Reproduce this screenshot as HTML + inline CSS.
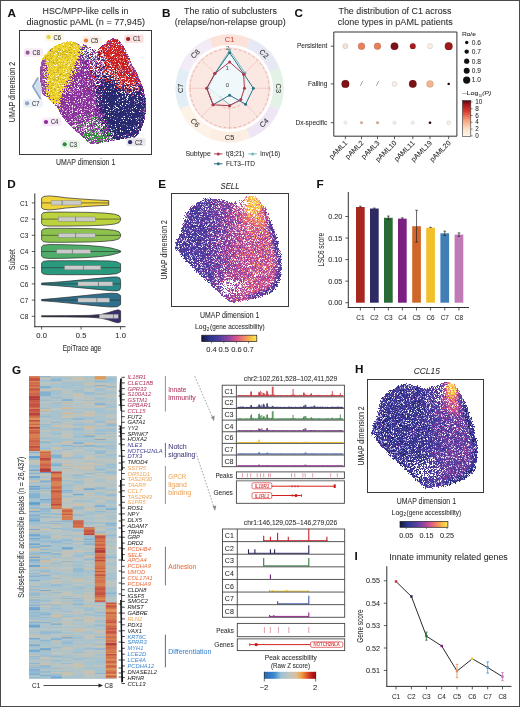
<!DOCTYPE html>
<html><head><meta charset="utf-8"><style>
html,body{margin:0;padding:0;background:#fff;}
svg{display:block;filter:blur(0.3px);}
text{font-family:"Liberation Sans", sans-serif;stroke-width:0.06px;}
.d1{stroke-width:1;stroke-linecap:square;fill:none}
.g3{stroke-width:3;stroke-linecap:square;fill:none}
.g4{stroke-width:4;stroke-linecap:square;fill:none}
.g2{stroke-width:2;stroke-linecap:square;fill:none}
</style></head><body>
<svg width="520" height="707" viewBox="0 0 520 707" fill="#2b2b2b" stroke="none">
<rect width="520" height="707" fill="#fff"/>
<text x="7.50" y="17.10" font-size="11.7" fill="#111" stroke="#111" font-weight="bold">A</text>
<text x="162.00" y="17.10" font-size="11.7" fill="#111" stroke="#111" font-weight="bold">B</text>
<text x="294.50" y="17.10" font-size="11.7" fill="#111" stroke="#111" font-weight="bold">C</text>
<text x="7.30" y="187.80" font-size="11.7" fill="#111" stroke="#111" font-weight="bold">D</text>
<text x="158.20" y="187.80" font-size="11.7" fill="#111" stroke="#111" font-weight="bold">E</text>
<text x="316.40" y="188.00" font-size="11.7" fill="#111" stroke="#111" font-weight="bold">F</text>
<text x="12.00" y="373.60" font-size="11.7" fill="#111" stroke="#111" font-weight="bold">G</text>
<text x="355.00" y="373.20" font-size="11.7" fill="#111" stroke="#111" font-weight="bold">H</text>
<text x="354.60" y="559.50" font-size="11.7" fill="#111" stroke="#111" font-weight="bold">I</text>
<text x="85.50" y="14.40" font-size="8.5" text-anchor="middle" stroke="#2b2b2b" textLength="86" lengthAdjust="spacingAndGlyphs">HSC/MPP-like cells in</text>
<text x="85.80" y="24.60" font-size="8.5" text-anchor="middle" stroke="#2b2b2b" textLength="118.5" lengthAdjust="spacingAndGlyphs">diagnostic pAML (n = 77,945)</text>
<text x="85.60" y="165.20" font-size="8.8" text-anchor="middle" stroke="#2b2b2b" textLength="59.4" lengthAdjust="spacingAndGlyphs">UMAP dimension 1</text>
<text x="14.90" y="92.00" font-size="9.3" text-anchor="middle" stroke="#2b2b2b" textLength="60.3" lengthAdjust="spacingAndGlyphs" transform="rotate(-90 14.90 92.00)">UMAP dimension 2</text>
<path class="d1" stroke="#9236a4" d="M112.5 38.5h0m1 0h0m-1 1h0m5 0h0m-2 1h0m-8 2h0m2 0h0m1 0h0m10 0h0m-13 1h0m1 0h0m9 0h0m-39 1h0m5 0h0m21 0h0m1 0h0m4 0h0m1 0h0m-27 1h0m1 0h0m1 0h0m24 0h0m8 0h0m5 0h0m-20 1h0m1 0h0m18 0h0m-39 1h0m8 0h0m13 0h0m4 0h0m12 0h0m-37 1h0m2 0h0m37 0h0m2 0h0m1 0h0m-43 1h0m5 0h0m-36 1h0m42 0h0m1 0h0m10 0h0m19 0h0m-41 1h0m42 0h0m-45 1h0m1 0h0m12 0h0m1 0h0m2 0h0m3 0h0m28 0h0m-41 1h0m6 0h0m5 0h0m3 0h0m27 0h0m-1 1h0m2 0h0m-46 1h0m6 0h0m13 0h0m-21 1h0m4 0h0m3 0h0m2 0h0m4 0h0m10 0h0m27 0h0m-49 1h0m1 0h0m3 0h0m5 0h0m5 0h0m9 0h0m1 0h0m14 0h0m-37 1h0m1 0h0m46 0h0m-47 1h0m1 0h0m2 0h0m10 0h0m32 0h0m-47 1h0m2 0h0m1 0h0m2 0h0m2 0h0m1 0h0m2 0h0m4 0h0m1 0h0m34 0h0m-84 1h0m33 0h0m4 0h0m2 0h0m1 0h0m1 0h0m4 0h0m3 0h0m-15 1h0m1 0h0m4 0h0m2 0h0m2 0h0m1 0h0m2 0h0m3 0h0m4 0h0m6 0h0m27 0h0m2 0h0m-55 1h0m2 0h0m1 0h0m2 0h0m2 0h0m1 0h0m3 0h0m3 0h0m1 0h0m5 0h0m3 0h0m2 0h0m11 0h0m17 0h0m-52 1h0m1 0h0m3 0h0m1 0h0m2 0h0m2 0h0m3 0h0m3 0h0m5 0h0m34 0h0m-87 1h0m1 0h0m2 0h0m28 0h0m2 0h0m2 0h0m3 0h0m2 0h0m3 0h0m1 0h0m1 0h0m43 0h0m-85 1h0m29 0h0m5 0h0m3 0h0m1 0h0m4 0h0m3 0h0m-45 1h0m29 0h0m1 0h0m1 0h0m1 0h0m1 0h0m1 0h0m1 0h0m2 0h0m1 0h0m1 0h0m1 0h0m2 0h0m1 0h0m1 0h0m2 0h0m41 0h0m-58 1h0m2 0h0m5 0h0m2 0h0m7 0h0m42 0h0m-57 1h0m1 0h0m6 0h0m3 0h0m2 0h0m1 0h0m43 0h0m-89 1h0m4 0h0m27 0h0m7 0h0m1 0h0m1 0h0m4 0h0m2 0h0m9 0h0m35 0h0m2 0h0m-63 1h0m4 0h0m1 0h0m3 0h0m2 0h0m1 0h0m2 0h0m1 0h0m2 0h0m1 0h0m4 0h0m3 0h0m38 0h0m1 0h0m-62 1h0m4 0h0m3 0h0m2 0h0m2 0h0m1 0h0m1 0h0m1 0h0m7 0h0m34 0h0m4 0h0m-92 1h0m36 0h0m1 0h0m1 0h0m1 0h0m1 0h0m1 0h0m1 0h0m3 0h0m2 0h0m2 0h0m2 0h0m40 0h0m3 0h0m1 0h0m-65 1h0m3 0h0m1 0h0m2 0h0m1 0h0m1 0h0m1 0h0m1 0h0m1 0h0m2 0h0m2 0h0m3 0h0m1 0h0m1 0h0m1 0h0m2 0h0m39 0h0m4 0h0m1 0h0m-92 1h0m27 0h0m1 0h0m1 0h0m1 0h0m1 0h0m1 0h0m1 0h0m1 0h0m1 0h0m2 0h0m4 0h0m2 0h0m1 0h0m1 0h0m1 0h0m2 0h0m3 0h0m3 0h0m38 0h0m-67 1h0m1 0h0m2 0h0m1 0h0m1 0h0m1 0h0m1 0h0m1 0h0m1 0h0m1 0h0m3 0h0m5 0h0m1 0h0m2 0h0m2 0h0m-24 1h0m3 0h0m3 0h0m1 0h0m3 0h0m3 0h0m1 0h0m1 0h0m3 0h0m2 0h0m3 0h0m40 0h0m-87 1h0m25 0h0m6 0h0m2 0h0m1 0h0m1 0h0m3 0h0m1 0h0m3 0h0m1 0h0m2 0h0m4 0h0m44 0h0m-98 1h0m32 0h0m2 0h0m2 0h0m1 0h0m4 0h0m3 0h0m1 0h0m9 0h0m3 0h0m6 0h0m33 0h0m2 0h0m1 0h0m-71 1h0m1 0h0m1 0h0m1 0h0m4 0h0m4 0h0m1 0h0m1 0h0m1 0h0m1 0h0m3 0h0m4 0h0m2 0h0m1 0h0m2 0h0m4 0h0m3 0h0m5 0h0m-67 1h0m26 0h0m1 0h0m5 0h0m1 0h0m1 0h0m5 0h0m1 0h0m4 0h0m2 0h0m3 0h0m2 0h0m3 0h0m4 0h0m4 0h0m1 0h0m33 0h0m-93 1h0m3 0h0m21 0h0m2 0h0m1 0h0m1 0h0m5 0h0m2 0h0m1 0h0m1 0h0m1 0h0m2 0h0m1 0h0m2 0h0m1 0h0m2 0h0m1 0h0m2 0h0m1 0h0m3 0h0m-55 1h0m30 0h0m3 0h0m2 0h0m1 0h0m1 0h0m2 0h0m1 0h0m1 0h0m2 0h0m1 0h0m1 0h0m2 0h0m5 0h0m-47 1h0m18 0h0m8 0h0m4 0h0m1 0h0m6 0h0m1 0h0m1 0h0m1 0h0m3 0h0m5 0h0m8 0h0m34 0h0m4 0h0m1 0h0m-98 1h0m23 0h0m1 0h0m1 0h0m1 0h0m1 0h0m1 0h0m2 0h0m4 0h0m1 0h0m3 0h0m3 0h0m2 0h0m6 0h0m8 0h0m40 0h0m-93 1h0m17 0h0m2 0h0m1 0h0m5 0h0m1 0h0m2 0h0m1 0h0m2 0h0m2 0h0m1 0h0m1 0h0m3 0h0m2 0h0m2 0h0m3 0h0m1 0h0m43 0h0m6 0h0m-75 1h0m4 0h0m2 0h0m1 0h0m3 0h0m4 0h0m2 0h0m2 0h0m4 0h0m1 0h0m1 0h0m3 0h0m2 0h0m-30 1h0m4 0h0m1 0h0m1 0h0m3 0h0m4 0h0m4 0h0m1 0h0m1 0h0m1 0h0m1 0h0m2 0h0m5 0h0m3 0h0m42 0h0m-77 1h0m6 0h0m3 0h0m1 0h0m2 0h0m1 0h0m1 0h0m1 0h0m1 0h0m2 0h0m3 0h0m3 0h0m2 0h0m2 0h0m1 0h0m2 0h0m42 0h0m4 0h0m3 0h0m1 0h0m-95 1h0m16 0h0m6 0h0m1 0h0m1 0h0m1 0h0m2 0h0m1 0h0m2 0h0m2 0h0m2 0h0m1 0h0m1 0h0m1 0h0m2 0h0m3 0h0m2 0h0m1 0h0m3 0h0m46 0h0m-99 1h0m1 0h0m20 0h0m1 0h0m2 0h0m1 0h0m4 0h0m2 0h0m2 0h0m2 0h0m4 0h0m2 0h0m1 0h0m1 0h0m1 0h0m1 0h0m2 0h0m9 0h0m-54 1h0m19 0h0m2 0h0m2 0h0m3 0h0m2 0h0m2 0h0m1 0h0m1 0h0m1 0h0m1 0h0m1 0h0m3 0h0m1 0h0m1 0h0m2 0h0m1 0h0m1 0h0m2 0h0m2 0h0m1 0h0m1 0h0m5 0h0m43 0h0m-96 1h0m15 0h0m5 0h0m1 0h0m4 0h0m3 0h0m3 0h0m2 0h0m2 0h0m1 0h0m2 0h0m1 0h0m1 0h0m1 0h0m1 0h0m1 0h0m3 0h0m1 0h0m3 0h0m-53 1h0m3 0h0m16 0h0m1 0h0m6 0h0m6 0h0m2 0h0m2 0h0m3 0h0m2 0h0m1 0h0m1 0h0m1 0h0m1 0h0m3 0h0m2 0h0m3 0h0m1 0h0m42 0h0m2 0h0m2 0h0m-99 1h0m17 0h0m1 0h0m2 0h0m2 0h0m1 0h0m1 0h0m1 0h0m2 0h0m1 0h0m1 0h0m3 0h0m1 0h0m1 0h0m2 0h0m2 0h0m4 0h0m3 0h0m1 0h0m1 0h0m5 0h0m1 0h0m40 0h0m6 0h0m-97 1h0m1 0h0m16 0h0m1 0h0m1 0h0m1 0h0m3 0h0m2 0h0m5 0h0m1 0h0m5 0h0m2 0h0m4 0h0m1 0h0m1 0h0m1 0h0m1 0h0m2 0h0m2 0h0m-48 1h0m12 0h0m3 0h0m1 0h0m1 0h0m1 0h0m2 0h0m1 0h0m1 0h0m1 0h0m1 0h0m1 0h0m1 0h0m1 0h0m2 0h0m1 0h0m1 0h0m2 0h0m1 0h0m1 0h0m2 0h0m1 0h0m1 0h0m2 0h0m1 0h0m-31 1h0m2 0h0m1 0h0m1 0h0m2 0h0m1 0h0m4 0h0m1 0h0m1 0h0m1 0h0m2 0h0m2 0h0m1 0h0m1 0h0m1 0h0m1 0h0m4 0h0m1 0h0m1 0h0m1 0h0m1 0h0m5 0h0m2 0h0m1 0h0m44 0h0m-83 1h0m5 0h0m2 0h0m3 0h0m2 0h0m1 0h0m2 0h0m2 0h0m3 0h0m2 0h0m1 0h0m1 0h0m1 0h0m2 0h0m2 0h0m1 0h0m3 0h0m1 0h0m52 0h0m-89 1h0m4 0h0m1 0h0m1 0h0m2 0h0m1 0h0m2 0h0m1 0h0m2 0h0m1 0h0m1 0h0m1 0h0m3 0h0m2 0h0m3 0h0m1 0h0m2 0h0m1 0h0m2 0h0m1 0h0m1 0h0m1 0h0m2 0h0m3 0h0m4 0h0m-39 1h0m3 0h0m1 0h0m4 0h0m2 0h0m1 0h0m1 0h0m4 0h0m1 0h0m1 0h0m1 0h0m3 0h0m1 0h0m1 0h0m1 0h0m3 0h0m2 0h0m4 0h0m1 0h0m2 0h0m2 0h0m1 0h0m-47 1h0m8 0h0m1 0h0m3 0h0m1 0h0m1 0h0m1 0h0m4 0h0m1 0h0m3 0h0m1 0h0m2 0h0m2 0h0m3 0h0m1 0h0m1 0h0m4 0h0m1 0h0m3 0h0m1 0h0m5 0h0m34 0h0m7 0h0m-88 1h0m3 0h0m4 0h0m3 0h0m1 0h0m1 0h0m3 0h0m1 0h0m2 0h0m1 0h0m1 0h0m4 0h0m1 0h0m3 0h0m3 0h0m6 0h0m1 0h0m1 0h0m2 0h0m1 0h0m1 0h0m1 0h0m6 0h0m39 0h0m2 0h0m-83 1h0m1 0h0m1 0h0m1 0h0m1 0h0m1 0h0m1 0h0m2 0h0m3 0h0m1 0h0m1 0h0m1 0h0m1 0h0m1 0h0m1 0h0m1 0h0m1 0h0m2 0h0m1 0h0m2 0h0m2 0h0m1 0h0m1 0h0m4 0h0m2 0h0m8 0h0m-48 1h0m1 0h0m4 0h0m1 0h0m2 0h0m1 0h0m1 0h0m1 0h0m2 0h0m2 0h0m1 0h0m3 0h0m4 0h0m2 0h0m4 0h0m2 0h0m1 0h0m3 0h0m1 0h0m16 0h0m38 0h0m-84 1h0m1 0h0m3 0h0m1 0h0m1 0h0m1 0h0m2 0h0m3 0h0m4 0h0m1 0h0m2 0h0m2 0h0m3 0h0m1 0h0m1 0h0m3 0h0m1 0h0m3 0h0m4 0h0m5 0h0m40 0h0m2 0h0m-88 1h0m2 0h0m2 0h0m1 0h0m1 0h0m1 0h0m3 0h0m2 0h0m1 0h0m1 0h0m4 0h0m1 0h0m1 0h0m1 0h0m3 0h0m1 0h0m3 0h0m5 0h0m2 0h0m1 0h0m1 0h0m2 0h0m1 0h0m3 0h0m-42 1h0m2 0h0m1 0h0m2 0h0m1 0h0m1 0h0m2 0h0m1 0h0m2 0h0m1 0h0m3 0h0m2 0h0m1 0h0m2 0h0m2 0h0m1 0h0m4 0h0m4 0h0m1 0h0m3 0h0m2 0h0m6 0h0m43 0h0m-86 1h0m2 0h0m3 0h0m2 0h0m2 0h0m2 0h0m4 0h0m1 0h0m1 0h0m2 0h0m1 0h0m4 0h0m5 0h0m1 0h0m1 0h0m2 0h0m2 0h0m2 0h0m47 0h0m-83 1h0m1 0h0m1 0h0m2 0h0m1 0h0m8 0h0m1 0h0m1 0h0m1 0h0m2 0h0m3 0h0m1 0h0m1 0h0m1 0h0m1 0h0m1 0h0m1 0h0m1 0h0m4 0h0m2 0h0m1 0h0m7 0h0m43 0h0m-86 1h0m1 0h0m1 0h0m3 0h0m3 0h0m4 0h0m3 0h0m4 0h0m1 0h0m1 0h0m3 0h0m2 0h0m2 0h0m2 0h0m4 0h0m1 0h0m1 0h0m1 0h0m3 0h0m41 0h0m4 0h0m-84 1h0m2 0h0m3 0h0m1 0h0m1 0h0m2 0h0m1 0h0m3 0h0m6 0h0m1 0h0m5 0h0m1 0h0m3 0h0m4 0h0m3 0h0m5 0h0m40 0h0m-81 1h0m3 0h0m2 0h0m2 0h0m1 0h0m1 0h0m3 0h0m2 0h0m1 0h0m2 0h0m1 0h0m2 0h0m1 0h0m1 0h0m1 0h0m1 0h0m1 0h0m2 0h0m2 0h0m1 0h0m3 0h0m1 0h0m1 0h0m2 0h0m1 0h0m1 0h0m6 0h0m38 0h0m-82 1h0m2 0h0m2 0h0m2 0h0m1 0h0m2 0h0m1 0h0m1 0h0m1 0h0m1 0h0m1 0h0m1 0h0m1 0h0m1 0h0m3 0h0m3 0h0m4 0h0m3 0h0m2 0h0m2 0h0m1 0h0m1 0h0m1 0h0m2 0h0m1 0h0m1 0h0m38 0h0m-77 1h0m3 0h0m1 0h0m4 0h0m1 0h0m1 0h0m1 0h0m1 0h0m1 0h0m3 0h0m2 0h0m1 0h0m3 0h0m1 0h0m1 0h0m2 0h0m1 0h0m1 0h0m1 0h0m1 0h0m4 0h0m1 0h0m4 0h0m2 0h0m-41 1h0m1 0h0m2 0h0m1 0h0m1 0h0m1 0h0m1 0h0m4 0h0m3 0h0m2 0h0m3 0h0m5 0h0m2 0h0m1 0h0m1 0h0m2 0h0m2 0h0m3 0h0m1 0h0m1 0h0m2 0h0m1 0h0m38 0h0m3 0h0m-81 1h0m1 0h0m1 0h0m2 0h0m3 0h0m1 0h0m1 0h0m1 0h0m4 0h0m1 0h0m2 0h0m2 0h0m2 0h0m2 0h0m1 0h0m2 0h0m8 0h0m1 0h0m3 0h0m40 0h0m3 0h0m-80 1h0m2 0h0m1 0h0m1 0h0m1 0h0m1 0h0m2 0h0m1 0h0m2 0h0m1 0h0m2 0h0m1 0h0m2 0h0m1 0h0m5 0h0m1 0h0m3 0h0m2 0h0m3 0h0m4 0h0m-35 1h0m1 0h0m1 0h0m1 0h0m1 0h0m1 0h0m5 0h0m1 0h0m2 0h0m3 0h0m1 0h0m1 0h0m2 0h0m1 0h0m1 0h0m1 0h0m2 0h0m1 0h0m4 0h0m2 0h0m2 0h0m4 0h0m41 0h0m-79 1h0m2 0h0m2 0h0m2 0h0m3 0h0m2 0h0m1 0h0m2 0h0m1 0h0m4 0h0m2 0h0m1 0h0m1 0h0m3 0h0m8 0h0m3 0h0m2 0h0m-38 1h0m5 0h0m1 0h0m6 0h0m2 0h0m1 0h0m5 0h0m3 0h0m6 0h0m2 0h0m2 0h0m7 0h0m1 0h0m-37 1h0m1 0h0m2 0h0m2 0h0m1 0h0m1 0h0m3 0h0m1 0h0m1 0h0m3 0h0m6 0h0m9 0h0m2 0h0m4 0h0m34 0h0m-72 1h0m1 0h0m1 0h0m2 0h0m1 0h0m1 0h0m2 0h0m1 0h0m1 0h0m1 0h0m1 0h0m2 0h0m7 0h0m2 0h0m4 0h0m46 0h0m-72 1h0m1 0h0m1 0h0m1 0h0m4 0h0m5 0h0m9 0h0m4 0h0m1 0h0m7 0h0m7 0h0m-39 1h0m7 0h0m2 0h0m3 0h0m3 0h0m4 0h0m1 0h0m2 0h0m1 0h0m6 0h0m3 0h0m5 0h0m30 0h0m4 0h0m1 0h0m-66 1h0m1 0h0m10 0h0m1 0h0m4 0h0m2 0h0m-22 1h0m1 0h0m4 0h0m2 0h0m2 0h0m1 0h0m8 0h0m2 0h0m7 0h0m5 0h0m37 0h0m-64 1h0m13 0h0m2 0h0m3 0h0m1 0h0m2 0h0m8 0h0m2 0h0m1 0h0m28 0h0m3 0h0m-62 1h0m2 0h0m4 0h0m3 0h0m3 0h0m3 0h0m2 0h0m1 0h0m7 0h0m2 0h0m1 0h0m31 0h0m-62 1h0m1 0h0m1 0h0m3 0h0m5 0h0m3 0h0m3 0h0m2 0h0m11 0h0m32 0h0m-60 1h0m2 0h0m2 0h0m12 0h0m1 0h0m1 0h0m6 0h0m1 0h0m4 0h0m2 0h0m1 0h0m-30 1h0m8 0h0m19 0h0m1 0h0m32 0h0m-58 1h0m1 0h0m4 0h0m14 0h0m3 0h0m31 0h0m3 0h0m-56 1h0m1 0h0m11 0h0m9 0h0m4 0h0m21 0h0m1 0h0m-46 1h0m1 0h0m13 0h0m9 0h0m28 0h0m-49 1h0m3 0h0m3 0h0m17 0h0m2 0h0m10 0h0m5 0h0m12 0h0m-48 1h0m9 0h0m-2 1h0m7 0h0m7 0h0m3 0h0m14 0h0m-20 1h0m4 0h0m2 0h0m1 0h0m16 0h0m-40 1h0m1 0h0m2 0h0m3 0h0m1 0h0m1 0h0m3 0h0m1 0h0m4 0h0m9 0h0m-22 1h0m1 0h0m1 0h0m2 0h0m-3 1h0m2 0h0m4 0h0m1 0h0m1 0h0m-10 1h0m1 0h0m1 0h0m1 0h0m3 0h0"/>
<path class="d1" stroke="#c390cd" d="M110.5 39.5h0m-1 1h0m-1 2h0m9 0h0m3 1h0m-34 2h0m19 0h0m-25 1h0m1 1h0m20 1h0m-11 3h0m35 0h0m-32 1h0m2 0h0m-12 3h0m-2 1h0m3 0h0m14 1h0m-14 1h0m9 0h0m34 1h0m-43 1h0m5 0h0m2 0h0m-10 1h0m11 0h0m-16 2h0m5 0h0m6 0h0m1 0h0m-4 1h0m18 0h0m-25 1h0m3 0h0m4 0h0m1 0h0m7 0h0m-1 2h0m3 0h0m37 0h0m-87 1h0m35 0h0m9 0h0m43 0h0m-84 1h0m28 0h0m3 0h0m2 0h0m2 0h0m2 0h0m50 0h0m-57 1h0m9 0h0m7 0h0m4 0h0m6 0h0m29 0h0m-53 1h0m5 0h0m8 0h0m-17 1h0m4 0h0m52 0h0m-47 1h0m2 0h0m-40 1h0m36 0h0m2 0h0m-44 1h0m95 0h0m1 1h0m2 0h0m-53 1h0m6 0h0m42 0h0m5 0h0m-63 1h0m6 0h0m-2 1h0m1 0h0m3 0h0m4 0h0m1 0h0m-4 1h0m5 0h0m-12 1h0m1 0h0m4 0h0m3 0h0m7 0h0m-52 1h0m2 0h0m30 0h0m10 0h0m6 0h0m12 0h0m40 0h0m-72 1h0m7 0h0m8 0h0m4 0h0m3 0h0m2 0h0m43 0h0m-88 1h0m21 0h0m3 0h0m3 0h0m5 0h0m3 0h0m10 0h0m3 0h0m-10 1h0m3 0h0m1 0h0m-15 1h0m5 0h0m-7 1h0m12 0h0m2 0h0m11 0h0m-33 1h0m9 0h0m1 0h0m2 0h0m5 0h0m9 0h0m2 0h0m-22 1h0m11 0h0m-7 1h0m5 0h0m2 0h0m57 0h0m-68 1h0m1 0h0m2 0h0m2 0h0m6 0h0m14 0h0m-32 1h0m9 0h0m14 0h0m6 0h0m-21 1h0m6 0h0m2 0h0m12 0h0m-20 1h0m4 0h0m2 0h0m2 0h0m3 0h0m11 0h0m-32 1h0m21 0h0m3 0h0m4 0h0m-21 1h0m5 0h0m1 0h0m1 0h0m1 0h0m6 0h0m5 0h0m7 0h0m-5 1h0m5 0h0m2 0h0m47 0h0m-74 1h0m6 0h0m19 0h0m-9 1h0m9 0h0m1 0h0m-32 1h0m6 0h0m11 0h0m-15 1h0m2 0h0m6 0h0m16 0h0m3 0h0m1 0h0m48 0h0m-67 1h0m6 0h0m2 0h0m6 0h0m5 0h0m-23 1h0m5 0h0m1 0h0m6 0h0m3 0h0m3 0h0m1 0h0m13 0h0m-44 1h0m12 0h0m11 0h0m9 0h0m4 0h0m-36 1h0m4 0h0m15 0h0m5 0h0m11 0h0m2 0h0m-36 1h0m5 0h0m7 0h0m3 0h0m1 0h0m4 0h0m2 0h0m3 0h0m5 0h0m3 0h0m3 0h0m-29 1h0m6 0h0m-3 1h0m3 0h0m6 0h0m2 0h0m4 0h0m5 0h0m4 0h0m5 0h0m5 0h0m-43 1h0m2 0h0m1 0h0m4 0h0m2 0h0m3 0h0m12 0h0m1 0h0m1 0h0m1 0h0m-24 1h0m3 0h0m4 0h0m1 0h0m6 0h0m14 0h0m2 0h0m-31 1h0m4 0h0m6 0h0m5 0h0m7 0h0m6 0h0m8 0h0m-37 1h0m16 0h0m5 0h0m1 0h0m11 0h0m51 0h0m-79 1h0m5 0h0m-2 1h0m10 0h0m4 0h0m4 0h0m3 0h0m2 0h0m7 0h0m-37 1h0m3 0h0m3 0h0m2 0h0m18 0h0m6 0h0m-23 1h0m4 0h0m1 0h0m16 0h0m2 0h0m3 0h0m-28 1h0m5 0h0m2 0h0m3 0h0m4 0h0m10 0h0m-28 1h0m12 0h0m3 0h0m3 0h0m2 0h0m17 0h0m-28 1h0m18 0h0m1 0h0m8 0h0m-29 1h0m9 0h0m1 0h0m15 0h0m1 0h0m-29 1h0m4 0h0m4 0h0m21 0h0m5 0h0m-36 1h0m1 0h0m1 0h0m30 0h0m-13 1h0m6 0h0m5 0h0m-8 1h0m17 0h0m-34 1h0m12 0h0m4 0h0m13 0h0m-30 1h0m2 0h0m1 0h0m10 0h0m13 0h0m40 0h0m-61 1h0m12 0h0m6 0h0m6 0h0m-21 1h0m2 1h0m2 0h0m19 0h0m-15 1h0m52 0h0m-62 1h0m13 0h0m9 0h0m-22 1h0m10 0h0m7 0h0m1 0h0m5 0h0m30 0h0m-51 1h0m11 0h0m8 0h0m-15 1h0m0 1h0m27 1h0m-20 1h0m8 0h0m-7 1h0m2 0h0m35 0h0m2 0h0m-35 1h0m5 0h0m6 0h0m-16 1h0m13 0h0m9 0h0m2 0h0m-26 1h0m18 0h0m-10 1h0"/>
<path class="d1" stroke="#b41f1f" d="M111.5 39.5h0m2 0h0m-5 1h0m6 0h0m2 0h0m1 0h0m-2 1h0m1 0h0m1 0h0m2 2h0m-13 1h0m1 0h0m-4 1h0m3 0h0m5 0h0m1 0h0m-11 1h0m5 0h0m8 0h0m-14 2h0m6 0h0m6 0h0m4 0h0m6 0h0m-24 1h0m14 0h0m-7 1h0m4 0h0m10 0h0m-21 1h0m5 0h0m6 0h0m3 0h0m1 0h0m2 0h0m2 0h0m4 0h0m-23 1h0m6 0h0m7 0h0m8 0h0m1 0h0m3 0h0m-19 1h0m13 0h0m3 0h0m4 0h0m-17 1h0m8 0h0m1 0h0m2 0h0m1 0h0m4 0h0m2 0h0m-20 1h0m8 0h0m2 0h0m4 0h0m1 0h0m4 0h0m1 0h0m-3 1h0m-21 1h0m9 0h0m1 0h0m-14 1h0m12 0h0m2 0h0m1 0h0m4 0h0m5 0h0m8 0h0m-32 1h0m6 0h0m17 0h0m2 0h0m-15 1h0m4 0h0m2 0h0m5 0h0m7 0h0m-11 1h0m3 0h0m4 0h0m4 0h0m1 0h0m-29 1h0m10 0h0m9 0h0m1 0h0m2 0h0m7 0h0m-18 1h0m5 0h0m3 0h0m6 0h0m1 0h0m2 0h0m2 0h0m-29 1h0m7 0h0m6 0h0m2 0h0m4 0h0m5 0h0m1 0h0m4 0h0m-15 1h0m2 0h0m1 0h0m1 0h0m2 0h0m9 0h0m-17 1h0m5 0h0m8 0h0m2 0h0m3 0h0m-24 1h0m6 0h0m1 0h0m1 0h0m5 0h0m2 0h0m4 0h0m1 0h0m-18 1h0m9 0h0m2 0h0m1 0h0m4 0h0m2 0h0m2 0h0m1 0h0m2 0h0m-31 1h0m21 0h0m4 0h0m2 0h0m2 0h0m-12 1h0m6 0h0m-17 1h0m13 0h0m2 0h0m4 0h0m2 0h0m1 0h0m1 0h0m3 0h0m3 0h0m-26 1h0m6 0h0m3 0h0m4 0h0m4 0h0m9 0h0m-38 1h0m15 0h0m3 0h0m7 0h0m1 0h0m2 0h0m3 0h0m1 0h0m-6 1h0m3 0h0m1 0h0m2 0h0m4 0h0m2 0h0m-20 1h0m5 0h0m3 0h0m11 0h0m4 0h0m-27 1h0m3 0h0m14 0h0m6 0h0m-13 1h0m3 0h0m9 0h0m-4 1h0m9 0h0m-46 1h0m19 0h0m14 0h0m7 0h0m5 0h0m-39 1h0m14 0h0m6 0h0m3 0h0m3 0h0m2 0h0m1 0h0m4 0h0m9 0h0m-15 1h0m8 0h0m4 0h0m-11 1h0m4 0h0m6 0h0m2 0h0m-33 1h0m23 0h0m-25 1h0m21 0h0m5 0h0m3 0h0m-7 1h0m8 1h0m-5 1h0m13 0h0m-51 1h0m32 0h0m14 0h0m-10 1h0m7 0h0m2 0h0m-8 1h0"/>
<path class="d1" stroke="#d42525" d="M114.5 39.5h0m1 0h0m-3 1h0m1 0h0m-6 1h0m1 0h0m1 0h0m1 0h0m1 0h0m1 0h0m1 0h0m1 0h0m-3 1h0m3 0h0m2 0h0m2 0h0m-9 1h0m1 0h0m1 0h0m1 0h0m1 0h0m2 0h0m3 0h0m-10 1h0m5 0h0m1 0h0m1 0h0m2 0h0m-13 1h0m3 0h0m3 0h0m4 0h0m1 0h0m1 0h0m2 0h0m1 0h0m-14 1h0m3 0h0m3 0h0m1 0h0m1 0h0m2 0h0m2 0h0m1 0h0m1 0h0m1 0h0m2 0h0m-22 1h0m1 0h0m1 0h0m2 0h0m5 0h0m1 0h0m1 0h0m2 0h0m1 0h0m1 0h0m1 0h0m1 0h0m1 0h0m2 0h0m3 0h0m-21 1h0m2 0h0m1 0h0m4 0h0m1 0h0m4 0h0m4 0h0m1 0h0m1 0h0m-18 1h0m1 0h0m2 0h0m1 0h0m2 0h0m2 0h0m1 0h0m3 0h0m1 0h0m1 0h0m1 0h0m1 0h0m1 0h0m3 0h0m1 0h0m1 0h0m-20 1h0m3 0h0m1 0h0m2 0h0m1 0h0m2 0h0m1 0h0m1 0h0m1 0h0m1 0h0m1 0h0m3 0h0m2 0h0m2 0h0m-32 1h0m6 0h0m5 0h0m3 0h0m1 0h0m2 0h0m8 0h0m2 0h0m2 0h0m-22 1h0m5 0h0m1 0h0m1 0h0m1 0h0m2 0h0m2 0h0m2 0h0m1 0h0m2 0h0m1 0h0m3 0h0m1 0h0m2 0h0m-25 1h0m1 0h0m1 0h0m4 0h0m1 0h0m1 0h0m1 0h0m1 0h0m1 0h0m1 0h0m1 0h0m1 0h0m1 0h0m1 0h0m1 0h0m2 0h0m4 0h0m-32 1h0m10 0h0m4 0h0m2 0h0m2 0h0m1 0h0m2 0h0m6 0h0m4 0h0m6 0h0m-30 1h0m1 0h0m8 0h0m1 0h0m1 0h0m1 0h0m5 0h0m2 0h0m1 0h0m1 0h0m3 0h0m1 0h0m1 0h0m3 0h0m-31 1h0m2 0h0m3 0h0m2 0h0m4 0h0m1 0h0m1 0h0m1 0h0m1 0h0m2 0h0m1 0h0m1 0h0m1 0h0m1 0h0m2 0h0m1 0h0m2 0h0m3 0h0m1 0h0m2 0h0m-37 1h0m5 0h0m4 0h0m7 0h0m2 0h0m4 0h0m1 0h0m2 0h0m3 0h0m4 0h0m2 0h0m2 0h0m1 0h0m-22 1h0m1 0h0m2 0h0m2 0h0m3 0h0m1 0h0m1 0h0m3 0h0m1 0h0m1 0h0m2 0h0m2 0h0m1 0h0m1 0h0m-17 1h0m2 0h0m2 0h0m1 0h0m1 0h0m1 0h0m2 0h0m1 0h0m2 0h0m2 0h0m1 0h0m4 0h0m1 0h0m-31 1h0m8 0h0m2 0h0m2 0h0m2 0h0m3 0h0m1 0h0m1 0h0m4 0h0m1 0h0m2 0h0m2 0h0m-30 1h0m9 0h0m3 0h0m2 0h0m1 0h0m1 0h0m4 0h0m2 0h0m1 0h0m4 0h0m1 0h0m4 0h0m2 0h0m-40 1h0m14 0h0m1 0h0m1 0h0m3 0h0m2 0h0m1 0h0m1 0h0m1 0h0m1 0h0m3 0h0m2 0h0m1 0h0m1 0h0m1 0h0m2 0h0m2 0h0m-36 1h0m6 0h0m2 0h0m5 0h0m8 0h0m2 0h0m1 0h0m2 0h0m2 0h0m1 0h0m1 0h0m3 0h0m-18 1h0m2 0h0m1 0h0m7 0h0m2 0h0m2 0h0m4 0h0m1 0h0m1 0h0m5 0h0m-25 1h0m1 0h0m1 0h0m5 0h0m4 0h0m4 0h0m1 0h0m1 0h0m-33 1h0m3 0h0m7 0h0m5 0h0m2 0h0m2 0h0m3 0h0m4 0h0m1 0h0m2 0h0m2 0h0m1 0h0m2 0h0m2 0h0m1 0h0m2 0h0m-33 1h0m10 0h0m1 0h0m1 0h0m1 0h0m5 0h0m1 0h0m1 0h0m5 0h0m1 0h0m3 0h0m1 0h0m2 0h0m1 0h0m-40 1h0m1 0h0m2 0h0m4 0h0m18 0h0m6 0h0m3 0h0m5 0h0m-19 1h0m1 0h0m2 0h0m1 0h0m1 0h0m4 0h0m6 0h0m5 0h0m1 0h0m3 0h0m-43 1h0m14 0h0m2 0h0m5 0h0m9 0h0m4 0h0m2 0h0m1 0h0m2 0h0m1 0h0m1 0h0m-25 1h0m1 0h0m4 0h0m4 0h0m6 0h0m7 0h0m1 0h0m2 0h0m-34 1h0m5 0h0m1 0h0m8 0h0m6 0h0m2 0h0m2 0h0m4 0h0m1 0h0m1 0h0m2 0h0m5 0h0m-44 1h0m27 0h0m1 0h0m6 0h0m4 0h0m1 0h0m3 0h0m4 0h0m-37 1h0m9 0h0m3 0h0m1 0h0m2 0h0m3 0h0m1 0h0m1 0h0m1 0h0m3 0h0m6 0h0m1 0h0m4 0h0m-37 1h0m8 0h0m4 0h0m6 0h0m1 0h0m3 0h0m1 0h0m2 0h0m1 0h0m1 0h0m1 0h0m5 0h0m1 0h0m2 0h0m1 0h0m-42 1h0m2 0h0m13 0h0m12 0h0m2 0h0m2 0h0m4 0h0m4 0h0m2 0h0m1 0h0m1 0h0m-41 1h0m15 0h0m1 0h0m6 0h0m4 0h0m1 0h0m2 0h0m1 0h0m2 0h0m1 0h0m1 0h0m1 0h0m1 0h0m5 0h0m2 0h0m-44 1h0m4 0h0m3 0h0m6 0h0m11 0h0m3 0h0m6 0h0m4 0h0m1 0h0m1 0h0m1 0h0m1 0h0m3 0h0m-51 1h0m5 0h0m15 0h0m9 0h0m3 0h0m4 0h0m2 0h0m2 0h0m5 0h0m3 0h0m3 0h0m-29 1h0m1 0h0m17 0h0m1 0h0m3 0h0m1 0h0m1 0h0m1 0h0m1 0h0m1 0h0m1 0h0m-30 1h0m7 0h0m7 0h0m4 0h0m2 0h0m2 0h0m2 0h0m2 0h0m1 0h0m4 0h0m1 0h0m1 0h0m-29 1h0m9 0h0m1 0h0m3 0h0m7 0h0m7 0h0m-18 1h0m3 0h0m3 0h0m5 0h0m1 0h0m1 0h0m8 0h0m-24 1h0m10 0h0m3 0h0m2 0h0m4 0h0m3 0h0m1 0h0m-44 1h0m21 0h0m10 0h0m4 0h0m2 0h0m5 0h0m4 0h0m-43 1h0m22 0h0m5 0h0m2 0h0m-9 1h0m15 0h0m1 0h0m-18 1h0m12 0h0m2 0h0m3 0h0m2 0h0m7 0h0m-38 1h0m27 1h0m-1 1h0"/>
<path class="d1" stroke="#e78787" d="M116.5 39.5h0m2 1h0m-12 2h0m7 0h0m-7 1h0m8 0h0m-3 1h0m1 0h0m7 0h0m1 0h0m-7 1h0m-9 1h0m3 0h0m-1 1h0m6 0h0m9 0h0m-14 1h0m1 0h0m3 0h0m-7 1h0m5 0h0m4 0h0m8 0h0m-15 1h0m14 0h0m-9 1h0m3 0h0m2 0h0m3 0h0m-17 1h0m7 0h0m4 0h0m3 0h0m10 0h0m-32 1h0m8 0h0m1 0h0m16 0h0m2 0h0m2 0h0m-18 1h0m5 0h0m4 0h0m6 0h0m2 0h0m-12 1h0m1 0h0m16 0h0m-16 1h0m6 0h0m3 0h0m-29 1h0m16 0h0m2 0h0m5 0h0m5 0h0m1 0h0m1 0h0m4 0h0m-18 1h0m10 0h0m6 0h0m-11 1h0m5 0h0m9 0h0m-12 1h0m5 0h0m1 0h0m3 0h0m6 0h0m-16 1h0m7 0h0m2 0h0m5 0h0m2 0h0m0 1h0m-22 1h0m19 0h0m5 0h0m-24 1h0m3 0h0m4 0h0m1 0h0m6 0h0m7 0h0m-9 1h0m1 0h0m4 0h0m2 0h0m3 0h0m-28 1h0m5 0h0m12 0h0m2 0h0m10 0h0m1 0h0m-36 1h0m23 0h0m2 0h0m10 0h0m-30 1h0m19 0h0m2 0h0m4 0h0m7 0h0m2 0h0m-14 1h0m8 0h0m3 0h0m-14 1h0m1 0h0m1 0h0m3 0h0m1 0h0m5 0h0m-8 1h0m12 0h0m-28 1h0m6 0h0m8 0h0m5 0h0m12 0h0m-16 1h0m6 0h0m5 0h0m-38 1h0m11 0h0m32 0h0m-34 1h0m25 0h0m-11 1h0m9 0h0m1 0h0m0 1h0m0 1h0m10 0h0m-2 1h0m4 1h0m-6 2h0m8 0h0m-19 1h0m13 0h0m1 0h0m-14 1h0m17 0h0m-41 1h0m24 0h0m9 0h0m-8 1h0m7 0h0m-35 1h0m27 0h0m9 1h0m9 0h0m-6 2h0m-41 1h0m42 2h0"/>
<path class="d1" stroke="#7c2e8b" d="M110.5 40.5h0m9 1h0m0 1h0m-3 1h0m5 1h0m-19 1h0m18 0h0m-34 1h0m24 0h0m13 0h0m-40 1h0m25 0h0m14 0h0m-2 2h0m-34 2h0m-4 1h0m-1 1h0m4 1h0m-6 2h0m1 0h0m46 0h0m2 2h0m-51 1h0m1 0h0m1 0h0m5 0h0m-2 1h0m5 0h0m15 0h0m-17 1h0m2 0h0m3 0h0m-10 1h0m2 0h0m2 0h0m0 1h0m8 0h0m-6 1h0m-41 1h0m30 0h0m4 0h0m15 0h0m36 0h0m-48 1h0m3 0h0m1 0h0m46 0h0m-50 1h0m5 0h0m45 0h0m-87 1h0m29 0h0m4 0h0m3 0h0m2 0h0m2 0h0m19 0h0m26 0h0m-86 1h0m37 0h0m20 0h0m1 0h0m-60 1h0m29 0h0m5 0h0m2 0h0m1 0h0m1 0h0m54 0h0m-61 1h0m8 0h0m6 0h0m3 0h0m9 0h0m-53 1h0m26 0h0m6 0h0m3 0h0m2 0h0m5 0h0m2 0h0m8 0h0m38 0h0m-63 1h0m2 0h0m8 0h0m5 0h0m5 0h0m40 0h0m-85 1h0m38 0h0m1 0h0m-6 1h0m2 0h0m1 0h0m1 0h0m7 0h0m3 0h0m-14 1h0m1 0h0m4 0h0m1 0h0m3 0h0m9 0h0m38 0h0m-90 1h0m24 0h0m3 0h0m4 0h0m3 0h0m5 0h0m4 0h0m46 0h0m-64 1h0m1 0h0m1 0h0m3 0h0m5 0h0m3 0h0m4 0h0m40 0h0m-54 1h0m7 0h0m7 0h0m3 0h0m-18 1h0m2 0h0m1 0h0m8 0h0m2 0h0m1 0h0m3 0h0m48 0h0m-95 1h0m31 0h0m6 0h0m2 0h0m7 0h0m3 0h0m47 0h0m-95 1h0m28 0h0m2 0h0m10 0h0m6 0h0m7 0h0m6 0h0m-32 1h0m1 0h0m16 0h0m49 0h0m-96 1h0m6 0h0m22 0h0m3 0h0m2 0h0m6 0h0m7 0h0m3 0h0m2 0h0m-21 1h0m3 0h0m1 0h0m3 0h0m1 0h0m2 0h0m1 0h0m4 0h0m3 0h0m1 0h0m3 0h0m-29 1h0m3 0h0m1 0h0m14 0h0m1 0h0m2 0h0m4 0h0m1 0h0m-49 1h0m27 0h0m1 0h0m6 0h0m3 0h0m1 0h0m2 0h0m5 0h0m17 0h0m-36 1h0m1 0h0m11 0h0m11 0h0m2 0h0m5 0h0m38 0h0m1 0h0m-73 1h0m2 0h0m16 0h0m2 0h0m3 0h0m2 0h0m-23 1h0m1 0h0m19 0h0m2 0h0m1 0h0m5 0h0m-34 1h0m3 0h0m14 0h0m2 0h0m1 0h0m3 0h0m6 0h0m3 0h0m1 0h0m43 0h0m2 0h0m2 0h0m-71 1h0m1 0h0m4 0h0m7 0h0m9 0h0m51 0h0m-96 1h0m21 0h0m8 0h0m2 0h0m5 0h0m3 0h0m58 0h0m-80 1h0m4 0h0m1 0h0m1 0h0m1 0h0m3 0h0m1 0h0m1 0h0m7 0h0m3 0h0m6 0h0m1 0h0m4 0h0m4 0h0m4 0h0m-54 1h0m15 0h0m2 0h0m5 0h0m4 0h0m1 0h0m4 0h0m4 0h0m2 0h0m7 0h0m1 0h0m1 0h0m-33 1h0m1 0h0m8 0h0m8 0h0m1 0h0m4 0h0m4 0h0m12 0h0m2 0h0m-34 1h0m9 0h0m4 0h0m4 0h0m8 0h0m-32 1h0m7 0h0m2 0h0m7 0h0m14 0h0m1 0h0m4 0h0m5 0h0m42 0h0m-93 1h0m3 0h0m9 0h0m1 0h0m2 0h0m3 0h0m2 0h0m3 0h0m4 0h0m10 0h0m3 0h0m1 0h0m8 0h0m-33 1h0m8 0h0m1 0h0m4 0h0m7 0h0m5 0h0m2 0h0m1 0h0m-33 1h0m1 0h0m13 0h0m6 0h0m6 0h0m-24 1h0m1 0h0m5 0h0m1 0h0m1 0h0m4 0h0m8 0h0m4 0h0m9 0h0m-37 1h0m2 0h0m1 0h0m12 0h0m5 0h0m1 0h0m3 0h0m3 0h0m1 0h0m58 0h0m-74 1h0m13 0h0m2 0h0m5 0h0m9 0h0m-33 1h0m2 0h0m4 0h0m2 0h0m1 0h0m3 0h0m2 0h0m2 0h0m5 0h0m1 0h0m3 0h0m-35 1h0m1 0h0m2 0h0m3 0h0m13 0h0m7 0h0m5 0h0m5 0h0m3 0h0m-38 1h0m7 0h0m3 0h0m5 0h0m6 0h0m1 0h0m3 0h0m1 0h0m2 0h0m2 0h0m1 0h0m2 0h0m-25 1h0m7 0h0m2 0h0m8 0h0m2 0h0m2 0h0m1 0h0m7 0h0m2 0h0m-32 1h0m6 0h0m2 0h0m9 0h0m11 0h0m4 0h0m1 0h0m1 0h0m-40 1h0m8 0h0m1 0h0m1 0h0m11 0h0m10 0h0m6 0h0m2 0h0m2 0h0m41 0h0m1 0h0m2 0h0m-81 1h0m5 0h0m2 0h0m3 0h0m9 0h0m4 0h0m2 0h0m3 0h0m1 0h0m-29 1h0m1 0h0m4 0h0m3 0h0m3 0h0m1 0h0m1 0h0m2 0h0m6 0h0m3 0h0m1 0h0m2 0h0m1 0h0m4 0h0m4 0h0m-37 1h0m2 0h0m9 0h0m3 0h0m3 0h0m7 0h0m10 0h0m4 0h0m2 0h0m-40 1h0m4 0h0m20 0h0m3 0h0m5 0h0m49 0h0m-79 1h0m5 0h0m14 0h0m1 0h0m11 0h0m-33 1h0m3 0h0m7 0h0m1 0h0m10 0h0m5 0h0m-22 1h0m2 0h0m7 0h0m10 0h0m10 0h0m4 0h0m-28 1h0m3 0h0m21 0h0m4 0h0m-26 1h0m16 0h0m9 0h0m7 0h0m35 0h0m-72 1h0m2 0h0m3 0h0m5 0h0m5 0h0m9 0h0m-25 1h0m1 0h0m14 0h0m1 0h0m8 0h0m3 0h0m10 0h0m-25 1h0m5 0h0m20 0h0m-33 1h0m16 0h0m6 0h0m1 0h0m7 0h0m41 0h0m-69 1h0m12 0h0m6 0h0m50 0h0m-70 1h0m7 0h0m3 0h0m6 0h0m4 0h0m0 1h0m10 0h0m2 0h0m2 0h0m3 0h0m-33 1h0m3 0h0m2 0h0m7 0h0m-14 1h0m1 0h0m1 0h0m5 0h0m59 0h0m-64 1h0m2 0h0m5 0h0m15 0h0m7 0h0m35 0h0m-57 1h0m10 0h0m9 0h0m7 0h0m-27 1h0m3 0h0m1 0h0m11 0h0m-17 1h0m3 0h0m1 0h0m2 0h0m8 0h0m11 0h0m-22 1h0m1 0h0m14 0h0m6 0h0m-21 1h0m30 0h0m16 0h0m9 0h0m-48 1h0m44 1h0m-50 1h0m1 0h0m50 0h0m-49 1h0m3 0h0m17 0h0m10 0h0m11 0h0m-40 1h0m16 0h0m-15 1h0m19 0h0m4 0h0m-8 1h0m-5 2h0"/>
<path class="d1" stroke="#efd430" d="M67.5 41.5h0m3 0h0m1 0h0m-8 1h0m1 0h0m2 0h0m1 0h0m1 0h0m1 0h0m1 0h0m2 0h0m2 0h0m1 0h0m-14 1h0m3 0h0m1 0h0m2 0h0m1 0h0m1 0h0m3 0h0m1 0h0m4 0h0m-19 1h0m2 0h0m1 0h0m3 0h0m1 0h0m1 0h0m1 0h0m1 0h0m2 0h0m3 0h0m1 0h0m1 0h0m1 0h0m3 0h0m-23 1h0m1 0h0m1 0h0m1 0h0m1 0h0m1 0h0m1 0h0m1 0h0m1 0h0m1 0h0m1 0h0m1 0h0m1 0h0m4 0h0m1 0h0m1 0h0m1 0h0m2 0h0m1 0h0m1 0h0m-25 1h0m2 0h0m2 0h0m1 0h0m1 0h0m1 0h0m1 0h0m2 0h0m2 0h0m1 0h0m1 0h0m2 0h0m3 0h0m2 0h0m1 0h0m1 0h0m2 0h0m5 0h0m-31 1h0m1 0h0m1 0h0m1 0h0m1 0h0m1 0h0m1 0h0m1 0h0m1 0h0m1 0h0m1 0h0m1 0h0m1 0h0m1 0h0m1 0h0m1 0h0m3 0h0m1 0h0m1 0h0m1 0h0m1 0h0m1 0h0m1 0h0m1 0h0m1 0h0m-26 1h0m1 0h0m1 0h0m1 0h0m1 0h0m3 0h0m1 0h0m2 0h0m1 0h0m2 0h0m1 0h0m1 0h0m1 0h0m1 0h0m1 0h0m1 0h0m1 0h0m1 0h0m1 0h0m1 0h0m2 0h0m5 0h0m-29 1h0m1 0h0m1 0h0m1 0h0m2 0h0m2 0h0m1 0h0m2 0h0m1 0h0m1 0h0m1 0h0m2 0h0m3 0h0m3 0h0m1 0h0m1 0h0m1 0h0m1 0h0m-30 1h0m2 0h0m1 0h0m1 0h0m1 0h0m1 0h0m1 0h0m1 0h0m1 0h0m3 0h0m3 0h0m6 0h0m1 0h0m1 0h0m1 0h0m2 0h0m1 0h0m1 0h0m1 0h0m3 0h0m-33 1h0m1 0h0m4 0h0m1 0h0m5 0h0m2 0h0m1 0h0m4 0h0m2 0h0m1 0h0m1 0h0m1 0h0m1 0h0m1 0h0m1 0h0m2 0h0m2 0h0m-31 1h0m1 0h0m1 0h0m2 0h0m1 0h0m4 0h0m3 0h0m1 0h0m4 0h0m1 0h0m3 0h0m4 0h0m1 0h0m2 0h0m1 0h0m1 0h0m-29 1h0m1 0h0m2 0h0m1 0h0m2 0h0m1 0h0m4 0h0m3 0h0m1 0h0m1 0h0m1 0h0m3 0h0m1 0h0m3 0h0m1 0h0m3 0h0m1 0h0m1 0h0m-33 1h0m1 0h0m1 0h0m1 0h0m1 0h0m2 0h0m1 0h0m1 0h0m2 0h0m1 0h0m1 0h0m2 0h0m1 0h0m1 0h0m6 0h0m1 0h0m1 0h0m1 0h0m2 0h0m1 0h0m2 0h0m1 0h0m1 0h0m1 0h0m1 0h0m2 0h0m1 0h0m-38 1h0m1 0h0m1 0h0m3 0h0m2 0h0m1 0h0m2 0h0m2 0h0m1 0h0m2 0h0m2 0h0m1 0h0m1 0h0m1 0h0m1 0h0m2 0h0m1 0h0m1 0h0m2 0h0m1 0h0m1 0h0m4 0h0m1 0h0m-34 1h0m2 0h0m2 0h0m1 0h0m2 0h0m2 0h0m1 0h0m1 0h0m1 0h0m3 0h0m2 0h0m2 0h0m1 0h0m1 0h0m2 0h0m2 0h0m1 0h0m2 0h0m3 0h0m2 0h0m-34 1h0m1 0h0m3 0h0m1 0h0m1 0h0m1 0h0m2 0h0m1 0h0m1 0h0m1 0h0m2 0h0m1 0h0m1 0h0m2 0h0m2 0h0m1 0h0m2 0h0m2 0h0m1 0h0m1 0h0m1 0h0m1 0h0m1 0h0m1 0h0m1 0h0m1 0h0m-34 1h0m2 0h0m2 0h0m2 0h0m1 0h0m3 0h0m1 0h0m2 0h0m1 0h0m1 0h0m1 0h0m4 0h0m1 0h0m2 0h0m1 0h0m1 0h0m1 0h0m1 0h0m4 0h0m1 0h0m2 0h0m1 0h0m2 0h0m-37 1h0m1 0h0m3 0h0m4 0h0m1 0h0m1 0h0m1 0h0m1 0h0m4 0h0m1 0h0m1 0h0m2 0h0m2 0h0m1 0h0m1 0h0m1 0h0m2 0h0m2 0h0m3 0h0m1 0h0m-29 1h0m6 0h0m2 0h0m1 0h0m1 0h0m2 0h0m2 0h0m1 0h0m1 0h0m1 0h0m1 0h0m1 0h0m1 0h0m2 0h0m1 0h0m1 0h0m2 0h0m1 0h0m2 0h0m1 0h0m1 0h0m-36 1h0m6 0h0m3 0h0m2 0h0m3 0h0m2 0h0m1 0h0m1 0h0m1 0h0m1 0h0m5 0h0m1 0h0m2 0h0m3 0h0m1 0h0m1 0h0m1 0h0m3 0h0m-33 1h0m1 0h0m1 0h0m3 0h0m5 0h0m1 0h0m1 0h0m3 0h0m2 0h0m2 0h0m1 0h0m1 0h0m1 0h0m1 0h0m2 0h0m1 0h0m1 0h0m3 0h0m-28 1h0m1 0h0m1 0h0m1 0h0m1 0h0m1 0h0m3 0h0m3 0h0m4 0h0m1 0h0m2 0h0m3 0h0m1 0h0m2 0h0m1 0h0m2 0h0m5 0h0m-33 1h0m1 0h0m2 0h0m1 0h0m1 0h0m1 0h0m2 0h0m3 0h0m1 0h0m1 0h0m1 0h0m1 0h0m1 0h0m1 0h0m4 0h0m1 0h0m3 0h0m2 0h0m1 0h0m1 0h0m3 0h0m-29 1h0m3 0h0m5 0h0m2 0h0m1 0h0m1 0h0m2 0h0m1 0h0m1 0h0m1 0h0m1 0h0m3 0h0m1 0h0m1 0h0m1 0h0m-24 1h0m3 0h0m1 0h0m1 0h0m2 0h0m1 0h0m1 0h0m1 0h0m2 0h0m1 0h0m1 0h0m1 0h0m1 0h0m3 0h0m4 0h0m1 0h0m1 0h0m5 0h0m2 0h0m-37 1h0m1 0h0m7 0h0m1 0h0m3 0h0m1 0h0m6 0h0m1 0h0m2 0h0m1 0h0m1 0h0m1 0h0m1 0h0m1 0h0m3 0h0m-26 1h0m1 0h0m1 0h0m1 0h0m1 0h0m1 0h0m1 0h0m2 0h0m1 0h0m2 0h0m1 0h0m1 0h0m1 0h0m1 0h0m1 0h0m1 0h0m1 0h0m2 0h0m4 0h0m4 0h0m-31 1h0m3 0h0m1 0h0m2 0h0m1 0h0m1 0h0m1 0h0m1 0h0m1 0h0m2 0h0m1 0h0m1 0h0m1 0h0m1 0h0m2 0h0m1 0h0m3 0h0m1 0h0m1 0h0m3 0h0m-25 1h0m1 0h0m1 0h0m2 0h0m2 0h0m1 0h0m1 0h0m3 0h0m1 0h0m1 0h0m1 0h0m1 0h0m2 0h0m2 0h0m1 0h0m5 0h0m-27 1h0m3 0h0m2 0h0m1 0h0m1 0h0m1 0h0m2 0h0m2 0h0m1 0h0m1 0h0m1 0h0m1 0h0m2 0h0m1 0h0m1 0h0m3 0h0m-22 1h0m1 0h0m2 0h0m1 0h0m1 0h0m5 0h0m2 0h0m1 0h0m1 0h0m1 0h0m2 0h0m3 0h0m1 0h0m1 0h0m5 0h0m-27 1h0m2 0h0m1 0h0m2 0h0m1 0h0m4 0h0m1 0h0m4 0h0m3 0h0m1 0h0m6 0h0m-25 1h0m3 0h0m2 0h0m1 0h0m1 0h0m1 0h0m1 0h0m1 0h0m1 0h0m4 0h0m1 0h0m1 0h0m1 0h0m2 0h0m1 0h0m3 0h0m1 0h0m-25 1h0m5 0h0m3 0h0m1 0h0m1 0h0m5 0h0m4 0h0m1 0h0m1 0h0m1 0h0m1 0h0m-23 1h0m1 0h0m1 0h0m1 0h0m1 0h0m1 0h0m1 0h0m1 0h0m1 0h0m2 0h0m1 0h0m1 0h0m1 0h0m1 0h0m1 0h0m1 0h0m1 0h0m1 0h0m1 0h0m1 0h0m5 0h0m-26 1h0m6 0h0m1 0h0m2 0h0m4 0h0m1 0h0m3 0h0m2 0h0m1 0h0m1 0h0m1 0h0m5 0h0m-26 1h0m1 0h0m1 0h0m2 0h0m2 0h0m1 0h0m1 0h0m2 0h0m2 0h0m1 0h0m1 0h0m1 0h0m2 0h0m2 0h0m1 0h0m1 0h0m-21 1h0m1 0h0m1 0h0m1 0h0m1 0h0m1 0h0m4 0h0m1 0h0m2 0h0m2 0h0m7 0h0m2 0h0m1 0h0m2 0h0m-26 1h0m2 0h0m1 0h0m1 0h0m1 0h0m1 0h0m2 0h0m3 0h0m2 0h0m1 0h0m1 0h0m1 0h0m1 0h0m1 0h0m1 0h0m1 0h0m6 0h0m-28 1h0m1 0h0m2 0h0m1 0h0m2 0h0m2 0h0m1 0h0m1 0h0m1 0h0m2 0h0m1 0h0m1 0h0m2 0h0m1 0h0m1 0h0m1 0h0m5 0h0m1 0h0m-20 1h0m1 0h0m1 0h0m1 0h0m2 0h0m1 0h0m1 0h0m2 0h0m2 0h0m2 0h0m2 0h0m-20 1h0m1 0h0m1 0h0m1 0h0m1 0h0m1 0h0m5 0h0m1 0h0m2 0h0m3 0h0m1 0h0m1 0h0m1 0h0m2 0h0m3 0h0m-21 1h0m1 0h0m1 0h0m2 0h0m1 0h0m1 0h0m3 0h0m1 0h0m4 0h0m2 0h0m2 0h0m-21 1h0m3 0h0m1 0h0m2 0h0m2 0h0m1 0h0m1 0h0m1 0h0m1 0h0m2 0h0m4 0h0m-15 1h0m2 0h0m1 0h0m3 0h0m1 0h0m1 0h0m3 0h0m2 0h0m1 0h0m-16 1h0m2 0h0m1 0h0m2 0h0m1 0h0m2 0h0m1 0h0m4 0h0m1 0h0m1 0h0m1 0h0m1 0h0m1 0h0m1 0h0m-19 1h0m1 0h0m1 0h0m3 0h0m1 0h0m2 0h0m1 0h0m3 0h0m1 0h0m1 0h0m1 0h0m5 0h0m-20 1h0m2 0h0m1 0h0m2 0h0m1 0h0m4 0h0m1 0h0m2 0h0m3 0h0m4 0h0m2 0h0m-23 1h0m4 0h0m2 0h0m1 0h0m1 0h0m2 0h0m1 0h0m1 0h0m1 0h0m1 0h0m1 0h0m1 0h0m1 0h0m-16 1h0m1 0h0m1 0h0m3 0h0m2 0h0m1 0h0m1 0h0m5 0h0m-14 1h0m1 0h0m1 0h0m1 0h0m1 0h0m3 0h0m2 0h0m1 0h0m3 0h0m5 0h0m2 0h0m-15 1h0m1 0h0m1 0h0m1 0h0m1 0h0m1 0h0m2 0h0m1 0h0m3 0h0m2 0h0m-19 1h0m4 0h0m2 0h0m1 0h0m1 0h0m1 0h0m1 0h0m1 0h0m1 0h0m2 0h0m-12 1h0m2 0h0m1 0h0m4 0h0m1 0h0m1 0h0m3 0h0m-9 1h0m1 0h0m1 0h0m1 0h0m1 0h0m1 0h0m2 0h0m1 0h0m-11 1h0m2 0h0m1 0h0m1 0h0m1 0h0m1 0h0m1 0h0m1 0h0m1 0h0m1 0h0m2 0h0m-12 1h0m2 0h0m1 0h0m1 0h0m2 0h0m2 0h0m3 0h0m-8 1h0m3 0h0m1 0h0m1 0h0m1 0h0m1 0h0m2 0h0m7 0h0m-17 1h0m1 0h0m1 0h0m1 0h0m1 0h0m1 0h0m2 0h0m2 0h0m-8 1h0m2 0h0m1 0h0m1 0h0m1 0h0m1 0h0m2 0h0m-7 1h0m2 0h0m1 0h0m1 0h0m1 0h0m2 0h0m1 0h0m-6 1h0m4 0h0m-1 1h0m3 3h0m-1 1h0m-1 1h0"/>
<path class="d1" stroke="#f6e78d" d="M69.5 41.5h0m-6 2h0m-1 1h0m14 1h0m-19 1h0m12 0h0m2 0h0m3 0h0m7 0h0m-19 2h0m3 0h0m12 0h0m3 0h0m-7 1h0m-6 1h0m13 0h0m4 0h0m-9 1h0m-25 1h0m5 0h0m6 0h0m-14 1h0m20 0h0m8 0h0m5 0h0m-9 1h0m-16 1h0m24 0h0m-19 1h0m11 0h0m5 0h0m-16 1h0m18 0h0m-24 1h0m7 0h0m10 0h0m1 0h0m-9 1h0m7 0h0m3 0h0m-22 1h0m23 0h0m-20 1h0m8 0h0m2 0h0m1 0h0m3 0h0m2 0h0m1 0h0m8 0h0m-1 1h0m-17 1h0m3 0h0m2 0h0m4 0h0m-25 1h0m8 0h0m3 0h0m8 0h0m-17 1h0m3 0h0m5 0h0m14 0h0m-14 1h0m12 0h0m-19 1h0m2 0h0m5 1h0m12 0h0m-1 1h0m6 0h0m-3 1h0m-22 1h0m1 0h0m7 0h0m8 0h0m5 0h0m10 0h0m-13 1h0m6 0h0m5 0h0m-21 1h0m1 0h0m3 0h0m4 0h0m1 0h0m6 0h0m1 0h0m3 0h0m-25 1h0m2 1h0m10 0h0m10 0h0m-26 1h0m5 1h0m1 0h0m10 0h0m1 0h0m1 1h0m3 1h0m3 0h0m-10 1h0m-2 1h0m-10 1h0m8 0h0m13 0h0m-14 1h0m6 0h0m1 0h0m-5 1h0m5 1h0m4 0h0m-11 1h0m5 0h0m-13 1h0m8 0h0m4 1h0m5 0h0m-12 1h0m5 0h0m9 0h0m-18 1h0m22 0h0m-16 1h0m5 0h0m-12 1h0m9 0h0m7 0h0m-13 1h0m2 0h0m13 0h0m-19 1h0m6 0h0m14 0h0m-19 1h0m11 1h0m6 1h0m-11 4h0m6 0h0m-3 2h0m2 0h0m10 0h0m-8 1h0m1 0h0"/>
<path class="d1" stroke="#cbb429" d="M73.5 42.5h0m-11 1h0m4 0h0m4 0h0m4 0h0m1 0h0m1 0h0m-17 1h0m10 0h0m2 0h0m1 0h0m5 0h0m-7 1h0m1 0h0m-16 1h0m8 0h0m2 0h0m7 0h0m6 0h0m4 0h0m-13 1h0m1 0h0m-19 1h0m1 0h0m6 0h0m1 0h0m-9 1h0m1 0h0m1 0h0m6 0h0m2 0h0m8 0h0m2 0h0m1 0h0m-12 1h0m1 0h0m2 0h0m3 0h0m1 0h0m2 0h0m1 0h0m5 0h0m8 0h0m-32 1h0m1 0h0m1 0h0m3 0h0m1 0h0m1 0h0m6 0h0m1 0h0m1 0h0m2 0h0m10 0h0m-24 1h0m1 0h0m3 0h0m1 0h0m4 0h0m1 0h0m3 0h0m1 0h0m2 0h0m1 0h0m1 0h0m3 0h0m6 0h0m-30 1h0m3 0h0m4 0h0m1 0h0m2 0h0m1 0h0m9 0h0m1 0h0m3 0h0m5 0h0m3 0h0m-32 1h0m8 0h0m4 0h0m1 0h0m1 0h0m1 0h0m1 0h0m-19 1h0m1 0h0m2 0h0m3 0h0m5 0h0m2 0h0m6 0h0m4 0h0m4 0h0m1 0h0m1 0h0m-31 1h0m2 0h0m3 0h0m2 0h0m5 0h0m5 0h0m4 0h0m2 0h0m5 0h0m1 0h0m-29 1h0m1 0h0m5 0h0m5 0h0m6 0h0m3 0h0m2 0h0m-24 1h0m2 0h0m2 0h0m3 0h0m1 0h0m8 0h0m1 0h0m4 0h0m6 0h0m5 0h0m3 0h0m-31 1h0m1 0h0m1 0h0m6 0h0m1 0h0m1 0h0m4 0h0m7 0h0m4 0h0m4 0h0m-31 1h0m3 0h0m1 0h0m1 0h0m3 0h0m4 0h0m10 0h0m4 0h0m-22 1h0m2 0h0m2 0h0m3 0h0m7 0h0m-15 1h0m1 0h0m2 0h0m1 0h0m1 0h0m1 0h0m4 0h0m1 0h0m2 0h0m2 0h0m6 0h0m4 0h0m1 0h0m5 0h0m-33 1h0m7 0h0m1 0h0m2 0h0m1 0h0m3 0h0m7 0h0m6 0h0m-25 1h0m7 0h0m10 0h0m1 0h0m4 0h0m2 0h0m-24 1h0m3 0h0m2 0h0m5 0h0m4 0h0m-14 1h0m2 0h0m10 0h0m6 0h0m3 0h0m1 0h0m1 0h0m-22 1h0m2 0h0m3 0h0m1 0h0m3 0h0m1 0h0m1 0h0m1 0h0m1 0h0m3 0h0m8 0h0m-26 1h0m11 0h0m11 0h0m1 0h0m1 0h0m2 0h0m-23 1h0m7 0h0m10 0h0m4 0h0m8 0h0m-28 1h0m2 0h0m4 0h0m1 0h0m6 0h0m6 0h0m2 0h0m-22 1h0m7 0h0m10 0h0m3 0h0m4 0h0m-29 1h0m4 0h0m4 0h0m1 0h0m1 0h0m1 0h0m2 0h0m5 0h0m7 0h0m-24 1h0m2 0h0m3 0h0m3 0h0m6 0h0m1 0h0m6 0h0m1 0h0m1 0h0m-25 1h0m1 0h0m6 0h0m8 0h0m1 0h0m1 0h0m5 0h0m3 0h0m-21 1h0m2 0h0m4 0h0m5 0h0m1 0h0m3 0h0m1 0h0m1 0h0m3 1h0m1 0h0m-25 1h0m4 0h0m1 0h0m5 0h0m2 0h0m1 0h0m1 0h0m12 0h0m-20 1h0m2 0h0m6 0h0m7 0h0m4 0h0m-16 1h0m1 0h0m1 0h0m3 0h0m2 0h0m2 0h0m1 0h0m1 0h0m3 0h0m-13 1h0m2 0h0m1 0h0m15 0h0m-22 1h0m11 0h0m-13 1h0m1 0h0m1 0h0m9 0h0m2 0h0m2 0h0m2 0h0m-13 1h0m1 0h0m2 0h0m11 0h0m3 0h0m-17 1h0m5 0h0m3 0h0m1 0h0m1 0h0m4 0h0m-19 1h0m1 0h0m3 0h0m2 0h0m-5 1h0m2 0h0m8 0h0m3 0h0m9 0h0m-22 1h0m3 0h0m6 0h0m1 0h0m1 0h0m-13 1h0m4 0h0m1 0h0m3 0h0m11 0h0m-11 1h0m1 0h0m4 0h0m-8 1h0m4 0h0m13 0h0m-23 1h0m1 0h0m4 0h0m1 0h0m8 0h0m3 0h0m7 0h0m-17 1h0m1 0h0m5 0h0m1 0h0m2 0h0m-15 1h0m2 0h0m2 0h0m8 0h0m-9 1h0m12 0h0m-14 1h0m5 0h0m1 0h0m1 0h0m4 0h0m1 0h0m-10 1h0m1 0h0m10 0h0m1 0h0m-2 1h0m3 0h0m-13 1h0m4 0h0m2 0h0m2 0h0m1 0h0m-9 1h0m3 0h0m9 0h0m-3 1h0m8 1h0m-8 1h0m-3 2h0m2 1h0"/>
<path class="d1" stroke="#5e5e88" d="M85.5 46.5h0m1 1h0m3 0h0m-4 4h0m1 2h0m1 0h0m5 0h0m-9 5h0"/>
<path class="d1" stroke="#afafcb" d="M80.5 47.5h0m4 7h0m10 2h0m0 4h0m-2 2h0"/>
<path class="d1" stroke="#2d2c76" d="M84.5 47.5h0m-2 2h0m1 0h0m7 0h0m11 1h0m-7 1h0m-7 1h0m1 0h0m11 0h0m-7 2h0m6 0h0m-17 1h0m1 0h0m6 0h0m16 0h0m-16 1h0m11 0h0m-17 1h0m7 0h0m-2 1h0m2 0h0m10 0h0m-8 1h0m8 0h0m3 0h0m-1 1h0m2 0h0m1 0h0m-18 1h0m8 0h0m5 1h0m-3 1h0m-9 1h0m18 1h0m-9 1h0m7 0h0m1 0h0m4 0h0m-10 1h0m1 0h0m3 0h0m-7 1h0m4 0h0m2 0h0m10 0h0m-11 1h0m6 0h0m-6 1h0m1 0h0m-10 1h0m22 0h0m-22 1h0m1 0h0m3 0h0m27 0h0m-28 1h0m6 0h0m2 0h0m4 0h0m-4 1h0m4 0h0m1 0h0m-9 1h0m5 0h0m1 0h0m6 0h0m18 0h0m-32 1h0m1 0h0m5 0h0m1 0h0m1 0h0m1 0h0m1 0h0m4 0h0m3 0h0m16 0h0m-31 1h0m8 0h0m-20 1h0m21 0h0m3 0h0m8 0h0m-22 1h0m3 0h0m3 0h0m2 0h0m1 0h0m3 0h0m-7 1h0m2 0h0m2 0h0m8 0h0m2 0h0m2 0h0m-20 1h0m3 0h0m1 0h0m4 0h0m4 0h0m1 0h0m2 0h0m2 0h0m-17 1h0m2 0h0m2 0h0m2 0h0m4 0h0m2 0h0m3 0h0m-18 1h0m2 0h0m2 0h0m3 0h0m1 0h0m2 0h0m1 0h0m1 0h0m1 0h0m3 0h0m2 0h0m2 0h0m2 0h0m1 0h0m6 0h0m14 0h0m-33 1h0m1 0h0m2 0h0m1 0h0m1 0h0m2 0h0m2 0h0m1 0h0m-16 1h0m1 0h0m2 0h0m1 0h0m2 0h0m1 0h0m1 0h0m3 0h0m1 0h0m1 0h0m1 0h0m2 0h0m1 0h0m19 0h0m1 0h0m-40 1h0m4 0h0m4 0h0m1 0h0m1 0h0m1 0h0m2 0h0m1 0h0m1 0h0m1 0h0m1 0h0m1 0h0m2 0h0m4 0h0m3 0h0m1 0h0m7 0h0m8 0h0m1 0h0m1 0h0m-52 1h0m7 0h0m3 0h0m1 0h0m1 0h0m1 0h0m1 0h0m1 0h0m3 0h0m3 0h0m1 0h0m2 0h0m3 0h0m1 0h0m1 0h0m4 0h0m2 0h0m2 0h0m15 0h0m2 0h0m-47 1h0m5 0h0m1 0h0m2 0h0m2 0h0m2 0h0m1 0h0m1 0h0m3 0h0m1 0h0m1 0h0m1 0h0m8 0h0m3 0h0m1 0h0m13 0h0m-44 1h0m4 0h0m1 0h0m4 0h0m1 0h0m1 0h0m2 0h0m2 0h0m1 0h0m2 0h0m4 0h0m1 0h0m1 0h0m2 0h0m1 0h0m4 0h0m3 0h0m4 0h0m3 0h0m4 0h0m-50 1h0m6 0h0m1 0h0m3 0h0m1 0h0m1 0h0m1 0h0m1 0h0m1 0h0m1 0h0m1 0h0m3 0h0m1 0h0m1 0h0m2 0h0m2 0h0m2 0h0m1 0h0m1 0h0m1 0h0m1 0h0m1 0h0m3 0h0m2 0h0m1 0h0m9 0h0m2 0h0m2 0h0m-46 1h0m3 0h0m2 0h0m2 0h0m3 0h0m2 0h0m2 0h0m1 0h0m3 0h0m1 0h0m1 0h0m6 0h0m2 0h0m2 0h0m2 0h0m2 0h0m4 0h0m2 0h0m2 0h0m3 0h0m1 0h0m-47 1h0m1 0h0m2 0h0m2 0h0m1 0h0m2 0h0m2 0h0m2 0h0m1 0h0m2 0h0m2 0h0m1 0h0m1 0h0m2 0h0m2 0h0m4 0h0m2 0h0m1 0h0m3 0h0m3 0h0m1 0h0m2 0h0m2 0h0m3 0h0m-48 1h0m4 0h0m3 0h0m1 0h0m5 0h0m1 0h0m1 0h0m2 0h0m1 0h0m1 0h0m1 0h0m1 0h0m1 0h0m1 0h0m2 0h0m3 0h0m1 0h0m3 0h0m3 0h0m4 0h0m1 0h0m2 0h0m2 0h0m1 0h0m1 0h0m2 0h0m1 0h0m2 0h0m-41 1h0m5 0h0m1 0h0m1 0h0m1 0h0m1 0h0m1 0h0m2 0h0m1 0h0m1 0h0m2 0h0m2 0h0m1 0h0m2 0h0m3 0h0m1 0h0m1 0h0m1 0h0m1 0h0m2 0h0m1 0h0m1 0h0m3 0h0m1 0h0m1 0h0m2 0h0m-45 1h0m5 0h0m1 0h0m2 0h0m2 0h0m1 0h0m2 0h0m1 0h0m5 0h0m1 0h0m1 0h0m1 0h0m2 0h0m2 0h0m1 0h0m1 0h0m2 0h0m3 0h0m1 0h0m1 0h0m8 0h0m2 0h0m1 0h0m1 0h0m-47 1h0m3 0h0m2 0h0m3 0h0m2 0h0m4 0h0m1 0h0m1 0h0m3 0h0m1 0h0m1 0h0m1 0h0m2 0h0m1 0h0m2 0h0m1 0h0m2 0h0m3 0h0m1 0h0m2 0h0m1 0h0m3 0h0m2 0h0m1 0h0m1 0h0m3 0h0m-46 1h0m1 0h0m1 0h0m4 0h0m1 0h0m2 0h0m1 0h0m1 0h0m2 0h0m2 0h0m2 0h0m2 0h0m1 0h0m1 0h0m2 0h0m3 0h0m1 0h0m2 0h0m3 0h0m1 0h0m2 0h0m1 0h0m1 0h0m1 0h0m3 0h0m1 0h0m1 0h0m1 0h0m1 0h0m-43 1h0m1 0h0m2 0h0m1 0h0m1 0h0m1 0h0m1 0h0m3 0h0m1 0h0m1 0h0m2 0h0m1 0h0m2 0h0m1 0h0m3 0h0m1 0h0m1 0h0m1 0h0m1 0h0m1 0h0m3 0h0m2 0h0m2 0h0m1 0h0m2 0h0m2 0h0m1 0h0m1 0h0m5 0h0m1 0h0m-49 1h0m2 0h0m4 0h0m1 0h0m4 0h0m1 0h0m1 0h0m2 0h0m1 0h0m1 0h0m1 0h0m1 0h0m1 0h0m2 0h0m2 0h0m1 0h0m1 0h0m1 0h0m3 0h0m2 0h0m1 0h0m1 0h0m1 0h0m1 0h0m1 0h0m3 0h0m2 0h0m1 0h0m1 0h0m1 0h0m2 0h0m1 0h0m-48 1h0m1 0h0m3 0h0m1 0h0m1 0h0m1 0h0m1 0h0m2 0h0m1 0h0m2 0h0m1 0h0m1 0h0m1 0h0m1 0h0m1 0h0m4 0h0m2 0h0m1 0h0m3 0h0m1 0h0m2 0h0m4 0h0m1 0h0m1 0h0m2 0h0m1 0h0m3 0h0m1 0h0m1 0h0m1 0h0m2 0h0m-48 1h0m2 0h0m3 0h0m1 0h0m2 0h0m1 0h0m1 0h0m3 0h0m3 0h0m1 0h0m1 0h0m3 0h0m1 0h0m2 0h0m1 0h0m1 0h0m1 0h0m3 0h0m1 0h0m3 0h0m1 0h0m1 0h0m5 0h0m1 0h0m1 0h0m3 0h0m1 0h0m2 0h0m-47 1h0m1 0h0m3 0h0m1 0h0m1 0h0m1 0h0m1 0h0m5 0h0m1 0h0m1 0h0m1 0h0m2 0h0m1 0h0m1 0h0m1 0h0m3 0h0m1 0h0m1 0h0m1 0h0m3 0h0m1 0h0m1 0h0m2 0h0m1 0h0m2 0h0m1 0h0m1 0h0m2 0h0m1 0h0m2 0h0m2 0h0m-44 1h0m4 0h0m2 0h0m2 0h0m1 0h0m1 0h0m1 0h0m3 0h0m1 0h0m1 0h0m1 0h0m2 0h0m4 0h0m1 0h0m1 0h0m3 0h0m2 0h0m2 0h0m1 0h0m1 0h0m1 0h0m3 0h0m-41 1h0m2 0h0m2 0h0m3 0h0m1 0h0m2 0h0m2 0h0m1 0h0m1 0h0m1 0h0m1 0h0m2 0h0m1 0h0m2 0h0m1 0h0m1 0h0m1 0h0m3 0h0m1 0h0m1 0h0m1 0h0m2 0h0m1 0h0m1 0h0m1 0h0m1 0h0m3 0h0m2 0h0m1 0h0m6 0h0m-49 1h0m1 0h0m2 0h0m1 0h0m1 0h0m1 0h0m1 0h0m1 0h0m1 0h0m1 0h0m2 0h0m1 0h0m1 0h0m3 0h0m3 0h0m1 0h0m2 0h0m3 0h0m1 0h0m1 0h0m2 0h0m2 0h0m1 0h0m1 0h0m2 0h0m1 0h0m2 0h0m1 0h0m1 0h0m1 0h0m2 0h0m3 0h0m-43 1h0m2 0h0m2 0h0m1 0h0m1 0h0m1 0h0m2 0h0m2 0h0m1 0h0m1 0h0m1 0h0m2 0h0m1 0h0m2 0h0m1 0h0m2 0h0m2 0h0m1 0h0m2 0h0m1 0h0m1 0h0m1 0h0m1 0h0m1 0h0m2 0h0m2 0h0m1 0h0m1 0h0m1 0h0m1 0h0m1 0h0m1 0h0m2 0h0m-46 1h0m3 0h0m1 0h0m1 0h0m1 0h0m2 0h0m2 0h0m2 0h0m1 0h0m3 0h0m1 0h0m3 0h0m2 0h0m1 0h0m1 0h0m2 0h0m1 0h0m1 0h0m1 0h0m1 0h0m1 0h0m1 0h0m1 0h0m1 0h0m1 0h0m3 0h0m1 0h0m1 0h0m1 0h0m1 0h0m1 0h0m2 0h0m1 0h0m1 0h0m-46 1h0m1 0h0m1 0h0m3 0h0m2 0h0m1 0h0m1 0h0m1 0h0m1 0h0m2 0h0m1 0h0m4 0h0m2 0h0m2 0h0m1 0h0m5 0h0m2 0h0m1 0h0m1 0h0m2 0h0m1 0h0m1 0h0m4 0h0m1 0h0m1 0h0m1 0h0m1 0h0m-48 1h0m5 0h0m1 0h0m3 0h0m1 0h0m3 0h0m1 0h0m1 0h0m2 0h0m2 0h0m1 0h0m1 0h0m1 0h0m1 0h0m1 0h0m2 0h0m1 0h0m2 0h0m2 0h0m1 0h0m1 0h0m1 0h0m2 0h0m1 0h0m1 0h0m2 0h0m1 0h0m1 0h0m1 0h0m1 0h0m3 0h0m3 0h0m-48 1h0m2 0h0m4 0h0m2 0h0m1 0h0m1 0h0m2 0h0m2 0h0m2 0h0m3 0h0m1 0h0m1 0h0m1 0h0m1 0h0m1 0h0m3 0h0m1 0h0m1 0h0m1 0h0m1 0h0m1 0h0m1 0h0m1 0h0m1 0h0m1 0h0m1 0h0m2 0h0m1 0h0m1 0h0m1 0h0m4 0h0m-43 1h0m1 0h0m1 0h0m2 0h0m3 0h0m1 0h0m1 0h0m1 0h0m2 0h0m1 0h0m1 0h0m2 0h0m1 0h0m3 0h0m1 0h0m2 0h0m2 0h0m1 0h0m2 0h0m1 0h0m2 0h0m2 0h0m1 0h0m3 0h0m1 0h0m3 0h0m1 0h0m3 0h0m-47 1h0m2 0h0m2 0h0m1 0h0m1 0h0m1 0h0m1 0h0m1 0h0m2 0h0m2 0h0m1 0h0m1 0h0m2 0h0m2 0h0m4 0h0m1 0h0m1 0h0m1 0h0m1 0h0m2 0h0m1 0h0m1 0h0m2 0h0m5 0h0m1 0h0m1 0h0m1 0h0m1 0h0m2 0h0m1 0h0m-42 1h0m2 0h0m5 0h0m1 0h0m4 0h0m1 0h0m1 0h0m1 0h0m1 0h0m1 0h0m4 0h0m1 0h0m1 0h0m2 0h0m1 0h0m1 0h0m1 0h0m1 0h0m2 0h0m1 0h0m1 0h0m1 0h0m3 0h0m1 0h0m6 0h0m-39 1h0m2 0h0m2 0h0m1 0h0m1 0h0m1 0h0m1 0h0m2 0h0m1 0h0m3 0h0m1 0h0m1 0h0m1 0h0m1 0h0m1 0h0m3 0h0m1 0h0m2 0h0m2 0h0m1 0h0m3 0h0m1 0h0m1 0h0m2 0h0m1 0h0m2 0h0m-41 1h0m4 0h0m2 0h0m1 0h0m1 0h0m2 0h0m1 0h0m2 0h0m1 0h0m1 0h0m1 0h0m2 0h0m1 0h0m1 0h0m1 0h0m1 0h0m1 0h0m1 0h0m2 0h0m4 0h0m1 0h0m1 0h0m1 0h0m1 0h0m2 0h0m1 0h0m2 0h0m1 0h0m-39 1h0m2 0h0m1 0h0m2 0h0m2 0h0m2 0h0m2 0h0m1 0h0m2 0h0m1 0h0m1 0h0m1 0h0m1 0h0m3 0h0m1 0h0m1 0h0m1 0h0m2 0h0m1 0h0m2 0h0m1 0h0m1 0h0m1 0h0m1 0h0m2 0h0m1 0h0m2 0h0m1 0h0m-40 1h0m2 0h0m1 0h0m1 0h0m1 0h0m1 0h0m1 0h0m1 0h0m1 0h0m1 0h0m2 0h0m1 0h0m4 0h0m1 0h0m1 0h0m1 0h0m1 0h0m1 0h0m1 0h0m1 0h0m1 0h0m1 0h0m1 0h0m2 0h0m2 0h0m2 0h0m1 0h0m2 0h0m1 0h0m2 0h0m1 0h0m-42 1h0m2 0h0m2 0h0m1 0h0m1 0h0m2 0h0m2 0h0m2 0h0m1 0h0m1 0h0m1 0h0m1 0h0m1 0h0m2 0h0m3 0h0m2 0h0m1 0h0m1 0h0m2 0h0m3 0h0m1 0h0m1 0h0m5 0h0m3 0h0m2 0h0m-37 1h0m1 0h0m1 0h0m1 0h0m1 0h0m1 0h0m2 0h0m1 0h0m1 0h0m1 0h0m1 0h0m1 0h0m1 0h0m1 0h0m1 0h0m1 0h0m1 0h0m1 0h0m1 0h0m1 0h0m1 0h0m4 0h0m2 0h0m1 0h0m3 0h0m1 0h0m-39 1h0m1 0h0m2 0h0m3 0h0m1 0h0m1 0h0m2 0h0m3 0h0m1 0h0m2 0h0m2 0h0m2 0h0m1 0h0m1 0h0m3 0h0m1 0h0m1 0h0m1 0h0m2 0h0m1 0h0m1 0h0m1 0h0m2 0h0m2 0h0m1 0h0m1 0h0m1 0h0m1 0h0m1 0h0m1 0h0m-38 1h0m3 0h0m3 0h0m1 0h0m2 0h0m2 0h0m1 0h0m1 0h0m1 0h0m2 0h0m1 0h0m1 0h0m1 0h0m1 0h0m2 0h0m1 0h0m1 0h0m1 0h0m1 0h0m1 0h0m2 0h0m1 0h0m1 0h0m1 0h0m2 0h0m1 0h0m2 0h0m1 0h0m-45 1h0m5 0h0m2 0h0m2 0h0m2 0h0m1 0h0m1 0h0m3 0h0m1 0h0m1 0h0m1 0h0m1 0h0m4 0h0m1 0h0m2 0h0m1 0h0m1 0h0m3 0h0m1 0h0m2 0h0m1 0h0m1 0h0m1 0h0m1 0h0m1 0h0m1 0h0m2 0h0m1 0h0m1 0h0m-41 1h0m1 0h0m5 0h0m1 0h0m1 0h0m1 0h0m1 0h0m3 0h0m2 0h0m4 0h0m2 0h0m2 0h0m2 0h0m4 0h0m1 0h0m1 0h0m1 0h0m1 0h0m3 0h0m1 0h0m1 0h0m-44 1h0m9 0h0m2 0h0m3 0h0m3 0h0m1 0h0m4 0h0m2 0h0m3 0h0m2 0h0m1 0h0m1 0h0m1 0h0m1 0h0m1 0h0m1 0h0m2 0h0m1 0h0m1 0h0m1 0h0m1 0h0m2 0h0m1 0h0m2 0h0m-37 1h0m1 0h0m2 0h0m1 0h0m1 0h0m2 0h0m1 0h0m2 0h0m1 0h0m1 0h0m1 0h0m1 0h0m1 0h0m1 0h0m1 0h0m1 0h0m4 0h0m2 0h0m1 0h0m1 0h0m1 0h0m1 0h0m2 0h0m1 0h0m3 0h0m1 0h0m-34 1h0m4 0h0m1 0h0m1 0h0m1 0h0m1 0h0m3 0h0m2 0h0m1 0h0m1 0h0m1 0h0m2 0h0m1 0h0m1 0h0m2 0h0m1 0h0m2 0h0m1 0h0m1 0h0m1 0h0m2 0h0m3 0h0m-36 1h0m2 0h0m2 0h0m1 0h0m1 0h0m1 0h0m1 0h0m1 0h0m1 0h0m1 0h0m1 0h0m2 0h0m1 0h0m4 0h0m2 0h0m1 0h0m2 0h0m1 0h0m1 0h0m1 0h0m1 0h0m1 0h0m2 0h0m4 0h0m1 0h0m1 0h0m-29 1h0m1 0h0m1 0h0m1 0h0m1 0h0m2 0h0m2 0h0m1 0h0m2 0h0m1 0h0m1 0h0m2 0h0m1 0h0m1 0h0m1 0h0m1 0h0m1 0h0m1 0h0m2 0h0m2 0h0m2 0h0m-31 1h0m1 0h0m1 0h0m1 0h0m2 0h0m4 0h0m1 0h0m2 0h0m1 0h0m1 0h0m1 0h0m2 0h0m1 0h0m1 0h0m2 0h0m3 0h0m1 0h0m4 0h0m-30 1h0m3 0h0m1 0h0m3 0h0m2 0h0m1 0h0m2 0h0m1 0h0m2 0h0m1 0h0m3 0h0m3 0h0m1 0h0m1 0h0m1 0h0m2 0h0m2 0h0m2 0h0m3 0h0m-36 1h0m7 0h0m2 0h0m1 0h0m3 0h0m1 0h0m1 0h0m2 0h0m2 0h0m2 0h0m3 0h0m4 0h0m1 0h0m1 0h0m2 0h0m1 0h0m1 0h0m-31 1h0m3 0h0m4 0h0m1 0h0m1 0h0m4 0h0m2 0h0m2 0h0m1 0h0m1 0h0m1 0h0m1 0h0m1 0h0m3 0h0m1 0h0m2 0h0m1 0h0m1 0h0m-33 1h0m2 0h0m5 0h0m3 0h0m3 0h0m1 0h0m1 0h0m1 0h0m1 0h0m1 0h0m1 0h0m2 0h0m1 0h0m3 0h0m1 0h0m1 0h0m3 0h0m1 0h0m2 0h0m1 0h0m-31 1h0m7 0h0m1 0h0m1 0h0m1 0h0m2 0h0m1 0h0m1 0h0m1 0h0m2 0h0m1 0h0m4 0h0m1 0h0m1 0h0m1 0h0m2 0h0m-27 1h0m3 0h0m2 0h0m3 0h0m1 0h0m3 0h0m7 0h0m1 0h0m1 0h0m1 0h0m1 0h0m1 0h0m2 0h0m2 0h0m-24 1h0m2 0h0m3 0h0m1 0h0m2 0h0m3 0h0m4 0h0m1 0h0m3 0h0m2 0h0m2 0h0m-22 1h0m1 0h0m2 0h0m1 0h0m1 0h0m1 0h0m2 0h0m1 0h0m1 0h0m1 0h0m3 0h0m2 0h0m1 0h0m-16 1h0m1 0h0m2 0h0m1 0h0m2 0h0m2 0h0m1 0h0m5 0h0m5 0h0m-16 1h0m1 0h0m1 0h0m1 0h0m11 0h0m1 0h0m-23 1h0m0 1h0"/>
<path class="d1" stroke="#9a9ac0" d="M85.5 47.5h0m-4 1h0m6 0h0m-3 1h0m4 1h0m-2 4h0m6 1h0m3 3h0m-7 1h0m2 0h0m6 0h0"/>
<path class="d1" stroke="#6e6ea0" d="M87.5 47.5h0m-1 3h0m-7 1h0m5 0h0m1 1h0m11 0h0m-16 2h0m8 0h0m1 0h0m1 1h0m-5 2h0m1 0h0m6 1h0m-13 2h0m7 8h0"/>
<path class="d1" stroke="#8383a3" d="M79.5 48.5h0m9 0h0m5 6h0m-6 1h0m-1 1h0m2 2h0m2 0h0"/>
<path class="d1" stroke="#75317a" d="M99.5 48.5h0m4 0h0m-8 2h0m11 1h0m2 8h0m1 2h0m-8 3h0m4 6h0m3 1h0m-1 2h0m8 0h0m-4 6h0m28 6h0m-17 2h0m0 1h0m1 5h0"/>
<path class="d1" stroke="#262564" d="M80.5 49.5h0m12 0h0m9 2h0m2 1h0m-20 2h0m8 0h0m8 0h0m-7 2h0m6 2h0m-4 1h0m-9 4h0m20 0h0m-13 1h0m4 1h0m4 0h0m-5 1h0m2 1h0m6 0h0m-16 1h0m28 1h0m-24 1h0m1 0h0m3 0h0m4 2h0m16 0h0m-20 2h0m0 2h0m3 0h0m10 0h0m-13 1h0m6 0h0m3 0h0m1 0h0m6 0h0m1 0h0m-11 1h0m14 0h0m-17 1h0m2 0h0m7 0h0m3 0h0m-6 1h0m7 0h0m3 0h0m4 0h0m-11 1h0m1 0h0m-6 1h0m3 0h0m1 0h0m2 0h0m6 0h0m4 0h0m-27 1h0m6 0h0m12 0h0m6 0h0m21 0h0m-36 1h0m6 0h0m4 0h0m2 0h0m5 0h0m1 0h0m-25 1h0m4 0h0m11 0h0m5 0h0m11 0h0m1 0h0m2 0h0m1 0h0m5 0h0m-37 1h0m4 0h0m1 0h0m1 0h0m5 0h0m9 0h0m25 0h0m-34 1h0m1 0h0m5 0h0m16 0h0m3 0h0m-33 1h0m3 0h0m4 0h0m11 0h0m1 0h0m1 0h0m6 0h0m16 0h0m-44 1h0m1 0h0m5 0h0m5 0h0m2 0h0m5 0h0m1 0h0m13 0h0m7 0h0m4 0h0m-41 1h0m1 0h0m9 0h0m1 0h0m4 0h0m2 0h0m2 0h0m10 0h0m5 0h0m1 0h0m6 0h0m-46 1h0m2 0h0m9 0h0m8 0h0m1 0h0m6 0h0m13 0h0m-35 1h0m5 0h0m2 0h0m2 0h0m3 0h0m2 0h0m6 0h0m4 0h0m14 0h0m2 0h0m1 0h0m-41 1h0m3 0h0m2 0h0m1 0h0m4 0h0m10 0h0m1 0h0m20 0h0m-35 1h0m2 0h0m13 0h0m3 0h0m2 0h0m7 0h0m5 0h0m-36 1h0m3 0h0m2 0h0m3 0h0m3 0h0m1 0h0m1 0h0m1 0h0m5 0h0m2 0h0m6 0h0m7 0h0m1 0h0m1 0h0m-33 1h0m2 0h0m2 0h0m2 0h0m4 0h0m1 0h0m5 0h0m9 0h0m6 0h0m1 0h0m7 0h0m-42 1h0m2 0h0m3 0h0m4 0h0m2 0h0m2 0h0m2 0h0m6 0h0m4 0h0m6 0h0m13 0h0m-37 1h0m1 0h0m4 0h0m3 0h0m14 0h0m2 0h0m3 0h0m2 0h0m4 0h0m1 0h0m-41 1h0m4 0h0m2 0h0m4 0h0m9 0h0m6 0h0m10 0h0m7 0h0m-34 1h0m7 0h0m1 0h0m3 0h0m9 0h0m1 0h0m1 0h0m7 0h0m-34 1h0m4 0h0m1 0h0m2 0h0m1 0h0m5 0h0m8 0h0m1 0h0m3 0h0m5 0h0m1 0h0m10 0h0m-43 1h0m6 0h0m2 0h0m1 0h0m10 0h0m1 0h0m5 0h0m1 0h0m4 0h0m-32 1h0m2 0h0m11 0h0m1 0h0m7 0h0m1 0h0m10 0h0m8 0h0m1 0h0m1 0h0m2 0h0m-41 1h0m4 0h0m2 0h0m6 0h0m3 0h0m6 0h0m12 0h0m2 0h0m3 0h0m2 0h0m1 0h0m1 0h0m-46 1h0m13 0h0m1 0h0m6 0h0m3 0h0m6 0h0m4 0h0m3 0h0m5 0h0m2 0h0m3 0h0m-47 1h0m2 0h0m11 0h0m8 0h0m5 0h0m3 0h0m7 0h0m-28 1h0m2 0h0m5 0h0m7 0h0m16 0h0m7 0h0m-37 1h0m6 0h0m5 0h0m4 0h0m3 0h0m1 0h0m1 0h0m1 0h0m11 0h0m1 0h0m-36 1h0m1 0h0m8 0h0m9 0h0m14 0h0m7 0h0m-40 1h0m3 0h0m4 0h0m6 0h0m9 0h0m12 0h0m5 0h0m-43 1h0m6 0h0m2 0h0m6 0h0m4 0h0m7 0h0m2 0h0m3 0h0m3 0h0m5 0h0m1 0h0m-20 1h0m3 0h0m1 0h0m15 0h0m-29 1h0m1 0h0m3 0h0m1 0h0m1 0h0m7 0h0m1 0h0m1 0h0m4 0h0m6 0h0m5 0h0m1 0h0m3 0h0m1 0h0m1 0h0m2 0h0m-39 1h0m2 0h0m2 0h0m6 0h0m3 0h0m1 0h0m7 0h0m4 0h0m2 0h0m3 0h0m1 0h0m-40 1h0m4 0h0m5 0h0m10 0h0m5 0h0m8 0h0m2 0h0m2 0h0m6 0h0m3 0h0m-36 1h0m7 0h0m5 0h0m15 0h0m6 0h0m-36 1h0m2 0h0m10 0h0m4 0h0m1 0h0m12 0h0m2 0h0m2 0h0m-31 1h0m4 0h0m4 0h0m7 0h0m12 0h0m6 0h0m4 0h0m2 0h0m-43 1h0m2 0h0m27 0h0m1 0h0m3 0h0m3 0h0m5 0h0m1 0h0m-46 1h0m9 0h0m4 0h0m2 0h0m1 0h0m5 0h0m2 0h0m5 0h0m5 0h0m5 0h0m-25 1h0m1 0h0m3 0h0m2 0h0m18 0h0m-25 1h0m4 0h0m1 0h0m6 0h0m1 0h0m1 0h0m3 0h0m4 0h0m1 0h0m3 0h0m-28 1h0m2 0h0m1 0h0m6 0h0m1 0h0m2 0h0m2 0h0m2 0h0m2 0h0m2 0h0m2 0h0m2 0h0m1 0h0m1 0h0m6 0h0m1 0h0m-36 1h0m10 0h0m1 0h0m4 0h0m1 0h0m2 0h0m2 0h0m11 0h0m-18 1h0m10 0h0m1 0h0m3 0h0m-19 1h0m7 0h0m2 0h0m5 0h0m15 0h0m2 0h0m1 0h0m-25 1h0m3 0h0m2 0h0m2 0h0m3 0h0m11 0h0m-34 1h0m15 0h0m3 0h0m4 0h0m10 0h0m-34 1h0m14 0h0m3 0h0m5 0h0m7 0h0m3 0h0m1 0h0m6 0h0m-40 1h0m2 0h0m12 0h0m3 0h0m6 0h0m1 0h0m2 0h0m1 0h0m5 0h0m2 0h0m4 0h0m-28 1h0m2 0h0m3 0h0m9 0h0m2 0h0m1 0h0m2 0h0m6 0h0m-18 1h0m1 0h0m1 0h0m2 0h0m2 0h0m8 0h0m3 0h0m-19 1h0m9 0h0m3 0h0m1 0h0m4 0h0m-14 1h0m5 0h0m10 0h0m3 0h0m-33 1h0m6 0h0m2 0h0m3 0h0m6 0h0m1 0h0m1 0h0m14 0h0m-22 1h0m6 0h0m4 0h0m1 0h0m-11 1h0m5 0h0m8 0h0m3 0h0m-12 1h0m5 0h0m6 0h0m2 0h0m-2 1h0m3 0h0"/>
<path class="d1" stroke="#e8a0a0" d="M94.5 49.5h0m8 2h0m1 4h0m2 1h0m4 4h0m-7 2h0m8 1h0m1 2h0m3 1h0m-9 1h0m4 3h0m4 0h0m1 1h0m4 0h0m4 0h0m-6 3h0m6 0h0m-4 2h0m2 0h0m-18 2h0m12 0h0m10 0h0m-8 1h0m5 0h0m8 0h0m-9 1h0m8 0h0m-17 1h0m16 1h0m2 0h0m4 2h0m1 0h0m-20 2h0m19 0h0m-5 1h0m3 1h0m1 1h0m-14 2h0m13 1h0"/>
<path class="d1" stroke="#f2cbcb" d="M100.5 49.5h0m3 5h0m2 3h0m-4 4h0m7 9h0m-3 4h0m9 5h0m7 2h0m14 6h0m-11 4h0"/>
<path class="d1" stroke="#e07070" d="M99.5 50.5h0m1 0h0m-3 1h0m0 3h0m3 1h0m-5 4h0m10 1h0m1 1h0m0 2h0m-3 1h0m9 0h0m-13 1h0m4 0h0m6 0h0m4 1h0m-5 2h0m0 1h0m0 3h0m3 1h0m2 1h0m-11 1h0m9 0h0m6 1h0m-2 1h0m-11 1h0m18 4h0m-11 1h0m4 1h0m4 0h0m-2 1h0m1 0h0m1 2h0m19 0h0m-14 1h0m-7 1h0m21 0h0m-2 1h0m-10 1h0m2 0h0m-1 1h0m5 3h0m1 0h0"/>
<path class="d1" stroke="#bf93c2" d="M102.5 50.5h0m-1 2h0m6 17h0m-2 9h0m16 5h0m5 7h0"/>
<path class="d1" stroke="#c080c0" d="M101.5 54.5h0m-5 2h0m-6 4h0m5 0h0m5 0h0m-5 1h0m8 0h0m1 0h0m-11 1h0m3 0h0m-7 2h0m5 0h0m1 0h0m2 0h0m3 0h0m-5 1h0m6 0h0m-12 1h0m8 0h0m1 0h0m1 0h0m3 0h0m-1 1h0m1 1h0m-9 1h0m2 0h0m8 0h0m-7 1h0m3 0h0m-5 1h0m8 0h0m-13 1h0m16 0h0m-8 1h0m1 0h0m5 0h0m-9 1h0m2 0h0m4 0h0m-6 1h0m-1 2h0m3 0h0m1 0h0m5 0h0m-6 1h0m7 0h0m-2 1h0m-6 2h0m4 0h0m4 3h0m-7 4h0"/>
<path class="d1" stroke="#a36da3" d="M95.5 55.5h0m1 2h0m1 0h0m-3 1h0m7 1h0m-1 2h0m0 1h0m-1 7h0m1 3h0m0 5h0m-8 1h0m3 1h0m11 1h0m-9 6h0m-3 3h0m4 2h0m2 3h0"/>
<path class="d1" stroke="#c58888" d="M104.5 56.5h0m0 1h0m6 2h0m11 10h0m-9 2h0m2 1h0m-4 2h0m-2 1h0m3 1h0m11 0h0m-6 2h0m3 0h0m9 1h0m-11 3h0m15 0h0m-19 1h0m23 2h0m-18 1h0m1 5h0"/>
<path class="d1" stroke="#c7c7dc" d="M85.5 58.5h0m1 0h0m0 1h0"/>
<path class="d1" stroke="#dcb9dc" d="M101.5 58.5h0m-5 2h0m-3 3h0m9 0h0m3 5h0m-5 3h0m1 2h0m-4 1h0m1 4h0m-6 9h0"/>
<path class="d1" stroke="#be5f5f" d="M103.5 58.5h0m4 1h0m0 9h0m10 1h0m-5 1h0m4 0h0m-2 6h0m-11 1h0m6 1h0m4 0h0m0 1h0m7 0h0m3 1h0m-7 1h0m13 0h0m-13 1h0m5 0h0m14 0h0m-18 4h0"/>
<path class="d1" stroke="#cda0d1" d="M44.5 59.5h0m2 2h0m-2 1h0m-3 3h0m-1 1h0m4 0h0m-1 2h0m3 2h0m-1 1h0m-3 1h0m1 2h0m-1 5h0m1 2h0m1 2h0m-1 4h0m1 0h0m-3 1h0m5 1h0"/>
<path class="d1" stroke="#a452ac" d="M45.5 59.5h0m-3 1h0m0 1h0m2 0h0m1 0h0m-4 1h0m1 0h0m1 0h0m-2 1h0m1 0h0m3 0h0m-4 1h0m2 0h0m1 0h0m-2 2h0m-1 1h0m1 0h0m1 0h0m4 0h0m-7 1h0m1 0h0m1 0h0m4 0h0m-6 1h0m2 0h0m1 0h0m3 0h0m-5 2h0m1 0h0m2 0h0m-3 1h0m2 0h0m-2 1h0m1 0h0m1 0h0m-2 1h0m1 1h0m4 0h0m-6 1h0m1 0h0m3 0h0m2 0h0m-6 1h0m1 0h0m1 0h0m3 0h0m-3 1h0m1 0h0m1 0h0m2 0h0m-5 1h0m5 0h0m-6 1h0m1 0h0m1 0h0m0 1h0m-1 1h0m3 0h0m-2 1h0m1 0h0m-2 1h0m4 0h0m-4 1h0m1 0h0m1 1h0m2 0h0m1 0h0m-5 1h0m1 1h0m1 0h0m1 0h0m1 0h0m-3 1h0m1 0h0m1 0h0m1 0h0m3 0h0m-6 1h0m3 0h0m-3 2h0m0 1h0m2 0h0m-1 1h0m1 1h0"/>
<path class="d1" stroke="#8c8bb4" d="M82.5 59.5h0m5 0h0m17 0h0m1 0h0m5 3h0m-21 3h0m11 2h0m-6 1h0m22 0h0m-12 1h0m-9 2h0m2 0h0m8 2h0m11 0h0m-16 2h0m0 1h0m16 0h0m-21 2h0m13 0h0m4 1h0m7 0h0m-19 1h0m4 1h0m13 0h0m8 0h0m9 0h0m-21 1h0m11 2h0m-21 1h0m-9 1h0m30 0h0m5 0h0m6 0h0m-30 1h0m6 0h0m30 0h0m-31 1h0m1 0h0m-9 1h0m11 0h0m8 0h0m4 0h0m1 0h0m-23 2h0m13 1h0m-21 1h0m7 0h0m26 0h0m-23 1h0m8 0h0m12 0h0m10 0h0m8 0h0m-44 1h0m9 1h0m17 0h0m6 0h0m13 0h0m-52 1h0m27 0h0m3 0h0m6 0h0m8 0h0m-18 1h0m9 0h0m-22 1h0m12 0h0m7 0h0m10 0h0m-11 1h0m3 0h0m12 0h0m5 0h0m2 0h0m-54 1h0m28 0h0m16 0h0m1 0h0m4 0h0m-43 1h0m11 0h0m7 0h0m28 0h0m2 0h0m-52 1h0m25 0h0m9 0h0m2 0h0m7 0h0m1 0h0m-41 1h0m32 0h0m6 0h0m7 0h0m-27 1h0m1 0h0m27 0h0m-41 1h0m20 0h0m-8 1h0m10 0h0m-9 1h0m1 0h0m13 0h0m16 0h0m-21 1h0m2 0h0m5 0h0m14 0h0m-32 1h0m3 0h0m-9 1h0m12 0h0m1 0h0m24 0h0m-33 1h0m4 0h0m4 0h0m8 0h0m6 0h0m2 0h0m10 0h0m-40 1h0m-1 1h0m1 0h0m23 0h0m-28 1h0m7 0h0m25 0h0m13 0h0m-34 1h0m4 0h0m9 0h0m6 0h0m-29 1h0m17 0h0m21 0h0m-28 1h0m11 0h0m9 0h0m5 0h0m3 0h0m2 0h0m-27 1h0m24 0h0m-1 1h0m-16 1h0m21 0h0m-33 3h0m14 0h0m2 0h0m2 1h0m8 0h0m-7 1h0m3 0h0m5 0h0m0 1h0m1 0h0m-37 1h0m12 1h0m2 0h0m1 0h0m-5 2h0m7 0h0m15 0h0m-19 1h0m0 1h0m4 0h0m1 2h0m6 0h0m1 0h0m4 1h0m3 0h0m-7 1h0m1 0h0m8 0h0m-23 1h0m10 0h0m13 0h0m-19 1h0"/>
<path class="d1" stroke="#8a3a90" d="M98.5 59.5h0m15 8h0m-10 1h0m2 1h0m17 0h0m4 0h0m-16 1h0m-7 1h0m21 0h0m-12 2h0m17 2h0m-16 2h0m15 1h0m-1 1h0m-15 1h0m9 0h0m1 1h0m-11 1h0m10 2h0m2 0h0m5 0h0m4 0h0m-10 1h0m16 0h0m-17 3h0m7 1h0m0 3h0m6 0h0m-8 1h0m11 3h0"/>
<path class="d1" stroke="#8b4692" d="M43.5 60.5h0m1 0h0m-1 3h0m1 0h0m-2 1h0m0 1h0m-1 1h0m-1 1h0m1 2h0m-1 1h0m1 0h0m3 0h0m1 0h0m-5 1h0m0 1h0m5 1h0m-5 1h0m2 0h0m-1 1h0m2 0h0m-1 1h0m1 0h0m0 1h0m-3 1h0m1 0h0m2 2h0m1 0h0m-3 1h0m2 3h0m1 0h0m0 1h0m-3 1h0m3 0h0m1 1h0m-4 2h0m0 1h0m2 0h0m-1 1h0m2 1h0m-1 1h0m3 3h0"/>
<path class="d1" stroke="#eeb0b0" d="M101.5 63.5h0m1 2h0m9 4h0m-2 3h0m5 1h0m1 1h0m24 9h0"/>
<path class="d1" stroke="#e1c2e1" d="M97.5 112.5h0m4 3h0m-27 6h0m12 1h0m6 0h0m1 4h0m-10 2h0m6 0h0m-10 1h0m19 2h0"/>
<path class="d1" stroke="#34833b" d="M88.5 113.5h0m-8 3h0m18 2h0m-2 3h0m6 0h0m-28 1h0m4 0h0m6 1h0m-2 1h0m14 1h0m2 1h0m0 1h0m-20 1h0m7 0h0m1 0h0m19 0h0m-11 2h0m-2 2h0m6 0h0m-11 1h0m1 0h0m6 0h0m2 0h0m11 0h0m3 0h0m-24 1h0m3 0h0m1 0h0m3 0h0m10 0h0m5 0h0m1 0h0m1 0h0m-26 1h0m2 0h0m1 0h0m4 0h0m3 0h0m2 0h0m2 0h0m4 0h0m3 0h0m3 0h0m-26 1h0m2 0h0m11 0h0m2 0h0m4 0h0m1 0h0m2 0h0m3 0h0m8 0h0m-29 1h0m7 0h0m4 0h0m5 0h0m2 0h0m1 0h0m1 0h0m-19 1h0m11 0h0m1 0h0m8 0h0m-19 1h0m2 0h0m3 0h0m4 0h0m1 0h0m9 0h0m-7 2h0m-11 1h0m1 0h0m1 0h0m6 0h0"/>
<path class="d1" stroke="#c890c8" d="M82.5 114.5h0m-5 1h0m4 1h0m15 0h0m-8 1h0m2 0h0m-1 1h0m1 0h0m-13 1h0m3 0h0m-5 1h0m20 0h0m-19 1h0m9 0h0m5 0h0m3 0h0m-21 1h0m17 0h0m7 1h0m-22 1h0m1 0h0m3 0h0m2 0h0m3 0h0m1 0h0m8 0h0m6 0h0m2 1h0m-21 1h0m2 0h0m1 0h0m4 0h0m-3 1h0m10 0h0m4 0h0m9 0h0m-24 1h0m2 0h0m3 0h0m13 0h0m1 0h0m-25 1h0m12 0h0m10 0h0m-15 2h0m17 2h0m-2 1h0"/>
<path class="d1" stroke="#aa7aaa" d="M85.5 114.5h0m-7 1h0m6 3h0m4 3h0m5 1h0m8 0h0m4 1h0m-22 3h0m16 0h0m8 0h0m-33 1h0m20 1h0m-5 1h0m-11 1h0m5 0h0m20 2h0"/>
<path class="d1" stroke="#3d9a45" d="M78.5 116.5h0m8 0h0m8 1h0m2 0h0m-4 1h0m2 1h0m12 0h0m-27 2h0m5 0h0m3 0h0m14 0h0m-13 1h0m7 0h0m-10 1h0m5 0h0m8 0h0m1 0h0m-6 1h0m-13 1h0m3 0h0m11 0h0m3 0h0m-17 1h0m9 0h0m1 0h0m5 0h0m9 0h0m-7 2h0m5 0h0m2 0h0m3 0h0m-16 1h0m8 0h0m-10 1h0m1 0h0m5 0h0m2 0h0m6 0h0m2 0h0m2 0h0m5 0h0m-33 1h0m8 0h0m1 0h0m3 0h0m11 0h0m1 0h0m-22 1h0m8 0h0m1 0h0m6 0h0m6 0h0m6 0h0m5 0h0m-27 1h0m3 0h0m2 0h0m2 0h0m8 0h0m7 0h0m1 0h0m-25 1h0m1 0h0m3 0h0m3 0h0m3 0h0m2 0h0m1 0h0m7 0h0m-19 1h0m3 0h0m2 0h0m2 0h0m1 0h0m8 0h0m5 0h0m7 0h0m-25 1h0m3 0h0m3 0h0m2 0h0m2 0h0m1 0h0m1 0h0m5 0h0m4 0h0m-24 1h0m4 0h0m3 0h0m2 0h0m1 0h0m4 0h0m1 0h0m8 0h0m-19 1h0m1 0h0m2 0h0m3 0h0m1 0h0m1 0h0m3 0h0m2 0h0m1 0h0m1 0h0m8 0h0m-23 1h0m2 0h0m1 0h0m7 0h0m2 0h0m7 0h0m-22 1h0m7 0h0m4 0h0m1 0h0m3 0h0m1 0h0m3 0h0m6 0h0m-24 1h0m9 0h0m1 0h0m1 0h0m1 0h0m2 0h0m3 0h0m1 0h0m2 0h0m-14 1h0m2 0h0m7 0h0m-4 1h0"/>
<path class="d1" stroke="#94c799" d="M81.5 117.5h0m10 0h0m1 0h0m5 1h0m-3 4h0m-15 2h0m-1 2h0m7 0h0m8 2h0m-1 1h0m2 0h0m6 0h0m-3 2h0m-6 1h0m6 0h0m4 0h0m8 0h0m-25 1h0m15 2h0m1 0h0m-15 1h0m18 0h0m-12 1h0m10 0h0m8 0h0m0 1h0m-15 5h0"/>
<polygon points="38.2,78.5 34.5,86.3 41,98 42,88" fill="#d3deec"/>
<polyline points="38.2,77.5 32.9,86.3 41.3,100.2" fill="none" stroke="#8aa6c8" stroke-width="1.8" stroke-linejoin="round"/>
<rect x="124.30" y="34.60" width="19.40" height="8.50" fill="#fbe2e0" rx="2"/>
<circle cx="128.1" cy="39.0" r="2.1" fill="#a31d24"/>
<text x="133.00" y="41.40" font-size="7.0" stroke="#2b2b2b" textLength="7.4" lengthAdjust="spacingAndGlyphs">C1</text>
<rect x="82.20" y="36.10" width="19.40" height="8.50" fill="#fdf0e8" rx="2"/>
<circle cx="86.0" cy="40.5" r="2.1" fill="#e07b39"/>
<text x="90.90" y="42.90" font-size="7.0" stroke="#2b2b2b" textLength="7.4" lengthAdjust="spacingAndGlyphs">C5</text>
<rect x="44.80" y="32.70" width="19.40" height="8.50" fill="#fcf8e3" rx="2"/>
<circle cx="48.6" cy="37.1" r="2.1" fill="#e9d23a"/>
<text x="53.50" y="39.50" font-size="7.0" stroke="#2b2b2b" textLength="7.4" lengthAdjust="spacingAndGlyphs">C6</text>
<rect x="23.80" y="48.30" width="19.40" height="8.50" fill="#f7ebf6" rx="2"/>
<circle cx="27.6" cy="52.7" r="2.1" fill="#9a5a9a"/>
<text x="32.50" y="55.10" font-size="7.0" stroke="#2b2b2b" textLength="7.4" lengthAdjust="spacingAndGlyphs">C8</text>
<rect x="23.30" y="98.90" width="19.40" height="8.50" fill="#edf1f8" rx="2"/>
<circle cx="27.1" cy="103.3" r="2.1" fill="#8ea4cc"/>
<text x="32.00" y="105.70" font-size="7.0" stroke="#2b2b2b" textLength="7.4" lengthAdjust="spacingAndGlyphs">C7</text>
<rect x="42.20" y="117.60" width="19.40" height="8.50" fill="#f7e9f7" rx="2"/>
<circle cx="46.0" cy="122.0" r="2.1" fill="#8c2a9a"/>
<text x="50.90" y="124.40" font-size="7.0" stroke="#2b2b2b" textLength="7.4" lengthAdjust="spacingAndGlyphs">C4</text>
<rect x="60.90" y="139.90" width="19.40" height="8.50" fill="#e9f4e9" rx="2"/>
<circle cx="64.7" cy="144.3" r="2.1" fill="#2e8a3a"/>
<text x="69.60" y="146.70" font-size="7.0" stroke="#2b2b2b" textLength="7.4" lengthAdjust="spacingAndGlyphs">C3</text>
<rect x="126.30" y="137.80" width="19.40" height="8.50" fill="#e8e8ec" rx="2"/>
<circle cx="130.1" cy="142.2" r="2.1" fill="#2c2a6e"/>
<text x="135.00" y="144.60" font-size="7.0" stroke="#2b2b2b" textLength="7.4" lengthAdjust="spacingAndGlyphs">C2</text>
<rect x="19.50" y="30.50" width="132.00" height="124.00" fill="none" stroke="#3a3a3a" stroke-width="1"/>
<text x="230.50" y="14.40" font-size="8.5" text-anchor="middle" stroke="#2b2b2b" textLength="93" lengthAdjust="spacingAndGlyphs">The ratio of subclusters</text>
<text x="230.20" y="24.60" font-size="8.5" text-anchor="middle" stroke="#2b2b2b" textLength="111" lengthAdjust="spacingAndGlyphs">(relapse/non-relapse group)</text>
<path d="M208.94 38.41A54.0 54.0 0 0 1 250.26 38.41L246.25 48.11A43.5 43.5 0 0 0 212.95 48.11Z" fill="#fbe3da"/>
<path d="M250.26 38.41A54.0 54.0 0 0 1 279.49 67.64L269.79 71.65A43.5 43.5 0 0 0 246.25 48.11Z" fill="#e6e8f3"/>
<path d="M279.49 67.64A54.0 54.0 0 0 1 279.49 108.96L269.79 104.95A43.5 43.5 0 0 0 269.79 71.65Z" fill="#e3f1e7"/>
<path d="M279.49 108.96A54.0 54.0 0 0 1 250.26 138.19L246.25 128.49A43.5 43.5 0 0 0 269.79 104.95Z" fill="#eee6f5"/>
<path d="M250.26 138.19A54.0 54.0 0 0 1 208.94 138.19L212.95 128.49A43.5 43.5 0 0 0 246.25 128.49Z" fill="#fdeee3"/>
<path d="M208.94 138.19A54.0 54.0 0 0 1 179.71 108.96L189.41 104.95A43.5 43.5 0 0 0 212.95 128.49Z" fill="#fdf2e6"/>
<path d="M179.71 108.96A54.0 54.0 0 0 1 179.71 67.64L189.41 71.65A43.5 43.5 0 0 0 189.41 104.95Z" fill="#e3edf6"/>
<path d="M179.71 67.64A54.0 54.0 0 0 1 208.94 38.41L212.95 48.11A43.5 43.5 0 0 0 189.41 71.65Z" fill="#f3ebf5"/>
<circle cx="229.6" cy="88.3" r="41" fill="#fbe8e2"/>
<line x1="229.60" y1="88.30" x2="229.60" y2="47.30" stroke="#e8b0a8" stroke-width="0.5"/>
<line x1="229.60" y1="88.30" x2="258.59" y2="59.31" stroke="#e8b0a8" stroke-width="0.5"/>
<line x1="229.60" y1="88.30" x2="270.60" y2="88.30" stroke="#e8b0a8" stroke-width="0.5"/>
<line x1="229.60" y1="88.30" x2="258.59" y2="117.29" stroke="#e8b0a8" stroke-width="0.5"/>
<line x1="229.60" y1="88.30" x2="229.60" y2="129.30" stroke="#e8b0a8" stroke-width="0.5"/>
<line x1="229.60" y1="88.30" x2="200.61" y2="117.29" stroke="#e8b0a8" stroke-width="0.5"/>
<line x1="229.60" y1="88.30" x2="188.60" y2="88.30" stroke="#e8b0a8" stroke-width="0.5"/>
<line x1="229.60" y1="88.30" x2="200.61" y2="59.31" stroke="#e8b0a8" stroke-width="0.5"/>
<circle cx="229.6" cy="88.3" r="39.5" fill="none" stroke="#dd8f8a" stroke-width="0.6" stroke-dasharray="3 2"/>
<circle cx="229.6" cy="88.3" r="19.8" fill="none" stroke="#dd8f8a" stroke-width="0.6" stroke-dasharray="3 2"/>
<polygon points="229.6,50.1 245.0,72.9 245.4,88.3 241.5,100.2 229.6,105.1 220.6,97.3 208.8,88.3 214.9,73.6" fill="#f2fafb" fill-opacity="0.85" stroke="#74bcbc" stroke-width="1"/>
<circle cx="229.60" cy="50.09" r="1.5" fill="#74bcbc"/>
<circle cx="245.00" cy="72.90" r="1.5" fill="#74bcbc"/>
<circle cx="245.44" cy="88.30" r="1.5" fill="#74bcbc"/>
<circle cx="241.50" cy="100.20" r="1.5" fill="#74bcbc"/>
<circle cx="229.60" cy="105.13" r="1.5" fill="#74bcbc"/>
<circle cx="220.64" cy="97.26" r="1.5" fill="#74bcbc"/>
<circle cx="208.81" cy="88.30" r="1.5" fill="#74bcbc"/>
<circle cx="214.90" cy="73.60" r="1.5" fill="#74bcbc"/>
<polygon points="229.6,52.7 243.9,74.0 253.4,88.3 245.6,104.3 229.6,95.2 213.1,104.8 206.8,88.3 214.9,73.6" fill="#eef7fa" fill-opacity="0.8" stroke="#2f6f86" stroke-width="1"/>
<circle cx="229.60" cy="52.66" r="1.5" fill="#2f6f86"/>
<circle cx="243.88" cy="74.02" r="1.5" fill="#2f6f86"/>
<circle cx="253.36" cy="88.30" r="1.5" fill="#2f6f86"/>
<circle cx="245.56" cy="104.26" r="1.5" fill="#2f6f86"/>
<circle cx="229.60" cy="95.23" r="1.5" fill="#2f6f86"/>
<circle cx="213.08" cy="104.82" r="1.5" fill="#2f6f86"/>
<circle cx="206.83" cy="88.30" r="1.5" fill="#2f6f86"/>
<circle cx="214.90" cy="73.60" r="1.5" fill="#2f6f86"/>
<polygon points="229.6,62.0 243.6,74.3 244.4,88.3 240.8,99.5 229.6,105.7 213.1,104.8 206.8,88.3 214.9,73.6" fill="#f6e0e4" fill-opacity="0.0" stroke="#b2384e" stroke-width="1"/>
<circle cx="229.60" cy="61.97" r="1.5" fill="#b2384e"/>
<circle cx="243.60" cy="74.30" r="1.5" fill="#b2384e"/>
<circle cx="244.45" cy="88.30" r="1.5" fill="#b2384e"/>
<circle cx="240.80" cy="99.50" r="1.5" fill="#b2384e"/>
<circle cx="229.60" cy="105.72" r="1.5" fill="#b2384e"/>
<circle cx="213.08" cy="104.82" r="1.5" fill="#b2384e"/>
<circle cx="206.83" cy="88.30" r="1.5" fill="#b2384e"/>
<circle cx="214.90" cy="73.60" r="1.5" fill="#b2384e"/>
<text x="227.70" y="50.20" font-size="6" text-anchor="middle" fill="#555" stroke="#555">2</text>
<text x="227.20" y="70.30" font-size="6" text-anchor="middle" fill="#555" stroke="#555">1</text>
<text x="227.50" y="86.90" font-size="6" text-anchor="middle" fill="#555" stroke="#555">0</text>
<text x="229.60" y="42.20" font-size="7.4" text-anchor="middle" fill="#d0453a" stroke="#d0453a" transform="rotate(0 229.60 39.60)">C1</text>
<text x="264.04" y="56.46" font-size="7.4" text-anchor="middle" fill="#333" stroke="#333" transform="rotate(45 264.04 53.86)">C2</text>
<text x="278.30" y="90.90" font-size="7.4" text-anchor="middle" fill="#333" stroke="#333" transform="rotate(90 278.30 88.30)">C3</text>
<text x="264.04" y="125.34" font-size="7.4" text-anchor="middle" fill="#333" stroke="#333" transform="rotate(-45 264.04 122.74)">C4</text>
<text x="229.60" y="139.60" font-size="7.4" text-anchor="middle" fill="#333" stroke="#333" transform="rotate(0 229.60 137.00)">C5</text>
<text x="195.16" y="125.34" font-size="7.4" text-anchor="middle" fill="#333" stroke="#333" transform="rotate(45 195.16 122.74)">C6</text>
<text x="180.90" y="90.90" font-size="7.4" text-anchor="middle" fill="#333" stroke="#333" transform="rotate(-90 180.90 88.30)">C7</text>
<text x="195.16" y="56.46" font-size="7.4" text-anchor="middle" fill="#333" stroke="#333" transform="rotate(315 195.16 53.86)">C8</text>
<text x="185.40" y="156.30" font-size="7" stroke="#2b2b2b" textLength="25.4" lengthAdjust="spacingAndGlyphs">Subtype</text>
<line x1="214.00" y1="153.90" x2="222.50" y2="153.90" stroke="#b2384e" stroke-width="1"/>
<circle cx="218.25" cy="153.90" r="1.5" fill="#b2384e"/>
<text x="226.00" y="156.40" font-size="7" stroke="#2b2b2b" textLength="18.5" lengthAdjust="spacingAndGlyphs">t(8;21)</text>
<line x1="248.30" y1="153.90" x2="256.80" y2="153.90" stroke="#74bcbc" stroke-width="1"/>
<circle cx="252.55" cy="153.90" r="1.5" fill="#74bcbc"/>
<text x="260.30" y="156.40" font-size="7" stroke="#2b2b2b" textLength="20" lengthAdjust="spacingAndGlyphs">inv(16)</text>
<line x1="214.00" y1="163.80" x2="222.50" y2="163.80" stroke="#2f6f86" stroke-width="1"/>
<circle cx="218.25" cy="163.80" r="1.5" fill="#2f6f86"/>
<text x="226.00" y="166.30" font-size="7" stroke="#2b2b2b" textLength="29" lengthAdjust="spacingAndGlyphs">FLT3–ITD</text>
<text x="395.00" y="14.40" font-size="8.5" text-anchor="middle" stroke="#2b2b2b" textLength="113" lengthAdjust="spacingAndGlyphs">The distribution of C1 across</text>
<text x="395.20" y="24.60" font-size="8.5" text-anchor="middle" stroke="#2b2b2b" textLength="115" lengthAdjust="spacingAndGlyphs">clone types in pAML patients</text>
<circle cx="345.4" cy="46.2" r="2.6" fill="#f6e2d6" stroke="#000" stroke-opacity="0.25" stroke-width="0.4"/>
<circle cx="361.5" cy="46.2" r="3.5" fill="#e8805c" stroke="#000" stroke-opacity="0.25" stroke-width="0.4"/>
<circle cx="377.5" cy="46.2" r="3.4" fill="#e57f5a" stroke="#000" stroke-opacity="0.25" stroke-width="0.4"/>
<circle cx="394.5" cy="46.2" r="3.8" fill="#7a1216" stroke="#000" stroke-opacity="0.25" stroke-width="0.4"/>
<circle cx="412.8" cy="46.2" r="2.9" fill="#a51d20" stroke="#000" stroke-opacity="0.25" stroke-width="0.4"/>
<circle cx="430.0" cy="46.2" r="2.6" fill="#fbeee6" stroke="#000" stroke-opacity="0.25" stroke-width="0.4"/>
<circle cx="448.7" cy="46.2" r="3.9" fill="#9c1a1c" stroke="#000" stroke-opacity="0.25" stroke-width="0.4"/>
<circle cx="345.4" cy="83.9" r="3.9" fill="#7f1416" stroke="#000" stroke-opacity="0.25" stroke-width="0.4"/>
<circle cx="394.5" cy="83.9" r="2.5" fill="#fbf0ea" stroke="#000" stroke-opacity="0.25" stroke-width="0.4"/>
<circle cx="412.8" cy="83.9" r="3.8" fill="#7a1315" stroke="#000" stroke-opacity="0.25" stroke-width="0.4"/>
<circle cx="430.0" cy="83.9" r="3.5" fill="#f2b590" stroke="#000" stroke-opacity="0.25" stroke-width="0.4"/>
<circle cx="448.7" cy="83.9" r="1.2" fill="#2a0808" stroke="#000" stroke-opacity="0.25" stroke-width="0.4"/>
<circle cx="345.4" cy="122.7" r="1.6" fill="#fdf4ef" stroke="#000" stroke-opacity="0.25" stroke-width="0.4"/>
<circle cx="361.5" cy="122.7" r="1.2" fill="#e9a07a" stroke="#000" stroke-opacity="0.25" stroke-width="0.4"/>
<circle cx="377.5" cy="122.7" r="1.2" fill="#e49a72" stroke="#000" stroke-opacity="0.25" stroke-width="0.4"/>
<circle cx="394.5" cy="122.7" r="1.6" fill="#fbf1ec" stroke="#000" stroke-opacity="0.25" stroke-width="0.4"/>
<circle cx="412.8" cy="122.7" r="1.6" fill="#fdf3ee" stroke="#000" stroke-opacity="0.25" stroke-width="0.4"/>
<circle cx="430.0" cy="122.7" r="1.3" fill="#3a1010" stroke="#000" stroke-opacity="0.25" stroke-width="0.4"/>
<circle cx="448.7" cy="122.7" r="1.9" fill="#fbf0ea" stroke="#000" stroke-opacity="0.25" stroke-width="0.4"/>
<text x="361.50" y="86.40" font-size="6.5" text-anchor="middle" fill="#666" stroke="#666" font-style="italic" style="stroke-width:0">/</text>
<text x="377.50" y="86.40" font-size="6.5" text-anchor="middle" fill="#666" stroke="#666" font-style="italic" style="stroke-width:0">/</text>
<path d="M333.8 32V136.2H456.9V32Z" fill="none" stroke="#333" stroke-width="1"/>
<line x1="330.80" y1="46.20" x2="333.80" y2="46.20" stroke="#333" stroke-width="0.8"/>
<text x="327.30" y="48.40" font-size="6.4" text-anchor="end" stroke="#2b2b2b" textLength="30.3" lengthAdjust="spacingAndGlyphs">Persisitent</text>
<line x1="330.80" y1="83.90" x2="333.80" y2="83.90" stroke="#333" stroke-width="0.8"/>
<text x="327.30" y="86.10" font-size="6.4" text-anchor="end" stroke="#2b2b2b" textLength="19.3" lengthAdjust="spacingAndGlyphs">Falling</text>
<line x1="330.80" y1="122.70" x2="333.80" y2="122.70" stroke="#333" stroke-width="0.8"/>
<text x="327.30" y="124.90" font-size="6.4" text-anchor="end" stroke="#2b2b2b" textLength="31.8" lengthAdjust="spacingAndGlyphs">Dx-specific</text>
<line x1="345.40" y1="136.20" x2="345.40" y2="139.20" stroke="#333" stroke-width="0.8"/>
<text x="347.90" y="143.50" font-size="7.1" text-anchor="end" stroke="#2b2b2b" transform="rotate(-45 347.9 143.5)">pAML1</text>
<line x1="361.50" y1="136.20" x2="361.50" y2="139.20" stroke="#333" stroke-width="0.8"/>
<text x="364.00" y="143.50" font-size="7.1" text-anchor="end" stroke="#2b2b2b" transform="rotate(-45 364.0 143.5)">pAML2</text>
<line x1="377.50" y1="136.20" x2="377.50" y2="139.20" stroke="#333" stroke-width="0.8"/>
<text x="380.00" y="143.50" font-size="7.1" text-anchor="end" stroke="#2b2b2b" transform="rotate(-45 380.0 143.5)">pAML3</text>
<line x1="394.50" y1="136.20" x2="394.50" y2="139.20" stroke="#333" stroke-width="0.8"/>
<text x="397.00" y="143.50" font-size="7.1" text-anchor="end" stroke="#2b2b2b" transform="rotate(-45 397.0 143.5)">pAML10</text>
<line x1="412.80" y1="136.20" x2="412.80" y2="139.20" stroke="#333" stroke-width="0.8"/>
<text x="415.30" y="143.50" font-size="7.1" text-anchor="end" stroke="#2b2b2b" transform="rotate(-45 415.3 143.5)">pAML11</text>
<line x1="430.00" y1="136.20" x2="430.00" y2="139.20" stroke="#333" stroke-width="0.8"/>
<text x="432.50" y="143.50" font-size="7.1" text-anchor="end" stroke="#2b2b2b" transform="rotate(-45 432.5 143.5)">pAML19</text>
<line x1="448.70" y1="136.20" x2="448.70" y2="139.20" stroke="#333" stroke-width="0.8"/>
<text x="451.20" y="143.50" font-size="7.1" text-anchor="end" stroke="#2b2b2b" transform="rotate(-45 451.2 143.5)">pAML20</text>
<text x="461.90" y="36.00" font-size="6" stroke="#2b2b2b" textLength="14" lengthAdjust="spacingAndGlyphs">Ro/e</text>
<circle cx="466.7" cy="42.5" r="1.7" fill="#111"/>
<text x="471.80" y="44.80" font-size="6.4" stroke="#2b2b2b" textLength="9.2" lengthAdjust="spacingAndGlyphs">0.6</text>
<circle cx="466.7" cy="51.6" r="2.2" fill="#111"/>
<text x="471.80" y="53.90" font-size="6.4" stroke="#2b2b2b" textLength="9.2" lengthAdjust="spacingAndGlyphs">0.7</text>
<circle cx="466.7" cy="61.2" r="2.6" fill="#111"/>
<text x="471.80" y="63.50" font-size="6.4" stroke="#2b2b2b" textLength="9.2" lengthAdjust="spacingAndGlyphs">0.8</text>
<circle cx="466.7" cy="70.7" r="3.0" fill="#111"/>
<text x="471.80" y="73.00" font-size="6.4" stroke="#2b2b2b" textLength="9.2" lengthAdjust="spacingAndGlyphs">0.9</text>
<circle cx="466.7" cy="80.1" r="3.6" fill="#111"/>
<text x="471.80" y="82.40" font-size="6.4" stroke="#2b2b2b" textLength="9.2" lengthAdjust="spacingAndGlyphs">1.0</text>
<text x="462.60" y="94.70" font-size="6.2" stroke="#2b2b2b" textLength="16" lengthAdjust="spacingAndGlyphs">–Log</text>
<text x="479.00" y="96.50" font-size="3.8" stroke="#2b2b2b" textLength="2.8" lengthAdjust="spacingAndGlyphs">10</text>
<text x="482.30" y="94.70" font-size="6.2" stroke="#2b2b2b" font-style="italic" textLength="8.8" lengthAdjust="spacingAndGlyphs">(P)</text>
<defs><linearGradient id="gC" x1="0" y1="1" x2="0" y2="0"><stop offset="0" stop-color="#fff8f0"/><stop offset="0.2" stop-color="#fde2c8"/><stop offset="0.45" stop-color="#f5a27a"/><stop offset="0.7" stop-color="#d83a30"/><stop offset="0.88" stop-color="#a81820"/><stop offset="1" stop-color="#500810"/></linearGradient></defs>
<rect x="462.50" y="100.50" width="8.30" height="36.00" fill="url(#gC)" stroke="#333" stroke-width="0.6"/>
<line x1="470.80" y1="101.90" x2="472.60" y2="101.90" stroke="#333" stroke-width="0.6"/>
<text x="475.20" y="104.10" font-size="6.4" stroke="#2b2b2b">10</text>
<line x1="470.80" y1="108.68" x2="472.60" y2="108.68" stroke="#333" stroke-width="0.6"/>
<text x="475.20" y="110.88" font-size="6.4" stroke="#2b2b2b">8</text>
<line x1="470.80" y1="115.46" x2="472.60" y2="115.46" stroke="#333" stroke-width="0.6"/>
<text x="475.20" y="117.66" font-size="6.4" stroke="#2b2b2b">6</text>
<line x1="470.80" y1="122.24" x2="472.60" y2="122.24" stroke="#333" stroke-width="0.6"/>
<text x="475.20" y="124.44" font-size="6.4" stroke="#2b2b2b">4</text>
<line x1="470.80" y1="129.02" x2="472.60" y2="129.02" stroke="#333" stroke-width="0.6"/>
<text x="475.20" y="131.22" font-size="6.4" stroke="#2b2b2b">2</text>
<line x1="470.80" y1="135.80" x2="472.60" y2="135.80" stroke="#333" stroke-width="0.6"/>
<text x="475.20" y="138.00" font-size="6.4" stroke="#2b2b2b">0</text>
<path d="M41.60 197.90L43.97 196.40L49.50 195.90L57.40 196.60L65.30 197.70L77.15 198.70L89.00 199.50L100.85 200.20L108.75 200.60L108.75 202.90L108.75 202.90L108.75 205.20L100.85 205.60L89.00 206.30L77.15 207.10L65.30 208.10L57.40 209.20L49.50 209.90L43.97 209.40L41.60 207.90Z" fill="#f0d43c" stroke="#2a2a2a" stroke-width="0.7" stroke-linejoin="round"/>
<line x1="41.60" y1="202.90" x2="108.75" y2="202.90" stroke="#2a2a2a" stroke-width="0.6"/>
<rect x="51.08" y="200.80" width="30.02" height="4.20" fill="#cacaca" stroke="#777" stroke-width="0.4"/>
<line x1="62.14" y1="200.80" x2="62.14" y2="205.00" stroke="#555" stroke-width="0.6"/>
<line x1="31.80" y1="202.90" x2="34.80" y2="202.90" stroke="#333" stroke-width="0.8"/>
<text x="28.20" y="205.60" font-size="7.6" text-anchor="end" stroke="#2b2b2b" textLength="8.2" lengthAdjust="spacingAndGlyphs">C1</text>
<path d="M41.60 214.60L43.18 212.80L47.92 212.10L65.30 212.10L89.00 212.40L104.80 213.10L114.28 214.10L119.02 215.60L120.60 218.10L120.60 219.10L120.60 219.10L120.60 220.10L119.02 222.60L114.28 224.10L104.80 225.10L89.00 225.80L65.30 226.10L47.92 226.10L43.18 225.40L41.60 223.60Z" fill="#bcd33f" stroke="#2a2a2a" stroke-width="0.7" stroke-linejoin="round"/>
<line x1="41.60" y1="219.10" x2="120.60" y2="219.10" stroke="#2a2a2a" stroke-width="0.6"/>
<rect x="58.19" y="217.00" width="37.13" height="4.20" fill="#cacaca" stroke="#777" stroke-width="0.4"/>
<line x1="75.57" y1="217.00" x2="75.57" y2="221.20" stroke="#555" stroke-width="0.6"/>
<line x1="31.80" y1="219.10" x2="34.80" y2="219.10" stroke="#333" stroke-width="0.8"/>
<text x="28.20" y="221.80" font-size="7.6" text-anchor="end" stroke="#2b2b2b" textLength="8.2" lengthAdjust="spacingAndGlyphs">C2</text>
<path d="M41.60 230.80L43.18 229.00L47.92 228.30L65.30 228.30L89.00 228.60L104.80 229.30L114.28 230.30L119.02 231.80L120.60 234.30L120.60 235.30L120.60 235.30L120.60 236.30L119.02 238.80L114.28 240.30L104.80 241.30L89.00 242.00L65.30 242.30L47.92 242.30L43.18 241.60L41.60 239.80Z" fill="#8ec24f" stroke="#2a2a2a" stroke-width="0.7" stroke-linejoin="round"/>
<line x1="41.60" y1="235.30" x2="120.60" y2="235.30" stroke="#2a2a2a" stroke-width="0.6"/>
<rect x="58.19" y="233.20" width="37.13" height="4.20" fill="#cacaca" stroke="#777" stroke-width="0.4"/>
<line x1="75.57" y1="233.20" x2="75.57" y2="237.40" stroke="#555" stroke-width="0.6"/>
<line x1="31.80" y1="235.30" x2="34.80" y2="235.30" stroke="#333" stroke-width="0.8"/>
<text x="28.20" y="238.00" font-size="7.6" text-anchor="end" stroke="#2b2b2b" textLength="8.2" lengthAdjust="spacingAndGlyphs">C3</text>
<path d="M41.60 247.00L43.18 245.20L49.50 244.50L65.30 244.70L85.05 245.30L100.85 246.50L111.12 248.00L118.23 250.00L120.60 250.90L120.60 251.50L120.60 251.50L120.60 252.10L118.23 253.00L111.12 255.00L100.85 256.50L85.05 257.70L65.30 258.30L49.50 258.50L43.18 257.80L41.60 256.00Z" fill="#4fad6a" stroke="#2a2a2a" stroke-width="0.7" stroke-linejoin="round"/>
<line x1="41.60" y1="251.50" x2="120.60" y2="251.50" stroke="#2a2a2a" stroke-width="0.6"/>
<rect x="56.61" y="249.40" width="33.97" height="4.20" fill="#cacaca" stroke="#777" stroke-width="0.4"/>
<line x1="72.41" y1="249.40" x2="72.41" y2="253.60" stroke="#555" stroke-width="0.6"/>
<line x1="31.80" y1="251.50" x2="34.80" y2="251.50" stroke="#333" stroke-width="0.8"/>
<text x="28.20" y="254.20" font-size="7.6" text-anchor="end" stroke="#2b2b2b" textLength="8.2" lengthAdjust="spacingAndGlyphs">C4</text>
<path d="M41.60 263.20L43.18 261.40L47.92 260.80L65.30 260.70L89.00 260.70L108.75 260.90L116.65 261.70L120.60 263.70L120.60 267.70L120.60 267.70L120.60 271.70L116.65 273.70L108.75 274.50L89.00 274.70L65.30 274.70L47.92 274.60L43.18 274.00L41.60 272.20Z" fill="#2a9a7e" stroke="#2a2a2a" stroke-width="0.7" stroke-linejoin="round"/>
<line x1="41.60" y1="267.70" x2="120.60" y2="267.70" stroke="#2a2a2a" stroke-width="0.6"/>
<rect x="64.51" y="265.60" width="36.34" height="4.20" fill="#cacaca" stroke="#777" stroke-width="0.4"/>
<line x1="83.47" y1="265.60" x2="83.47" y2="269.80" stroke="#555" stroke-width="0.6"/>
<line x1="31.80" y1="267.70" x2="34.80" y2="267.70" stroke="#333" stroke-width="0.8"/>
<text x="28.20" y="270.40" font-size="7.6" text-anchor="end" stroke="#2b2b2b" textLength="8.2" lengthAdjust="spacingAndGlyphs">C5</text>
<path d="M41.60 283.10L53.45 282.40L69.25 281.10L85.05 279.60L100.85 278.10L111.12 277.10L116.65 276.90L119.81 277.90L120.60 280.40L120.60 283.90L120.60 283.90L120.60 287.40L119.81 289.90L116.65 290.90L111.12 290.70L100.85 289.70L85.05 288.20L69.25 286.70L53.45 285.40L41.60 284.70Z" fill="#2a8a8a" stroke="#2a2a2a" stroke-width="0.7" stroke-linejoin="round"/>
<line x1="41.60" y1="283.90" x2="120.60" y2="283.90" stroke="#2a2a2a" stroke-width="0.6"/>
<rect x="77.94" y="281.80" width="34.76" height="4.20" fill="#cacaca" stroke="#777" stroke-width="0.4"/>
<line x1="98.48" y1="281.80" x2="98.48" y2="286.00" stroke="#555" stroke-width="0.6"/>
<line x1="31.80" y1="283.90" x2="34.80" y2="283.90" stroke="#333" stroke-width="0.8"/>
<text x="28.20" y="286.60" font-size="7.6" text-anchor="end" stroke="#2b2b2b" textLength="8.2" lengthAdjust="spacingAndGlyphs">C6</text>
<path d="M41.60 299.50L53.45 298.60L69.25 297.10L85.05 295.50L100.85 293.90L111.12 293.20L117.44 293.50L120.60 295.60L120.60 300.10L120.60 300.10L120.60 304.60L117.44 306.70L111.12 307.00L100.85 306.30L85.05 304.70L69.25 303.10L53.45 301.60L41.60 300.70Z" fill="#2d6f8c" stroke="#2a2a2a" stroke-width="0.7" stroke-linejoin="round"/>
<line x1="41.60" y1="300.10" x2="120.60" y2="300.10" stroke="#2a2a2a" stroke-width="0.6"/>
<rect x="77.94" y="298.00" width="31.60" height="4.20" fill="#cacaca" stroke="#777" stroke-width="0.4"/>
<line x1="96.90" y1="298.00" x2="96.90" y2="302.20" stroke="#555" stroke-width="0.6"/>
<line x1="31.80" y1="300.10" x2="34.80" y2="300.10" stroke="#333" stroke-width="0.8"/>
<text x="28.20" y="302.80" font-size="7.6" text-anchor="end" stroke="#2b2b2b" textLength="8.2" lengthAdjust="spacingAndGlyphs">C7</text>
<path d="M41.60 315.80L65.30 315.70L89.00 315.40L100.85 314.50L108.75 312.50L114.28 310.70L118.23 309.80L120.60 310.80L120.60 316.30L120.60 316.30L120.60 321.80L118.23 322.80L114.28 321.90L108.75 320.10L100.85 318.10L89.00 317.20L65.30 316.90L41.60 316.80Z" fill="#3b2d70" stroke="#2a2a2a" stroke-width="0.7" stroke-linejoin="round"/>
<line x1="41.60" y1="316.30" x2="120.60" y2="316.30" stroke="#2a2a2a" stroke-width="0.6"/>
<rect x="99.27" y="314.20" width="18.96" height="4.20" fill="#cacaca" stroke="#777" stroke-width="0.4"/>
<line x1="113.49" y1="314.20" x2="113.49" y2="318.40" stroke="#555" stroke-width="0.6"/>
<line x1="31.80" y1="316.30" x2="34.80" y2="316.30" stroke="#333" stroke-width="0.8"/>
<text x="28.20" y="319.00" font-size="7.6" text-anchor="end" stroke="#2b2b2b" textLength="8.2" lengthAdjust="spacingAndGlyphs">C8</text>
<line x1="34.80" y1="193.40" x2="34.80" y2="327.20" stroke="#333" stroke-width="1"/>
<line x1="34.30" y1="326.70" x2="125.50" y2="326.70" stroke="#333" stroke-width="1"/>
<line x1="41.60" y1="326.70" x2="41.60" y2="329.50" stroke="#333" stroke-width="0.8"/>
<text x="41.60" y="337.70" font-size="7.4" text-anchor="middle" stroke="#2b2b2b" textLength="10.5" lengthAdjust="spacingAndGlyphs">0.0</text>
<line x1="81.10" y1="326.70" x2="81.10" y2="329.50" stroke="#333" stroke-width="0.8"/>
<text x="81.10" y="337.70" font-size="7.4" text-anchor="middle" stroke="#2b2b2b" textLength="10.5" lengthAdjust="spacingAndGlyphs">0.5</text>
<line x1="120.60" y1="326.70" x2="120.60" y2="329.50" stroke="#333" stroke-width="0.8"/>
<text x="120.60" y="337.70" font-size="7.4" text-anchor="middle" stroke="#2b2b2b" textLength="10.5" lengthAdjust="spacingAndGlyphs">1.0</text>
<text x="82.00" y="350.80" font-size="8.8" text-anchor="middle" stroke="#2b2b2b" textLength="38.5" lengthAdjust="spacingAndGlyphs">EpiTrace age</text>
<text x="15.30" y="259.50" font-size="9.3" text-anchor="middle" stroke="#2b2b2b" textLength="20.8" lengthAdjust="spacingAndGlyphs" transform="rotate(-90 15.30 259.50)">Subset</text>
<path class="d1" stroke="#1a1c4d" d="M279.5 280.5h0m-4 4h0"/>
<path class="d1" stroke="#1e2360" d="M198.5 240.5h0m-4 1h0m-5 11h0m10 13h0m10 3h0m-1 12h0"/>
<path class="d1" stroke="#232a73" d="M201.5 215.5h0m5 8h0m-14 2h0m16 5h0m-9 4h0m-20 3h0m29 0h0m-8 3h0m-11 2h0m15 0h0m-24 5h0m24 4h0m-23 5h0m24 7h0m-7 6h0m17 3h0"/>
<path class="d1" stroke="#9c9fc0" d="M181.5 245.5h0"/>
<path class="d1" stroke="#283186" d="M210.5 205.5h0m-14 3h0m2 2h0m-10 1h0m15 2h0m-16 2h0m13 0h0m3 0h0m-9 4h0m8 1h0m-7 5h0m-5 1h0m13 2h0m3 6h0m-18 2h0m16 0h0m-13 1h0m-3 1h0m8 2h0m-1 1h0m7 2h0m3 1h0m-20 1h0m2 0h0m6 2h0m19 0h0m-11 6h0m5 1h0m-22 1h0m11 7h0m-3 2h0m8 2h0m76 16h0m-10 8h0m-9 3h0"/>
<path class="d1" stroke="#9ea2c9" d="M203.5 209.5h0m-12 3h0m14 16h0m-26 7h0m6 5h0m5 6h0"/>
<path class="d1" stroke="#2e3692" d="M211.5 202.5h0m0 2h0m-11 4h0m2 1h0m-11 1h0m31 2h0m-30 1h0m25 1h0m-13 1h0m-8 1h0m-10 1h0m22 1h0m-18 1h0m79 3h0m-65 2h0m-1 1h0m68 0h0m-63 1h0m-19 2h0m27 0h0m-18 1h0m-5 1h0m2 0h0m77 1h0m-78 1h0m1 1h0m-14 1h0m27 1h0m7 0h0m-24 1h0m7 0h0m75 0h0m-92 1h0m21 0h0m-11 1h0m2 2h0m-9 2h0m13 0h0m-20 1h0m8 0h0m5 0h0m85 0h0m-66 2h0m-26 1h0m6 0h0m-13 1h0m23 0h0m-21 1h0m2 0h0m11 0h0m3 0h0m1 0h0m21 0h0m62 1h0m-97 2h0m3 2h0m0 1h0m18 1h0m5 0h0m-19 1h0m8 0h0m8 0h0m-20 2h0m8 0h0m87 0h0m-94 1h0m9 0h0m24 5h0m-17 4h0m8 6h0m70 1h0m-77 1h0m9 0h0m-3 6h0m65 7h0m2 0h0m-3 1h0m-3 2h0m-4 1h0m-10 5h0"/>
<path class="d1" stroke="#a1a5ce" d="M199.5 211.5h0m-5 5h0m-2 2h0m2 10h0m-1 17h0m7 1h0m-11 1h0m29 2h0m-25 5h0m-5 5h0m17 7h0m-4 3h0m1 4h0"/>
<path class="d1" stroke="#363895" d="M205.5 198.5h0m-7 6h0m8 0h0m-6 2h0m-7 1h0m2 0h0m5 0h0m8 0h0m-15 1h0m6 0h0m29 0h0m-32 1h0m10 1h0m15 0h0m-29 1h0m4 2h0m-1 1h0m15 0h0m-2 1h0m-15 2h0m14 0h0m-3 2h0m-3 1h0m-16 1h0m5 1h0m9 0h0m71 0h0m-84 1h0m9 0h0m-8 1h0m5 0h0m8 0h0m-13 1h0m1 0h0m0 1h0m11 0h0m1 0h0m-1 1h0m4 0h0m-12 1h0m9 0h0m71 0h0m-79 1h0m18 0h0m-28 1h0m6 0h0m36 0h0m-43 1h0m5 0h0m3 0h0m3 0h0m12 0h0m1 0h0m15 0h0m53 0h0m-84 1h0m12 0h0m3 0h0m-23 1h0m17 0h0m-15 1h0m5 0h0m-6 3h0m7 0h0m3 0h0m9 0h0m-23 1h0m4 0h0m22 0h0m-19 1h0m7 0h0m13 1h0m7 0h0m-23 1h0m17 0h0m69 0h0m-97 1h0m3 0h0m4 0h0m92 0h0m-78 1h0m-22 1h0m1 0h0m7 0h0m3 0h0m8 0h0m-20 1h0m33 1h0m-34 1h0m30 1h0m-26 1h0m15 0h0m2 0h0m-12 1h0m16 0h0m11 1h0m-17 1h0m26 0h0m-38 2h0m13 0h0m12 0h0m-23 2h0m95 0h0m1 0h0m-86 1h0m15 0h0m-21 1h0m14 0h0m3 0h0m2 0h0m11 0h0m-25 1h0m10 0h0m2 0h0m6 0h0m-25 1h0m17 2h0m77 0h0m-89 2h0m15 0h0m4 0h0m-3 2h0m6 0h0m-14 2h0m4 1h0m-7 1h0m9 0h0m4 0h0m-11 1h0m79 0h0m1 0h0m-65 1h0m-12 1h0m2 2h0m10 0h0m67 0h0m-79 1h0m14 0h0m63 1h0m-68 3h0m3 1h0m63 0h0m-3 2h0m1 2h0m-61 2h0m60 1h0m-3 1h0m-5 2h0m1 0h0m6 0h0m-7 3h0"/>
<path class="d1" stroke="#a5a5cf" d="M204.5 201.5h0m-4 10h0m10 2h0m-24 2h0m15 1h0m7 5h0m-14 3h0m-10 5h0m86 1h0m-82 3h0m86 0h0m-87 3h0m7 0h0m-8 2h0m9 5h0m-16 3h0m17 2h0m17 3h0m65 4h0m1 2h0m-87 2h0m8 5h0m0 3h0m4 3h0m75 9h0m-67 3h0"/>
<path class="d1" stroke="#3e3998" d="M206.5 199.5h0m-1 2h0m1 1h0m-10 2h0m3 0h0m2 0h0m12 0h0m1 0h0m-16 1h0m19 0h0m-24 1h0m8 0h0m5 1h0m-14 1h0m3 0h0m-4 1h0m7 0h0m14 0h0m-9 1h0m2 0h0m-12 1h0m4 0h0m8 0h0m2 0h0m-8 1h0m3 0h0m-13 1h0m6 0h0m3 0h0m1 0h0m1 0h0m-6 1h0m-3 1h0m1 1h0m1 0h0m14 0h0m1 0h0m-10 1h0m2 0h0m-7 1h0m3 0h0m-11 1h0m6 0h0m18 0h0m1 0h0m1 0h0m-23 1h0m4 1h0m11 0h0m6 0h0m5 1h0m-26 1h0m1 0h0m-4 1h0m16 0h0m13 0h0m56 0h0m-85 1h0m11 0h0m3 0h0m1 0h0m-8 1h0m1 0h0m1 0h0m1 0h0m12 0h0m-19 1h0m29 0h0m-8 1h0m-9 1h0m9 0h0m6 0h0m-17 1h0m8 0h0m8 0h0m-20 1h0m2 0h0m3 0h0m11 0h0m9 0h0m-22 1h0m6 0h0m10 0h0m60 0h0m-77 1h0m-5 1h0m2 0h0m-4 1h0m-5 1h0m30 2h0m-16 1h0m11 0h0m-17 1h0m11 0h0m3 0h0m-27 1h0m1 0h0m6 0h0m24 1h0m-14 1h0m1 0h0m-10 1h0m13 0h0m-11 1h0m-1 1h0m9 0h0m10 0h0m68 0h0m-87 1h0m10 0h0m12 0h0m6 0h0m-16 1h0m1 0h0m5 0h0m-20 1h0m1 0h0m2 0h0m2 0h0m12 0h0m1 0h0m6 0h0m-27 1h0m5 0h0m22 0h0m-26 1h0m2 0h0m15 0h0m4 1h0m-23 1h0m10 1h0m18 0h0m-28 1h0m3 0h0m18 0h0m-16 1h0m11 0h0m80 0h0m-94 1h0m19 0h0m12 0h0m-25 1h0m1 1h0m5 0h0m2 1h0m2 0h0m-15 1h0m13 0h0m2 0h0m9 0h0m1 0h0m-21 1h0m3 0h0m17 0h0m-19 1h0m14 3h0m-4 2h0m2 0h0m78 0h0m-84 3h0m3 0h0m4 0h0m5 0h0m-3 1h0m5 1h0m-2 1h0m-7 1h0m7 0h0m2 1h0m21 3h0m-12 2h0m58 1h0m-65 1h0m-1 2h0m65 0h0m-3 1h0m-5 3h0m2 2h0m-3 3h0m-17 1h0m8 0h0"/>
<path class="d1" stroke="#a8a6d1" d="M205.5 204.5h0m3 1h0m2 5h0m-9 2h0m-14 2h0m2 1h0m16 5h0m6 0h0m-20 1h0m-7 1h0m7 1h0m-2 6h0m-7 2h0m11 0h0m19 4h0m-11 1h0m-5 1h0m-4 5h0m19 0h0m63 0h0m-72 2h0m-25 2h0m27 6h0m-10 3h0m-11 1h0m3 0h0m12 1h0m9 4h0m-2 4h0m12 7h0m-12 6h0m15 14h0"/>
<path class="d1" stroke="#463b9b" d="M210.5 199.5h0m-7 1h0m2 0h0m5 0h0m2 0h0m12 0h0m-18 1h0m13 0h0m-20 1h0m-2 1h0m4 0h0m1 0h0m1 0h0m4 0h0m7 0h0m-10 1h0m-3 1h0m-6 1h0m2 0h0m14 0h0m18 0h0m-33 1h0m2 1h0m6 0h0m14 0h0m-29 1h0m10 0h0m2 0h0m-7 1h0m-3 1h0m18 0h0m-22 1h0m3 0h0m4 0h0m2 0h0m9 0h0m-12 1h0m4 0h0m4 0h0m5 0h0m-15 1h0m8 0h0m6 0h0m-7 1h0m12 0h0m5 0h0m-24 1h0m34 0h0m-34 1h0m5 0h0m5 1h0m1 0h0m3 0h0m2 0h0m10 0h0m-25 1h0m5 0h0m1 0h0m7 0h0m-20 1h0m10 0h0m3 1h0m2 0h0m-14 1h0m3 0h0m3 0h0m17 0h0m-26 1h0m7 0h0m3 0h0m13 1h0m-12 1h0m10 0h0m5 0h0m-26 1h0m8 0h0m6 0h0m6 0h0m7 0h0m4 0h0m-31 1h0m7 0h0m2 0h0m1 0h0m7 0h0m4 0h0m9 0h0m11 0h0m2 0h0m-45 1h0m1 0h0m8 0h0m5 0h0m12 0h0m-24 1h0m4 0h0m6 0h0m8 0h0m70 0h0m2 0h0m-88 1h0m9 0h0m3 0h0m2 0h0m1 0h0m1 0h0m1 0h0m10 0h0m1 0h0m-29 1h0m23 0h0m10 0h0m-3 1h0m-22 1h0m-2 1h0m2 0h0m8 0h0m26 0h0m50 0h0m-96 1h0m2 0h0m21 0h0m1 0h0m69 0h0m-91 1h0m8 0h0m2 0h0m3 0h0m18 0h0m4 0h0m57 0h0m-90 1h0m3 0h0m1 0h0m5 0h0m1 0h0m5 0h0m77 0h0m1 0h0m-94 1h0m2 0h0m13 0h0m18 0h0m59 0h0m-92 1h0m13 0h0m4 0h0m-18 1h0m5 0h0m12 0h0m-12 1h0m5 0h0m7 0h0m-23 1h0m14 0h0m6 0h0m2 0h0m5 0h0m-21 1h0m1 0h0m8 0h0m9 0h0m1 0h0m-21 1h0m2 0h0m17 0h0m8 0h0m4 0h0m-34 1h0m20 0h0m78 0h0m-79 1h0m5 0h0m32 0h0m-47 1h0m4 0h0m2 0h0m13 0h0m8 0h0m-26 1h0m12 0h0m-19 1h0m3 0h0m24 0h0m-31 1h0m22 0h0m15 0h0m60 0h0m-82 1h0m6 0h0m2 0h0m-13 1h0m2 0h0m21 0h0m6 0h0m64 0h0m-93 1h0m10 0h0m-8 1h0m2 0h0m8 0h0m11 0h0m10 0h0m-27 1h0m6 0h0m11 0h0m71 0h0m-89 1h0m2 0h0m33 0h0m-24 1h0m-16 1h0m11 0h0m3 0h0m1 0h0m0 1h0m13 0h0m67 0h0m-85 1h0m3 0h0m7 0h0m-9 1h0m23 0h0m58 0h0m-90 1h0m20 0h0m2 0h0m-17 1h0m9 0h0m15 0h0m-20 1h0m7 0h0m3 0h0m72 0h0m-89 1h0m3 0h0m3 0h0m16 0h0m-17 1h0m1 0h0m10 0h0m-7 1h0m-1 1h0m14 0h0m-16 1h0m28 0h0m-30 1h0m24 1h0m62 1h0m-77 1h0m14 0h0m-13 2h0m5 0h0m12 0h0m1 1h0m-11 1h0m64 0h0m-64 2h0m0 4h0m4 1h0m59 3h0m-56 1h0m49 1h0m5 0h0m-5 1h0m-9 2h0m11 1h0m-8 1h0m-9 2h0m1 2h0"/>
<path class="d1" stroke="#aca7d2" d="M216.5 203.5h0m-14 1h0m6 0h0m4 4h0m-5 2h0m12 1h0m-31 3h0m11 1h0m-14 2h0m15 1h0m-4 2h0m14 1h0m-3 3h0m-10 3h0m4 0h0m-12 3h0m-3 5h0m14 0h0m-20 2h0m16 1h0m21 0h0m16 1h0m45 3h0m-103 1h0m29 2h0m-28 1h0m98 0h0m3 1h0m-84 3h0m1 0h0m29 0h0m53 1h0m-84 1h0m20 1h0m-13 3h0m1 1h0m11 1h0m69 0h0m-83 9h0m6 0h0m-9 1h0m6 1h0m-3 2h0m6 3h0m75 1h0m-70 3h0m11 0h0m-2 1h0m4 3h0m45 11h0m-13 2h0"/>
<path class="d1" stroke="#4e3c9e" d="M203.5 198.5h0m7 0h0m11 1h0m-19 1h0m6 0h0m-8 1h0m9 0h0m2 0h0m2 0h0m9 0h0m-22 1h0m22 0h0m-23 1h0m13 0h0m22 0h0m-13 1h0m-19 1h0m14 0h0m-26 3h0m13 0h0m6 0h0m-16 1h0m0 1h0m4 0h0m3 0h0m11 0h0m-21 1h0m4 0h0m2 0h0m14 0h0m2 0h0m54 1h0m-62 1h0m12 1h0m-24 1h0m15 0h0m20 0h0m-30 1h0m1 0h0m4 0h0m1 0h0m8 0h0m1 0h0m-24 1h0m2 0h0m9 0h0m2 0h0m12 0h0m2 0h0m-26 1h0m17 0h0m7 0h0m-24 1h0m7 0h0m5 0h0m12 0h0m17 0h0m-46 1h0m3 0h0m11 0h0m15 1h0m5 0h0m-31 1h0m4 0h0m3 0h0m11 0h0m2 0h0m5 0h0m-27 1h0m12 0h0m3 0h0m-16 1h0m6 0h0m7 0h0m20 0h0m1 0h0m50 0h0m-85 1h0m1 1h0m17 0h0m1 0h0m10 0h0m12 0h0m-39 1h0m1 0h0m9 0h0m11 0h0m64 0h0m-85 1h0m1 0h0m12 0h0m3 0h0m1 0h0m16 0h0m54 0h0m-81 1h0m14 0h0m1 0h0m-22 1h0m3 0h0m18 0h0m18 0h0m-9 1h0m8 0h0m-40 1h0m1 0h0m4 0h0m1 0h0m17 0h0m22 0h0m45 0h0m-83 1h0m5 0h0m8 0h0m1 0h0m3 0h0m-27 1h0m3 0h0m5 0h0m7 0h0m1 0h0m7 0h0m9 0h0m4 0h0m-34 1h0m11 0h0m1 0h0m1 0h0m4 0h0m-12 1h0m11 1h0m76 0h0m-79 1h0m1 0h0m2 0h0m8 0h0m15 0h0m11 0h0m-55 1h0m2 0h0m12 0h0m5 0h0m7 0h0m1 0h0m1 0h0m8 0h0m6 0h0m57 0h0m-98 1h0m1 0h0m12 0h0m5 0h0m19 0h0m3 0h0m56 0h0m1 0h0m-81 1h0m7 0h0m9 0h0m67 0h0m1 0h0m-102 1h0m13 0h0m5 0h0m-17 1h0m22 0h0m10 0h0m16 0h0m50 0h0m2 0h0m-93 1h0m1 0h0m7 0h0m1 0h0m5 0h0m7 0h0m2 0h0m11 0h0m1 0h0m11 0h0m-49 1h0m6 0h0m14 0h0m5 0h0m13 0h0m-38 1h0m1 0h0m4 0h0m10 0h0m9 0h0m4 0h0m7 0h0m24 0h0m-58 1h0m15 0h0m1 0h0m5 0h0m1 0h0m29 0h0m-57 1h0m1 0h0m8 0h0m1 0h0m1 0h0m6 0h0m1 0h0m11 0h0m3 0h0m8 0h0m8 0h0m51 0h0m-97 1h0m7 0h0m4 0h0m2 0h0m9 0h0m2 0h0m1 0h0m3 0h0m7 0h0m9 0h0m55 0h0m-98 1h0m3 0h0m5 0h0m5 0h0m4 0h0m16 0h0m-29 1h0m1 0h0m9 0h0m-1 1h0m4 0h0m3 0h0m1 0h0m2 0h0m1 0h0m1 0h0m74 0h0m-89 1h0m4 0h0m3 0h0m7 0h0m1 0h0m1 0h0m2 0h0m-19 1h0m10 0h0m19 0h0m16 0h0m47 0h0m-91 1h0m7 0h0m5 0h0m12 0h0m9 0h0m55 0h0m-87 1h0m5 0h0m8 0h0m29 0h0m-43 1h0m11 0h0m6 0h0m15 0h0m-35 1h0m2 0h0m6 0h0m1 0h0m9 0h0m-13 1h0m37 0h0m1 0h0m52 0h0m-87 1h0m4 0h0m-11 1h0m3 0h0m14 0h0m1 0h0m8 1h0m67 0h0m-85 1h0m3 0h0m15 0h0m8 0h0m59 0h0m-85 1h0m14 0h0m8 0h0m1 0h0m8 0h0m-27 1h0m3 0h0m7 0h0m2 0h0m-8 1h0m6 0h0m7 0h0m9 0h0m-32 1h0m22 1h0m-8 1h0m3 0h0m3 0h0m2 0h0m-17 1h0m6 0h0m17 0h0m59 0h0m0 1h0m-81 1h0m22 0h0m-9 1h0m8 0h0m-20 1h0m5 0h0m6 0h0m-4 2h0m74 0h0m-77 1h0m6 0h0m1 0h0m69 1h0m-72 1h0m12 0h0m59 0h0m-62 1h0m-3 2h0m2 1h0m61 1h0m-61 1h0m60 0h0m-57 1h0m37 0h0m21 0h0m-62 1h0m8 0h0m49 0h0m-2 2h0m-50 1h0m2 0h0m50 0h0m-53 1h0m49 1h0m-9 1h0m1 0h0m8 0h0m-8 1h0m-10 1h0m3 0h0m8 0h0m2 0h0m-7 1h0m-2 1h0m2 0h0"/>
<path class="d1" stroke="#afa7d3" d="M205.5 202.5h0m12 0h0m-14 2h0m1 1h0m17 1h0m-29 3h0m10 2h0m-9 3h0m-3 1h0m4 0h0m-2 2h0m-5 1h0m11 0h0m16 1h0m-28 1h0m8 1h0m11 0h0m2 0h0m-22 1h0m14 1h0m-1 1h0m1 0h0m0 5h0m13 0h0m57 0h0m-78 1h0m0 9h0m44 1h0m-51 5h0m-9 1h0m97 0h0m-49 1h0m-26 1h0m-22 1h0m20 0h0m-6 1h0m10 4h0m-10 1h0m1 0h0m2 1h0m3 0h0m6 1h0m77 0h0m-60 2h0m-26 2h0m46 0h0m-37 5h0m1 1h0m5 1h0m15 0h0m-12 3h0m69 1h0m-72 2h0m11 3h0m-8 6h0m65 3h0m-18 10h0"/>
<path class="d1" stroke="#563ea1" d="M218.5 199.5h0m-1 1h0m0 1h0m-19 1h0m4 0h0m7 0h0m7 0h0m-16 1h0m4 0h0m2 0h0m3 0h0m0 1h0m8 0h0m-17 1h0m27 0h0m-17 1h0m18 0h0m-34 1h0m3 0h0m7 0h0m6 0h0m22 0h0m-25 1h0m6 0h0m10 0h0m1 0h0m-29 1h0m9 0h0m20 0h0m6 0h0m-40 1h0m2 0h0m31 0h0m-9 1h0m-26 1h0m4 0h0m6 0h0m2 0h0m3 0h0m5 0h0m1 0h0m56 0h0m-75 1h0m4 0h0m32 0h0m-37 1h0m8 0h0m12 0h0m2 0h0m7 0h0m-12 1h0m-18 1h0m2 0h0m5 0h0m11 0h0m3 0h0m7 0h0m2 0h0m3 0h0m-27 1h0m3 0h0m7 0h0m13 0h0m-27 1h0m5 0h0m4 0h0m-12 1h0m16 0h0m3 0h0m11 0h0m-26 1h0m2 0h0m4 0h0m11 0h0m8 0h0m8 0h0m-38 1h0m1 0h0m1 0h0m2 0h0m6 0h0m10 0h0m20 0h0m11 0h0m-41 1h0m2 0h0m3 0h0m9 0h0m6 0h0m3 0h0m-15 1h0m1 0h0m6 0h0m1 0h0m-21 1h0m18 0h0m4 0h0m15 0h0m-37 1h0m6 0h0m5 0h0m6 0h0m5 1h0m2 0h0m4 0h0m1 0h0m5 0h0m-43 1h0m7 0h0m16 0h0m6 0h0m20 0h0m41 0h0m-79 1h0m3 0h0m8 0h0m7 0h0m-26 1h0m3 0h0m6 0h0m2 0h0m6 0h0m2 0h0m3 0h0m10 0h0m51 0h0m-87 1h0m30 0h0m58 0h0m2 0h0m-84 1h0m8 0h0m5 0h0m6 0h0m9 0h0m3 0h0m7 0h0m-39 1h0m5 0h0m4 0h0m3 0h0m11 0h0m10 0h0m1 0h0m-37 1h0m1 0h0m1 0h0m1 0h0m1 0h0m3 0h0m10 0h0m1 0h0m3 0h0m10 0h0m2 0h0m8 0h0m11 0h0m-49 1h0m10 0h0m1 0h0m8 0h0m-18 1h0m1 0h0m7 0h0m1 0h0m1 0h0m4 0h0m13 0h0m44 0h0m-79 1h0m10 0h0m7 0h0m4 0h0m-14 1h0m9 0h0m3 0h0m12 0h0m-7 1h0m-16 1h0m7 0h0m5 0h0m25 0h0m-30 1h0m15 0h0m4 0h0m-36 1h0m4 0h0m16 0h0m13 0h0m63 0h0m-94 1h0m1 0h0m22 0h0m6 0h0m1 0h0m64 0h0m-94 1h0m27 0h0m8 0h0m1 0h0m57 0h0m5 0h0m-101 1h0m10 0h0m4 0h0m5 0h0m3 0h0m22 0h0m7 0h0m47 0h0m1 0h0m1 0h0m1 0h0m-95 1h0m9 0h0m3 0h0m12 0h0m9 0h0m2 0h0m60 0h0m-72 1h0m15 0h0m3 0h0m-39 1h0m3 0h0m7 0h0m82 0h0m-74 1h0m6 0h0m3 0h0m8 0h0m57 0h0m2 0h0m-97 1h0m1 0h0m3 0h0m24 0h0m4 0h0m62 0h0m-96 1h0m1 0h0m2 0h0m5 0h0m5 0h0m12 0h0m1 0h0m10 0h0m2 0h0m58 0h0m4 0h0m-100 1h0m11 0h0m25 0h0m1 0h0m2 0h0m3 0h0m4 0h0m52 0h0m-93 1h0m23 0h0m-26 1h0m10 0h0m2 0h0m7 0h0m8 0h0m2 0h0m1 0h0m19 0h0m46 0h0m1 0h0m-91 1h0m5 0h0m3 0h0m2 0h0m8 0h0m73 0h0m-94 1h0m3 0h0m15 0h0m13 0h0m6 0h0m57 1h0m-92 1h0m1 0h0m22 0h0m2 0h0m2 0h0m6 0h0m1 0h0m-36 1h0m12 0h0m15 0h0m7 0h0m-31 1h0m9 0h0m5 0h0m8 0h0m2 0h0m68 0h0m-88 1h0m11 0h0m4 0h0m74 0h0m-92 1h0m1 0h0m6 0h0m2 0h0m5 0h0m27 0h0m11 0h0m38 0h0m-57 1h0m58 0h0m-82 1h0m4 0h0m13 0h0m3 0h0m9 0h0m6 0h0m-3 1h0m50 0h0m2 0h0m-89 1h0m12 0h0m3 0h0m3 0h0m5 0h0m4 0h0m63 0h0m-62 1h0m3 0h0m58 0h0m-86 1h0m4 0h0m8 0h0m16 0h0m10 0h0m44 0h0m2 0h0m-81 1h0m14 0h0m6 0h0m9 0h0m-31 1h0m7 0h0m5 0h0m70 0h0m4 0h0m-83 1h0m10 0h0m6 0h0m2 0h0m7 0h0m-18 1h0m-4 1h0m5 0h0m1 0h0m5 0h0m66 0h0m-79 1h0m1 0h0m6 0h0m6 0h0m65 0h0m2 0h0m-79 1h0m2 0h0m10 0h0m63 0h0m2 0h0m1 0h0m-68 1h0m-7 1h0m1 0h0m4 0h0m1 0h0m3 0h0m6 0h0m1 0h0m59 0h0m-72 1h0m14 0h0m59 0h0m-57 1h0m13 0h0m42 0h0m1 0h0m-74 1h0m5 0h0m3 0h0m10 0h0m58 0h0m-75 1h0m13 0h0m23 1h0m12 0h0m-44 1h0m69 0h0m-65 1h0m5 0h0m53 1h0m2 0h0m-61 1h0m1 1h0m7 0h0m52 0h0m-3 1h0m3 0h0m-4 1h0m1 0h0m-52 1h0m54 2h0m-12 1h0m2 0h0m4 0h0m1 0h0m-4 1h0m-6 1h0m1 1h0m2 1h0m-7 2h0m-24 2h0"/>
<path class="d1" stroke="#b3a8d5" d="M209.5 197.5h0m-12 7h0m-5 1h0m9 2h0m7 2h0m4 1h0m3 0h0m21 3h0m-41 2h0m41 1h0m-25 1h0m8 0h0m-26 2h0m-4 1h0m10 1h0m-7 2h0m2 0h0m14 0h0m1 0h0m-6 1h0m-17 1h0m1 3h0m19 0h0m-9 1h0m-7 1h0m38 0h0m-24 4h0m13 1h0m7 1h0m-18 2h0m-25 1h0m3 0h0m24 0h0m11 1h0m-14 2h0m-2 1h0m4 0h0m-13 1h0m4 2h0m76 3h0m-58 1h0m-31 2h0m96 4h0m-86 1h0m19 0h0m-2 1h0m10 0h0m-16 1h0m-3 1h0m2 2h0m33 0h0m-20 1h0m-5 1h0m64 1h0m-56 1h0m4 0h0m-19 2h0m5 1h0m6 1h0m-7 2h0m15 4h0m20 7h0m27 1h0m0 1h0m-48 1h0m44 5h0"/>
<path class="d1" stroke="#6140a3" d="M208.5 199.5h0m3 0h0m4 0h0m-6 1h0m7 0h0m4 1h0m3 0h0m3 0h0m-19 1h0m5 0h0m3 0h0m14 0h0m-33 1h0m12 0h0m2 0h0m3 0h0m4 0h0m3 0h0m1 0h0m8 0h0m-19 1h0m-16 1h0m2 0h0m3 0h0m6 0h0m10 0h0m6 0h0m2 0h0m1 0h0m-20 1h0m4 0h0m15 0h0m-18 1h0m4 0h0m3 0h0m3 0h0m-24 1h0m10 0h0m9 0h0m9 0h0m-22 1h0m14 0h0m2 0h0m-18 1h0m1 0h0m8 0h0m5 0h0m8 0h0m2 0h0m-24 1h0m6 0h0m3 0h0m4 0h0m-13 1h0m17 0h0m4 0h0m5 0h0m4 0h0m-38 1h0m4 0h0m23 0h0m1 0h0m8 0h0m-33 1h0m13 0h0m3 0h0m8 0h0m7 0h0m4 0h0m-36 2h0m25 0h0m5 0h0m1 0h0m-25 1h0m8 0h0m3 0h0m4 0h0m2 0h0m8 0h0m3 0h0m-19 1h0m6 0h0m-8 1h0m5 0h0m11 0h0m-15 1h0m4 0h0m12 0h0m4 0h0m-26 1h0m5 0h0m22 0h0m1 0h0m-32 1h0m4 0h0m3 0h0m13 0h0m17 0h0m2 0h0m-31 1h0m18 1h0m3 0h0m3 0h0m-32 1h0m8 0h0m18 0h0m51 0h0m-85 1h0m4 0h0m9 0h0m11 0h0m9 0h0m51 0h0m-78 1h0m3 0h0m8 0h0m67 0h0m2 0h0m-88 1h0m16 0h0m14 0h0m1 0h0m1 0h0m15 0h0m40 0h0m-88 1h0m8 0h0m82 0h0m-89 1h0m3 0h0m18 0h0m5 0h0m8 0h0m2 0h0m3 0h0m3 0h0m48 0h0m-85 1h0m3 0h0m25 0h0m-9 1h0m11 0h0m4 0h0m47 0h0m5 0h0m-69 1h0m4 0h0m6 0h0m8 0h0m4 0h0m12 0h0m32 0h0m-82 1h0m31 0h0m2 0h0m7 0h0m45 0h0m-90 1h0m18 0h0m3 0h0m1 0h0m4 0h0m1 0h0m11 0h0m50 0h0m2 0h0m-94 1h0m1 0h0m2 0h0m20 0h0m2 0h0m1 0h0m1 0h0m18 0h0m-40 1h0m5 0h0m15 0h0m1 0h0m-16 1h0m3 0h0m7 0h0m2 0h0m6 0h0m1 0h0m3 0h0m1 0h0m8 0h0m22 0h0m-55 1h0m18 0h0m4 0h0m-19 1h0m10 0h0m6 0h0m3 0h0m5 0h0m-37 1h0m26 0h0m17 0h0m1 0h0m3 0h0m47 0h0m2 0h0m-79 1h0m19 0h0m20 0h0m21 0h0m-71 1h0m2 0h0m8 0h0m15 0h0m4 0h0m60 0h0m5 0h0m-99 1h0m2 0h0m22 0h0m6 0h0m1 0h0m14 0h0m-45 1h0m4 0h0m5 0h0m4 0h0m6 0h0m9 0h0m5 0h0m2 0h0m-22 1h0m11 0h0m11 0h0m62 0h0m-97 1h0m4 0h0m12 0h0m5 0h0m6 0h0m3 0h0m9 0h0m21 0h0m1 0h0m-57 1h0m15 0h0m14 0h0m6 0h0m3 0h0m-29 1h0m6 0h0m-13 1h0m16 0h0m2 0h0m9 0h0m2 0h0m45 0h0m18 0h0m-92 1h0m17 0h0m1 0h0m6 0h0m8 0h0m-34 1h0m7 0h0m6 0h0m4 0h0m10 0h0m2 0h0m2 0h0m7 0h0m55 0h0m-91 1h0m2 0h0m7 0h0m3 0h0m1 0h0m9 0h0m26 0h0m47 0h0m-99 1h0m4 0h0m15 0h0m2 0h0m3 0h0m21 0h0m7 0h0m41 0h0m7 0h0m-88 1h0m6 0h0m5 0h0m11 0h0m-14 1h0m6 0h0m7 0h0m5 0h0m42 0h0m-71 1h0m2 0h0m4 0h0m21 0h0m63 0h0m-82 1h0m10 0h0m11 0h0m8 0h0m-25 1h0m15 0h0m3 0h0m27 0h0m-45 1h0m6 0h0m2 0h0m2 0h0m3 0h0m65 0h0m-89 1h0m25 0h0m8 0h0m8 0h0m47 0h0m1 0h0m-89 1h0m2 0h0m1 0h0m5 0h0m14 0h0m11 0h0m-33 1h0m16 0h0m26 0h0m48 0h0m-85 1h0m9 0h0m-13 1h0m15 0h0m13 0h0m7 0h0m3 0h0m-38 1h0m6 0h0m1 0h0m4 0h0m14 0h0m11 0h0m1 0h0m2 0h0m-36 1h0m13 0h0m1 0h0m3 0h0m7 0h0m56 0h0m4 0h0m2 0h0m-78 1h0m13 0h0m63 0h0m2 0h0m-77 1h0m1 0h0m13 0h0m1 0h0m6 0h0m53 0h0m2 0h0m-39 1h0m-41 1h0m4 0h0m21 0h0m22 0h0m-51 1h0m4 0h0m8 0h0m13 0h0m2 0h0m-14 1h0m11 0h0m-15 1h0m1 0h0m8 0h0m65 0h0m-64 1h0m5 0h0m3 0h0m-18 1h0m12 0h0m16 0h0m44 0h0m-73 1h0m1 0h0m3 0h0m4 0h0m11 0h0m-13 1h0m3 0h0m-3 1h0m1 1h0m64 0h0m2 0h0m-67 1h0m4 0h0m7 0h0m2 0h0m52 0h0m-57 1h0m20 0h0m-18 1h0m2 0h0m54 0h0m-64 1h0m62 0h0m3 0h0m-50 1h0m50 1h0m-59 1h0m2 1h0m5 0h0m39 1h0m-47 1h0m46 0h0m-43 1h0m44 0h0m-40 1h0m46 0h0m-15 1h0m6 0h0m1 1h0m-38 1h0m30 0h0m2 0h0m-8 2h0m2 0h0m8 0h0m-29 1h0m10 2h0m-8 1h0m3 1h0"/>
<path class="d1" stroke="#b8a9d6" d="M207.5 199.5h0m-6 3h0m22 1h0m-3 2h0m19 2h0m-39 2h0m20 0h0m-19 1h0m-12 1h0m33 0h0m-15 1h0m-19 1h0m8 1h0m4 0h0m11 1h0m-25 1h0m37 0h0m-36 1h0m22 0h0m5 1h0m11 1h0m-8 2h0m-1 3h0m5 0h0m25 1h0m26 1h0m-57 1h0m3 0h0m-32 2h0m88 0h0m-84 2h0m21 0h0m1 0h0m-19 1h0m17 1h0m9 0h0m-3 1h0m7 2h0m-8 1h0m5 0h0m52 0h0m-88 1h0m89 0h0m-48 1h0m-41 1h0m2 0h0m90 0h0m-91 1h0m18 0h0m15 0h0m-32 1h0m5 0h0m13 1h0m13 3h0m-2 1h0m10 0h0m-36 1h0m26 1h0m-8 1h0m71 0h0m-99 2h0m38 0h0m-6 2h0m-20 1h0m-2 3h0m26 1h0m62 0h0m-48 2h0m-20 3h0m-5 1h0m9 2h0m17 2h0m11 0h0m2 2h0m-44 1h0m5 0h0m63 0h0m-63 1h0m19 0h0m15 0h0m-10 1h0m-22 1h0m10 0h0m58 1h0m-60 3h0m-2 1h0m59 2h0m2 0h0m-54 2h0m11 3h0m-12 2h0m52 1h0m-7 2h0m8 0h0m-22 7h0"/>
<path class="d1" stroke="#6f41a2" d="M205.5 199.5h0m11 0h0m-8 2h0m7 0h0m-11 1h0m-6 1h0m7 0h0m14 0h0m12 0h0m1 0h0m-20 1h0m6 0h0m7 0h0m1 0h0m-20 1h0m3 0h0m2 0h0m15 0h0m-32 1h0m2 0h0m2 0h0m5 0h0m6 0h0m6 0h0m5 0h0m6 0h0m5 1h0m-34 1h0m17 0h0m11 0h0m2 0h0m-6 1h0m4 0h0m-26 1h0m31 0h0m2 0h0m5 0h0m-26 1h0m5 0h0m8 0h0m-18 1h0m4 0h0m1 0h0m4 0h0m3 0h0m2 0h0m10 0h0m3 0h0m-47 1h0m35 0h0m3 0h0m-32 1h0m16 0h0m11 0h0m10 0h0m12 0h0m-48 1h0m3 0h0m1 0h0m5 0h0m15 0h0m4 0h0m-16 1h0m8 0h0m17 0h0m2 0h0m1 0h0m-44 1h0m33 0h0m8 0h0m-47 1h0m5 0h0m3 0h0m3 0h0m9 0h0m6 0h0m6 0h0m7 0h0m47 0h0m-70 1h0m1 0h0m8 0h0m8 0h0m3 0h0m2 0h0m13 0h0m3 0h0m-47 1h0m4 0h0m6 0h0m4 0h0m14 0h0m3 0h0m14 0h0m33 0h0m-64 1h0m8 0h0m2 0h0m2 0h0m4 0h0m12 0h0m-44 1h0m18 0h0m2 0h0m14 0h0m13 0h0m32 0h0m-69 1h0m9 0h0m8 0h0m3 0h0m9 0h0m11 0h0m2 0h0m-54 1h0m40 0h0m45 0h0m1 0h0m-62 1h0m3 0h0m1 0h0m7 0h0m19 0h0m-54 1h0m1 0h0m18 0h0m11 0h0m7 0h0m47 0h0m-63 1h0m14 0h0m11 0h0m-44 1h0m36 0h0m17 0h0m28 0h0m-61 1h0m3 0h0m5 0h0m5 0h0m-18 1h0m13 0h0m13 0h0m43 0h0m-87 1h0m13 0h0m28 0h0m8 0h0m-44 1h0m10 0h0m12 0h0m11 0h0m47 0h0m-77 1h0m8 1h0m8 0h0m3 0h0m5 0h0m-34 1h0m26 0h0m16 0h0m6 0h0m1 0h0m-33 1h0m10 0h0m1 0h0m6 0h0m54 0h0m1 0h0m-71 1h0m14 0h0m2 0h0m21 0h0m37 0h0m-94 1h0m21 0h0m71 0h0m2 0h0m2 0h0m-87 1h0m8 0h0m4 0h0m15 0h0m5 0h0m1 0h0m4 0h0m11 0h0m24 0h0m12 0h0m-93 1h0m1 0h0m7 0h0m9 0h0m7 0h0m4 0h0m3 0h0m15 0h0m-42 1h0m4 0h0m3 0h0m10 0h0m22 0h0m22 0h0m33 0h0m-101 1h0m22 0h0m13 0h0m8 0h0m10 0h0m3 0h0m20 0h0m5 0h0m18 0h0m-89 1h0m5 0h0m36 0h0m1 0h0m1 0h0m-41 1h0m24 0h0m10 0h0m-27 1h0m3 0h0m2 0h0m2 0h0m22 0h0m46 0h0m-85 1h0m5 0h0m33 0h0m-47 1h0m27 0h0m20 0h0m7 0h0m13 0h0m31 0h0m-87 1h0m2 0h0m13 0h0m72 0h0m2 0h0m-77 1h0m-10 1h0m6 0h0m26 0h0m3 0h0m1 0h0m1 0h0m47 0h0m-94 1h0m13 0h0m1 0h0m2 0h0m2 0h0m9 0h0m1 0h0m2 0h0m2 0h0m11 0h0m6 0h0m2 0h0m44 0h0m-95 1h0m2 0h0m34 0h0m11 0h0m2 0h0m4 0h0m26 0h0m-50 1h0m-29 1h0m23 0h0m10 0h0m-8 1h0m1 0h0m7 0h0m-28 1h0m12 0h0m13 0h0m8 0h0m19 0h0m-33 1h0m2 0h0m5 0h0m12 0h0m-24 1h0m14 0h0m13 0h0m4 0h0m46 0h0m-87 1h0m33 0h0m-28 1h0m1 0h0m22 0h0m60 0h0m1 0h0m-72 1h0m5 0h0m11 0h0m3 0h0m-35 1h0m21 0h0m11 0h0m52 0h0m2 0h0m-87 1h0m6 0h0m3 0h0m5 0h0m1 0h0m2 0h0m2 0h0m3 0h0m-12 1h0m4 0h0m8 0h0m49 0h0m-65 1h0m18 0h0m20 0h0m47 0h0m-86 1h0m20 0h0m2 0h0m4 0h0m33 0h0m16 0h0m-76 1h0m25 0h0m2 0h0m1 0h0m4 0h0m1 0h0m14 0h0m3 0h0m3 0h0m9 0h0m25 0h0m-85 1h0m13 0h0m5 0h0m5 0h0m5 0h0m6 0h0m-32 1h0m2 0h0m9 0h0m20 0h0m-22 1h0m72 0h0m2 0h0m-71 1h0m4 0h0m1 0h0m5 0h0m3 0h0m-19 1h0m22 0h0m19 0h0m-37 1h0m1 0h0m14 0h0m56 0h0m-58 1h0m60 0h0m-47 1h0m43 0h0m-63 1h0m47 0h0m19 0h0m-3 1h0m1 0h0m-68 1h0m3 0h0m2 0h0m7 0h0m54 0h0m1 0h0m-70 1h0m7 0h0m5 0h0m5 0h0m2 0h0m-10 1h0m5 0h0m41 0h0m17 0h0m-63 1h0m2 0h0m1 0h0m1 1h0m52 1h0m1 0h0m-58 1h0m-2 2h0m5 0h0m54 0h0m-51 1h0m48 0h0m5 0h0m-58 1h0m8 0h0m-8 1h0m17 1h0m27 0h0m2 0h0m4 0h0m-42 1h0m40 0h0m-44 1h0m36 0h0m-35 1h0m9 0h0m1 1h0m7 0h0m23 0h0m3 0h0m-41 1h0m6 0h0m2 0h0m18 0h0m7 0h0m-32 1h0m3 0h0m28 0h0m4 0h0m-31 1h0m27 0h0m2 0h0m-24 1h0m-5 1h0m12 0h0m-6 2h0"/>
<path class="d1" stroke="#beaad5" d="M206.5 200.5h0m6 1h0m-9 1h0m23 0h0m-12 3h0m-12 3h0m16 3h0m-16 3h0m20 0h0m45 0h0m-53 3h0m-4 3h0m2 0h0m3 0h0m-2 3h0m4 0h0m-21 1h0m40 1h0m-28 2h0m28 4h0m34 0h0m-86 1h0m37 0h0m-13 2h0m-17 1h0m30 0h0m11 1h0m-39 3h0m18 2h0m5 1h0m59 0h0m-74 2h0m1 1h0m21 0h0m-45 2h0m44 1h0m3 0h0m-5 1h0m15 0h0m1 0h0m-37 1h0m46 0h0m-14 2h0m46 3h0m-61 1h0m-19 1h0m31 0h0m-22 1h0m1 1h0m46 0h0m-39 1h0m21 0h0m3 0h0m21 1h0m-50 2h0m13 1h0m57 2h0m-63 3h0m-15 1h0m16 1h0m51 2h0m12 0h0m-63 1h0m-5 1h0m4 3h0m9 8h0m9 2h0m10 2h0m-19 2h0m10 6h0m-5 2h0"/>
<path class="d1" stroke="#7e42a1" d="M212.5 199.5h0m2 0h0m-7 1h0m11 1h0m9 0h0m-30 1h0m13 0h0m25 0h0m-11 1h0m-17 1h0m15 0h0m6 0h0m2 0h0m-27 1h0m4 0h0m6 0h0m6 0h0m-20 1h0m18 0h0m-18 1h0m14 0h0m7 0h0m8 0h0m2 0h0m-14 1h0m6 0h0m4 0h0m-36 1h0m16 0h0m4 0h0m5 0h0m4 0h0m3 0h0m7 0h0m9 0h0m-30 1h0m5 0h0m1 0h0m2 0h0m2 0h0m20 0h0m-53 2h0m12 0h0m16 0h0m13 0h0m12 0h0m-33 1h0m3 0h0m3 0h0m5 0h0m1 0h0m16 0h0m32 0h0m-79 1h0m12 0h0m14 0h0m3 0h0m12 0h0m8 0h0m30 0h0m-81 1h0m21 0h0m11 0h0m12 0h0m-1 1h0m-22 1h0m16 0h0m3 0h0m1 0h0m-7 1h0m1 0h0m1 0h0m20 0h0m-25 1h0m26 0h0m-32 1h0m4 0h0m4 0h0m5 0h0m3 0h0m42 0h0m2 0h0m2 0h0m-87 1h0m85 0h0m-74 1h0m9 0h0m7 0h0m9 0h0m18 0h0m2 0h0m1 0h0m-45 1h0m40 0h0m33 0h0m1 0h0m-88 1h0m7 0h0m13 0h0m9 0h0m9 0h0m9 0h0m-23 1h0m5 0h0m7 0h0m-7 1h0m6 0h0m10 0h0m44 0h0m-87 1h0m32 0h0m13 0h0m-32 1h0m13 0h0m2 0h0m7 0h0m7 0h0m13 0h0m17 0h0m-61 1h0m8 0h0m29 0h0m9 0h0m-45 1h0m24 0h0m-37 1h0m14 0h0m5 0h0m1 0h0m21 0h0m13 0h0m1 0h0m36 0h0m-75 1h0m7 0h0m2 1h0m3 0h0m7 0h0m12 0h0m4 0h0m27 0h0m-81 1h0m23 0h0m4 0h0m12 0h0m2 0h0m14 0h0m7 0h0m5 0h0m20 0h0m5 0h0m-65 1h0m6 0h0m23 0h0m34 0h0m-85 1h0m26 0h0m16 0h0m6 0h0m10 0h0m10 0h0m-70 1h0m24 0h0m10 0h0m4 0h0m3 0h0m2 0h0m49 0h0m-76 1h0m11 0h0m1 0h0m18 0h0m10 0h0m10 0h0m-72 1h0m3 0h0m27 0h0m4 0h0m20 0h0m27 0h0m7 0h0m9 0h0m-85 1h0m27 0h0m16 0h0m2 0h0m4 0h0m-11 1h0m2 0h0m5 0h0m1 0h0m4 0h0m-39 1h0m13 0h0m12 0h0m3 0h0m11 0h0m3 0h0m30 0h0m-67 1h0m7 0h0m34 0h0m-31 1h0m26 0h0m1 0h0m-34 1h0m14 0h0m5 0h0m4 0h0m9 0h0m24 0h0m10 0h0m-64 1h0m8 0h0m10 0h0m35 0h0m-72 1h0m17 0h0m13 0h0m7 0h0m36 0h0m-87 1h0m4 0h0m1 0h0m28 0h0m23 0h0m4 0h0m-40 1h0m9 0h0m18 0h0m2 0h0m7 0h0m8 0h0m5 0h0m31 0h0m-69 1h0m54 0h0m6 0h0m-80 1h0m12 0h0m5 0h0m9 0h0m10 0h0m16 0h0m9 0h0m25 0h0m-77 1h0m21 0h0m4 0h0m13 0h0m4 0h0m36 0h0m-86 1h0m24 0h0m1 0h0m34 0h0m3 0h0m-43 1h0m4 0h0m2 0h0m3 0h0m14 0h0m31 0h0m6 0h0m8 0h0m-68 1h0m8 0h0m7 0h0m2 0h0m2 0h0m6 0h0m13 0h0m27 0h0m-70 1h0m26 0h0m5 0h0m26 0h0m-67 1h0m45 0h0m25 0h0m5 0h0m-72 1h0m27 0h0m28 0h0m-53 1h0m14 0h0m1 0h0m12 0h0m54 0h0m-72 1h0m4 0h0m9 0h0m2 0h0m42 0h0m-69 1h0m7 0h0m16 0h0m26 0h0m-46 1h0m6 0h0m2 0h0m17 0h0m5 0h0m38 0h0m-37 1h0m31 0h0m18 0h0m-76 1h0m12 0h0m5 0h0m15 0h0m-40 1h0m34 0h0m7 0h0m-1 1h0m21 0h0m22 0h0m-72 1h0m2 0h0m3 0h0m24 0h0m2 0h0m16 0h0m19 0h0m3 0h0m-70 1h0m1 0h0m22 0h0m8 0h0m43 0h0m-65 1h0m10 0h0m11 0h0m-32 1h0m38 0h0m36 0h0m-75 1h0m1 0h0m4 0h0m6 0h0m3 0h0m25 0h0m15 0h0m11 0h0m6 0h0m-63 1h0m2 0h0m5 0h0m3 0h0m31 0h0m13 0h0m-45 1h0m7 0h0m51 0h0m-60 1h0m20 0h0m4 0h0m-33 1h0m15 0h0m5 0h0m33 0h0m17 0h0m-70 1h0m13 0h0m49 0h0m-38 1h0m12 0h0m2 0h0m3 0h0m-37 1h0m23 0h0m3 0h0m-16 1h0m5 0h0m14 0h0m-33 1h0m7 0h0m19 0h0m1 0h0m7 0h0m33 0h0m-67 1h0m5 0h0m31 0h0m29 1h0m2 0h0m1 0h0m-25 1h0m-39 1h0m3 1h0m16 0h0m37 0h0m4 0h0m2 0h0m-54 1h0m17 0h0m38 0h0m-38 1h0m9 0h0m22 0h0m0 1h0m5 0h0m2 0h0m-55 1h0m3 0h0m4 0h0m6 0h0m29 0h0m-43 1h0m15 0h0m22 0h0m7 0h0m6 0h0m-33 1h0m-13 1h0m40 0h0m-30 1h0m22 0h0m2 0h0m7 0h0m1 0h0m-42 1h0m-1 1h0m5 0h0m9 0h0m11 0h0m-11 1h0m18 0h0m-18 1h0m8 0h0m6 0h0m-7 3h0"/>
<path class="d1" stroke="#c5aad5" d="M209.5 199.5h0m1 2h0m11 0h0m-6 2h0m7 0h0m-15 3h0m7 1h0m4 0h0m6 0h0m-17 2h0m10 0h0m4 2h0m5 0h0m18 0h0m-26 2h0m2 0h0m46 1h0m-49 2h0m-11 4h0m14 0h0m6 0h0m-31 1h0m72 0h0m-52 1h0m12 0h0m10 0h0m-53 1h0m21 1h0m7 1h0m18 1h0m-20 1h0m9 0h0m47 0h0m-41 1h0m-29 4h0m-5 1h0m6 0h0m76 1h0m-70 3h0m10 0h0m22 0h0m-11 3h0m-23 2h0m68 0h0m-50 1h0m14 1h0m39 1h0m1 1h0m-88 1h0m32 0h0m18 1h0m-26 2h0m-3 1h0m53 0h0m5 1h0m11 1h0m-92 1h0m18 0h0m27 0h0m-4 3h0m-20 3h0m48 0h0m-40 1h0m21 0h0m-15 1h0m1 1h0m-17 2h0m8 3h0m10 0h0m50 0h0m-32 1h0m-39 1h0m33 0h0m-8 4h0m18 1h0m2 6h0m-34 1h0m6 0h0m52 1h0m-44 1h0m-5 3h0m11 2h0m-8 1h0m39 1h0m1 0h0m-36 1h0m31 0h0m-7 1h0"/>
<path class="d1" stroke="#8c44a1" d="M204.5 199.5h0m15 0h0m-6 1h0m2 0h0m4 0h0m4 0h0m-15 2h0m10 0h0m18 1h0m-21 1h0m12 0h0m1 1h0m-15 1h0m11 0h0m-32 1h0m6 0h0m9 0h0m9 0h0m5 0h0m6 0h0m-21 1h0m9 0h0m2 0h0m-8 1h0m-7 1h0m23 0h0m6 0h0m34 0h0m-42 1h0m6 0h0m5 0h0m-20 1h0m3 0h0m-5 1h0m19 0h0m4 0h0m4 0h0m-19 1h0m-32 1h0m21 0h0m5 0h0m5 0h0m5 0h0m5 0h0m36 0h0m-80 1h0m2 0h0m39 0h0m11 0h0m-6 1h0m2 0h0m33 0h0m-69 1h0m15 0h0m4 0h0m7 0h0m0 1h0m1 0h0m43 0h0m-75 1h0m38 0h0m8 0h0m-17 1h0m6 0h0m1 0h0m1 0h0m13 0h0m9 0h0m-49 1h0m15 0h0m4 0h0m4 0h0m8 0h0m-31 1h0m8 0h0m4 0h0m2 0h0m5 0h0m7 0h0m3 0h0m-43 1h0m22 0h0m21 0h0m2 0h0m-49 1h0m39 0h0m7 0h0m-34 1h0m-9 1h0m11 0h0m14 0h0m29 0h0m27 0h0m-60 1h0m15 0h0m43 0h0m-52 1h0m5 0h0m1 0h0m4 0h0m3 0h0m8 0h0m5 0h0m24 0h0m-54 1h0m33 0h0m1 0h0m24 0h0m-59 1h0m4 0h0m17 0h0m16 0h0m-30 1h0m8 0h0m2 0h0m2 0h0m-29 1h0m26 0h0m4 0h0m3 0h0m1 0h0m7 0h0m32 0h0m1 0h0m-89 1h0m26 0h0m4 0h0m27 0h0m29 0h0m1 0h0m-52 1h0m1 0h0m9 0h0m1 0h0m18 0h0m27 0h0m-67 1h0m4 0h0m3 0h0m3 0h0m34 0h0m8 0h0m8 0h0m7 0h0m-71 1h0m14 0h0m4 0h0m1 0h0m4 0h0m12 0h0m16 0h0m-76 1h0m57 0h0m14 0h0m15 0h0m1 0h0m4 0h0m-88 1h0m35 0h0m6 0h0m4 0h0m3 0h0m42 0h0m-70 1h0m18 0h0m5 0h0m3 0h0m2 0h0m-25 1h0m27 0h0m10 0h0m29 0h0m-88 1h0m40 0h0m6 0h0m19 0h0m11 0h0m5 0h0m-54 1h0m1 0h0m10 0h0m35 0h0m-37 1h0m33 0h0m-42 1h0m3 0h0m3 0h0m4 0h0m10 0h0m17 0h0m7 0h0m3 0h0m9 0h0m4 0h0m-77 1h0m1 0h0m19 0h0m8 0h0m1 0h0m5 0h0m15 0h0m15 1h0m15 0h0m2 0h0m-48 1h0m2 0h0m27 0h0m-39 1h0m1 0h0m14 0h0m30 0h0m-64 1h0m9 0h0m18 0h0m7 0h0m7 0h0m11 0h0m-54 1h0m25 0h0m2 0h0m42 0h0m14 0h0m2 0h0m-99 1h0m49 0h0m-40 1h0m26 0h0m9 0h0m2 0h0m8 0h0m4 0h0m4 0h0m20 0h0m-22 1h0m-44 1h0m21 0h0m4 0h0m4 0h0m14 0h0m-32 1h0m3 0h0m6 0h0m13 0h0m19 0h0m10 0h0m11 0h0m-81 1h0m37 0h0m3 0h0m1 0h0m5 0h0m11 0h0m10 0h0m3 0h0m-50 1h0m32 0h0m24 0h0m10 0h0m-51 1h0m14 0h0m24 0h0m-75 1h0m38 0h0m22 0h0m9 0h0m18 0h0m-69 1h0m10 0h0m31 0h0m9 0h0m5 0h0m-64 1h0m11 0h0m12 0h0m6 0h0m4 0h0m-15 1h0m1 0h0m7 0h0m5 0h0m26 0h0m18 0h0m6 0h0m-79 1h0m25 0h0m6 0h0m6 0h0m8 0h0m-28 1h0m1 0h0m1 0h0m2 0h0m3 0h0m10 0h0m7 0h0m1 0h0m12 0h0m23 0h0m-65 1h0m17 0h0m17 0h0m31 0h0m-71 1h0m7 0h0m33 0h0m-13 1h0m14 0h0m15 0h0m14 0h0m-53 1h0m12 0h0m29 0h0m10 0h0m-62 1h0m1 0h0m8 0h0m6 0h0m1 0h0m2 0h0m26 0h0m6 0h0m-32 1h0m3 0h0m6 0h0m1 0h0m38 0h0m-52 1h0m5 0h0m1 0h0m1 0h0m39 0h0m6 0h0m-71 1h0m8 0h0m8 0h0m9 0h0m1 0h0m8 0h0m2 0h0m1 0h0m-31 1h0m7 0h0m4 0h0m12 0h0m14 0h0m3 0h0m25 0h0m5 0h0m-49 1h0m7 0h0m11 0h0m-34 1h0m13 0h0m2 0h0m5 0h0m30 0h0m10 0h0m-63 1h0m1 0h0m5 0h0m2 0h0m38 0h0m5 0h0m3 0h0m-47 1h0m6 0h0m1 0h0m16 0h0m22 0h0m2 0h0m6 0h0m-58 1h0m12 0h0m29 0h0m3 0h0m4 0h0m11 0h0m1 0h0m-36 1h0m1 0h0m29 0h0m-58 1h0m44 0h0m3 0h0m16 0h0m-46 1h0m11 0h0m4 0h0m21 0h0m15 0h0m-62 1h0m13 0h0m1 0h0m27 0h0m12 0h0m-57 1h0m3 0h0m4 0h0m13 0h0m3 0h0m5 0h0m18 0h0m-25 1h0m-20 1h0m2 0h0m33 0h0m16 0h0m-48 1h0m15 0h0m10 0h0m1 0h0m14 0h0m-41 1h0m3 0h0m21 0h0m4 0h0m11 0h0m-39 1h0m4 1h0m15 0h0m25 0h0m-41 1h0m10 0h0m29 0h0m-14 1h0m12 0h0m-23 1h0m2 0h0m14 0h0m-23 1h0m8 0h0m19 0h0m1 0h0m3 0h0m-25 1h0m6 0h0m2 0h0m21 0h0m-37 1h0m3 0h0m21 0h0m14 0h0m-32 1h0m1 0h0m1 0h0m6 0h0m1 0h0m5 0h0m1 0h0m-19 1h0m8 0h0m4 0h0m10 0h0m3 0h0m-16 1h0m3 0h0m-4 1h0m3 0h0m-7 1h0"/>
<path class="d1" stroke="#cbabd5" d="M216.5 201.5h0m3 1h0m-14 4h0m13 0h0m23 5h0m-39 2h0m61 0h0m3 0h0m-36 2h0m36 0h0m-66 1h0m15 0h0m3 1h0m23 1h0m-29 1h0m21 2h0m1 2h0m5 2h0m-30 2h0m13 0h0m12 0h0m-16 3h0m6 4h0m0 1h0m-31 1h0m79 0h0m-60 1h0m22 2h0m41 1h0m-42 1h0m-25 3h0m12 4h0m27 2h0m-26 3h0m40 1h0m-29 3h0m-1 1h0m40 3h0m-56 1h0m25 0h0m-14 3h0m53 0h0m-34 2h0m-19 2h0m-2 1h0m-1 1h0m46 0h0m-43 2h0m9 0h0m-34 1h0m28 0h0m-5 1h0m40 0h0m-25 1h0m7 1h0m-18 2h0m45 0h0m-22 1h0m26 1h0m-51 2h0m5 1h0m-13 1h0m16 1h0m31 2h0m-15 1h0m-9 3h0m-20 1h0m7 0h0m23 3h0m-24 2h0"/>
<path class="d1" stroke="#9a45a0" d="M213.5 199.5h0m1 1h0m29 0h0m-42 1h0m13 0h0m9 1h0m1 0h0m3 0h0m-1 1h0m1 0h0m3 0h0m-11 1h0m4 0h0m-26 1h0m25 0h0m11 0h0m1 0h0m2 0h0m-45 1h0m31 0h0m10 0h0m4 0h0m-46 1h0m12 0h0m24 0h0m-32 1h0m17 0h0m21 0h0m-14 1h0m8 0h0m9 0h0m30 0h0m-43 1h0m2 0h0m5 0h0m-16 1h0m2 0h0m2 0h0m3 0h0m5 0h0m3 0h0m3 0h0m33 0h0m-60 1h0m23 0h0m-20 1h0m15 0h0m8 0h0m14 0h0m20 0h0m-60 1h0m9 0h0m10 0h0m1 0h0m7 0h0m3 0h0m34 0h0m-56 1h0m1 0h0m12 0h0m1 0h0m9 0h0m3 0h0m-28 1h0m12 0h0m9 0h0m7 0h0m29 0h0m-59 1h0m8 0h0m25 0h0m-16 1h0m5 0h0m7 0h0m-17 1h0m6 0h0m6 1h0m1 0h0m-32 1h0m29 0h0m36 0h0m-37 1h0m10 0h0m-20 1h0m14 0h0m12 0h0m22 0h0m-44 1h0m23 0h0m-31 1h0m1 0h0m6 0h0m7 0h0m4 0h0m4 0h0m-11 1h0m7 0h0m3 0h0m1 0h0m31 0h0m-54 1h0m15 1h0m4 0h0m1 0h0m-21 1h0m12 0h0m3 0h0m2 0h0m40 0h0m-78 1h0m45 0h0m4 0h0m19 0h0m5 0h0m-64 1h0m26 0h0m6 0h0m6 0h0m13 0h0m-35 1h0m8 0h0m-8 1h0m19 0h0m-8 1h0m11 0h0m24 0h0m-36 1h0m-13 1h0m5 0h0m2 0h0m13 0h0m4 0h0m9 0h0m3 0h0m5 0h0m-27 1h0m6 0h0m2 0h0m7 0h0m-16 1h0m6 0h0m9 0h0m-6 1h0m9 0h0m1 0h0m2 0h0m5 0h0m-32 1h0m6 0h0m2 0h0m11 0h0m1 0h0m15 0h0m10 0h0m1 0h0m-84 1h0m41 0h0m2 0h0m14 0h0m10 0h0m10 0h0m2 0h0m-56 1h0m9 0h0m4 0h0m5 0h0m2 0h0m31 0h0m14 0h0m-82 1h0m31 0h0m15 0h0m35 0h0m-17 1h0m-27 1h0m2 0h0m1 0h0m9 0h0m31 0h0m-87 1h0m29 0h0m5 0h0m13 0h0m1 0h0m47 0h0m-55 1h0m5 0h0m7 0h0m2 0h0m1 0h0m5 0h0m5 0h0m8 0h0m16 0h0m-62 1h0m53 0h0m-33 1h0m1 0h0m27 0h0m6 0h0m-26 1h0m2 0h0m1 0h0m8 0h0m9 0h0m-19 1h0m17 0h0m-68 1h0m32 0h0m15 0h0m11 0h0m13 0h0m-53 1h0m10 0h0m5 0h0m2 0h0m2 0h0m10 0h0m-11 1h0m12 0h0m29 0h0m5 0h0m2 0h0m-84 1h0m23 0h0m46 0h0m7 0h0m12 0h0m-75 1h0m5 0h0m8 0h0m9 0h0m11 0h0m38 0h0m2 0h0m1 0h0m2 0h0m-69 1h0m20 0h0m23 0h0m2 0h0m13 0h0m5 0h0m-66 1h0m11 0h0m1 0h0m4 0h0m1 0h0m4 0h0m4 0h0m6 0h0m1 0h0m1 0h0m1 0h0m6 0h0m9 0h0m4 0h0m11 0h0m-47 1h0m2 0h0m8 0h0m2 0h0m43 0h0m-87 1h0m27 0h0m7 0h0m6 0h0m22 0h0m6 0h0m4 0h0m-53 1h0m6 0h0m7 0h0m5 0h0m1 0h0m7 0h0m9 0h0m6 0h0m1 0h0m7 0h0m7 0h0m3 0h0m2 0h0m7 0h0m-62 1h0m3 0h0m9 0h0m1 0h0m6 0h0m-32 1h0m20 0h0m19 0h0m6 0h0m4 0h0m25 0h0m-60 1h0m6 0h0m10 0h0m6 0h0m14 0h0m13 0h0m12 0h0m-55 1h0m13 0h0m13 0h0m8 0h0m16 0h0m5 0h0m-67 1h0m2 0h0m31 0h0m7 0h0m1 0h0m-34 1h0m32 0h0m20 0h0m5 0h0m-77 1h0m23 0h0m6 0h0m13 0h0m1 0h0m-29 1h0m5 0h0m14 0h0m6 0h0m33 0h0m6 0h0m5 0h0m-79 1h0m12 0h0m9 0h0m25 0h0m1 0h0m28 0h0m-59 1h0m19 0h0m4 0h0m-17 1h0m5 0h0m1 0h0m11 0h0m22 0h0m11 0h0m1 0h0m-59 1h0m35 0h0m2 0h0m24 0h0m-62 1h0m6 0h0m4 0h0m10 0h0m2 0h0m2 0h0m7 0h0m1 0h0m-34 1h0m7 0h0m19 0h0m3 0h0m8 0h0m19 0h0m-37 1h0m5 0h0m3 0h0m4 0h0m6 0h0m4 0h0m5 0h0m-25 1h0m15 0h0m6 0h0m15 0h0m1 0h0m-63 1h0m24 0h0m10 0h0m4 0h0m26 0h0m4 0h0m-66 1h0m27 0h0m1 0h0m7 0h0m19 0h0m-41 1h0m22 0h0m-9 1h0m14 0h0m-37 1h0m12 0h0m3 0h0m-5 1h0m7 0h0m18 0h0m20 0h0m-48 1h0m4 0h0m13 0h0m-7 1h0m10 0h0m4 0h0m35 0h0m-15 1h0m-21 2h0m6 0h0m6 0h0m13 0h0m5 0h0m-12 1h0m-32 1h0m13 0h0m24 0h0m-32 1h0m5 0h0m12 0h0m6 0h0m-18 1h0m5 0h0m18 0h0m-38 1h0m9 0h0m7 0h0m13 1h0m13 0h0m-37 1h0m-2 1h0m12 0h0m2 0h0m7 0h0m4 0h0m-10 1h0m20 0h0m-30 1h0m13 0h0m6 0h0m-9 1h0m-9 1h0m7 0h0m9 0h0"/>
<path class="d1" stroke="#d2abd4" d="M207.5 198.5h0m25 7h0m-15 2h0m19 2h0m-8 3h0m12 0h0m-27 1h0m24 0h0m-9 1h0m14 0h0m-18 4h0m9 0h0m1 2h0m5 0h0m-24 1h0m8 0h0m1 2h0m13 1h0m30 0h0m-27 2h0m6 0h0m-16 1h0m12 0h0m0 1h0m12 0h0m-31 1h0m13 0h0m-6 1h0m14 1h0m-36 1h0m33 0h0m-28 1h0m20 1h0m3 0h0m35 1h0m-51 1h0m39 0h0m-50 1h0m16 0h0m44 0h0m-22 1h0m-35 3h0m1 0h0m23 0h0m13 0h0m14 1h0m-38 4h0m24 2h0m-41 1h0m17 0h0m-7 1h0m58 0h0m-35 1h0m-18 1h0m5 0h0m10 0h0m-9 1h0m20 0h0m-25 2h0m6 0h0m21 0h0m-39 1h0m-8 3h0m22 0h0m13 0h0m-20 1h0m4 1h0m40 1h0m-63 3h0m11 0h0m30 0h0m-29 1h0m21 2h0m19 3h0m6 1h0m-27 2h0m14 2h0m-15 3h0m-17 1h0m12 0h0m4 0h0m24 0h0m8 2h0m-21 1h0m24 0h0m2 2h0m-39 3h0m3 3h0m30 0h0m-35 3h0m26 1h0"/>
<path class="d1" stroke="#aa499b" d="M214.5 202.5h0m6 0h0m1 0h0m14 1h0m5 0h0m-9 1h0m-6 1h0m4 0h0m1 0h0m-16 1h0m16 0h0m3 0h0m2 0h0m2 0h0m-15 1h0m7 0h0m-9 1h0m13 0h0m6 0h0m26 0h0m-42 1h0m8 0h0m31 0h0m4 0h0m-4 1h0m-32 1h0m10 0h0m-17 1h0m16 0h0m24 0h0m-24 2h0m7 0h0m-28 1h0m18 0h0m-12 1h0m4 0h0m35 0h0m-29 1h0m-7 1h0m16 0h0m22 0h0m2 0h0m-40 1h0m1 0h0m3 0h0m1 0h0m34 0h0m-39 1h0m1 0h0m3 0h0m5 0h0m1 0h0m29 0h0m-47 1h0m12 0h0m4 0h0m4 0h0m31 0h0m-46 1h0m4 0h0m3 0h0m34 0h0m1 0h0m-63 1h0m36 0h0m4 0h0m-16 1h0m-37 1h0m30 0h0m5 0h0m3 0h0m25 0h0m16 0h0m-40 1h0m23 0h0m15 0h0m-40 1h0m8 0h0m27 0h0m-42 1h0m11 0h0m14 0h0m-27 1h0m4 0h0m9 0h0m3 0h0m4 0h0m27 0h0m-27 1h0m4 0h0m14 0h0m-48 1h0m37 0h0m21 0h0m-51 1h0m22 1h0m23 0h0m9 0h0m-38 1h0m3 0h0m3 0h0m1 0h0m6 0h0m-28 1h0m12 0h0m9 0h0m2 0h0m5 0h0m18 0h0m-33 1h0m2 0h0m4 0h0m5 0h0m1 0h0m24 0h0m4 0h0m-40 1h0m2 0h0m14 0h0m6 0h0m16 0h0m4 0h0m-49 1h0m1 0h0m1 0h0m2 0h0m11 0h0m22 0h0m5 0h0m5 0h0m-90 1h0m35 0h0m1 0h0m4 0h0m32 0h0m12 0h0m4 0h0m-30 1h0m2 0h0m23 0h0m1 0h0m9 0h0m-56 1h0m1 0h0m1 2h0m4 0h0m1 0h0m2 0h0m7 0h0m2 0h0m8 0h0m10 0h0m6 0h0m2 0h0m2 0h0m-48 1h0m14 0h0m16 0h0m13 0h0m6 0h0m8 0h0m2 0h0m-54 1h0m5 0h0m9 0h0m3 0h0m1 0h0m8 0h0m10 0h0m4 0h0m4 0h0m10 0h0m-47 1h0m8 0h0m31 0h0m-51 1h0m6 0h0m32 0h0m9 0h0m9 0h0m3 0h0m-49 1h0m16 0h0m14 0h0m11 0h0m7 0h0m1 0h0m-80 1h0m26 0h0m9 0h0m26 0h0m1 0h0m7 0h0m8 0h0m-38 1h0m2 0h0m2 0h0m7 0h0m8 0h0m3 0h0m4 0h0m5 0h0m3 0h0m-40 1h0m2 0h0m2 0h0m6 0h0m3 0h0m3 0h0m20 0h0m-38 1h0m1 0h0m18 0h0m1 0h0m2 0h0m7 0h0m-30 1h0m5 0h0m22 0h0m4 0h0m2 0h0m17 0h0m-46 1h0m2 0h0m9 0h0m9 0h0m11 0h0m14 0h0m6 0h0m-67 1h0m38 0h0m13 0h0m2 0h0m-49 1h0m5 0h0m3 0h0m1 0h0m8 0h0m31 0h0m2 0h0m-24 1h0m2 0h0m1 0h0m4 0h0m9 0h0m5 0h0m11 0h0m-1 1h0m6 0h0m-69 1h0m7 0h0m13 0h0m12 0h0m3 0h0m6 0h0m17 0h0m6 0h0m-49 1h0m3 0h0m5 0h0m1 0h0m34 0h0m5 0h0m-53 1h0m16 0h0m1 0h0m4 0h0m14 0h0m8 0h0m3 0h0m-64 1h0m30 0h0m4 0h0m9 0h0m12 0h0m6 0h0m-30 1h0m19 0h0m-25 1h0m7 0h0m15 0h0m7 0h0m22 0h0m-35 1h0m3 0h0m-27 1h0m19 0h0m4 0h0m-27 1h0m3 0h0m11 0h0m1 0h0m1 0h0m20 0h0m11 0h0m-31 1h0m6 0h0m1 0h0m16 0h0m2 0h0m1 0h0m-24 1h0m5 0h0m7 0h0m1 0h0m2 0h0m5 0h0m-37 1h0m3 0h0m9 0h0m8 0h0m1 0h0m21 0h0m2 0h0m2 0h0m3 0h0m7 0h0m-60 1h0m10 0h0m8 0h0m4 0h0m13 0h0m27 0h0m-40 1h0m9 0h0m35 0h0m-48 1h0m-14 1h0m31 0h0m4 0h0m16 0h0m1 0h0m-39 1h0m1 0h0m1 0h0m4 0h0m40 0h0m1 0h0m-51 1h0m3 0h0m10 0h0m4 0h0m3 0h0m12 0h0m2 0h0m4 0h0m9 0h0m-47 1h0m15 0h0m2 0h0m9 0h0m4 0h0m3 0h0m5 0h0m8 0h0m4 0h0m-57 1h0m19 0h0m2 0h0m11 0h0m15 0h0m-26 1h0m6 0h0m25 0h0m-60 1h0m13 0h0m5 0h0m10 0h0m9 0h0m14 0h0m3 0h0m3 0h0m-12 1h0m6 0h0m-46 1h0m13 0h0m6 0h0m12 0h0m13 0h0m-44 1h0m2 0h0m23 0h0m35 0h0m-57 1h0m29 0h0m-23 1h0m12 0h0m1 0h0m33 0h0m1 0h0m-49 1h0m47 0h0m2 0h0m-43 1h0m11 0h0m21 0h0m-42 1h0m14 0h0m28 0h0m5 0h0m-35 1h0m4 0h0m2 0h0m7 0h0m-14 1h0m3 0h0m15 0h0m-18 1h0m15 0h0m5 0h0m12 2h0m-32 1h0m11 0h0m2 0h0m5 0h0m1 0h0m-16 1h0m2 0h0m8 0h0m-13 1h0m3 0h0m-5 1h0m10 0h0m16 0h0m-15 1h0m10 0h0m-18 1h0m5 0h0m12 0h0m-17 1h0m9 1h0m-5 1h0"/>
<path class="d1" stroke="#d9add2" d="M225.5 203.5h0m19 3h0m-3 3h0m-7 1h0m-2 3h0m-1 5h0m19 0h0m18 0h0m-29 1h0m30 0h0m-1 2h0m0 1h0m-46 1h0m8 1h0m9 0h0m-4 1h0m-7 1h0m10 0h0m1 1h0m6 0h0m22 2h0m0 1h0m-32 1h0m2 1h0m-30 1h0m11 1h0m28 1h0m1 0h0m10 1h0m1 0h0m7 4h0m-9 1h0m11 0h0m-24 1h0m18 0h0m-35 1h0m13 0h0m-13 1h0m4 0h0m16 1h0m2 1h0m12 0h0m-6 1h0m11 0h0m-52 1h0m45 1h0m15 0h0m-12 2h0m-14 2h0m27 0h0m-4 1h0m3 0h0m-31 3h0m21 1h0m11 0h0m-44 1h0m13 0h0m-12 1h0m10 1h0m1 0h0m-14 2h0m21 0h0m25 0h0m-5 1h0m-6 5h0m-9 2h0m-4 2h0m12 0h0m10 0h0m-45 1h0m33 4h0m9 0h0m-30 1h0m-22 1h0m12 1h0m37 0h0m-19 1h0m10 0h0m-18 2h0m0 3h0m5 0h0m-2 1h0m-21 1h0m20 0h0m24 0h0m-8 1h0m10 1h0m-27 1h0m-7 5h0m-2 1h0"/>
<path class="d1" stroke="#b94d96" d="M222.5 200.5h0m20 1h0m-17 1h0m6 0h0m-3 1h0m-12 1h0m17 0h0m8 0h0m-16 2h0m2 0h0m15 0h0m-13 2h0m2 0h0m5 0h0m7 0h0m19 0h0m-28 1h0m5 0h0m3 0h0m-7 1h0m-32 1h0m32 0h0m30 0h0m-41 1h0m5 0h0m2 0h0m12 0h0m-34 1h0m16 0h0m3 0h0m1 0h0m11 0h0m-8 2h0m5 0h0m2 0h0m5 0h0m-5 1h0m2 0h0m19 0h0m6 0h0m-40 1h0m1 0h0m2 0h0m3 0h0m5 0h0m7 0h0m1 0h0m-24 1h0m7 0h0m4 0h0m3 0h0m3 0h0m-5 1h0m2 0h0m12 0h0m-3 1h0m-4 1h0m5 1h0m-16 1h0m17 0h0m-12 1h0m2 0h0m33 0h0m-42 1h0m7 0h0m7 0h0m-20 1h0m22 0h0m10 1h0m8 0h0m-40 1h0m11 0h0m4 0h0m8 0h0m23 0h0m-41 1h0m18 0h0m13 0h0m-30 1h0m5 0h0m4 0h0m-13 1h0m5 0h0m3 0h0m20 0h0m3 0h0m-11 1h0m3 0h0m11 0h0m7 0h0m-44 1h0m24 0h0m4 0h0m2 0h0m6 0h0m11 0h0m3 0h0m-40 1h0m10 0h0m5 0h0m9 0h0m6 0h0m6 0h0m-43 1h0m3 0h0m9 0h0m20 0h0m5 0h0m-38 1h0m4 0h0m2 0h0m11 0h0m2 1h0m1 0h0m15 0h0m5 0h0m3 0h0m1 0h0m-34 1h0m12 0h0m2 0h0m5 0h0m4 0h0m-42 1h0m41 0h0m6 0h0m-29 1h0m2 0h0m13 0h0m-18 1h0m23 0h0m2 0h0m8 0h0m5 0h0m3 0h0m-51 1h0m13 0h0m21 0h0m10 0h0m6 0h0m-52 1h0m20 0h0m4 0h0m9 0h0m1 0h0m11 0h0m8 0h0m-44 1h0m6 0h0m7 0h0m8 0h0m1 0h0m2 0h0m7 0h0m13 0h0m-37 1h0m2 0h0m1 0h0m7 0h0m2 0h0m8 0h0m4 0h0m9 0h0m-46 1h0m12 0h0m5 0h0m1 0h0m3 0h0m10 0h0m6 0h0m-26 1h0m18 0h0m-34 1h0m3 0h0m10 0h0m2 0h0m16 0h0m1 0h0m1 0h0m4 0h0m2 0h0m14 0h0m-45 1h0m16 0h0m7 0h0m-26 1h0m10 0h0m4 0h0m2 0h0m9 0h0m9 0h0m8 0h0m9 0h0m-22 1h0m8 0h0m9 0h0m4 0h0m-58 1h0m25 0h0m5 0h0m10 0h0m11 0h0m3 0h0m1 0h0m4 0h0m3 0h0m1 0h0m-32 1h0m23 0h0m2 0h0m3 0h0m-18 1h0m13 0h0m2 0h0m8 0h0m-58 1h0m2 0h0m12 0h0m1 0h0m3 0h0m4 0h0m2 0h0m2 0h0m22 0h0m3 0h0m-40 1h0m7 0h0m1 0h0m3 0h0m9 0h0m4 0h0m-27 1h0m12 0h0m10 0h0m30 0h0m-45 1h0m18 0h0m4 0h0m1 0h0m-9 1h0m8 0h0m9 0h0m2 0h0m5 0h0m4 0h0m-61 1h0m5 0h0m3 0h0m5 0h0m16 0h0m4 0h0m8 0h0m19 0h0m-43 1h0m7 0h0m24 0h0m7 0h0m4 0h0m3 0h0m-38 1h0m2 0h0m12 0h0m-28 1h0m3 0h0m12 0h0m1 0h0m2 0h0m6 0h0m17 0h0m-34 1h0m8 0h0m1 0h0m1 0h0m4 0h0m5 0h0m16 0h0m9 0h0m-50 1h0m13 0h0m25 0h0m-29 1h0m3 0h0m16 0h0m4 0h0m17 0h0m3 0h0m-61 1h0m36 0h0m3 0h0m4 0h0m2 0h0m7 0h0m-52 1h0m17 0h0m10 0h0m1 0h0m8 0h0m1 0h0m2 0h0m5 0h0m6 0h0m-38 1h0m16 0h0m5 0h0m6 0h0m3 0h0m4 0h0m8 0h0m6 0h0m1 0h0m-63 1h0m9 0h0m8 0h0m1 0h0m3 0h0m5 0h0m6 0h0m28 0h0m-46 1h0m36 0h0m12 0h0m-57 1h0m16 0h0m4 0h0m3 0h0m2 0h0m2 0h0m7 0h0m7 0h0m-32 1h0m1 0h0m6 0h0m2 0h0m4 0h0m6 0h0m2 0h0m11 0h0m5 0h0m7 0h0m-30 1h0m11 0h0m2 0h0m20 0h0m-39 1h0m8 0h0m4 0h0m6 0h0m5 0h0m5 0h0m-23 1h0m6 0h0m3 0h0m-34 1h0m1 0h0m18 0h0m2 0h0m1 0h0m19 0h0m4 0h0m11 0h0m2 0h0m-45 1h0m1 0h0m3 0h0m7 0h0m13 0h0m9 0h0m1 0h0m1 0h0m5 0h0m4 0h0m-35 1h0m17 1h0m2 0h0m9 0h0m-45 1h0m29 0h0m13 0h0m-21 1h0m5 0h0m3 0h0m6 0h0m-1 1h0m7 0h0m1 0h0m1 0h0m-25 1h0m9 0h0m5 0h0m1 0h0m3 0h0m1 0h0m11 0h0m1 0h0m-7 1h0m-25 1h0m9 0h0m2 0h0m2 0h0m4 0h0m3 0h0m2 0h0m5 0h0m3 0h0m-46 1h0m14 0h0m18 0h0m3 0h0m6 0h0m2 0h0m-29 1h0m4 0h0m11 0h0m1 0h0m-7 1h0m3 0h0m16 0h0m-34 1h0m9 0h0m5 0h0m2 0h0m5 1h0m9 0h0m-27 1h0m18 0h0m2 0h0m1 0h0m-12 1h0m2 0h0m2 0h0m8 0h0m-32 1h0m14 0h0m7 0h0m3 0h0m-9 1h0m6 0h0m-9 1h0m1 0h0m-6 1h0m1 0h0m18 0h0m-22 1h0m8 0h0m3 0h0m6 0h0m3 0h0m1 0h0m4 0h0m-2 1h0m-13 1h0m-3 1h0m2 0h0"/>
<path class="d1" stroke="#e0afd0" d="M238.5 206.5h0m-17 2h0m7 1h0m-1 2h0m10 1h0m-2 5h0m-6 2h0m36 0h0m-43 2h0m-4 1h0m14 1h0m34 0h0m2 2h0m-40 2h0m10 1h0m-7 5h0m34 0h0m-9 1h0m-26 2h0m16 0h0m6 1h0m11 0h0m5 0h0m-23 5h0m3 1h0m16 0h0m3 0h0m-21 3h0m17 1h0m4 0h0m-40 2h0m7 0h0m8 0h0m26 0h0m3 0h0m-39 2h0m39 0h0m-39 2h0m4 0h0m-14 1h0m18 0h0m-3 1h0m38 1h0m-3 1h0m-23 1h0m10 0h0m-20 2h0m35 1h0m-42 1h0m0 2h0m15 3h0m9 0h0m-32 1h0m46 1h0m-45 5h0m14 0h0m25 0h0m4 0h0m-54 1h0m29 1h0m-26 1h0m5 0h0m7 0h0m27 1h0m3 0h0m-17 1h0m-16 2h0m16 0h0m0 3h0m24 0h0m-25 2h0m29 1h0m-21 1h0m11 0h0m-37 1h0m25 1h0m21 1h0m-21 1h0m2 2h0m-20 2h0m2 3h0m5 0h0m8 1h0"/>
<path class="d1" stroke="#c95291" d="M235.5 201.5h0m-15 3h0m21 2h0m-18 1h0m13 0h0m-6 1h0m11 0h0m-1 1h0m-1 1h0m25 0h0m-31 1h0m27 0h0m4 1h0m-26 1h0m22 0h0m8 0h0m-32 1h0m2 0h0m20 0h0m-17 1h0m-12 1h0m5 0h0m-32 1h0m38 0h0m25 0h0m2 0h0m-38 1h0m5 0h0m18 0h0m5 0h0m-19 1h0m2 0h0m-2 2h0m-2 1h0m13 0h0m15 0h0m-44 1h0m3 0h0m2 0h0m1 0h0m4 0h0m21 0h0m-19 1h0m16 0h0m3 0h0m2 0h0m12 0h0m1 0h0m-35 1h0m24 0h0m2 0h0m8 0h0m1 0h0m-44 1h0m9 0h0m3 0h0m10 0h0m4 0h0m9 0h0m9 0h0m-41 1h0m12 0h0m3 0h0m11 0h0m1 0h0m5 1h0m4 0h0m2 0h0m-20 1h0m10 0h0m7 0h0m-2 1h0m-29 1h0m3 0h0m11 0h0m15 0h0m9 0h0m-36 1h0m14 0h0m11 0h0m3 0h0m2 0h0m4 0h0m3 0h0m-25 1h0m10 0h0m15 0h0m-45 1h0m20 0h0m6 0h0m3 0h0m3 0h0m3 0h0m6 0h0m-23 1h0m8 0h0m1 0h0m19 0h0m-25 1h0m16 1h0m4 0h0m-19 1h0m12 0h0m4 0h0m-29 1h0m3 0h0m6 0h0m8 0h0m7 0h0m3 0h0m3 0h0m2 0h0m5 0h0m-22 1h0m6 0h0m6 0h0m-61 1h0m32 0h0m14 0h0m21 0h0m-30 1h0m5 0h0m7 0h0m2 0h0m18 0h0m-24 1h0m5 1h0m20 0h0m-29 1h0m2 0h0m26 0h0m-35 1h0m3 0h0m9 0h0m8 0h0m3 0h0m2 0h0m4 0h0m6 0h0m2 0h0m-43 1h0m15 0h0m10 0h0m7 0h0m1 0h0m1 0h0m6 0h0m-35 1h0m10 0h0m3 0h0m15 0h0m10 0h0m-46 1h0m24 0h0m1 0h0m4 0h0m8 0h0m7 0h0m2 0h0m-39 1h0m16 0h0m6 0h0m3 0h0m12 0h0m-32 1h0m8 0h0m10 0h0m5 0h0m5 0h0m-23 1h0m15 0h0m5 0h0m-42 1h0m8 0h0m12 0h0m3 0h0m3 0h0m-23 1h0m23 0h0m13 0h0m9 0h0m-38 1h0m1 0h0m5 0h0m20 0h0m20 0h0m-6 1h0m-47 1h0m18 0h0m10 0h0m15 0h0m-22 1h0m10 0h0m14 0h0m-17 1h0m8 0h0m3 0h0m6 0h0m6 0h0m-36 1h0m4 0h0m8 0h0m5 0h0m7 0h0m2 0h0m13 0h0m-44 1h0m17 0h0m7 1h0m6 0h0m12 0h0m-63 1h0m25 0h0m9 0h0m11 0h0m1 0h0m10 0h0m10 0h0m-40 1h0m5 0h0m5 0h0m11 0h0m9 0h0m-30 1h0m2 0h0m8 0h0m15 0h0m5 0h0m2 0h0m2 0h0m2 0h0m-37 1h0m22 0h0m9 1h0m-32 1h0m6 0h0m1 0h0m6 0h0m3 0h0m12 0h0m-31 1h0m5 0h0m20 0h0m9 0h0m-22 1h0m10 0h0m10 0h0m3 0h0m8 0h0m-38 1h0m12 0h0m12 0h0m4 0h0m-38 1h0m10 0h0m4 0h0m11 0h0m6 0h0m7 0h0m1 0h0m3 0h0m-44 1h0m13 0h0m7 0h0m23 0h0m3 0h0m4 0h0m-42 1h0m6 0h0m5 0h0m6 0h0m21 0h0m3 0h0m-54 1h0m30 0h0m2 0h0m11 0h0m3 0h0m5 0h0m-47 1h0m3 0h0m2 0h0m35 0h0m10 0h0m-38 1h0m30 0h0m-42 1h0m32 0h0m-35 1h0m4 0h0m17 0h0m10 0h0m9 0h0m1 0h0m3 0h0m-14 1h0m7 0h0m1 0h0m10 0h0m3 0h0m2 0h0m-38 1h0m21 0h0m-5 1h0m3 0h0m9 0h0m6 0h0m-42 1h0m22 0h0m4 0h0m6 0h0m-16 1h0m5 0h0m2 0h0m13 0h0m2 0h0m-33 1h0m5 0h0m13 0h0m3 0h0m3 0h0m1 0h0m3 0h0m-8 1h0m4 0h0m7 0h0m3 0h0m-17 1h0m5 0h0m7 0h0m-32 1h0m29 0h0m-27 1h0m6 0h0m3 0h0m6 0h0m3 0h0m11 0h0m-2 1h0m-12 1h0m8 0h0m0 1h0m-6 1h0m0 1h0m4 0h0m-8 1h0m1 0h0m-3 1h0m7 0h0m-21 2h0m16 0h0m-16 1h0m5 0h0m8 0h0m1 0h0m1 0h0m-11 1h0m1 0h0m2 1h0"/>
<path class="d1" stroke="#e7b1ce" d="M245.5 198.5h0m-41 2h0m40 7h0m-11 2h0m11 1h0m15 6h0m9 0h0m-45 6h0m33 2h0m-24 1h0m18 1h0m-15 4h0m31 0h0m-24 1h0m26 0h0m-17 1h0m-13 3h0m2 0h0m0 2h0m13 0h0m-8 3h0m-9 2h0m1 1h0m4 0h0m-4 1h0m28 0h0m-16 1h0m-11 1h0m-4 2h0m18 0h0m14 1h0m-25 1h0m-14 1h0m24 0h0m-58 1h0m55 0h0m-17 1h0m28 1h0m4 0h0m-13 2h0m7 0h0m-2 3h0m9 3h0m4 0h0m1 0h0m-39 1h0m6 0h0m32 0h0m2 0h0m-43 1h0m26 0h0m11 2h0m-41 1h0m26 0h0m9 3h0m-17 1h0m20 0h0m-24 1h0m19 3h0m15 0h0m4 1h0m-29 3h0m-7 2h0m23 1h0m5 0h0m-29 1h0m6 0h0m3 0h0m1 0h0m19 0h0m-14 3h0m-6 1h0m-1 1h0m8 0h0m-12 5h0m5 3h0m-1 1h0m-5 1h0"/>
<path class="d1" stroke="#d8568c" d="M239.5 200.5h0m2 2h0m-9 2h0m3 0h0m-4 1h0m10 0h0m24 2h0m-25 1h0m23 0h0m1 0h0m-36 2h0m14 0h0m-10 2h0m2 0h0m2 0h0m-9 1h0m16 0h0m15 0h0m1 0h0m-19 1h0m24 0h0m-31 1h0m29 0h0m-27 1h0m7 0h0m-14 1h0m19 0h0m3 0h0m11 0h0m-15 1h0m-4 1h0m20 0h0m-22 1h0m8 0h0m1 0h0m-2 1h0m10 0h0m-31 1h0m16 0h0m2 0h0m2 0h0m10 0h0m-6 1h0m3 0h0m-12 1h0m1 0h0m2 0h0m1 0h0m17 0h0m-45 1h0m21 0h0m20 0h0m1 0h0m4 0h0m-22 1h0m1 0h0m-19 1h0m15 0h0m17 0h0m12 0h0m-30 1h0m9 0h0m3 0h0m1 0h0m2 0h0m7 0h0m-4 1h0m8 0h0m-32 1h0m8 0h0m15 0h0m5 0h0m4 0h0m-23 1h0m8 0h0m7 0h0m10 0h0m4 0h0m-35 1h0m5 0h0m14 0h0m5 0h0m9 0h0m-18 1h0m14 0h0m1 0h0m-37 1h0m18 1h0m14 0h0m-11 1h0m1 0h0m2 0h0m5 0h0m-18 1h0m10 0h0m10 0h0m12 0h0m-32 1h0m2 0h0m8 0h0m14 0h0m1 0h0m-25 1h0m4 0h0m5 0h0m5 0h0m-2 1h0m21 0h0m-52 1h0m1 0h0m17 0h0m1 0h0m3 0h0m11 0h0m5 0h0m1 0h0m-7 1h0m14 0h0m-48 1h0m27 0h0m24 0h0m3 0h0m-37 1h0m1 0h0m10 0h0m15 0h0m7 0h0m-16 1h0m9 0h0m-19 1h0m2 0h0m8 0h0m13 0h0m-21 1h0m6 0h0m1 0h0m-12 1h0m22 0h0m11 0h0m-39 1h0m7 0h0m4 0h0m7 0h0m15 1h0m4 0h0m-36 1h0m24 0h0m3 0h0m10 0h0m-38 1h0m25 0h0m11 0h0m-22 1h0m7 0h0m7 0h0m2 0h0m-38 1h0m10 0h0m2 0h0m14 0h0m-3 1h0m1 0h0m5 0h0m2 0h0m2 0h0m10 0h0m3 0h0m-29 1h0m5 0h0m8 0h0m2 0h0m10 0h0m-32 1h0m17 0h0m18 0h0m6 0h0m-51 1h0m15 0h0m1 0h0m7 0h0m22 0h0m-50 1h0m37 0h0m-19 1h0m7 0h0m6 0h0m13 0h0m5 0h0m2 0h0m-18 1h0m14 0h0m-24 1h0m8 0h0m2 0h0m1 0h0m6 0h0m11 0h0m5 0h0m-33 1h0m21 0h0m10 0h0m-49 1h0m21 0h0m14 0h0m2 0h0m6 0h0m1 0h0m4 0h0m-43 1h0m2 0h0m29 0h0m4 0h0m1 0h0m2 0h0m-41 1h0m6 0h0m6 0h0m2 0h0m6 0h0m25 0h0m-34 1h0m1 0h0m1 0h0m2 0h0m36 0h0m-49 1h0m16 0h0m14 0h0m3 0h0m7 0h0m1 0h0m4 0h0m-33 1h0m2 0h0m7 0h0m10 0h0m12 0h0m-16 1h0m12 0h0m-47 1h0m14 0h0m11 0h0m11 0h0m9 0h0m5 0h0m1 0h0m-25 1h0m9 0h0m16 0h0m3 0h0m-42 1h0m13 0h0m16 0h0m8 0h0m-27 1h0m18 0h0m-14 1h0m23 0h0m-22 1h0m12 0h0m8 0h0m1 0h0m2 0h0m-45 1h0m26 0h0m4 0h0m3 0h0m3 0h0m-16 1h0m1 0h0m2 0h0m10 0h0m8 0h0m-37 1h0m4 0h0m1 0h0m13 0h0m18 0h0m2 0h0m1 0h0m-33 1h0m32 0h0m3 0h0m-13 1h0m2 0h0m9 0h0m-18 1h0m9 0h0m11 0h0m-28 1h0m2 1h0m5 0h0m2 0h0m7 0h0m1 1h0m2 0h0m7 0h0m-21 1h0m14 0h0m-13 1h0m12 0h0m-4 1h0m5 0h0m-7 1h0m2 0h0m2 0h0m-17 1h0m12 0h0m3 1h0m1 0h0m-6 1h0m-17 1h0m10 0h0m-6 1h0m11 0h0m-24 1h0m9 0h0m3 0h0m2 0h0m8 0h0m-4 1h0m8 1h0m-7 2h0"/>
<path class="d1" stroke="#edb3cb" d="M239.5 206.5h0m23 0h0m-27 1h0m7 5h0m4 0h0m9 5h0m9 2h0m-17 3h0m18 1h0m-9 4h0m-21 1h0m5 0h0m28 0h0m-22 1h0m13 0h0m-19 3h0m2 0h0m15 3h0m9 0h0m-5 1h0m-12 1h0m3 1h0m-1 2h0m-8 1h0m3 0h0m-8 1h0m3 0h0m3 0h0m10 0h0m5 1h0m4 0h0m-24 1h0m31 0h0m-11 2h0m-11 2h0m8 0h0m2 0h0m-8 3h0m23 0h0m-6 1h0m-27 4h0m5 2h0m26 0h0m-19 1h0m9 0h0m8 0h0m-26 1h0m20 1h0m-14 1h0m3 2h0m-9 2h0m8 0h0m7 0h0m17 2h0m-31 2h0m18 0h0m-30 2h0m22 0h0m8 2h0m-26 1h0m21 0h0m16 0h0m-33 2h0m21 4h0m-6 4h0m-11 1h0m25 0h0m-6 1h0m-1 1h0m-17 1h0m-3 1h0m-4 1h0m-4 6h0m8 0h0"/>
<path class="d1" stroke="#e25f84" d="M246.5 196.5h0m-5 4h0m-2 2h0m4 0h0m17 0h0m-20 2h0m23 2h0m-25 1h0m25 0h0m-29 1h0m-8 2h0m10 0h0m7 0h0m20 0h0m-25 1h0m3 1h0m0 1h0m4 0h0m5 0h0m11 0h0m-31 1h0m2 0h0m11 0h0m2 0h0m7 0h0m11 0h0m-21 1h0m4 0h0m14 0h0m4 0h0m-19 1h0m17 0h0m3 0h0m-22 1h0m10 0h0m-14 1h0m9 0h0m15 0h0m3 0h0m-21 1h0m7 0h0m-11 1h0m12 0h0m12 1h0m-22 1h0m-6 1h0m7 0h0m3 0h0m5 0h0m2 0h0m1 0h0m4 0h0m-7 1h0m9 0h0m-16 1h0m5 0h0m-1 1h0m2 0h0m7 0h0m-25 1h0m11 0h0m5 2h0m-23 1h0m27 0h0m4 0h0m-8 1h0m4 0h0m4 0h0m-27 1h0m17 0h0m1 0h0m7 0h0m-13 1h0m4 0h0m1 0h0m5 0h0m-2 1h0m1 0h0m10 0h0m1 0h0m3 0h0m-31 1h0m22 0h0m8 0h0m1 0h0m-20 1h0m18 0h0m-28 2h0m32 0h0m1 0h0m-29 1h0m1 0h0m20 1h0m-13 1h0m-15 1h0m28 0h0m-29 1h0m34 0h0m-33 1h0m18 0h0m9 0h0m5 0h0m-2 1h0m-9 1h0m-15 1h0m7 0h0m1 0h0m-7 1h0m18 0h0m-6 1h0m13 0h0m-36 1h0m9 1h0m10 0h0m19 0h0m6 0h0m-46 1h0m24 0h0m6 0h0m13 0h0m-29 1h0m5 0h0m14 0h0m2 0h0m8 0h0m-49 1h0m19 0h0m15 0h0m-12 1h0m3 0h0m7 0h0m7 0h0m1 0h0m9 0h0m-7 1h0m10 0h0m-39 1h0m7 0h0m13 0h0m5 0h0m3 0h0m15 0h0m-42 1h0m33 0h0m-31 1h0m4 0h0m8 0h0m16 0h0m-34 1h0m11 0h0m4 0h0m0 1h0m6 0h0m22 0h0m-28 1h0m13 0h0m7 0h0m-17 1h0m10 0h0m1 0h0m2 0h0m11 0h0m-52 1h0m36 0h0m1 1h0m5 1h0m5 0h0m1 0h0m-41 1h0m26 0h0m4 0h0m2 0h0m10 0h0m-23 1h0m2 0h0m1 0h0m18 0h0m5 0h0m-26 1h0m7 0h0m20 0h0m-40 1h0m4 0h0m12 0h0m3 0h0m4 0h0m12 0h0m-24 1h0m15 0h0m3 0h0m5 0h0m7 0h0m-39 1h0m27 0h0m13 0h0m-19 1h0m-30 1h0m4 0h0m28 0h0m11 0h0m2 0h0m1 0h0m-40 2h0m2 0h0m19 0h0m11 0h0m1 0h0m-2 1h0m9 0h0m-25 1h0m4 0h0m2 0h0m0 1h0m2 0h0m3 0h0m8 0h0m6 0h0m-48 1h0m21 0h0m10 0h0m9 0h0m8 0h0m-50 1h0m25 0h0m17 0h0m1 0h0m-36 1h0m31 0h0m8 0h0m-32 1h0m21 0h0m3 0h0m-5 1h0m7 0h0m2 0h0m-15 1h0m15 0h0m-19 1h0m15 0h0m-10 1h0m5 0h0m10 0h0m1 0h0m-38 1h0m10 0h0m5 1h0m10 0h0m9 0h0m-26 1h0m14 0h0m2 0h0m2 0h0m2 0h0m-15 1h0m1 0h0m5 0h0m6 0h0m-23 1h0m16 0h0m-9 1h0m2 0h0m1 0h0m3 2h0m-11 1h0m12 0h0m-7 1h0m8 2h0m-9 1h0m-7 1h0"/>
<path class="d1" stroke="#f2b7c8" d="M245.5 200.5h0m-11 2h0m11 9h0m8 3h0m4 1h0m7 2h0m-9 3h0m-7 2h0m4 0h0m9 0h0m-4 2h0m-25 2h0m30 0h0m-34 2h0m20 0h0m1 2h0m13 0h0m-24 2h0m-12 1h0m33 4h0m-6 1h0m2 1h0m13 1h0m-9 1h0m-14 2h0m12 0h0m11 2h0m-23 1h0m11 1h0m-19 5h0m-18 1h0m53 0h0m-29 3h0m8 0h0m-8 2h0m23 2h0m-32 2h0m23 1h0m13 4h0m2 0h0m-9 1h0m9 2h0m-7 3h0m-9 1h0m-18 1h0m34 0h0m0 1h0m-1 5h0m-6 1h0m-14 1h0m-14 1h0m17 0h0m4 2h0m-6 2h0m-8 3h0m0 3h0m-4 6h0"/>
<path class="d1" stroke="#e76c79" d="M244.5 199.5h0m3 2h0m13 2h0m-15 2h0m1 0h0m15 1h0m-36 1h0m36 0h0m-24 1h0m7 0h0m-1 1h0m4 0h0m14 0h0m2 0h0m-2 1h0m-25 1h0m7 0h0m18 0h0m-4 1h0m4 0h0m1 0h0m0 1h0m-12 1h0m-5 1h0m7 1h0m-4 1h0m14 0h0m-18 1h0m18 0h0m-13 1h0m1 0h0m4 0h0m3 0h0m1 0h0m5 0h0m-21 1h0m12 0h0m-8 1h0m2 0h0m4 0h0m9 0h0m-11 1h0m5 0h0m5 1h0m4 0h0m-21 1h0m-1 1h0m1 0h0m8 0h0m3 0h0m2 0h0m8 0h0m-29 1h0m19 0h0m6 0h0m5 0h0m-16 1h0m11 0h0m-5 1h0m3 0h0m-21 1h0m8 0h0m2 0h0m3 0h0m1 0h0m5 0h0m2 0h0m4 0h0m-29 1h0m14 1h0m3 0h0m13 0h0m1 0h0m-31 1h0m21 0h0m-16 1h0m13 0h0m3 0h0m14 1h0m-17 1h0m10 0h0m-25 1h0m-3 1h0m14 0h0m3 0h0m-9 1h0m13 0h0m-11 1h0m25 0h0m-20 1h0m6 0h0m10 0h0m-9 1h0m11 1h0m-28 1h0m28 0h0m-45 1h0m30 0h0m3 0h0m7 0h0m-18 1h0m15 1h0m12 0h0m-17 1h0m16 0h0m-37 1h0m4 0h0m7 0h0m18 0h0m2 0h0m-26 1h0m19 0h0m9 0h0m-23 1h0m8 0h0m22 0h0m-26 1h0m21 0h0m-20 1h0m25 0h0m-35 1h0m15 0h0m14 0h0m-41 1h0m18 0h0m2 0h0m4 0h0m2 0h0m2 0h0m2 0h0m-11 1h0m6 0h0m21 0h0m1 0h0m-28 1h0m3 0h0m-2 1h0m22 0h0m-39 1h0m28 0h0m2 0h0m3 0h0m-16 1h0m6 0h0m7 0h0m10 0h0m-15 2h0m5 0h0m12 0h0m-40 1h0m13 1h0m9 0h0m17 0h0m-6 1h0m-7 1h0m7 0h0m-24 1h0m20 0h0m1 0h0m12 0h0m2 0h0m-32 5h0m7 0h0m2 0h0m2 0h0m5 0h0m8 1h0m-12 1h0m3 0h0m-13 2h0m24 0h0m-18 1h0m-6 1h0m8 0h0m-3 2h0m1 0h0m-2 1h0m1 0h0m3 0h0m10 0h0m-22 1h0m27 0h0m2 0h0m-21 1h0m5 0h0m2 1h0m1 0h0m9 0h0m-5 1h0m-9 1h0m1 0h0m-1 1h0m-15 2h0m30 1h0m-21 3h0m4 0h0m2 1h0m1 0h0m-13 5h0m1 0h0m0 3h0"/>
<path class="d1" stroke="#f4bdc3" d="M242.5 207.5h0m17 1h0m3 3h0m-20 2h0m19 1h0m-12 1h0m5 3h0m1 1h0m10 1h0m-14 2h0m12 1h0m-23 1h0m-4 3h0m25 2h0m-17 3h0m-16 1h0m31 1h0m10 0h0m-17 1h0m15 0h0m-3 1h0m-3 1h0m-24 5h0m10 4h0m21 2h0m-23 3h0m26 1h0m-33 4h0m16 1h0m12 0h0m-2 1h0m-22 1h0m12 5h0m5 1h0m3 2h0m9 1h0m-11 1h0m-12 1h0m18 3h0m-25 2h0m30 3h0m-30 7h0m0 2h0m5 0h0m1 6h0"/>
<path class="d1" stroke="#ec7a6e" d="M245.5 197.5h0m11 1h0m-11 6h0m14 0h0m-3 1h0m5 0h0m-8 4h0m-1 1h0m7 2h0m-13 1h0m-9 1h0m7 0h0m3 0h0m-7 1h0m11 0h0m-13 2h0m4 0h0m4 0h0m5 0h0m3 0h0m14 0h0m-26 1h0m5 0h0m2 0h0m12 0h0m-8 1h0m8 0h0m-4 1h0m2 0h0m2 0h0m3 0h0m-23 1h0m2 0h0m2 0h0m8 0h0m5 0h0m6 0h0m-7 1h0m3 0h0m2 0h0m-13 1h0m-11 1h0m9 0h0m-2 2h0m14 0h0m2 0h0m2 0h0m1 0h0m-17 1h0m4 1h0m13 0h0m-24 2h0m5 0h0m1 0h0m5 0h0m1 0h0m3 0h0m6 0h0m1 1h0m-12 1h0m-5 1h0m12 1h0m9 2h0m-20 1h0m-4 3h0m28 0h0m-6 1h0m6 1h0m-19 1h0m2 0h0m2 0h0m-15 1h0m26 0h0m6 0h0m-14 1h0m4 1h0m6 0h0m-33 1h0m27 0h0m6 0h0m-4 1h0m-20 1h0m9 0h0m7 1h0m8 1h0m-31 3h0m5 0h0m4 0h0m2 0h0m12 0h0m-35 2h0m2 0h0m28 1h0m5 0h0m-12 1h0m23 1h0m-37 1h0m21 0h0m16 0h0m-15 1h0m-9 1h0m20 0h0m-2 1h0m8 1h0m-19 2h0m7 0h0m5 0h0m-3 1h0m-12 2h0m-9 1h0m27 0h0m-13 2h0m-13 1h0m16 1h0m2 0h0m2 0h0m-18 1h0m7 0h0m9 1h0m-13 3h0m23 0h0m-27 1h0m8 1h0m-10 5h0m10 1h0m5 2h0m-21 2h0m11 1h0"/>
<path class="d1" stroke="#f6c3be" d="M255.5 207.5h0m4 0h0m0 7h0m2 2h0m-18 3h0m13 2h0m2 2h0m-10 6h0m13 11h0m-11 2h0m0 6h0m18 5h0m-1 3h0m-34 2h0m10 4h0m5 0h0m23 0h0m-7 6h0m0 1h0m-14 2h0m2 11h0m2 3h0m3 3h0m-14 12h0"/>
<path class="d1" stroke="#f08763" d="M249.5 196.5h0m-3 1h0m1 3h0m3 1h0m-7 3h0m14 0h0m1 0h0m2 4h0m1 0h0m-16 1h0m4 0h0m7 1h0m-10 1h0m8 0h0m3 0h0m-12 1h0m2 0h0m8 1h0m-12 2h0m4 0h0m3 0h0m5 0h0m3 0h0m-15 1h0m4 0h0m8 0h0m-16 1h0m20 0h0m4 0h0m-18 1h0m14 0h0m-11 1h0m-5 1h0m4 0h0m5 0h0m10 0h0m-18 1h0m10 0h0m1 0h0m5 0h0m-7 1h0m8 1h0m-12 1h0m5 0h0m5 0h0m4 0h0m1 0h0m-4 1h0m-13 1h0m9 0h0m-10 1h0m17 0h0m-1 1h0m3 0h0m-1 2h0m-3 1h0m2 1h0m-17 2h0m16 2h0m5 0h0m-13 1h0m4 1h0m-2 4h0m-9 1h0m15 1h0m-9 1h0m-11 3h0m10 3h0m-10 1h0m7 0h0m3 0h0m11 0h0m-8 1h0m3 0h0m3 2h0m1 9h0m-8 1h0m4 0h0m8 3h0m-8 1h0m8 0h0m2 2h0m-20 1h0m4 1h0m11 0h0m-16 1h0m6 0h0m-11 3h0m15 1h0m-3 1h0m7 5h0m-18 2h0m8 1h0m0 2h0m1 2h0"/>
<path class="d1" stroke="#f8c9b9" d="M255.5 205.5h0m-9 3h0m2 1h0m9 0h0m-12 1h0m12 0h0m1 6h0m-22 1h0m10 3h0m12 0h0m-11 8h0m-11 16h0m28 6h0m-13 20h0m2 2h0m-6 1h0m3 8h0m-7 13h0"/>
<path class="d1" stroke="#f59558" d="M248.5 197.5h0m-2 2h0m10 0h0m-8 1h0m6 0h0m1 0h0m4 0h0m-3 1h0m3 1h0m-10 1h0m7 1h0m5 0h0m-11 2h0m1 0h0m3 1h0m3 0h0m-3 3h0m6 0h0m3 1h0m-10 1h0m4 2h0m2 1h0m2 0h0m-12 2h0m9 0h0m2 0h0m-5 1h0m1 0h0m-10 1h0m4 1h0m9 1h0m-5 1h0m4 0h0m5 0h0m-5 2h0m3 1h0m1 0h0m-7 1h0m-5 1h0m7 0h0m2 0h0m6 0h0m-12 1h0m0 7h0m10 0h0m-9 1h0m7 16h0m-25 3h0m28 1h0m-7 6h0m-3 1h0m8 0h0m8 1h0m0 2h0m-21 6h0m24 1h0m-28 6h0m22 5h0m-20 1h0m-11 14h0"/>
<path class="d1" stroke="#facfb4" d="M258.5 202.5h0m-15 5h0m2 1h0m-8 1h0m14 1h0m0 1h0m2 5h0m7 2h0m-7 8h0m7 2h0m-4 3h0m-7 1h0m-8 65h0"/>
<path class="d1" stroke="#f6a453" d="M252.5 197.5h0m-3 2h0m1 0h0m3 0h0m-9 1h0m5 1h0m9 0h0m-10 2h0m7 0h0m-11 1h0m8 0h0m-4 1h0m1 0h0m9 0h0m-11 1h0m6 0h0m2 0h0m5 1h0m-5 1h0m3 0h0m-12 1h0m13 2h0m-9 1h0m10 0h0m-12 1h0m5 0h0m4 0h0m-9 1h0m8 0h0m-8 1h0m4 0h0m4 0h0m-5 1h0m6 0h0m-4 2h0m-2 1h0m5 1h0m-6 1h0m12 0h0m-3 1h0m-2 1h0m3 1h0m-1 7h0m-1 2h0m10 2h0m-12 3h0m4 0h0m-10 26h0m8 0h0m15 1h0m-29 20h0m4 3h0"/>
<path class="d1" stroke="#fbd6b2" d="M258.5 198.5h0m-4 5h0m-3 9h0m7 0h0m-2 1h0m-2 3h0m6 3h0m-11 2h0m3 4h0m2 4h0"/>
<path class="d1" stroke="#f7b44d" d="M255.5 196.5h0m-7 2h0m1 0h0m5 0h0m-6 1h0m1 1h0m2 0h0m1 2h0m5 0h0m-7 1h0m0 2h0m2 0h0m7 0h0m-11 1h0m1 0h0m13 1h0m-15 1h0m7 0h0m0 1h0m1 0h0m5 0h0m-14 1h0m1 0h0m9 1h0m2 0h0m-3 1h0m-4 2h0m4 0h0m5 0h0m-3 3h0m2 2h0m1 1h0m-5 4h0m-3 8h0m14 0h0m-12 3h0m-5 14h0m21 9h0m-13 21h0m-31 5h0"/>
<path class="d1" stroke="#fbddaf" d="M252.5 200.5h0m1 0h0m-1 1h0m1 1h0m4 6h0m-11 8h0"/>
<path class="d1" stroke="#f8c348" d="M251.5 196.5h0m1 0h0m5 4h0m-6 1h0m0 4h0m2 0h0m9 0h0m-16 1h0m6 0h0m8 0h0m-10 1h0m3 0h0m-3 2h0m5 1h0m-2 1h0m-4 2h0m5 0h0m-5 1h0m0 2h0m1 0h0m13 4h0m0 1h0m-8 23h0m6 1h0m-14 19h0"/>
<path class="d1" stroke="#fce4ad" d="M246.5 201.5h0m2 3h0m5 6h0"/>
<path class="d1" stroke="#f9d148" d="M253.5 196.5h0m-4 1h0m3 1h0m0 1h0m2 0h0m3 0h0m1 1h0m-10 1h0m5 0h0m4 0h0m2 0h0m-5 1h0m2 0h0m2 1h0m1 0h0m-4 1h0m-8 1h0m13 0h0m-2 1h0m-7 1h0m1 0h0m4 0h0m-7 1h0m-1 2h0m1 0h0m10 0h0m-9 1h0m4 1h0m4 6h0"/>
<path class="d1" stroke="#fceaad" d="M259.5 206.5h0m-7 6h0m-1 8h0"/>
<path class="d1" stroke="#f8dc51" d="M250.5 196.5h0m-3 1h0m3 0h0m0 1h0m5 0h0m-2 5h0m3 0h0m-2 1h0m3 1h0m0 1h0m-10 1h0m5 2h0m3 2h0m-7 5h0m12 16h0"/>
<path class="d1" stroke="#fcefb1" d="M254.5 197.5h0m2 3h0"/>
<path class="d1" stroke="#f8e85a" d="M255.5 197.5h0m-2 1h0m-2 1h0m3 2h0m1 0h0m-5 1h0m1 0h0m-4 1h0m4 0h0m-2 1h0m1 0h0m1 0h0m3 1h0m-6 2h0m1 0h0m9 0h0m-8 1h0m3 0h0m3 0h0m-5 1h0m1 2h0m4 6h0m10 31h0"/>
<path class="d1" stroke="#fcf5b5" d="M250.5 200.5h0m5 2h0m-4 6h0m7 1h0m-6 4h0"/>
<rect x="171.50" y="193.50" width="117.00" height="113.00" fill="none" stroke="#3a3a3a" stroke-width="1"/>
<text x="230.00" y="188.50" font-size="8.6" text-anchor="middle" stroke="#2b2b2b" font-style="italic" textLength="19" lengthAdjust="spacingAndGlyphs">SELL</text>
<text x="229.70" y="318.10" font-size="8.8" text-anchor="middle" stroke="#2b2b2b" textLength="59.2" lengthAdjust="spacingAndGlyphs">UMAP dimension 1</text>
<text x="167.40" y="249.80" font-size="9.3" text-anchor="middle" stroke="#2b2b2b" textLength="59.5" lengthAdjust="spacingAndGlyphs" transform="rotate(-90 167.40 249.80)">UMAP dimension 2</text>
<text x="195.00" y="329.30" font-size="7.2" stroke="#2b2b2b" textLength="11.5" lengthAdjust="spacingAndGlyphs">Log</text>
<text x="206.80" y="330.90" font-size="4.6" stroke="#2b2b2b">2</text>
<text x="210.00" y="329.30" font-size="7.2" stroke="#2b2b2b" textLength="54.599999999999994" lengthAdjust="spacingAndGlyphs">(gene accessibility)</text>
<defs><linearGradient id="gE" x1="0" y1="0" x2="1" y2="0"><stop offset="0.0" stop-color="#15153a"/><stop offset="0.15" stop-color="#2a3590"/><stop offset="0.35" stop-color="#5a3fa3"/><stop offset="0.5" stop-color="#9a45a0"/><stop offset="0.65" stop-color="#e0588a"/><stop offset="0.8" stop-color="#f59558"/><stop offset="0.92" stop-color="#f9cc45"/><stop offset="1.0" stop-color="#f8e85a"/></linearGradient></defs>
<rect x="201.70" y="335.20" width="55.10" height="6.40" fill="url(#gE)" stroke="#222" stroke-width="0.7"/>
<line x1="211.50" y1="341.60" x2="211.50" y2="343.30" stroke="#333" stroke-width="0.6"/>
<text x="211.50" y="351.80" font-size="7.4" text-anchor="middle" stroke="#2b2b2b" textLength="10.5" lengthAdjust="spacingAndGlyphs">0.4</text>
<line x1="223.80" y1="341.60" x2="223.80" y2="343.30" stroke="#333" stroke-width="0.6"/>
<text x="223.80" y="351.80" font-size="7.4" text-anchor="middle" stroke="#2b2b2b" textLength="10.5" lengthAdjust="spacingAndGlyphs">0.5</text>
<line x1="236.40" y1="341.60" x2="236.40" y2="343.30" stroke="#333" stroke-width="0.6"/>
<text x="236.40" y="351.80" font-size="7.4" text-anchor="middle" stroke="#2b2b2b" textLength="10.5" lengthAdjust="spacingAndGlyphs">0.6</text>
<line x1="248.50" y1="341.60" x2="248.50" y2="343.30" stroke="#333" stroke-width="0.6"/>
<text x="248.50" y="351.80" font-size="7.4" text-anchor="middle" stroke="#2b2b2b" textLength="10.5" lengthAdjust="spacingAndGlyphs">0.7</text>
<path class="d1" stroke="#15153a" d="M415.5 389.5h0m-25 1h0m24 7h0m-28 2h0m14 5h0m-3 2h0m-1 4h0m22 0h0m2 1h0m45 0h0m4 1h0m-67 2h0m-17 7h0m-3 1h0m86 1h0m-48 1h0m-32 1h0m11 0h0m2 0h0m17 4h0m10 0h0m-6 3h0m-41 1h0m11 4h0m1 0h0m-2 1h0m-7 7h0m19 4h0m-15 3h0m1 0h0m11 1h0m4 1h0m13 4h0m-18 5h0m1 0h0m2 3h0m8 1h0m61 3h0m-12 6h0"/>
<path class="d1" stroke="#9696a6" d="M410.5 390.5h0m11 5h0m7 4h0m-14 7h0m-8 7h0m-3 6h0m72 28h0m-55 8h0m53 12h0m-5 9h0m-17 7h0"/>
<path class="d1" stroke="#1a1c4d" d="M401.5 393.5h0m-6 5h0m3 2h0m7 0h0m13 1h0m-12 5h0m4 4h0m53 3h0m-79 1h0m32 0h0m-3 2h0m-6 1h0m-28 3h0m8 0h0m10 0h0m-14 2h0m9 1h0m78 1h0m-64 2h0m62 0h0m-93 1h0m32 0h0m-11 1h0m1 2h0m-11 2h0m84 1h0m-95 1h0m59 1h0m-57 1h0m30 1h0m18 1h0m50 1h0m-3 1h0m-59 1h0m17 0h0m-51 1h0m10 1h0m30 4h0m-26 3h0m11 1h0m3 1h0m-4 2h0m5 1h0m16 2h0m-21 3h0m5 0h0m-5 5h0m28 5h0m-11 1h0m0 2h0m46 4h0m-47 1h0m31 5h0m0 1h0m-3 1h0"/>
<path class="d1" stroke="#9899af" d="M405.5 386.5h0m3 7h0m15 3h0m-34 4h0m-5 2h0m-2 1h0m8 1h0m24 0h0m-34 1h0m16 12h0m24 1h0m-21 9h0m10 4h0m6 2h0m8 5h0m-8 7h0m-8 1h0m3 6h0m12 1h0m-4 13h0m-3 9h0m5 2h0"/>
<path class="d1" stroke="#1e2360" d="M398.5 386.5h0m12 1h0m7 0h0m-24 2h0m7 1h0m3 0h0m-3 2h0m16 0h0m-18 3h0m11 0h0m13 3h0m-34 1h0m31 1h0m-4 1h0m3 1h0m-5 2h0m5 1h0m46 0h0m-43 2h0m1 1h0m-38 1h0m1 0h0m80 0h0m1 2h0m-82 1h0m10 0h0m-2 1h0m74 0h0m-46 1h0m-36 2h0m24 0h0m59 0h0m-84 1h0m12 0h0m6 0h0m70 0h0m-85 1h0m-1 1h0m38 0h0m44 0h0m-83 1h0m84 0h0m-91 2h0m32 0h0m7 0h0m-16 2h0m-21 3h0m3 0h0m22 0h0m-12 1h0m8 0h0m1 0h0m-14 1h0m1 0h0m-1 1h0m-5 2h0m8 0h0m27 1h0m-8 1h0m-27 1h0m12 0h0m17 0h0m62 0h0m-85 1h0m14 0h0m19 2h0m15 0h0m37 1h0m0 1h0m-83 1h0m10 0h0m73 0h0m-95 1h0m20 1h0m7 0h0m4 0h0m14 0h0m-38 1h0m1 0h0m37 1h0m-29 1h0m15 0h0m9 0h0m-8 1h0m33 1h0m-30 2h0m7 2h0m57 0h0m-84 1h0m2 0h0m7 2h0m16 0h0m58 0h0m-4 1h0m-60 1h0m-1 9h0m3 0h0m-1 2h0m4 1h0m49 2h0m-55 1h0m58 0h0m-58 2h0m46 3h0m5 1h0m-10 1h0m-1 1h0m7 0h0m-2 1h0m-1 1h0m-13 3h0"/>
<path class="d1" stroke="#9a9cb7" d="M412.5 400.5h0m-31 9h0m12 1h0m13 7h0m-9 7h0m-6 1h0m25 2h0m58 0h0m-53 1h0m-27 10h0m14 0h0m-28 1h0m3 2h0m-1 2h0m38 1h0m4 20h0m-15 2h0m64 3h0m-58 4h0m53 0h0"/>
<path class="d1" stroke="#232a73" d="M403.5 385.5h0m-5 2h0m33 0h0m-19 1h0m4 0h0m-8 1h0m15 1h0m12 0h0m-18 1h0m-28 1h0m37 0h0m6 0h0m-18 1h0m-28 2h0m21 0h0m15 0h0m2 0h0m-42 2h0m8 0h0m11 0h0m-12 1h0m22 0h0m-27 1h0m5 0h0m3 0h0m-5 1h0m9 1h0m36 0h0m-46 1h0m23 0h0m2 0h0m1 0h0m2 1h0m6 0h0m3 0h0m2 0h0m-38 1h0m4 0h0m10 0h0m11 0h0m10 0h0m-41 1h0m12 0h0m20 0h0m14 2h0m-25 1h0m16 0h0m1 0h0m5 0h0m12 0h0m-12 1h0m-9 1h0m9 0h0m42 0h0m-75 1h0m15 0h0m7 0h0m-27 1h0m2 0h0m9 0h0m7 0h0m16 0h0m-3 1h0m-4 1h0m15 0h0m-32 1h0m-1 1h0m27 0h0m46 0h0m-81 1h0m18 0h0m13 0h0m47 0h0m3 0h0m-73 1h0m35 0h0m-51 1h0m27 0h0m5 0h0m2 0h0m53 0h0m-70 1h0m71 0h0m-70 1h0m72 0h0m-48 1h0m48 0h0m-95 1h0m19 0h0m11 0h0m2 0h0m11 0h0m54 0h0m-48 1h0m-40 1h0m3 0h0m4 0h0m80 0h0m-95 1h0m46 0h0m2 0h0m50 0h0m-90 1h0m7 0h0m23 0h0m1 0h0m5 0h0m-40 1h0m7 0h0m1 0h0m19 0h0m5 0h0m1 0h0m-4 1h0m65 0h0m-71 1h0m4 0h0m11 0h0m-34 1h0m7 0h0m22 0h0m-34 1h0m5 0h0m90 0h0m-82 2h0m5 0h0m9 0h0m13 0h0m7 0h0m-41 1h0m12 0h0m14 0h0m62 0h0m-87 1h0m86 0h0m-53 1h0m5 0h0m-31 1h0m5 0h0m15 0h0m2 0h0m2 0h0m4 0h0m-38 1h0m15 0h0m77 0h0m-97 1h0m2 0h0m20 0h0m-8 1h0m11 0h0m-9 1h0m8 0h0m-18 1h0m8 0h0m11 0h0m-18 1h0m11 0h0m2 0h0m14 1h0m34 0h0m-50 1h0m18 0h0m-21 1h0m21 1h0m-27 1h0m18 0h0m71 0h0m-61 1h0m-21 1h0m12 0h0m10 0h0m1 0h0m2 0h0m2 0h0m-2 1h0m57 0h0m-63 1h0m2 0h0m20 1h0m-36 1h0m74 0h0m-77 1h0m8 0h0m17 0h0m1 0h0m8 0h0m-23 1h0m-12 1h0m6 1h0m18 0h0m5 0h0m-15 2h0m2 0h0m1 0h0m1 0h0m8 0h0m1 0h0m-19 1h0m0 1h0m4 0h0m9 0h0m7 0h0m-10 2h0m62 0h0m-66 1h0m65 0h0m2 0h0m-4 2h0m-65 1h0m65 0h0m-47 1h0m46 0h0m-45 1h0m4 0h0m39 0h0m2 0h0m-59 2h0m55 0h0m-56 1h0m59 1h0m-51 2h0m40 0h0m1 2h0m-42 1h0m12 0h0m21 0h0m4 1h0m-4 1h0m-12 2h0m-15 1h0"/>
<path class="d1" stroke="#9c9fc0" d="M399.5 386.5h0m14 2h0m-8 5h0m12 4h0m-16 1h0m-16 5h0m22 0h0m-25 2h0m7 2h0m7 4h0m-4 3h0m-3 1h0m-9 1h0m17 0h0m-16 7h0m52 5h0m15 0h0m-25 2h0m48 0h0m-98 1h0m9 0h0m92 4h0m-96 3h0m34 2h0m-31 2h0m34 5h0m-14 3h0m73 0h0m-66 1h0m-22 1h0m24 2h0m-4 7h0m-2 7h0m20 0h0m38 9h0m-14 6h0"/>
<path class="d1" stroke="#283186" d="M404.5 384.5h0m5 0h0m31 0h0m-37 2h0m3 0h0m11 2h0m-14 1h0m22 0h0m3 1h0m8 0h0m4 0h0m-42 1h0m8 0h0m17 1h0m1 0h0m-7 1h0m-25 1h0m7 0h0m25 0h0m-27 1h0m9 0h0m6 0h0m-9 1h0m11 0h0m-1 1h0m2 0h0m-29 1h0m4 0h0m18 1h0m3 0h0m4 0h0m3 0h0m-28 1h0m6 0h0m6 0h0m29 0h0m-17 1h0m3 0h0m-28 1h0m1 0h0m4 0h0m2 0h0m10 0h0m13 0h0m-30 1h0m2 0h0m22 0h0m6 0h0m-17 1h0m5 0h0m-16 1h0m10 0h0m7 0h0m7 0h0m51 0h0m-80 1h0m3 0h0m1 0h0m6 0h0m21 0h0m11 0h0m-45 1h0m7 0h0m3 0h0m7 0h0m10 0h0m2 0h0m2 0h0m9 0h0m42 0h0m-84 1h0m10 0h0m5 0h0m19 0h0m48 0h0m-71 1h0m20 0h0m5 0h0m10 0h0m-38 1h0m31 0h0m12 0h0m-42 1h0m19 0h0m3 0h0m-31 1h0m8 0h0m11 0h0m2 0h0m1 0h0m6 0h0m3 0h0m1 0h0m-23 1h0m6 0h0m16 0h0m56 0h0m-77 1h0m7 0h0m5 0h0m24 0h0m-43 1h0m23 0h0m13 0h0m-37 1h0m3 0h0m17 0h0m4 0h0m4 0h0m10 1h0m45 0h0m-78 1h0m1 0h0m1 0h0m35 0h0m42 0h0m-86 1h0m14 0h0m6 0h0m4 0h0m3 0h0m2 0h0m-29 1h0m33 0h0m-31 1h0m4 0h0m21 0h0m4 0h0m31 0h0m24 0h0m-89 1h0m29 0h0m4 0h0m31 0h0m-63 1h0m8 0h0m1 0h0m8 0h0m16 0h0m2 0h0m1 0h0m-38 1h0m7 0h0m3 0h0m23 0h0m22 0h0m-32 1h0m2 0h0m27 0h0m1 0h0m-52 1h0m19 0h0m5 0h0m7 0h0m13 0h0m19 0h0m28 0h0m-95 1h0m12 0h0m3 0h0m13 0h0m-20 1h0m2 0h0m13 0h0m29 0h0m45 0h0m-79 1h0m20 0h0m14 0h0m12 0h0m-31 1h0m23 0h0m-12 1h0m7 0h0m-38 1h0m4 0h0m15 0h0m9 0h0m10 0h0m-22 1h0m-22 1h0m17 0h0m19 0h0m-41 1h0m10 0h0m32 0h0m8 0h0m-47 1h0m17 0h0m7 0h0m16 0h0m-45 1h0m11 0h0m3 0h0m11 0h0m2 0h0m11 0h0m3 0h0m2 0h0m9 0h0m45 0h0m-95 1h0m4 0h0m8 0h0m11 0h0m4 0h0m6 0h0m19 0h0m-38 1h0m3 0h0m9 0h0m14 0h0m15 0h0m-45 1h0m4 0h0m25 0h0m10 0h0m-30 1h0m1 0h0m2 0h0m20 0h0m1 0h0m4 0h0m3 0h0m29 0h0m17 0h0m4 0h0m-84 1h0m2 0h0m6 0h0m2 0h0m8 0h0m-6 1h0m7 0h0m-22 1h0m2 0h0m8 0h0m2 0h0m11 0h0m3 0h0m9 0h0m14 0h0m-49 1h0m27 0h0m5 0h0m5 0h0m3 0h0m-15 1h0m1 0h0m5 0h0m9 0h0m11 0h0m-52 1h0m18 0h0m14 0h0m57 0h0m-77 2h0m6 0h0m-19 1h0m57 0h0m-57 1h0m4 0h0m3 0h0m4 0h0m3 0h0m9 0h0m9 0h0m56 0h0m-77 1h0m2 0h0m-11 1h0m2 0h0m13 0h0m12 0h0m14 0h0m44 0h0m-54 1h0m6 0h0m1 0h0m-37 1h0m11 0h0m18 0h0m-26 1h0m25 0h0m9 0h0m-33 1h0m1 0h0m3 0h0m15 0h0m2 0h0m7 0h0m-24 1h0m10 0h0m5 0h0m-17 1h0m5 0h0m20 0h0m8 0h0m2 0h0m-21 1h0m1 0h0m14 1h0m50 0h0m-1 1h0m-6 1h0m-59 1h0m6 0h0m59 0h0m-74 1h0m22 1h0m-15 1h0m10 0h0m8 0h0m5 0h0m42 0h0m3 0h0m-69 1h0m64 0h0m-1 2h0m4 1h0m-18 1h0m9 0h0m2 2h0m2 0h0m-44 1h0m27 0h0m-37 1h0m7 0h0m4 1h0m35 0h0m5 0h0m-6 1h0m5 0h0m-47 1h0m3 0h0m37 0h0m-42 1h0m4 1h0m27 0h0m7 0h0m6 0h0m-38 1h0m3 1h0m15 0h0m16 0h0m-22 2h0"/>
<path class="d1" stroke="#9ea2c9" d="M411.5 387.5h0m3 2h0m10 1h0m-22 1h0m-12 2h0m32 0h0m-34 4h0m11 2h0m12 1h0m17 1h0m-26 2h0m9 3h0m-27 1h0m12 0h0m22 0h0m-9 2h0m-10 1h0m-1 2h0m67 1h0m2 1h0m-76 5h0m-14 1h0m5 0h0m-4 1h0m13 0h0m10 0h0m14 0h0m13 2h0m-52 1h0m2 1h0m6 0h0m34 1h0m13 0h0m-47 1h0m33 1h0m-33 5h0m47 0h0m-41 1h0m20 0h0m-27 1h0m56 0h0m-58 1h0m46 6h0m18 1h0m5 4h0m-60 1h0m3 0h0m11 0h0m-16 1h0m4 0h0m5 0h0m13 1h0m28 0h0m34 0h0m-75 2h0m26 0h0m-10 1h0m63 0h0m-82 1h0m20 0h0m59 0h0m-49 1h0m-6 3h0m-23 1h0m13 0h0m68 3h0m-47 2h0m-22 1h0m56 13h0"/>
<path class="d1" stroke="#2e3692" d="M403.5 384.5h0m-5 1h0m7 0h0m2 0h0m-7 1h0m-4 1h0m13 0h0m9 0h0m0 2h0m9 0h0m-36 1h0m4 0h0m4 0h0m3 0h0m3 0h0m12 0h0m1 0h0m-26 1h0m12 0h0m6 0h0m3 0h0m5 0h0m1 0h0m-23 1h0m9 0h0m1 0h0m11 0h0m1 0h0m4 0h0m-33 1h0m2 0h0m9 0h0m11 0h0m-26 1h0m3 0h0m5 0h0m10 0h0m1 0h0m3 0h0m7 0h0m3 0h0m2 0h0m-16 1h0m1 0h0m13 0h0m6 0h0m-23 1h0m16 0h0m-31 1h0m6 0h0m6 0h0m2 0h0m5 0h0m1 0h0m3 0h0m1 0h0m13 0h0m-37 1h0m17 0h0m3 0h0m14 0h0m5 0h0m6 0h0m-47 1h0m4 0h0m7 0h0m6 0h0m5 0h0m2 1h0m13 0h0m-30 1h0m3 0h0m18 0h0m8 0h0m4 0h0m2 0h0m33 0h0m-54 1h0m9 0h0m1 0h0m1 0h0m9 0h0m2 0h0m11 0h0m28 0h0m-82 1h0m1 0h0m8 0h0m5 0h0m7 0h0m1 0h0m34 0h0m-60 1h0m2 0h0m43 0h0m14 0h0m-53 1h0m19 0h0m1 0h0m26 0h0m-51 1h0m11 0h0m8 0h0m1 0h0m2 0h0m11 0h0m8 0h0m-34 1h0m29 0h0m9 0h0m-37 1h0m1 0h0m3 0h0m7 0h0m4 0h0m7 0h0m4 0h0m-27 1h0m6 0h0m1 0h0m19 0h0m6 0h0m-33 1h0m8 0h0m71 0h0m-77 1h0m5 0h0m8 0h0m6 0h0m11 0h0m4 0h0m-4 1h0m14 0h0m-43 1h0m13 0h0m12 0h0m-35 1h0m7 0h0m10 0h0m13 0h0m1 0h0m7 0h0m2 0h0m2 0h0m-18 1h0m16 0h0m6 0h0m21 0h0m20 0h0m-78 1h0m-7 1h0m7 0h0m2 0h0m3 0h0m5 0h0m1 0h0m4 0h0m1 0h0m6 0h0m10 0h0m-28 1h0m21 0h0m2 0h0m16 0h0m39 0h0m-93 1h0m11 0h0m5 0h0m6 0h0m13 0h0m5 0h0m3 0h0m16 0h0m2 0h0m-53 1h0m7 0h0m7 0h0m18 0h0m3 0h0m3 0h0m5 0h0m8 0h0m-46 1h0m3 0h0m5 0h0m9 0h0m7 0h0m14 0h0m3 0h0m41 0h0m-93 1h0m1 0h0m34 0h0m3 0h0m1 0h0m50 0h0m-86 1h0m1 0h0m1 0h0m6 0h0m5 0h0m32 0h0m4 0h0m39 0h0m-89 1h0m10 0h0m3 0h0m-19 1h0m12 0h0m18 0h0m2 0h0m3 0h0m15 0h0m3 0h0m40 0h0m-78 1h0m10 0h0m34 0h0m40 0h0m-89 1h0m7 0h0m6 0h0m5 0h0m18 0h0m48 0h0m-56 1h0m3 0h0m12 0h0m36 0h0m-83 1h0m2 0h0m20 0h0m6 0h0m6 0h0m9 0h0m-52 1h0m14 0h0m4 0h0m8 0h0m7 0h0m42 0h0m26 0h0m-101 1h0m24 0h0m5 0h0m6 0h0m6 0h0m4 0h0m10 0h0m-51 1h0m5 0h0m7 0h0m6 0h0m76 0h0m-82 1h0m5 0h0m2 0h0m7 0h0m6 0h0m13 0h0m22 0h0m15 0h0m-82 1h0m8 0h0m11 0h0m5 0h0m4 0h0m11 0h0m58 0h0m-93 1h0m5 0h0m4 0h0m10 0h0m3 0h0m22 0h0m-41 1h0m8 0h0m6 0h0m12 0h0m15 0h0m3 0h0m12 0h0m35 0h0m-94 1h0m22 0h0m2 0h0m24 0h0m5 0h0m40 0h0m-96 1h0m19 0h0m4 0h0m1 0h0m61 0h0m-86 1h0m5 0h0m11 0h0m6 0h0m9 0h0m65 0h0m-78 1h0m19 0h0m13 0h0m14 0h0m-41 1h0m9 0h0m2 0h0m2 0h0m30 0h0m9 0h0m3 0h0m-47 1h0m5 0h0m7 0h0m3 0h0m1 0h0m52 0h0m1 0h0m-97 1h0m5 0h0m2 0h0m13 0h0m14 0h0m4 0h0m2 0h0m-36 1h0m9 0h0m11 0h0m4 0h0m22 0h0m44 0h0m2 0h0m-94 1h0m2 0h0m11 0h0m3 0h0m11 0h0m1 0h0m3 0h0m7 0h0m12 0h0m43 0h0m-91 1h0m6 0h0m6 1h0m2 0h0m20 0h0m7 0h0m5 0h0m41 0h0m-74 1h0m2 0h0m7 0h0m4 0h0m18 0h0m-31 1h0m5 0h0m1 0h0m9 0h0m4 0h0m28 0h0m31 0h0m-84 1h0m1 0h0m4 0h0m7 0h0m4 0h0m3 0h0m2 0h0m21 0h0m43 0h0m-73 2h0m3 0h0m1 0h0m5 0h0m4 0h0m10 0h0m46 0h0m3 0h0m-82 1h0m-4 1h0m17 0h0m69 0h0m-85 1h0m11 0h0m9 0h0m-2 1h0m9 0h0m17 0h0m6 0h0m-40 1h0m17 0h0m-24 1h0m1 0h0m26 0h0m8 0h0m-13 1h0m29 0h0m20 0h0m11 0h0m2 0h0m-80 1h0m22 0h0m4 0h0m-3 1h0m5 0h0m49 0h0m-49 1h0m7 0h0m41 0h0m-71 1h0m2 0h0m5 0h0m4 0h0m1 1h0m5 0h0m1 0h0m54 0h0m-54 1h0m21 0h0m32 0h0m-38 1h0m36 0h0m-47 1h0m8 0h0m40 0h0m3 0h0m-62 1h0m51 0h0m-58 1h0m13 0h0m54 0h0m2 0h0m-66 1h0m66 0h0m-67 1h0m2 0h0m19 0h0m39 0h0m4 0h0m-62 1h0m1 0h0m6 0h0m3 0h0m1 0h0m17 0h0m26 0h0m5 0h0m-60 1h0m6 0h0m13 0h0m10 0h0m30 0h0m-49 1h0m25 0h0m20 0h0m-50 1h0m16 0h0m-14 1h0m1 0h0m18 0h0m-13 1h0m10 0h0m32 0h0m1 0h0m-43 1h0m17 0h0m14 0h0m-37 1h0m4 0h0m30 0h0m5 0h0m7 0h0m-42 1h0m1 0h0m5 0h0m7 0h0m11 0h0m16 0h0m-9 1h0m-25 1h0m15 1h0m-10 1h0m2 0h0m-6 1h0m23 0h0"/>
<path class="d1" stroke="#a1a5ce" d="M404.5 388.5h0m3 2h0m7 0h0m20 3h0m-46 2h0m53 0h0m-13 2h0m-11 1h0m-26 1h0m18 1h0m1 2h0m11 1h0m7 0h0m-30 5h0m14 0h0m52 0h0m-81 1h0m8 1h0m36 0h0m-41 1h0m5 1h0m19 0h0m57 0h0m-77 3h0m-4 2h0m39 0h0m-49 3h0m27 0h0m10 0h0m-26 2h0m6 0h0m30 0h0m-38 1h0m25 0h0m12 0h0m-11 1h0m18 0h0m-44 1h0m32 0h0m-5 1h0m-35 1h0m-5 1h0m65 0h0m-59 1h0m49 0h0m-17 4h0m-8 1h0m14 0h0m17 0h0m-62 1h0m92 0h0m-52 1h0m-25 1h0m46 1h0m39 0h0m-51 1h0m-27 1h0m15 0h0m-9 2h0m7 0h0m12 0h0m-1 3h0m-28 2h0m86 1h0m-84 1h0m18 0h0m24 0h0m-6 1h0m17 1h0m-51 1h0m28 1h0m2 0h0m13 1h0m-29 1h0m1 1h0m3 0h0m25 0h0m-43 1h0m29 2h0m6 1h0m-11 1h0m-1 3h0m9 2h0m49 0h0m-47 1h0m43 0h0m-3 5h0m3 1h0m-50 5h0m2 0h0m9 0h0m24 1h0m-26 2h0m28 0h0m-36 2h0m2 1h0"/>
<path class="d1" stroke="#363895" d="M401.5 384.5h0m10 1h0m2 1h0m1 0h0m21 1h0m-37 1h0m3 0h0m7 0h0m7 0h0m4 0h0m-12 1h0m3 0h0m1 0h0m2 0h0m4 0h0m3 0h0m12 0h0m-43 1h0m5 0h0m12 0h0m13 0h0m1 0h0m10 0h0m-35 1h0m12 0h0m2 0h0m26 0h0m-41 1h0m17 0h0m8 0h0m18 0h0m-50 1h0m8 0h0m7 0h0m7 0h0m4 0h0m8 0h0m2 0h0m15 0h0m-49 1h0m13 0h0m8 0h0m6 0h0m6 0h0m10 0h0m5 0h0m-47 1h0m12 0h0m12 0h0m1 0h0m20 0h0m-50 1h0m6 0h0m5 0h0m1 0h0m7 0h0m2 0h0m11 0h0m-22 1h0m15 0h0m9 0h0m1 0h0m18 0h0m-57 1h0m1 0h0m6 0h0m3 0h0m8 0h0m-9 1h0m6 0h0m11 0h0m15 0h0m4 0h0m-46 1h0m4 0h0m1 0h0m7 0h0m1 0h0m7 0h0m3 0h0m12 0h0m48 0h0m-80 1h0m3 0h0m16 0h0m4 0h0m2 0h0m8 0h0m11 0h0m2 0h0m5 0h0m5 0h0m-58 1h0m40 0h0m2 0h0m-42 1h0m17 0h0m12 0h0m7 0h0m7 0h0m39 0h0m-71 1h0m2 0h0m2 0h0m1 0h0m22 0h0m-32 1h0m3 0h0m5 0h0m1 0h0m3 0h0m4 0h0m6 0h0m19 0h0m1 0h0m36 0h0m-83 1h0m2 0h0m14 0h0m7 0h0m7 0h0m4 0h0m18 0h0m2 0h0m-56 1h0m1 0h0m13 0h0m1 0h0m18 0h0m51 0h0m-74 1h0m7 0h0m3 0h0m8 0h0m3 0h0m-31 1h0m8 0h0m12 0h0m4 0h0m6 0h0m12 0h0m1 0h0m10 0h0m31 0h0m-83 1h0m4 0h0m7 0h0m9 0h0m11 0h0m17 0h0m2 0h0m36 0h0m-90 1h0m5 0h0m13 0h0m16 0h0m21 0h0m-45 1h0m29 0h0m6 0h0m20 0h0m24 0h0m-86 1h0m1 0h0m18 0h0m6 0h0m14 0h0m4 0h0m4 0h0m4 0h0m-32 1h0m1 0h0m1 0h0m4 0h0m9 0h0m9 0h0m42 0h0m1 0h0m-75 1h0m2 0h0m2 0h0m4 0h0m5 0h0m5 0h0m1 0h0m5 0h0m15 0h0m27 0h0m-70 1h0m5 0h0m1 0h0m8 0h0m14 0h0m9 0h0m8 0h0m1 0h0m-53 1h0m11 0h0m1 0h0m19 0h0m15 0h0m4 0h0m-52 1h0m1 0h0m12 0h0m7 0h0m4 0h0m3 0h0m2 0h0m5 0h0m9 0h0m1 0h0m43 0h0m-65 1h0m27 0h0m3 0h0m19 0h0m8 0h0m-74 1h0m18 0h0m8 0h0m6 0h0m1 0h0m50 0h0m4 0h0m-74 1h0m3 0h0m3 0h0m8 0h0m7 0h0m3 0h0m-39 1h0m7 0h0m8 0h0m2 0h0m1 0h0m4 0h0m1 0h0m8 0h0m22 0h0m32 0h0m5 0h0m-98 1h0m13 0h0m30 0h0m45 0h0m-83 1h0m1 0h0m13 0h0m20 0h0m10 0h0m3 0h0m33 0h0m-86 1h0m1 0h0m9 0h0m10 0h0m2 0h0m15 0h0m5 0h0m1 0h0m4 0h0m7 0h0m7 0h0m11 0h0m25 0h0m-90 1h0m4 0h0m4 0h0m5 0h0m9 0h0m14 0h0m9 0h0m1 0h0m1 0h0m45 0h0m-91 1h0m26 0h0m3 0h0m1 0h0m5 0h0m3 0h0m15 0h0m-56 1h0m1 0h0m3 0h0m13 0h0m8 0h0m2 0h0m3 0h0m16 0h0m49 0h0m-96 1h0m1 0h0m8 0h0m9 0h0m1 0h0m1 0h0m6 0h0m14 0h0m1 0h0m3 0h0m2 0h0m7 0h0m30 0h0m12 0h0m-89 1h0m1 0h0m1 0h0m5 0h0m6 0h0m4 0h0m5 0h0m11 0h0m1 0h0m11 0h0m1 0h0m24 0h0m10 0h0m12 0h0m-93 1h0m3 0h0m16 0h0m8 0h0m15 0h0m5 0h0m41 0h0m2 0h0m-94 1h0m3 0h0m5 0h0m12 0h0m6 0h0m6 0h0m12 0h0m7 0h0m43 0h0m3 0h0m-102 1h0m4 0h0m9 0h0m11 0h0m3 0h0m2 0h0m3 0h0m12 0h0m2 0h0m9 0h0m3 0h0m3 0h0m4 0h0m-65 1h0m17 0h0m3 0h0m14 0h0m14 0h0m6 0h0m5 0h0m5 0h0m36 0h0m-67 1h0m7 0h0m2 0h0m1 0h0m4 0h0m11 0h0m17 0h0m8 0h0m5 0h0m4 0h0m6 0h0m-88 1h0m7 0h0m19 0h0m9 0h0m52 0h0m-92 1h0m10 0h0m11 0h0m27 0h0m4 0h0m2 0h0m22 0h0m-66 1h0m6 0h0m17 0h0m1 0h0m8 0h0m12 0h0m42 0h0m2 0h0m-98 1h0m8 0h0m1 0h0m14 0h0m10 0h0m9 0h0m2 0h0m-43 1h0m11 0h0m2 0h0m9 0h0m11 0h0m3 0h0m9 0h0m8 0h0m43 0h0m-77 1h0m4 0h0m15 0h0m5 0h0m1 0h0m46 0h0m6 0h0m-92 1h0m21 0h0m11 0h0m3 0h0m9 0h0m41 0h0m4 0h0m-77 1h0m1 0h0m11 0h0m1 0h0m7 0h0m7 0h0m3 0h0m3 0h0m2 0h0m8 0h0m37 0h0m-69 1h0m4 0h0m4 0h0m9 0h0m10 0h0m2 0h0m2 0h0m35 0h0m5 0h0m-84 1h0m14 0h0m1 0h0m3 0h0m3 0h0m-28 1h0m3 0h0m5 0h0m7 0h0m1 0h0m71 0h0m2 0h0m-83 1h0m22 0h0m3 0h0m52 0h0m-83 1h0m2 0h0m1 0h0m15 0h0m4 0h0m3 0h0m9 0h0m7 0h0m2 0h0m7 0h0m3 0h0m10 0h0m7 0h0m-68 1h0m25 0h0m64 0h0m-88 1h0m4 0h0m2 0h0m10 0h0m8 0h0m12 0h0m12 0h0m6 0h0m3 0h0m-56 1h0m6 0h0m38 0h0m24 0h0m-58 1h0m2 0h0m8 0h0m4 0h0m1 0h0m2 0h0m3 0h0m7 0h0m-27 1h0m4 0h0m6 0h0m1 0h0m1 0h0m15 0h0m16 0h0m29 0h0m-78 1h0m5 0h0m8 0h0m13 0h0m30 0h0m-36 1h0m10 0h0m5 0h0m47 0h0m-76 1h0m6 0h0m1 0h0m4 0h0m13 0h0m37 0h0m15 0h0m-72 1h0m4 0h0m7 0h0m3 0h0m3 0h0m5 0h0m42 0h0m8 0h0m2 0h0m-82 1h0m8 0h0m7 0h0m60 0h0m-66 1h0m6 0h0m26 0h0m8 0h0m31 0h0m-77 1h0m11 0h0m3 0h0m5 0h0m6 0h0m14 0h0m38 0h0m-61 1h0m23 0h0m37 0h0m-77 1h0m7 0h0m7 0h0m2 0h0m5 0h0m18 0h0m2 0h0m2 0h0m-9 1h0m3 0h0m26 0h0m-57 1h0m1 0h0m4 0h0m4 0h0m8 0h0m6 1h0m24 0h0m16 0h0m5 0h0m-67 1h0m1 0h0m1 0h0m25 0h0m34 0h0m7 0h0m-67 1h0m32 0h0m17 0h0m-42 2h0m8 0h0m2 0h0m6 0h0m26 0h0m-45 1h0m7 0h0m11 0h0m6 0h0m1 0h0m31 0h0m7 0h0m-61 1h0m5 0h0m8 1h0m42 0h0m-53 1h0m33 0h0m-34 1h0m4 0h0m1 0h0m11 0h0m-7 1h0m6 0h0m31 0h0m3 0h0m6 0h0m-50 1h0m28 0h0m-31 1h0m5 0h0m4 0h0m13 1h0m22 0h0m-32 1h0m8 0h0m30 0h0m-43 1h0m2 0h0m1 0h0m28 0h0m5 0h0m-37 1h0m6 0h0m5 0h0m21 0h0m3 0h0m-7 1h0m5 0h0m-25 1h0m1 1h0m-2 1h0m10 0h0m-5 1h0"/>
<path class="d1" stroke="#a5a5cf" d="M410.5 386.5h0m-5 2h0m11 3h0m11 2h0m1 0h0m-34 1h0m17 0h0m-12 1h0m11 1h0m21 0h0m-13 1h0m44 1h0m-77 1h0m19 1h0m2 0h0m-9 1h0m19 1h0m47 0h0m-73 1h0m13 0h0m23 1h0m39 0h0m-65 1h0m-13 1h0m40 2h0m5 0h0m-32 2h0m27 1h0m36 0h0m-63 2h0m3 0h0m21 0h0m-12 1h0m16 2h0m-15 1h0m23 0h0m-55 1h0m42 0h0m46 0h0m-73 1h0m8 1h0m3 0h0m29 2h0m-34 1h0m11 0h0m5 0h0m-4 1h0m-38 1h0m62 0h0m29 0h0m-59 1h0m39 0h0m-51 1h0m-20 1h0m80 0h0m-56 1h0m40 0h0m-63 1h0m11 1h0m4 0h0m12 0h0m16 0h0m16 0h0m24 1h0m-72 2h0m25 1h0m0 1h0m20 0h0m-26 2h0m-11 1h0m7 0h0m-23 1h0m4 1h0m2 1h0m18 0h0m12 1h0m-6 1h0m20 0h0m22 0h0m-53 2h0m-14 1h0m1 0h0m16 0h0m74 0h0m-76 1h0m73 0h0m-74 1h0m26 1h0m-29 1h0m4 0h0m-4 1h0m8 0h0m-14 1h0m34 0h0m49 0h0m-76 2h0m19 0h0m57 0h0m-26 1h0m-42 1h0m4 0h0m21 0h0m-14 1h0m-11 1h0m17 2h0m-15 3h0m29 1h0m-21 1h0m-8 3h0m58 3h0m7 0h0m-34 1h0m-17 1h0m43 0h0m-23 1h0m13 3h0m-3 1h0m7 0h0m-9 3h0m2 0h0m-25 1h0m26 0h0m-31 2h0"/>
<path class="d1" stroke="#3e3998" d="M405.5 384.5h0m5 0h0m-9 1h0m1 0h0m15 0h0m3 1h0m19 0h0m-40 1h0m2 0h0m18 0h0m1 1h0m10 0h0m-21 1h0m19 0h0m11 0h0m-41 1h0m13 0h0m5 0h0m6 0h0m7 0h0m-36 1h0m7 0h0m1 0h0m20 0h0m16 0h0m-44 1h0m10 0h0m17 0h0m-22 1h0m20 0h0m6 0h0m2 0h0m7 0h0m-38 1h0m11 0h0m19 0h0m5 0h0m-43 1h0m2 0h0m19 0h0m3 0h0m2 0h0m5 0h0m8 0h0m-37 1h0m3 0h0m1 0h0m2 0h0m7 0h0m5 0h0m2 0h0m4 0h0m14 0h0m2 0h0m1 0h0m3 0h0m-44 1h0m7 0h0m10 0h0m1 0h0m14 0h0m-21 1h0m8 0h0m10 0h0m3 0h0m2 0h0m2 0h0m9 0h0m-39 1h0m9 0h0m17 0h0m6 0h0m2 0h0m4 0h0m-39 1h0m3 0h0m2 0h0m17 0h0m45 0h0m-79 1h0m17 0h0m11 0h0m53 0h0m-81 1h0m3 0h0m12 0h0m2 0h0m9 0h0m9 0h0m13 0h0m-21 1h0m-25 1h0m1 0h0m40 0h0m-42 1h0m1 0h0m8 0h0m25 0h0m8 0h0m2 0h0m36 0h0m-84 1h0m2 0h0m2 0h0m10 0h0m25 0h0m44 0h0m-80 1h0m3 0h0m19 0h0m7 0h0m6 0h0m11 0h0m-50 1h0m1 0h0m5 0h0m2 0h0m9 0h0m6 0h0m4 0h0m8 0h0m17 0h0m37 0h0m-78 1h0m2 0h0m8 0h0m3 0h0m6 0h0m8 0h0m18 0h0m-52 1h0m1 0h0m5 0h0m10 0h0m11 0h0m21 0h0m33 0h0m-80 1h0m4 0h0m2 0h0m11 0h0m5 0h0m19 0h0m1 0h0m4 0h0m4 0h0m10 0h0m21 0h0m-81 1h0m9 0h0m14 0h0m8 0h0m7 0h0m9 0h0m-47 1h0m5 0h0m19 0h0m8 0h0m3 0h0m3 0h0m4 0h0m-47 1h0m4 0h0m1 0h0m12 0h0m12 0h0m17 0h0m39 0h0m-84 1h0m4 0h0m15 0h0m13 0h0m2 0h0m1 0h0m54 0h0m-86 1h0m3 0h0m17 0h0m7 0h0m5 0h0m5 0h0m-40 1h0m18 0h0m11 0h0m7 0h0m8 0h0m20 0h0m-66 1h0m20 0h0m7 0h0m2 0h0m4 0h0m26 0h0m32 0h0m3 0h0m-93 1h0m6 0h0m3 0h0m2 0h0m1 0h0m8 0h0m4 0h0m13 0h0m7 0h0m3 0h0m8 0h0m32 0h0m-87 1h0m8 0h0m7 0h0m1 0h0m6 0h0m5 0h0m29 0h0m6 0h0m-48 1h0m8 0h0m4 0h0m1 0h0m4 0h0m12 0h0m2 0h0m3 0h0m1 0h0m5 0h0m12 0h0m24 0h0m2 0h0m-81 1h0m2 0h0m4 0h0m2 0h0m5 0h0m11 0h0m6 0h0m10 0h0m1 0h0m14 0h0m16 0h0m-82 1h0m22 0h0m1 0h0m10 0h0m9 0h0m12 0h0m8 0h0m1 0h0m-61 1h0m5 0h0m3 0h0m5 0h0m3 0h0m3 0h0m17 0h0m1 0h0m7 0h0m3 0h0m42 0h0m-90 1h0m27 0h0m2 0h0m8 0h0m35 0h0m2 0h0m9 0h0m10 0h0m-98 1h0m10 0h0m9 0h0m1 0h0m5 0h0m4 0h0m2 0h0m6 0h0m2 0h0m19 0h0m8 0h0m-17 1h0m1 0h0m4 0h0m1 0h0m1 0h0m1 0h0m5 0h0m11 0h0m-74 1h0m2 0h0m14 0h0m19 0h0m14 0h0m2 0h0m5 0h0m39 0h0m1 0h0m4 0h0m-98 1h0m5 0h0m2 0h0m11 0h0m21 0h0m19 0h0m12 0h0m25 0h0m-95 1h0m13 0h0m4 0h0m9 0h0m28 0h0m2 0h0m1 0h0m4 0h0m34 0h0m-90 1h0m5 0h0m1 0h0m1 0h0m7 0h0m3 0h0m1 0h0m1 0h0m31 0h0m2 0h0m6 0h0m3 0h0m6 0h0m1 0h0m14 0h0m10 0h0m1 0h0m-84 1h0m10 0h0m1 0h0m8 0h0m2 0h0m16 0h0m11 0h0m12 0h0m2 0h0m-80 1h0m3 0h0m13 0h0m3 0h0m4 0h0m19 0h0m10 0h0m16 0h0m30 0h0m3 0h0m2 0h0m-89 1h0m9 0h0m7 0h0m2 0h0m24 0h0m7 0h0m3 0h0m15 0h0m14 0h0m5 0h0m-94 1h0m11 0h0m9 0h0m1 0h0m2 0h0m17 0h0m8 0h0m3 0h0m1 0h0m17 0h0m-59 1h0m7 0h0m1 0h0m4 0h0m17 0h0m12 0h0m2 0h0m13 0h0m2 0h0m-64 1h0m1 0h0m9 0h0m9 0h0m9 0h0m5 0h0m8 0h0m10 0h0m17 0h0m6 0h0m4 0h0m15 0h0m-92 1h0m1 0h0m2 0h0m17 0h0m4 0h0m7 0h0m17 0h0m42 0h0m4 0h0m-93 1h0m4 0h0m19 0h0m6 0h0m24 0h0m2 0h0m7 0h0m11 0h0m10 0h0m3 0h0m2 0h0m-89 1h0m6 0h0m4 0h0m9 0h0m2 0h0m13 0h0m22 0h0m4 0h0m5 0h0m20 0h0m8 0h0m-95 1h0m7 0h0m6 0h0m11 0h0m1 0h0m6 0h0m9 0h0m5 0h0m6 0h0m12 0h0m-54 1h0m8 0h0m32 0h0m2 0h0m1 0h0m26 0h0m-73 1h0m25 0h0m12 0h0m3 0h0m1 0h0m2 0h0m7 0h0m3 0h0m4 0h0m30 0h0m1 0h0m-86 1h0m21 0h0m17 0h0m2 0h0m12 0h0m27 0h0m-86 1h0m13 0h0m7 0h0m5 0h0m9 0h0m4 0h0m2 0h0m12 0h0m4 0h0m-49 1h0m16 0h0m1 0h0m26 0h0m2 0h0m7 0h0m18 0h0m-74 1h0m4 0h0m21 0h0m1 0h0m17 0h0m2 0h0m4 0h0m2 0h0m12 0h0m14 0h0m-69 1h0m29 0h0m3 0h0m1 0h0m5 0h0m1 0h0m30 0h0m11 0h0m6 0h0m-88 1h0m9 0h0m19 0h0m2 0h0m5 0h0m1 0h0m2 0h0m10 0h0m10 0h0m-47 1h0m5 0h0m15 0h0m3 0h0m50 0h0m-83 1h0m2 0h0m5 0h0m6 0h0m10 0h0m10 0h0m1 0h0m30 0h0m20 0h0m3 0h0m-86 1h0m12 0h0m9 0h0m10 0h0m7 0h0m2 0h0m25 0h0m13 0h0m3 0h0m1 0h0m-72 1h0m16 0h0m16 0h0m3 0h0m27 0h0m-67 1h0m6 0h0m9 0h0m11 0h0m50 0h0m-67 1h0m10 0h0m15 0h0m44 0h0m-82 1h0m17 0h0m6 0h0m4 0h0m5 0h0m35 0h0m-59 1h0m1 0h0m7 0h0m3 0h0m8 0h0m4 0h0m12 0h0m38 0h0m-77 1h0m27 0h0m5 0h0m45 0h0m1 0h0m1 0h0m-63 1h0m4 0h0m24 0h0m5 0h0m13 0h0m-56 1h0m17 0h0m2 0h0m8 0h0m2 0h0m13 0h0m18 0h0m12 0h0m2 0h0m-79 1h0m5 0h0m1 0h0m2 0h0m4 0h0m20 0h0m25 0h0m10 0h0m-65 1h0m1 0h0m19 0h0m23 0h0m18 0h0m1 0h0m12 0h0m-69 1h0m5 0h0m15 0h0m14 0h0m2 0h0m17 0h0m16 0h0m-52 1h0m2 0h0m8 0h0m5 0h0m5 0h0m3 0h0m12 0h0m10 0h0m5 0h0m-50 1h0m5 1h0m12 0h0m-33 2h0m5 0h0m4 0h0m7 0h0m-17 1h0m6 0h0m6 0h0m16 0h0m9 0h0m17 0h0m1 0h0m8 0h0m-57 1h0m1 0h0m37 0h0m18 0h0m-54 1h0m2 0h0m5 0h0m4 0h0m28 0h0m-15 1h0m34 0h0m-48 1h0m8 0h0m3 0h0m15 0h0m2 0h0m14 0h0m-28 1h0m-24 1h0m25 0h0m6 0h0m20 0h0m3 0h0m-36 1h0m2 0h0m3 0h0m2 0h0m4 0h0m6 0h0m15 0h0m1 0h0m2 0h0m1 0h0m-53 1h0m11 0h0m2 0h0m22 0h0m3 0h0m1 0h0m3 0h0m6 0h0m-37 1h0m1 0h0m7 0h0m1 0h0m27 0h0m-38 1h0m5 0h0m10 0h0m23 0h0m-14 1h0m2 0h0m5 0h0m-25 1h0m15 0h0m5 0h0m-28 1h0m13 0h0m12 0h0m1 0h0m8 0h0m-24 1h0m-9 1h0m3 0h0m9 0h0m6 0h0m7 0h0m-21 1h0m1 1h0m-3 1h0m2 0h0m2 0h0m1 0h0m-3 1h0"/>
<path class="d1" stroke="#a8a6d1" d="M408.5 384.5h0m0 2h0m-6 1h0m13 0h0m-15 1h0m19 1h0m-14 2h0m10 0h0m8 0h0m-23 3h0m12 0h0m15 4h0m-45 1h0m11 0h0m-11 1h0m46 0h0m6 0h0m-45 1h0m20 0h0m-11 1h0m3 0h0m24 0h0m6 0h0m-31 1h0m18 0h0m14 0h0m-33 1h0m31 0h0m3 0h0m-19 1h0m-22 1h0m15 1h0m-22 1h0m40 0h0m-43 1h0m47 0h0m-13 1h0m7 0h0m-46 2h0m30 0h0m17 0h0m-39 1h0m10 0h0m-8 1h0m48 0h0m-57 1h0m46 0h0m14 0h0m-21 1h0m-40 1h0m39 0h0m8 0h0m-40 1h0m-1 1h0m11 0h0m74 0h0m-78 1h0m42 0h0m39 1h0m-96 1h0m10 0h0m5 0h0m-1 1h0m8 0h0m60 0h0m-60 2h0m25 0h0m-5 1h0m18 0h0m-44 1h0m-17 2h0m0 1h0m19 0h0m32 0h0m9 0h0m1 0h0m33 0h0m-93 1h0m4 0h0m12 0h0m77 0h0m-63 1h0m34 0h0m-62 1h0m5 0h0m4 0h0m6 0h0m36 0h0m45 0h0m-74 1h0m8 1h0m24 0h0m-55 1h0m50 0h0m44 0h0m-59 1h0m0 2h0m-14 1h0m1 0h0m7 0h0m-24 1h0m55 0h0m-59 1h0m8 0h0m7 1h0m25 1h0m16 0h0m-30 1h0m3 1h0m21 0h0m24 0h0m-46 1h0m-15 2h0m5 0h0m10 0h0m66 0h0m-34 2h0m34 0h0m-79 1h0m2 0h0m1 0h0m35 0h0m38 1h0m7 0h0m-67 1h0m1 0h0m28 2h0m-11 4h0m43 0h0m-66 2h0m43 0h0m17 2h0m-13 2h0m8 0h0m4 0h0m-58 1h0m16 1h0m8 0h0m8 0h0m31 2h0m-35 1h0m10 0h0m-29 1h0m1 0h0m33 1h0m-32 1h0m46 0h0m1 0h0m0 1h0m2 0h0m-21 1h0m-27 1h0m2 3h0m4 0h0m29 1h0m-21 1h0m6 0h0m-4 1h0m12 0h0m-17 1h0m2 1h0m3 0h0"/>
<path class="d1" stroke="#463b9b" d="M438.5 385.5h0m-36 1h0m7 0h0m8 0h0m-20 1h0m6 0h0m4 0h0m6 0h0m-17 1h0m10 0h0m1 0h0m11 0h0m4 0h0m5 0h0m-27 1h0m1 0h0m1 0h0m4 0h0m6 0h0m21 0h0m3 0h0m-43 1h0m8 0h0m3 0h0m5 0h0m-13 1h0m24 0h0m7 0h0m4 0h0m-34 1h0m4 0h0m11 0h0m22 0h0m5 0h0m-51 1h0m5 0h0m3 0h0m3 0h0m16 0h0m5 0h0m10 0h0m1 0h0m-45 1h0m1 0h0m3 0h0m8 0h0m15 0h0m15 0h0m13 0h0m-56 1h0m34 0h0m13 0h0m6 0h0m-51 1h0m7 0h0m4 0h0m26 0h0m15 0h0m-39 1h0m3 0h0m26 0h0m32 0h0m-78 1h0m4 0h0m10 0h0m10 0h0m5 0h0m-9 1h0m11 0h0m6 0h0m-37 1h0m3 0h0m5 0h0m17 0h0m2 0h0m7 0h0m6 0h0m4 0h0m8 0h0m-54 1h0m4 0h0m13 0h0m2 0h0m5 0h0m2 0h0m5 0h0m8 0h0m1 0h0m1 0h0m13 0h0m26 0h0m-73 1h0m7 0h0m8 0h0m4 0h0m32 0h0m22 0h0m-73 1h0m6 0h0m7 0h0m5 0h0m2 0h0m7 0h0m16 0h0m-49 1h0m6 0h0m17 0h0m3 0h0m9 0h0m12 0h0m2 0h0m3 0h0m5 0h0m-51 1h0m10 0h0m8 0h0m6 0h0m7 0h0m1 0h0m2 0h0m1 0h0m13 0h0m-41 1h0m6 0h0m2 0h0m1 0h0m11 0h0m8 0h0m4 0h0m36 0h0m1 0h0m-78 1h0m15 0h0m1 0h0m6 0h0m1 0h0m6 0h0m4 0h0m1 0h0m4 0h0m9 0h0m30 0h0m-76 1h0m7 0h0m23 0h0m17 0h0m-29 1h0m16 0h0m17 0h0m8 0h0m21 0h0m-87 1h0m15 0h0m9 0h0m2 0h0m20 0h0m12 0h0m-53 1h0m13 0h0m12 0h0m9 0h0m2 0h0m-31 1h0m5 0h0m1 0h0m9 0h0m10 0h0m11 0h0m2 0h0m9 0h0m-50 1h0m6 0h0m5 0h0m10 0h0m14 0h0m11 0h0m5 0h0m7 0h0m-64 1h0m8 0h0m4 0h0m15 0h0m-22 1h0m15 0h0m1 0h0m6 0h0m4 0h0m6 0h0m17 0h0m27 0h0m-86 1h0m18 0h0m18 0h0m9 0h0m2 0h0m2 0h0m2 0h0m2 0h0m2 0h0m16 0h0m2 0h0m13 0h0m1 0h0m1 0h0m-75 1h0m13 0h0m15 0h0m10 0h0m2 0h0m4 0h0m8 0h0m-47 1h0m2 0h0m3 0h0m4 0h0m6 0h0m5 0h0m29 0h0m-63 1h0m6 0h0m21 0h0m2 0h0m7 0h0m8 0h0m2 0h0m5 0h0m3 0h0m1 0h0m4 0h0m32 0h0m-91 1h0m8 0h0m24 0h0m23 0h0m10 0h0m5 0h0m14 0h0m1 0h0m-83 1h0m2 0h0m11 0h0m18 0h0m5 0h0m6 0h0m10 0h0m-14 1h0m12 0h0m16 0h0m22 0h0m-94 1h0m1 0h0m17 0h0m9 0h0m2 0h0m29 0h0m4 0h0m4 0h0m23 0h0m4 0h0m-95 1h0m9 0h0m6 0h0m6 0h0m9 0h0m3 0h0m1 0h0m1 0h0m4 0h0m24 0h0m5 0h0m13 0h0m13 0h0m-87 1h0m12 0h0m2 0h0m9 0h0m9 0h0m8 0h0m26 0h0m5 0h0m-79 1h0m3 0h0m12 0h0m7 0h0m43 0h0m8 0h0m-34 1h0m14 0h0m13 0h0m4 0h0m7 0h0m12 0h0m6 0h0m4 0h0m-82 1h0m5 0h0m3 0h0m1 0h0m10 0h0m11 0h0m21 0h0m1 0h0m7 0h0m-60 1h0m15 0h0m1 0h0m5 0h0m9 0h0m2 0h0m4 0h0m9 0h0m10 0h0m7 0h0m2 0h0m13 0h0m6 0h0m-78 1h0m9 0h0m15 0h0m1 0h0m3 0h0m19 0h0m7 0h0m16 0h0m-90 1h0m4 0h0m11 0h0m16 0h0m11 0h0m8 0h0m5 0h0m8 0h0m20 0h0m13 0h0m-96 1h0m1 0h0m17 0h0m6 0h0m3 0h0m10 0h0m5 0h0m2 0h0m2 0h0m7 0h0m4 0h0m15 0h0m2 0h0m15 0h0m2 0h0m-86 1h0m65 0h0m19 0h0m8 0h0m-97 1h0m4 0h0m1 0h0m3 0h0m29 0h0m2 0h0m9 0h0m1 0h0m9 0h0m-31 1h0m3 0h0m12 0h0m20 0h0m9 0h0m21 0h0m-91 1h0m15 0h0m11 0h0m5 0h0m1 0h0m5 0h0m6 0h0m4 0h0m13 0h0m12 0h0m7 0h0m6 0h0m-84 1h0m3 0h0m4 0h0m11 0h0m1 0h0m26 0h0m19 0h0m10 0h0m1 0h0m21 0h0m-83 1h0m16 0h0m17 0h0m15 0h0m3 0h0m2 0h0m5 0h0m5 0h0m6 0h0m16 0h0m-80 1h0m19 0h0m2 0h0m27 0h0m8 0h0m11 0h0m9 0h0m-85 1h0m2 0h0m9 0h0m14 0h0m11 0h0m9 0h0m9 0h0m4 0h0m-64 1h0m3 0h0m6 0h0m6 0h0m9 0h0m12 0h0m9 0h0m3 0h0m6 0h0m34 0h0m-87 1h0m3 0h0m8 0h0m18 0h0m11 0h0m8 0h0m2 0h0m4 0h0m7 0h0m11 0h0m4 0h0m9 0h0m4 0h0m3 0h0m1 0h0m-93 1h0m7 0h0m13 0h0m34 0h0m26 0h0m4 0h0m5 0h0m7 0h0m-82 1h0m8 0h0m2 0h0m2 0h0m31 0h0m18 0h0m-70 1h0m10 0h0m4 0h0m29 0h0m2 0h0m9 0h0m5 0h0m4 0h0m29 0h0m-85 1h0m6 0h0m4 0h0m10 0h0m10 0h0m4 0h0m12 0h0m-56 1h0m2 0h0m16 0h0m4 0h0m8 0h0m2 0h0m9 0h0m4 0h0m3 0h0m-46 1h0m13 0h0m15 0h0m4 0h0m16 0h0m8 0h0m36 0h0m-91 1h0m25 0h0m4 0h0m4 0h0m5 0h0m8 0h0m4 0h0m1 0h0m12 0h0m11 0h0m-63 1h0m3 0h0m17 0h0m6 0h0m4 0h0m3 0h0m1 0h0m4 0h0m31 0h0m5 0h0m6 0h0m-70 1h0m1 0h0m5 0h0m5 0h0m8 0h0m2 0h0m2 0h0m9 0h0m5 0h0m33 0h0m-43 1h0m43 0h0m-71 1h0m14 0h0m1 0h0m17 0h0m4 0h0m8 0h0m12 0h0m-60 1h0m14 0h0m1 0h0m2 0h0m3 0h0m3 0h0m1 0h0m12 0h0m2 0h0m2 0h0m18 0h0m10 0h0m-74 1h0m9 0h0m8 0h0m2 0h0m3 0h0m8 0h0m2 0h0m21 0h0m18 0h0m-70 1h0m16 0h0m13 0h0m5 0h0m5 0h0m20 0h0m14 0h0m4 0h0m-77 1h0m8 0h0m24 0h0m12 0h0m31 0h0m5 0h0m-79 1h0m3 0h0m2 0h0m5 0h0m13 0h0m20 0h0m27 0h0m-74 1h0m6 0h0m7 0h0m7 0h0m11 0h0m14 0h0m4 0h0m-45 1h0m10 0h0m9 0h0m4 0h0m7 0h0m27 0h0m2 0h0m17 0h0m-72 1h0m6 0h0m6 0h0m23 0h0m2 0h0m34 0h0m4 0h0m-70 1h0m14 0h0m7 0h0m2 0h0m1 0h0m11 0h0m11 0h0m13 0h0m6 0h0m4 0h0m-57 1h0m5 0h0m6 0h0m14 0h0m29 0h0m-72 1h0m5 0h0m21 0h0m20 0h0m8 0h0m-53 1h0m3 0h0m29 0h0m1 0h0m9 0h0m9 0h0m12 0h0m9 0h0m-66 1h0m12 0h0m9 0h0m40 0h0m-60 1h0m11 0h0m15 0h0m33 0h0m-44 1h0m26 0h0m1 0h0m5 0h0m3 0h0m11 0h0m6 0h0m-64 1h0m14 0h0m26 0h0m19 0h0m-55 1h0m26 0h0m17 0h0m15 0h0m-47 1h0m10 0h0m24 0h0m-30 1h0m4 0h0m24 0h0m-41 1h0m15 0h0m7 0h0m5 0h0m14 0h0m7 0h0m7 0h0m-59 1h0m25 0h0m6 0h0m6 0h0m-36 1h0m19 0h0m6 0h0m21 1h0m4 0h0m-47 1h0m18 0h0m1 0h0m-7 1h0m14 0h0m-14 1h0m19 0h0m2 0h0m-23 1h0m8 0h0m14 0h0m6 0h0m1 0h0m4 0h0m-27 1h0m3 0h0m-4 1h0m12 0h0m3 0h0m-27 1h0m2 0h0m14 0h0m9 0h0m1 0h0m-10 1h0m4 0h0m4 0h0m1 0h0m-21 1h0m14 0h0m-11 1h0m16 0h0m-14 1h0"/>
<path class="d1" stroke="#aca7d2" d="M404.5 385.5h0m2 0h0m2 0h0m-4 1h0m32 2h0m-21 2h0m-4 1h0m-13 1h0m31 0h0m-29 3h0m-10 1h0m25 0h0m10 1h0m15 1h0m-17 1h0m39 0h0m-71 3h0m36 0h0m-34 2h0m43 0h0m-20 1h0m10 0h0m4 1h0m-8 4h0m-43 2h0m86 0h0m-45 1h0m6 0h0m-45 2h0m18 1h0m-14 1h0m84 0h0m-50 1h0m5 0h0m2 0h0m44 1h0m-94 2h0m27 0h0m16 0h0m-4 1h0m44 0h0m-68 1h0m16 0h0m2 0h0m17 0h0m4 0h0m-28 1h0m28 0h0m1 0h0m15 0h0m-22 1h0m6 1h0m7 0h0m-64 1h0m27 0h0m19 6h0m5 1h0m5 0h0m-37 2h0m28 0h0m3 0h0m47 1h0m-92 2h0m26 0h0m1 0h0m18 0h0m40 0h0m-82 1h0m38 0h0m-27 1h0m43 1h0m39 0h0m-84 1h0m40 0h0m45 0h0m-61 1h0m-6 2h0m54 0h0m-68 1h0m37 0h0m-20 1h0m5 1h0m-8 1h0m25 0h0m27 1h0m-20 3h0m-49 1h0m8 0h0m66 0h0m-35 3h0m36 0h0m-69 1h0m75 0h0m-65 3h0m19 0h0m18 1h0m-33 2h0m19 1h0m12 0h0m13 0h0m2 2h0m-49 1h0m9 3h0m20 5h0m17 0h0m-38 2h0m40 0h0m-9 1h0m-13 3h0m1 0h0m13 1h0"/>
<path class="d1" stroke="#4e3c9e" d="M406.5 383.5h0m6 2h0m3 1h0m21 0h0m1 0h0m-32 1h0m1 0h0m6 0h0m21 0h0m6 0h0m-44 1h0m19 0h0m19 0h0m-39 1h0m3 0h0m8 0h0m11 0h0m5 0h0m1 0h0m-30 1h0m33 0h0m2 0h0m4 0h0m-43 1h0m2 0h0m4 0h0m9 0h0m5 0h0m-16 1h0m35 0h0m4 0h0m-39 1h0m11 0h0m3 0h0m10 0h0m20 0h0m-28 1h0m1 0h0m6 0h0m6 0h0m2 0h0m8 0h0m-36 1h0m10 0h0m11 0h0m4 0h0m5 0h0m3 0h0m8 0h0m1 0h0m6 0h0m-55 1h0m17 0h0m6 0h0m21 0h0m3 0h0m-48 1h0m24 0h0m12 0h0m3 0h0m5 0h0m3 0h0m3 0h0m-44 1h0m5 0h0m8 0h0m7 0h0m2 0h0m13 0h0m7 0h0m1 0h0m24 0h0m-58 1h0m10 0h0m7 0h0m5 0h0m39 0h0m-62 1h0m12 0h0m1 0h0m4 0h0m3 0h0m1 0h0m-38 1h0m7 0h0m3 0h0m47 0h0m-49 1h0m8 0h0m20 0h0m8 0h0m10 0h0m22 0h0m4 0h0m-77 1h0m8 0h0m16 0h0m5 0h0m18 0h0m3 0h0m5 0h0m-59 1h0m26 0h0m9 0h0m3 0h0m7 0h0m31 0h0m-80 1h0m7 0h0m16 0h0m8 0h0m1 0h0m-23 1h0m21 0h0m16 0h0m6 0h0m34 0h0m1 0h0m-74 1h0m14 0h0m25 0h0m1 0h0m2 0h0m1 0h0m4 0h0m-13 1h0m2 0h0m13 0h0m18 0h0m6 0h0m-79 1h0m9 0h0m2 0h0m6 0h0m15 0h0m2 0h0m5 0h0m7 0h0m34 0h0m-53 1h0m1 0h0m5 0h0m6 0h0m39 0h0m-67 1h0m6 0h0m12 0h0m11 0h0m2 0h0m3 0h0m29 0h0m-80 1h0m5 0h0m32 0h0m8 0h0m10 0h0m4 0h0m29 0h0m-89 1h0m15 0h0m3 0h0m4 0h0m42 0h0m1 0h0m-50 1h0m12 0h0m5 0h0m14 0h0m12 0h0m31 0h0m-86 1h0m6 0h0m4 0h0m24 0h0m1 0h0m5 0h0m4 0h0m8 0h0m6 0h0m5 0h0m18 0h0m-67 1h0m4 0h0m4 0h0m12 0h0m36 0h0m13 0h0m1 0h0m-57 1h0m5 0h0m25 0h0m5 0h0m-51 1h0m7 0h0m34 0h0m7 0h0m11 0h0m-76 1h0m28 0h0m10 0h0m4 0h0m30 0h0m-46 1h0m17 0h0m10 0h0m2 0h0m2 0h0m5 0h0m3 0h0m22 0h0m-88 1h0m5 0h0m6 0h0m3 0h0m63 0h0m-66 1h0m15 0h0m30 0h0m21 0h0m10 0h0m3 0h0m-90 1h0m23 0h0m31 0h0m26 0h0m7 0h0m4 0h0m-51 1h0m20 0h0m10 0h0m-71 1h0m57 0h0m9 0h0m6 0h0m10 0h0m15 0h0m-82 1h0m15 0h0m3 0h0m7 0h0m5 0h0m14 0h0m32 0h0m7 0h0m-79 1h0m12 0h0m3 0h0m14 0h0m20 0h0m-68 1h0m29 0h0m2 0h0m5 0h0m15 0h0m37 0h0m1 0h0m7 0h0m-86 1h0m15 0h0m7 0h0m5 0h0m20 0h0m4 0h0m14 0h0m-76 1h0m12 0h0m24 0h0m12 0h0m16 0h0m3 0h0m2 0h0m4 0h0m8 0h0m-59 1h0m11 0h0m13 0h0m20 0h0m25 0h0m-93 1h0m1 0h0m30 0h0m10 0h0m11 0h0m7 0h0m2 0h0m8 0h0m3 0h0m14 0h0m11 0h0m4 0h0m-92 1h0m3 0h0m8 0h0m18 0h0m25 0h0m27 0h0m-15 1h0m1 0h0m11 0h0m2 0h0m9 0h0m1 0h0m-47 1h0m14 0h0m16 0h0m18 0h0m-93 1h0m6 0h0m26 0h0m28 0h0m3 0h0m7 0h0m9 0h0m16 0h0m-83 1h0m15 0h0m1 0h0m18 0h0m15 0h0m5 0h0m8 0h0m13 0h0m2 0h0m1 0h0m-70 1h0m20 0h0m17 0h0m16 0h0m14 0h0m1 0h0m-82 1h0m33 0h0m5 0h0m3 0h0m3 0h0m1 0h0m5 0h0m9 0h0m11 0h0m-70 1h0m18 0h0m7 0h0m18 0h0m1 0h0m5 0h0m4 0h0m19 0h0m14 0h0m-61 1h0m5 0h0m18 0h0m-44 1h0m2 0h0m6 0h0m15 0h0m2 0h0m3 0h0m5 0h0m19 0h0m10 0h0m-57 1h0m4 0h0m35 0h0m4 0h0m8 0h0m13 0h0m-61 1h0m2 0h0m21 0h0m4 0h0m18 0h0m6 0h0m3 0h0m14 0h0m8 0h0m-90 1h0m8 0h0m8 0h0m6 0h0m18 0h0m12 0h0m6 0h0m31 0h0m4 0h0m1 0h0m-95 1h0m5 0h0m19 0h0m5 0h0m9 0h0m2 0h0m2 0h0m13 0h0m22 0h0m5 0h0m2 0h0m3 0h0m2 0h0m6 0h0m-83 1h0m3 0h0m5 0h0m17 0h0m15 0h0m5 0h0m5 0h0m5 0h0m5 0h0m8 0h0m6 0h0m4 0h0m2 0h0m-87 1h0m3 0h0m6 0h0m7 0h0m4 0h0m2 0h0m10 0h0m13 0h0m3 0h0m2 0h0m5 0h0m1 0h0m4 0h0m8 0h0m12 0h0m6 0h0m-79 1h0m52 0h0m11 0h0m17 0h0m-84 1h0m30 0h0m3 1h0m6 0h0m12 0h0m21 0h0m3 0h0m-47 1h0m15 0h0m5 0h0m24 0h0m-63 1h0m4 0h0m25 0h0m8 0h0m23 0h0m-61 1h0m16 0h0m10 0h0m8 0h0m13 0h0m31 0h0m1 0h0m-73 1h0m8 0h0m11 0h0m4 0h0m6 0h0m4 0h0m8 0h0m1 0h0m22 0h0m-67 1h0m28 0h0m6 0h0m7 0h0m3 0h0m14 0h0m5 0h0m13 0h0m-26 1h0m16 0h0m-61 1h0m21 0h0m7 0h0m2 0h0m14 0h0m2 0h0m1 0h0m2 0h0m17 0h0m1 0h0m-74 1h0m28 0h0m1 0h0m10 0h0m14 0h0m4 0h0m18 0h0m-69 1h0m2 0h0m43 0h0m-51 1h0m1 0h0m5 0h0m23 0h0m4 0h0m15 0h0m2 0h0m1 0h0m3 0h0m7 0h0m4 0h0m4 0h0m1 0h0m3 0h0m-70 1h0m15 0h0m9 0h0m22 0h0m16 0h0m-33 1h0m24 0h0m4 0h0m7 0h0m-54 1h0m14 0h0m5 0h0m5 0h0m2 0h0m10 0h0m4 0h0m19 0h0m2 0h0m-67 1h0m1 0h0m7 0h0m5 0h0m24 0h0m27 0h0m-49 1h0m13 0h0m3 0h0m7 0h0m4 0h0m6 0h0m-39 1h0m4 0h0m15 0h0m15 0h0m7 0h0m13 0h0m-57 1h0m8 0h0m3 0h0m4 0h0m1 0h0m14 0h0m1 0h0m11 0h0m15 0h0m4 0h0m-59 1h0m21 0h0m11 0h0m23 0h0m-61 1h0m30 0h0m18 0h0m-47 1h0m30 0h0m17 0h0m4 0h0m-19 1h0m21 0h0m10 0h0m-59 1h0m13 0h0m29 0h0m17 0h0m-38 1h0m9 0h0m-26 1h0m22 0h0m10 0h0m9 0h0m-15 1h0m9 0h0m-23 1h0m14 0h0m-15 1h0m10 0h0m11 0h0m1 0h0m-18 1h0m1 0h0m3 0h0m3 0h0m5 0h0m1 0h0m18 0h0m-32 1h0m12 0h0m-10 1h0m2 0h0m10 0h0m1 0h0m-23 1h0m4 0h0m5 0h0m12 0h0m-6 1h0m-11 1h0m11 0h0m-3 1h0m5 0h0m4 0h0m-13 1h0"/>
<path class="d1" stroke="#afa7d3" d="M400.5 385.5h0m9 0h0m-9 2h0m43 0h0m-17 2h0m14 0h0m-41 2h0m26 0h0m4 0h0m-21 1h0m6 0h0m11 0h0m8 0h0m-23 1h0m-13 1h0m33 1h0m-29 1h0m-17 1h0m10 0h0m15 2h0m20 1h0m-37 1h0m9 0h0m-14 1h0m9 1h0m1 2h0m62 2h0m-26 1h0m5 0h0m-48 1h0m11 0h0m34 0h0m-45 1h0m-10 1h0m13 1h0m6 0h0m32 0h0m-27 1h0m28 0h0m-28 1h0m32 0h0m28 0h0m-84 1h0m41 0h0m2 0h0m44 0h0m-33 1h0m-33 2h0m10 0h0m55 0h0m-34 1h0m10 0h0m1 0h0m-64 2h0m63 0h0m-50 1h0m75 1h0m-64 1h0m23 0h0m45 0h0m-29 1h0m1 0h0m-66 1h0m11 1h0m7 0h0m43 0h0m10 0h0m-12 2h0m-34 2h0m50 0h0m-28 2h0m-44 1h0m17 0h0m10 0h0m31 1h0m2 0h0m-8 1h0m-12 1h0m-25 1h0m22 0h0m15 1h0m-14 1h0m-29 1h0m45 0h0m15 0h0m-24 1h0m-22 1h0m17 0h0m49 1h0m-18 1h0m-54 1h0m19 0h0m55 0h0m-79 2h0m29 0h0m49 0h0m-80 4h0m67 0h0m-60 4h0m29 0h0m14 0h0m22 0h0m-63 2h0m5 0h0m39 0h0m2 0h0m-26 1h0m33 0h0m-18 1h0m18 0h0m18 0h0m-17 1h0m-18 1h0m10 2h0m13 1h0m7 0h0m-56 4h0m60 0h0m-12 1h0m-8 4h0m6 1h0m-27 1h0m39 0h0m-38 1h0m3 0h0m25 1h0m-29 2h0m10 0h0m-21 1h0m2 1h0m15 0h0m8 2h0m-14 2h0"/>
<path class="d1" stroke="#563ea1" d="M440.5 385.5h0m-39 1h0m15 0h0m15 0h0m1 0h0m11 0h0m-29 1h0m15 0h0m-19 1h0m11 0h0m3 0h0m11 0h0m3 0h0m1 0h0m-40 1h0m5 0h0m20 0h0m5 0h0m9 0h0m-41 1h0m0 1h0m15 0h0m10 0h0m2 0h0m8 0h0m2 0h0m-30 1h0m9 0h0m2 0h0m13 0h0m2 0h0m11 0h0m-55 1h0m43 0h0m10 0h0m-38 1h0m4 0h0m21 0h0m8 0h0m-43 1h0m2 0h0m-7 1h0m13 0h0m22 0h0m1 0h0m4 0h0m-43 1h0m41 0h0m12 0h0m24 0h0m-68 1h0m12 0h0m10 0h0m19 0h0m6 0h0m20 0h0m-58 1h0m9 0h0m15 0h0m5 0h0m-35 1h0m38 0h0m-45 1h0m16 0h0m9 0h0m17 0h0m3 0h0m3 0h0m24 0h0m-55 1h0m28 0h0m29 0h0m-82 1h0m19 0h0m65 0h0m-58 1h0m5 0h0m4 0h0m8 0h0m37 0h0m-71 1h0m5 0h0m38 0h0m3 0h0m6 0h0m-34 1h0m15 0h0m2 0h0m8 0h0m6 0h0m3 0h0m-53 1h0m3 0h0m6 0h0m1 0h0m39 0h0m1 0h0m7 0h0m16 0h0m6 0h0m-74 1h0m42 0h0m27 0h0m4 0h0m-55 1h0m17 0h0m3 0h0m13 0h0m18 0h0m-83 1h0m23 0h0m26 0h0m5 0h0m26 0h0m1 0h0m2 0h0m-83 1h0m15 0h0m10 0h0m30 0h0m8 0h0m3 0h0m3 0h0m-25 1h0m17 0h0m-12 1h0m1 0h0m13 0h0m4 0h0m-61 1h0m63 0h0m5 0h0m-53 1h0m27 0h0m1 0h0m1 0h0m4 0h0m3 0h0m11 0h0m7 0h0m10 0h0m1 0h0m-88 1h0m21 0h0m7 0h0m13 0h0m8 0h0m9 0h0m4 0h0m1 0h0m16 0h0m2 0h0m1 0h0m2 0h0m-83 1h0m16 0h0m6 0h0m19 0h0m18 0h0m-52 1h0m33 0h0m9 0h0m6 0h0m14 0h0m7 0h0m7 0h0m-42 1h0m2 0h0m24 0h0m2 0h0m11 0h0m3 0h0m8 0h0m-74 1h0m16 0h0m11 0h0m3 0h0m1 0h0m11 0h0m18 0h0m14 0h0m-75 1h0m12 0h0m23 0h0m6 0h0m2 0h0m8 0h0m9 0h0m5 0h0m7 0h0m-82 1h0m24 0h0m16 0h0m29 0h0m-30 1h0m1 0h0m15 0h0m15 0h0m-64 1h0m11 0h0m39 0h0m4 0h0m13 0h0m10 0h0m-78 1h0m29 0h0m5 0h0m4 0h0m8 0h0m1 0h0m9 0h0m5 0h0m7 0h0m4 0h0m3 0h0m-84 1h0m11 0h0m36 0h0m2 0h0m22 0h0m7 0h0m1 0h0m-83 1h0m2 0h0m19 0h0m20 0h0m18 0h0m5 0h0m13 0h0m1 0h0m3 0h0m6 0h0m-80 1h0m31 0h0m4 0h0m22 0h0m15 0h0m11 0h0m-76 1h0m8 0h0m25 0h0m16 0h0m2 0h0m5 0h0m2 0h0m-24 1h0m2 0h0m7 0h0m10 0h0m24 0h0m5 0h0m-61 1h0m3 0h0m21 0h0m21 0h0m-77 1h0m40 0h0m19 0h0m3 0h0m-68 1h0m5 0h0m29 0h0m5 0h0m10 0h0m3 0h0m1 0h0m10 0h0m15 0h0m4 0h0m5 0h0m-73 1h0m21 0h0m6 0h0m34 0h0m6 0h0m3 0h0m-79 1h0m14 0h0m11 0h0m17 0h0m12 0h0m16 0h0m1 0h0m2 0h0m1 0h0m10 0h0m5 0h0m-52 1h0m6 0h0m16 0h0m5 0h0m24 0h0m-77 1h0m41 0h0m24 0h0m-75 1h0m2 0h0m9 0h0m14 0h0m11 0h0m31 0h0m10 0h0m-67 1h0m6 0h0m19 0h0m4 0h0m8 0h0m13 0h0m14 0h0m12 0h0m-70 1h0m11 0h0m11 0h0m5 0h0m12 0h0m12 0h0m11 0h0m9 0h0m11 0h0m-71 1h0m1 0h0m22 0h0m8 0h0m1 0h0m7 0h0m1 0h0m6 0h0m11 0h0m1 0h0m11 0h0m-77 1h0m10 0h0m7 0h0m18 0h0m24 0h0m11 0h0m-72 1h0m16 0h0m3 0h0m16 0h0m9 0h0m1 0h0m-61 1h0m8 0h0m2 0h0m3 0h0m7 0h0m11 0h0m5 0h0m32 0h0m13 0h0m2 0h0m-77 1h0m2 0h0m36 0h0m9 0h0m19 0h0m2 0h0m4 0h0m2 0h0m5 0h0m8 0h0m-48 1h0m6 0h0m6 0h0m6 0h0m3 0h0m10 0h0m-45 1h0m10 0h0m18 0h0m1 0h0m4 0h0m7 0h0m5 0h0m1 0h0m2 0h0m10 0h0m-68 1h0m16 0h0m20 0h0m20 0h0m2 0h0m-65 1h0m26 0h0m1 0h0m1 0h0m4 0h0m13 0h0m2 0h0m1 0h0m16 0h0m4 0h0m-76 1h0m17 0h0m14 0h0m11 0h0m12 0h0m1 0h0m6 0h0m6 0h0m7 0h0m-58 1h0m9 0h0m15 0h0m4 0h0m1 0h0m3 0h0m19 0h0m2 0h0m1 0h0m-28 1h0m11 0h0m6 0h0m1 0h0m1 0h0m13 0h0m-66 1h0m2 0h0m1 0h0m10 0h0m1 0h0m21 0h0m22 0h0m3 0h0m5 0h0m1 0h0m6 0h0m3 0h0m-79 1h0m9 0h0m1 0h0m29 0h0m3 0h0m6 0h0m16 0h0m13 0h0m-75 1h0m2 0h0m16 0h0m21 0h0m2 0h0m7 0h0m1 0h0m8 0h0m2 0h0m19 0h0m-80 1h0m11 0h0m1 0h0m30 0h0m38 0h0m-60 1h0m16 0h0m18 0h0m16 0h0m8 0h0m4 0h0m-71 1h0m13 0h0m1 0h0m10 0h0m11 0h0m3 0h0m3 0h0m11 0h0m4 0h0m5 0h0m14 0h0m-73 1h0m12 0h0m10 0h0m10 0h0m6 0h0m18 0h0m1 0h0m1 0h0m1 0h0m5 0h0m4 0h0m-71 1h0m13 0h0m11 0h0m15 0h0m1 0h0m1 0h0m25 0h0m-51 1h0m1 0h0m19 0h0m4 0h0m22 0h0m9 0h0m-72 1h0m25 0h0m11 0h0m9 0h0m5 0h0m1 0h0m5 0h0m1 0h0m1 0h0m1 0h0m-46 1h0m10 0h0m12 0h0m15 0h0m1 0h0m22 0h0m-65 1h0m8 0h0m34 0h0m1 0h0m3 0h0m1 0h0m12 0h0m-36 1h0m8 0h0m4 0h0m-24 1h0m15 0h0m13 0h0m1 0h0m2 0h0m23 0h0m-35 1h0m6 0h0m1 0h0m14 0h0m2 0h0m6 0h0m-32 1h0m7 0h0m19 0h0m-20 1h0m8 0h0m8 0h0m2 0h0m4 0h0m5 0h0m-54 1h0m18 0h0m8 0h0m2 0h0m11 0h0m5 0h0m3 0h0m-49 1h0m20 0h0m13 0h0m11 0h0m7 0h0m8 0h0m-43 1h0m9 0h0m8 0h0m-24 1h0m17 0h0m19 0h0m8 0h0m6 0h0m-45 1h0m10 0h0m7 0h0m6 0h0m-25 1h0m-10 1h0m1 0h0m27 0h0m9 0h0m3 0h0m2 0h0m3 0h0m4 0h0m-28 1h0m8 0h0m4 0h0m2 0h0m6 0h0m-27 1h0m4 0h0m15 0h0m16 0h0m-37 1h0m1 0h0m5 0h0m12 0h0m3 0h0m9 1h0m-33 1h0m2 0h0m7 0h0m-6 1h0m5 0h0m6 0h0m2 0h0m-6 1h0m7 0h0m9 0h0m-25 1h0m12 0h0m15 0h0m-19 1h0m6 0h0m-11 1h0m4 0h0m5 0h0m-4 1h0m1 0h0m7 0h0"/>
<path class="d1" stroke="#b3a8d5" d="M411.5 388.5h0m21 5h0m-24 3h0m10 0h0m6 4h0m13 0h0m3 1h0m22 0h0m-35 2h0m-23 1h0m30 1h0m-8 2h0m-23 3h0m4 0h0m-21 3h0m60 1h0m-61 1h0m-4 1h0m55 0h0m-1 1h0m-7 1h0m23 0h0m13 0h0m-37 2h0m22 0h0m-19 1h0m11 1h0m26 0h0m-14 1h0m-47 1h0m15 0h0m-10 1h0m38 0h0m14 0h0m-78 1h0m43 0h0m25 0h0m-1 1h0m14 0h0m-86 1h0m-1 1h0m12 0h0m19 2h0m5 0h0m6 0h0m-8 1h0m31 2h0m-49 1h0m47 0h0m-42 1h0m37 1h0m27 0h0m-7 2h0m11 0h0m-20 2h0m0 2h0m-4 1h0m15 0h0m-58 1h0m42 0h0m4 0h0m-40 2h0m15 0h0m33 0h0m-56 1h0m33 1h0m14 1h0m-38 2h0m27 0h0m8 0h0m9 1h0m-6 1h0m25 0h0m-57 2h0m28 0h0m32 0h0m-77 1h0m32 0h0m3 1h0m-30 1h0m54 0h0m12 0h0m-10 1h0m7 0h0m6 0h0m-5 2h0m3 0h0m6 1h0m-65 1h0m2 2h0m27 2h0m18 3h0m7 0h0m-30 2h0m24 1h0m-22 2h0m5 7h0m8 0h0m-23 4h0"/>
<path class="d1" stroke="#6140a3" d="M444.5 382.5h0m1 0h0m1 0h0m-5 1h0m2 1h0m3 0h0m-49 2h0m37 0h0m8 0h0m-26 1h0m21 0h0m-40 1h0m1 1h0m32 0h0m4 0h0m-21 1h0m19 0h0m-6 1h0m2 0h0m12 0h0m-49 1h0m8 0h0m37 0h0m-32 1h0m3 0h0m5 0h0m25 0h0m22 0h0m-68 1h0m5 0h0m22 0h0m9 0h0m-35 1h0m4 0h0m5 0h0m32 0h0m24 0h0m-73 1h0m44 0h0m9 0h0m6 0h0m-45 1h0m18 0h0m-20 1h0m20 0h0m13 0h0m3 0h0m29 0h0m-27 1h0m24 0h0m1 0h0m-27 1h0m-52 1h0m52 1h0m-46 1h0m7 0h0m19 0h0m28 0h0m20 0h0m-40 1h0m7 0h0m5 0h0m10 0h0m-21 1h0m3 0h0m13 0h0m1 0h0m7 0h0m17 0h0m-68 1h0m14 0h0m2 0h0m9 0h0m42 0h0m-25 1h0m-56 1h0m3 0h0m24 0h0m2 0h0m-11 1h0m8 0h0m1 0h0m7 0h0m16 0h0m10 0h0m2 0h0m-55 1h0m10 0h0m20 0h0m22 0h0m-58 1h0m11 0h0m7 0h0m17 0h0m14 0h0m6 0h0m10 0h0m21 0h0m-89 1h0m56 0h0m7 0h0m20 0h0m2 0h0m-85 1h0m38 0h0m21 0h0m2 0h0m20 0h0m5 0h0m3 0h0m-79 1h0m27 0h0m15 0h0m2 0h0m18 0h0m-63 1h0m44 0h0m1 0h0m16 0h0m12 0h0m-69 1h0m29 0h0m23 0h0m26 0h0m-47 1h0m9 0h0m3 0h0m4 0h0m2 0h0m8 0h0m8 0h0m11 0h0m-85 1h0m26 0h0m30 0h0m7 0h0m15 0h0m-68 1h0m37 0h0m11 0h0m4 0h0m6 0h0m2 0h0m-63 1h0m9 0h0m26 0h0m15 0h0m3 0h0m2 0h0m4 0h0m4 0h0m6 0h0m4 0h0m-88 1h0m3 0h0m48 0h0m14 0h0m9 0h0m2 0h0m5 0h0m2 0h0m1 0h0m6 0h0m-25 1h0m4 0h0m7 0h0m5 0h0m2 0h0m-77 1h0m39 0h0m37 0h0m2 0h0m2 0h0m-62 1h0m35 0h0m3 0h0m15 0h0m1 0h0m4 0h0m4 0h0m13 0h0m-96 1h0m26 0h0m9 0h0m25 0h0m21 0h0m-72 1h0m30 0h0m27 0h0m2 0h0m4 0h0m11 0h0m-66 1h0m17 0h0m-26 1h0m3 0h0m39 0h0m3 0h0m2 0h0m18 0h0m3 0h0m1 0h0m5 0h0m8 0h0m-35 1h0m5 0h0m13 0h0m2 0h0m17 0h0m-91 1h0m1 0h0m2 0h0m15 0h0m12 0h0m3 0h0m1 0h0m33 0h0m10 0h0m6 0h0m-39 1h0m11 0h0m1 0h0m6 0h0m11 0h0m7 0h0m2 0h0m3 0h0m3 0h0m1 0h0m-53 1h0m21 0h0m1 0h0m14 0h0m6 0h0m-59 1h0m8 0h0m1 0h0m23 0h0m3 0h0m3 0h0m18 0h0m3 0h0m1 0h0m10 0h0m-74 1h0m26 0h0m11 0h0m5 0h0m5 0h0m24 0h0m-83 1h0m6 0h0m54 0h0m16 0h0m4 0h0m7 0h0m-82 1h0m18 0h0m21 0h0m33 0h0m7 0h0m-87 1h0m19 0h0m19 0h0m19 0h0m12 0h0m1 0h0m-14 1h0m4 0h0m17 0h0m2 0h0m2 0h0m-71 1h0m11 0h0m2 0h0m7 0h0m22 0h0m3 0h0m2 0h0m11 0h0m1 0h0m8 0h0m7 0h0m-79 1h0m21 0h0m20 0h0m8 0h0m4 0h0m22 0h0m1 0h0m1 0h0m2 0h0m3 0h0m-87 1h0m50 0h0m11 0h0m8 0h0m11 0h0m1 0h0m3 0h0m4 0h0m5 0h0m-66 1h0m33 0h0m4 0h0m1 0h0m4 0h0m8 0h0m5 0h0m4 0h0m-63 1h0m32 0h0m13 0h0m3 0h0m-28 1h0m5 0h0m2 0h0m3 0h0m4 0h0m10 0h0m4 0h0m5 0h0m2 0h0m2 0h0m12 0h0m4 0h0m-36 1h0m11 0h0m7 0h0m1 0h0m4 0h0m11 0h0m-90 1h0m9 0h0m37 0h0m21 0h0m1 0h0m3 0h0m16 0h0m4 0h0m-28 1h0m17 0h0m4 0h0m-33 1h0m11 0h0m12 0h0m5 0h0m2 0h0m-50 1h0m17 0h0m4 0h0m4 0h0m6 0h0m6 0h0m11 0h0m6 0h0m-69 1h0m41 0h0m18 0h0m10 0h0m-79 1h0m21 0h0m33 0h0m8 0h0m16 0h0m7 0h0m-35 1h0m27 0h0m-21 1h0m3 0h0m1 0h0m16 0h0m8 0h0m-77 1h0m12 0h0m23 0h0m12 0h0m1 0h0m12 0h0m1 0h0m9 0h0m5 0h0m-49 1h0m36 0h0m-63 1h0m37 0h0m33 0h0m-43 1h0m12 0h0m3 0h0m23 0h0m-53 1h0m40 0h0m17 0h0m-56 1h0m40 0h0m2 0h0m1 0h0m15 0h0m-10 1h0m6 0h0m7 0h0m4 0h0m-42 1h0m2 0h0m1 0h0m8 0h0m1 0h0m9 0h0m0 1h0m13 0h0m-48 1h0m9 0h0m10 0h0m1 0h0m11 0h0m12 0h0m2 0h0m-23 1h0m23 0h0m3 0h0m-56 1h0m1 0h0m14 0h0m38 0h0m1 0h0m-39 1h0m6 0h0m12 0h0m13 0h0m12 0h0m1 0h0m2 0h0m-60 1h0m4 0h0m2 0h0m11 0h0m9 0h0m5 0h0m6 0h0m6 0h0m8 0h0m1 0h0m8 0h0m-39 1h0m14 0h0m2 0h0m6 0h0m14 0h0m1 0h0m-43 1h0m11 0h0m8 0h0m7 0h0m14 0h0m-50 1h0m15 0h0m15 0h0m8 0h0m16 0h0m-51 1h0m24 0h0m5 0h0m2 0h0m15 0h0m-19 1h0m8 0h0m8 0h0m2 0h0m-38 1h0m2 0h0m5 0h0m18 0h0m4 0h0m6 0h0m-6 1h0m3 0h0m-11 1h0m1 0h0m7 0h0m1 0h0m11 0h0m-45 1h0m11 0h0m15 0h0m10 0h0m-26 1h0m20 0h0m6 0h0m-41 1h0m24 0h0m2 0h0m1 0h0m11 0h0m-27 2h0m7 0h0m3 0h0m1 0h0m-19 1h0m9 0h0m15 0h0m5 0h0m-8 1h0m1 0h0m-15 1h0m2 0h0m6 0h0m-8 1h0m18 0h0m-15 1h0m3 0h0m1 3h0"/>
<path class="d1" stroke="#b8a9d6" d="M412.5 386.5h0m20 1h0m-7 6h0m14 1h0m4 0h0m-4 1h0m19 3h0m-65 4h0m41 0h0m-8 1h0m-28 1h0m42 0h0m-11 2h0m-8 2h0m5 1h0m36 2h0m-61 1h0m-19 1h0m65 1h0m-53 1h0m-15 1h0m62 0h0m-13 1h0m33 0h0m-51 3h0m49 0h0m-31 2h0m18 0h0m-60 2h0m41 3h0m17 0h0m-5 1h0m29 1h0m-11 1h0m2 1h0m-86 1h0m56 0h0m23 0h0m12 0h0m-64 1h0m54 0h0m-3 1h0m5 2h0m7 0h0m-3 1h0m-40 3h0m33 0h0m-12 1h0m19 0h0m6 1h0m-24 2h0m4 0h0m-44 1h0m31 1h0m19 0h0m-10 1h0m-27 1h0m47 0h0m6 0h0m-40 1h0m26 0h0m1 1h0m4 0h0m9 1h0m-41 1h0m14 0h0m1 0h0m17 0h0m-12 2h0m13 0h0m-11 2h0m3 0h0m13 1h0m-10 1h0m-9 2h0m1 0h0m1 0h0m11 0h0m-22 2h0m0 1h0m13 0h0m-49 1h0m1 0h0m65 0h0m2 0h0m-45 2h0m7 6h0m28 0h0m-22 2h0m7 1h0m15 2h0m-4 1h0m-14 2h0m3 0h0m-6 2h0m-7 2h0m10 0h0"/>
<path class="d1" stroke="#6f41a2" d="M441.5 385.5h0m-34 1h0m34 1h0m-42 1h0m3 0h0m1 0h0m39 0h0m-47 1h0m1 0h0m27 0h0m-27 1h0m30 0h0m10 1h0m5 0h0m-22 2h0m12 2h0m9 0h0m2 0h0m18 0h0m-48 1h0m28 0h0m2 0h0m17 0h0m2 0h0m-68 1h0m37 0h0m2 0h0m1 0h0m6 0h0m1 0h0m19 0h0m-18 1h0m-25 1h0m15 0h0m10 1h0m16 0h0m3 0h0m-65 1h0m69 0h0m-42 1h0m13 0h0m7 0h0m-20 1h0m16 0h0m6 0h0m15 0h0m4 1h0m-56 1h0m54 0h0m-35 1h0m7 0h0m26 0h0m-60 1h0m6 0h0m37 0h0m-38 1h0m35 0h0m24 1h0m-29 1h0m11 0h0m2 0h0m-63 1h0m53 0h0m1 0h0m0 1h0m10 0h0m10 0h0m-49 1h0m42 0h0m5 0h0m-17 1h0m5 0h0m7 0h0m6 0h0m-60 1h0m40 0h0m2 0h0m5 0h0m5 0h0m-60 1h0m56 0h0m3 0h0m-3 1h0m4 0h0m1 0h0m5 0h0m4 0h0m1 0h0m2 0h0m-75 1h0m29 0h0m16 0h0m3 0h0m4 0h0m1 0h0m10 0h0m7 0h0m2 0h0m4 0h0m-12 1h0m-60 1h0m30 0h0m25 0h0m-24 1h0m11 0h0m3 0h0m2 0h0m9 0h0m13 0h0m-84 1h0m49 0h0m8 0h0m7 0h0m-4 1h0m13 0h0m14 0h0m-88 1h0m43 0h0m10 0h0m15 0h0m7 0h0m4 0h0m8 0h0m3 0h0m7 0h0m-52 1h0m21 0h0m19 0h0m6 0h0m-70 1h0m40 0h0m3 0h0m11 0h0m13 0h0m4 0h0m-47 1h0m21 0h0m14 0h0m12 0h0m-48 1h0m24 0h0m3 0h0m5 0h0m14 0h0m-92 1h0m34 0h0m50 0h0m3 0h0m1 0h0m-61 1h0m20 0h0m49 0h0m-66 1h0m42 0h0m1 0h0m19 0h0m-10 1h0m3 0h0m-60 1h0m16 0h0m45 0h0m-82 1h0m35 0h0m9 0h0m17 0h0m3 0h0m8 0h0m16 0h0m-57 1h0m13 0h0m6 0h0m8 0h0m24 0h0m-28 1h0m15 0h0m22 0h0m-58 1h0m17 0h0m9 0h0m6 0h0m1 0h0m20 0h0m-39 1h0m24 0h0m2 0h0m19 0h0m-29 1h0m-11 1h0m15 0h0m11 0h0m16 0h0m-54 1h0m18 0h0m21 0h0m1 0h0m13 0h0m-83 1h0m64 0h0m3 0h0m-73 1h0m73 0h0m1 0h0m7 0h0m1 0h0m8 0h0m-90 1h0m37 0h0m22 0h0m-3 1h0m4 0h0m1 0h0m11 0h0m6 0h0m5 0h0m-17 1h0m1 0h0m-26 2h0m23 0h0m5 0h0m2 0h0m22 0h0m-34 1h0m9 0h0m4 0h0m-32 1h0m10 0h0m20 0h0m7 0h0m4 0h0m4 0h0m3 0h0m-55 1h0m27 0h0m4 0h0m1 0h0m6 0h0m20 0h0m-28 1h0m4 0h0m1 0h0m2 0h0m2 0h0m14 0h0m1 0h0m2 0h0m-64 1h0m44 0h0m17 0h0m-50 1h0m16 0h0m2 0h0m10 0h0m23 0h0m-72 1h0m33 0h0m5 0h0m5 0h0m3 0h0m10 0h0m-35 1h0m28 0h0m8 0h0m13 0h0m-48 1h0m20 0h0m8 0h0m6 0h0m9 0h0m1 0h0m1 0h0m-52 1h0m10 0h0m8 0h0m9 0h0m10 0h0m2 0h0m10 0h0m-7 1h0m1 0h0m-21 1h0m5 0h0m4 0h0m21 0h0m1 0h0m-9 1h0m1 0h0m1 0h0m1 0h0m4 0h0m3 0h0m-37 1h0m11 0h0m11 0h0m8 0h0m1 0h0m-20 1h0m3 0h0m3 0h0m7 0h0m3 0h0m1 0h0m-1 1h0m4 0h0m-15 1h0m3 0h0m10 0h0m3 0h0m7 0h0m3 0h0m-60 1h0m34 0h0m8 0h0m4 0h0m1 0h0m-29 1h0m1 0h0m21 0h0m3 0h0m9 0h0m1 0h0m-20 1h0m8 0h0m3 0h0m8 0h0m2 0h0m-18 1h0m7 0h0m3 0h0m4 0h0m3 0h0m-45 1h0m28 0h0m4 0h0m4 0h0m-30 1h0m10 0h0m3 0h0m8 0h0m7 0h0m-24 1h0m21 0h0m5 0h0m-12 1h0m15 0h0m5 0h0m-14 1h0m11 0h0m-19 1h0m12 0h0m8 0h0m-31 1h0m26 0h0m-16 1h0m-16 1h0m24 0h0m4 0h0m5 0h0m-35 1h0m7 0h0m12 0h0m-9 1h0m8 0h0m-14 1h0m16 0h0m-14 1h0m1 0h0m14 0h0m1 1h0m4 1h0m-11 2h0"/>
<path class="d1" stroke="#beaad5" d="M442.5 384.5h0m-11 4h0m10 1h0m-21 5h0m13 0h0m-14 2h0m22 0h0m-39 1h0m-8 1h0m46 1h0m18 4h0m-42 1h0m46 0h0m-1 4h0m-18 2h0m-2 4h0m2 1h0m-6 1h0m5 0h0m2 0h0m6 0h0m8 2h0m4 0h0m-7 1h0m6 1h0m-20 1h0m10 0h0m-51 1h0m49 2h0m-53 1h0m43 0h0m26 0h0m-78 2h0m73 0h0m4 0h0m-22 4h0m5 1h0m-58 1h0m49 0h0m15 1h0m-74 1h0m24 2h0m-17 1h0m66 1h0m1 3h0m10 0h0m-6 2h0m-73 2h0m77 0h0m-7 1h0m-29 1h0m26 1h0m14 0h0m4 0h0m-15 1h0m-19 1h0m30 0h0m4 0h0m-29 1h0m15 0h0m-30 1h0m18 2h0m-21 1h0m26 0h0m-17 1h0m3 1h0m28 5h0m4 0h0m-33 1h0m9 0h0m11 1h0m-37 3h0m44 0h0m-17 2h0m6 0h0m-2 1h0m-1 1h0m-17 1h0m32 0h0m-21 4h0"/>
<path class="d1" stroke="#7e42a1" d="M443.5 383.5h0m-6 2h0m5 0h0m-2 1h0m-11 2h0m12 0h0m-33 2h0m25 0h0m8 0h0m-27 1h0m21 1h0m0 2h0m25 0h0m-31 1h0m30 0h0m-39 1h0m25 0h0m13 0h0m2 0h0m-48 1h0m31 0h0m-4 2h0m2 0h0m2 0h0m18 0h0m-37 2h0m17 1h0m4 0h0m-15 1h0m3 0h0m14 0h0m14 0h0m-72 1h0m46 0h0m6 0h0m17 0h0m-25 1h0m9 0h0m2 0h0m7 0h0m8 0h0m1 0h0m-17 1h0m3 0h0m-43 1h0m38 0h0m9 0h0m-27 1h0m8 0h0m12 1h0m16 0h0m2 0h0m-25 1h0m1 0h0m9 0h0m15 0h0m-22 1h0m1 0h0m1 0h0m17 0h0m1 0h0m-10 1h0m6 0h0m4 0h0m-68 1h0m20 0h0m24 0h0m12 0h0m14 0h0m1 0h0m-65 1h0m25 0h0m21 0h0m6 0h0m5 0h0m7 0h0m1 0h0m-57 1h0m56 0h0m-31 1h0m17 1h0m5 0h0m6 0h0m5 0h0m-21 1h0m2 0h0m2 0h0m10 0h0m-19 1h0m4 0h0m21 0h0m-32 1h0m19 1h0m13 0h0m-35 1h0m8 0h0m16 0h0m-30 1h0m12 0h0m2 0h0m9 0h0m2 0h0m2 0h0m2 0h0m-12 1h0m-4 1h0m14 0h0m11 0h0m-78 1h0m75 0h0m5 0h0m5 0h0m-41 1h0m24 0h0m10 0h0m-25 1h0m2 0h0m8 0h0m-2 1h0m1 0h0m12 0h0m10 0h0m2 0h0m-57 1h0m40 0h0m1 0h0m15 0h0m-40 1h0m23 0h0m1 0h0m5 0h0m-60 1h0m47 0h0m3 0h0m8 0h0m1 0h0m5 0h0m8 0h0m2 0h0m-23 1h0m-18 1h0m15 0h0m13 0h0m-66 1h0m16 0h0m37 0h0m-29 1h0m30 0h0m8 0h0m9 0h0m3 0h0m-26 1h0m23 0h0m-28 1h0m6 0h0m21 0h0m1 0h0m-17 1h0m7 0h0m7 0h0m2 0h0m7 0h0m-91 1h0m78 0h0m7 0h0m-17 1h0m21 0h0m-29 1h0m8 0h0m2 0h0m2 0h0m3 1h0m19 0h0m-88 1h0m61 0h0m17 0h0m2 0h0m-75 1h0m75 0h0m4 0h0m4 0h0m-36 1h0m11 0h0m10 0h0m5 0h0m-62 1h0m27 0h0m12 0h0m10 0h0m16 0h0m2 0h0m-16 1h0m11 1h0m8 0h0m2 0h0m-52 1h0m31 1h0m9 0h0m-22 1h0m18 0h0m4 0h0m-27 1h0m1 0h0m8 0h0m13 0h0m3 0h0m9 0h0m-17 1h0m2 0h0m7 0h0m4 0h0m3 0h0m-71 1h0m54 0h0m6 0h0m1 0h0m2 0h0m7 0h0m-12 1h0m5 0h0m5 0h0m10 0h0m-16 1h0m1 0h0m14 0h0m-26 1h0m3 0h0m21 0h0m1 0h0m-21 1h0m-12 1h0m15 0h0m6 0h0m-24 2h0m12 0h0m23 0h0m2 0h0m-60 1h0m7 0h0m34 0h0m13 0h0m-14 1h0m18 0h0m-23 1h0m3 0h0m6 0h0m-19 1h0m29 0h0m-32 1h0m33 1h0m-34 1h0m5 0h0m6 0h0m-3 1h0m22 0h0m-12 1h0m9 0h0m4 0h0m-33 1h0m22 0h0m-6 2h0m6 0h0m9 0h0m-13 1h0m2 0h0m-5 1h0m4 0h0m1 1h0m-5 1h0m2 0h0m4 0h0m13 1h0m-24 2h0m3 2h0m-2 2h0m-9 1h0m14 0h0"/>
<path class="d1" stroke="#c5aad5" d="M435.5 389.5h0m-26 3h0m33 8h0m3 0h0m1 5h0m-9 3h0m3 2h0m3 2h0m21 0h0m-26 2h0m7 0h0m15 2h0m-78 1h0m69 0h0m3 0h0m-72 2h0m61 1h0m10 1h0m-16 1h0m15 4h0m-7 2h0m4 2h0m-72 1h0m43 2h0m30 2h0m-4 2h0m7 1h0m17 0h0m-17 3h0m-4 1h0m10 0h0m-10 5h0m-20 2h0m14 4h0m19 0h0m3 3h0m-28 1h0m0 1h0m6 3h0m19 1h0m-42 1h0m36 4h0m0 1h0m-3 2h0m9 0h0m-22 4h0m-16 2h0m26 0h0m-12 1h0m-1 4h0m4 4h0"/>
<path class="d1" stroke="#8c44a1" d="M432.5 388.5h0m5 1h0m7 0h0m-23 1h0m21 0h0m3 0h0m12 0h0m1 3h0m-16 1h0m16 1h0m3 0h0m-3 2h0m-74 1h0m60 1h0m-1 1h0m12 0h0m3 0h0m-20 1h0m4 0h0m5 1h0m-18 1h0m18 1h0m-10 2h0m2 0h0m16 0h0m-12 1h0m10 0h0m5 0h0m-62 2h0m40 0h0m3 0h0m9 0h0m10 1h0m-14 1h0m17 0h0m-34 1h0m2 0h0m7 0h0m10 0h0m6 0h0m8 0h0m-30 1h0m22 0h0m1 0h0m-20 1h0m1 0h0m8 0h0m0 1h0m13 0h0m3 0h0m-20 1h0m-1 2h0m11 0h0m1 0h0m6 0h0m-9 1h0m14 0h0m4 0h0m-13 1h0m2 0h0m7 0h0m-20 1h0m21 0h0m-67 1h0m32 0h0m12 0h0m7 0h0m2 0h0m9 0h0m-13 1h0m4 0h0m-13 1h0m19 0h0m6 0h0m5 0h0m2 0h0m-86 1h0m2 1h0m82 0h0m-32 1h0m26 0h0m7 0h0m-34 1h0m29 0h0m3 1h0m-49 1h0m25 0h0m5 0h0m15 0h0m-26 2h0m29 0h0m-20 1h0m6 0h0m4 0h0m10 0h0m3 0h0m3 0h0m-29 1h0m16 0h0m7 0h0m1 0h0m-30 1h0m21 0h0m4 0h0m7 0h0m-29 1h0m4 0h0m10 0h0m-16 1h0m22 0h0m10 0h0m3 0h0m-40 1h0m20 0h0m15 1h0m-15 1h0m14 0h0m1 0h0m-14 1h0m-5 1h0m17 0h0m8 0h0m-31 1h0m8 0h0m3 0h0m2 0h0m6 0h0m1 0h0m2 0h0m-10 1h0m16 0h0m-21 1h0m17 0h0m-22 1h0m1 0h0m17 0h0m-69 1h0m45 0h0m1 0h0m16 0h0m6 0h0m14 0h0m-21 1h0m13 0h0m1 0h0m2 0h0m-60 1h0m56 0h0m9 0h0m-35 1h0m6 0h0m9 0h0m4 0h0m12 0h0m-69 1h0m37 0h0m11 0h0m1 0h0m14 0h0m-28 1h0m16 0h0m-12 1h0m19 0h0m1 1h0m-12 1h0m4 0h0m10 0h0m4 0h0m7 0h0m-28 1h0m24 0h0m-28 1h0m8 0h0m10 0h0m1 0h0m-12 2h0m11 0h0m13 0h0m-25 1h0m8 0h0m-9 1h0m3 0h0m13 0h0m-16 1h0m2 1h0m12 1h0m2 0h0m3 1h0m-4 1h0m-21 1h0m7 0h0m4 0h0m2 0h0m-4 1h0m1 1h0m1 0h0m3 0h0m10 0h0m-31 2h0m13 0h0m9 0h0m12 0h0m-27 1h0m1 0h0m6 0h0m-4 1h0m10 0h0m1 0h0m-6 1h0m11 0h0m-15 1h0m14 0h0m3 0h0m-1 1h0m-15 1h0m3 0h0m-6 1h0m-7 1h0m6 0h0m7 0h0m1 0h0m-12 2h0m-2 5h0m5 0h0m3 0h0"/>
<path class="d1" stroke="#cbabd5" d="M442.5 397.5h0m19 7h0m-26 7h0m15 4h0m6 0h0m-5 8h0m-6 4h0m11 2h0m-13 2h0m7 2h0m5 3h0m-7 4h0m20 3h0m0 2h0m3 5h0m-12 1h0m-11 6h0m16 0h0m5 0h0m-4 1h0m-12 5h0m14 0h0m-16 3h0m-11 5h0m16 2h0m-26 1h0m25 0h0"/>
<path class="d1" stroke="#9a45a0" d="M442.5 383.5h0m2 1h0m-33 2h0m30 0h0m-2 4h0m4 1h0m1 0h0m15 0h0m-16 2h0m16 1h0m-23 2h0m9 1h0m1 2h0m-16 1h0m1 1h0m13 0h0m-8 1h0m22 0h0m-5 1h0m-3 1h0m-10 2h0m5 0h0m13 0h0m-11 1h0m13 1h0m-23 1h0m16 0h0m3 0h0m-11 3h0m9 0h0m8 0h0m-22 1h0m14 0h0m-14 1h0m19 1h0m-17 2h0m11 0h0m4 0h0m-1 2h0m3 0h0m4 0h0m-16 1h0m9 1h0m8 1h0m-27 1h0m22 0h0m-20 1h0m-7 1h0m16 1h0m-14 1h0m-43 1h0m61 0h0m-51 1h0m57 0h0m-20 1h0m18 0h0m-25 1h0m13 0h0m17 1h0m-20 1h0m23 0h0m2 0h0m-7 1h0m2 0h0m-8 2h0m14 0h0m-54 1h0m45 0h0m4 0h0m-17 1h0m9 0h0m13 0h0m-88 1h0m69 0h0m11 0h0m-14 1h0m7 0h0m9 1h0m-24 1h0m19 1h0m-60 2h0m54 0h0m19 0h0m-30 3h0m8 0h0m22 0h0m-21 2h0m1 0h0m14 0h0m-24 1h0m12 0h0m16 0h0m3 0h0m-7 1h0m1 0h0m-25 1h0m31 0h0m-32 2h0m23 0h0m7 0h0m-18 1h0m4 0h0m-20 1h0m5 2h0m27 0h0m-32 2h0m35 0h0m-6 2h0m-23 1h0m3 0h0m-4 1h0m10 0h0m6 0h0m4 0h0m9 0h0m-29 1h0m21 0h0m1 0h0m2 0h0m-5 1h0m7 2h0m-18 1h0m16 0h0m1 0h0m-31 1h0m9 1h0m5 0h0m3 0h0m3 0h0m4 0h0m3 1h0m-6 1h0m-18 1h0m14 0h0m-6 2h0m-8 2h0m5 3h0"/>
<path class="d1" stroke="#d2abd4" d="M440.5 405.5h0m9 3h0m-38 13h0m32 17h0m20 0h0m-13 2h0m-5 13h0m9 4h0m10 2h0m-21 1h0m-3 1h0m16 10h0"/>
<path class="d1" stroke="#aa499b" d="M443.5 385.5h0m1 0h0m0 3h0m-1 1h0m14 0h0m-13 4h0m12 1h0m2 0h0m-13 1h0m-35 3h0m36 0h0m-9 1h0m13 1h0m6 0h0m-11 1h0m1 0h0m2 0h0m11 0h0m-16 1h0m3 0h0m13 0h0m-14 1h0m7 0h0m-9 1h0m2 0h0m7 0h0m-17 2h0m9 0h0m3 0h0m1 0h0m1 0h0m11 0h0m-16 1h0m2 0h0m10 0h0m4 0h0m-17 1h0m2 0h0m6 0h0m4 0h0m3 0h0m-17 1h0m17 0h0m-7 1h0m3 0h0m-4 1h0m-3 1h0m4 0h0m-15 1h0m5 0h0m9 0h0m5 1h0m-4 1h0m2 1h0m-7 1h0m7 2h0m4 1h0m8 1h0m-7 1h0m-1 4h0m-6 1h0m10 0h0m-3 1h0m-61 1h0m61 1h0m5 0h0m-9 1h0m-7 2h0m-6 4h0m4 0h0m12 0h0m11 1h0m-27 2h0m28 1h0m-8 1h0m-8 1h0m12 0h0m-30 2h0m20 0h0m11 1h0m1 0h0m-64 1h0m63 2h0m-2 1h0m-12 2h0m-18 1h0m1 2h0m20 0h0m-14 3h0m17 0h0m6 0h0m5 1h0m-3 2h0m-13 1h0m-12 1h0m5 2h0m10 0h0m-15 2h0m25 0h0m-18 1h0m13 0h0m-11 3h0m-2 1h0m-11 14h0"/>
<path class="d1" stroke="#d9add2" d="M443.5 401.5h0m12 2h0m-12 2h0m9 2h0m2 0h0m-1 1h0m-11 2h0m15 1h0m-11 10h0m17 3h0m1 5h0m-23 9h0m12 16h0m-14 22h0"/>
<path class="d1" stroke="#b94d96" d="M445.5 388.5h0m0 1h0m1 1h0m10 0h0m1 1h0m-13 5h0m2 0h0m2 0h0m-4 1h0m11 0h0m-4 3h0m8 0h0m-4 1h0m-11 1h0m8 0h0m-9 1h0m1 1h0m2 0h0m10 1h0m0 3h0m-7 1h0m5 0h0m-10 1h0m5 0h0m6 0h0m-1 1h0m2 3h0m3 0h0m-4 2h0m9 1h0m-8 10h0m-3 4h0m-8 2h0m6 3h0m-7 2h0m20 0h0m-25 4h0m28 1h0m-14 1h0m-9 2h0m20 1h0m-9 2h0m-5 1h0m16 2h0m-15 2h0m15 0h0m-4 1h0m-5 1h0m-8 1h0m18 3h0m-17 1h0m7 3h0m-17 2h0m16 6h0m-11 1h0"/>
<path class="d1" stroke="#e0afd0" d="M445.5 383.5h0m-7 9h0m18 1h0m1 4h0m-4 4h0m4 0h0m-7 1h0m1 0h0m5 0h0m-3 3h0m7 4h0m-11 2h0m-5 1h0m13 1h0m3 0h0m-9 3h0m-11 17h0m15 20h0"/>
<path class="d1" stroke="#c95291" d="M445.5 384.5h0m2 0h0m-3 6h0m-1 2h0m13 0h0m1 2h0m-10 3h0m-4 1h0m6 0h0m2 0h0m-9 1h0m10 0h0m3 0h0m2 0h0m-6 2h0m1 0h0m5 2h0m-6 1h0m3 0h0m2 0h0m-8 1h0m1 0h0m-5 3h0m8 0h0m-7 1h0m6 0h0m6 0h0m-4 3h0m4 0h0m-8 1h0m9 0h0m0 1h0m-4 2h0m0 6h0m-12 4h0m2 0h0m18 0h0m-24 2h0m-4 4h0m17 8h0m13 9h0m5 6h0m-36 21h0"/>
<path class="d1" stroke="#e7b1ce" d="M457.5 393.5h0m-1 6h0m-8 11h0m-7 37h0m20 3h0m-19 7h0"/>
<path class="d1" stroke="#d8568c" d="M457.5 388.5h0m-11 4h0m12 0h0m-12 2h0m10 4h0m-11 1h0m5 0h0m0 2h0m3 1h0m-2 1h0m5 0h0m-2 2h0m3 1h0m-9 1h0m3 0h0m-1 1h0m0 1h0m2 0h0m1 1h0m4 0h0m-4 1h0m3 1h0m-1 1h0m-2 5h0m-16 9h0m28 17h0m-5 16h0"/>
<path class="d1" stroke="#edb3cb" d="M447.5 401.5h0m1 2h0m4 12h0"/>
<path class="d1" stroke="#e25f84" d="M447.5 382.5h0m-3 1h0m10 1h0m-7 2h0m11 4h0m-11 2h0m10 0h0m-12 2h0m2 0h0m0 2h0m7 0h0m3 0h0m-1 1h0m-12 1h0m4 1h0m1 0h0m0 1h0m-1 2h0m9 0h0m-8 1h0m4 1h0m-11 4h0m4 0h0m2 0h0m9 0h0m-5 2h0m0 1h0m3 0h0m-5 1h0m-2 1h0"/>
<path class="d1" stroke="#f2b7c8" d="M446.5 383.5h0m2 17h0m10 5h0m-2 6h0"/>
<path class="d1" stroke="#e76c79" d="M445.5 393.5h0m3 2h0m4 0h0m2 0h0m2 1h0m-7 1h0m5 0h0m-9 1h0m2 0h0m6 0h0m2 0h0m2 0h0m-3 1h0m-7 1h0m6 0h0m1 0h0m2 1h0m-1 1h0m-5 1h0m-3 2h0m2 2h0m6 0h0m0 2h0"/>
<path class="d1" stroke="#f4bdc3" d="M454.5 403.5h0"/>
<path class="d1" stroke="#ec7a6e" d="M448.5 382.5h0m0 1h0m0 3h0m4 1h0m3 0h0m-9 1h0m4 2h0m-4 1h0m0 2h0m9 0h0m-9 4h0m5 0h0m1 1h0m1 1h0m1 2h0m0 1h0m-4 3h0m0 1h0m3 0h0m0 9h0"/>
<path class="d1" stroke="#f08763" d="M447.5 383.5h0m2 0h0m-1 5h0m-2 1h0m4 2h0m-3 2h0m4 2h0m2 0h0m1 3h0m1 6h0m1 2h0m1 1h0m-3 1h0"/>
<path class="d1" stroke="#f8c9b9" d="M449.5 402.5h0m7 8h0"/>
<path class="d1" stroke="#f59558" d="M446.5 386.5h0m9 0h0m-6 1h0m-1 2h0m2 3h0m4 0h0m-5 1h0m6 1h0m1 1h0m-7 1h0m1 0h0m3 1h0"/>
<path class="d1" stroke="#facfb4" d="M449.5 384.5h0m-2 1h0m8 5h0m-4 2h0m1 5h0"/>
<path class="d1" stroke="#f6a453" d="M454.5 385.5h0m1 3h0m1 0h0m-8 2h0m5 0h0m-4 2h0m0 2h0m1 0h0m3 0h0m-3 3h0m2 3h0m-3 4h0m2 2h0m3 0h0"/>
<path class="d1" stroke="#fbd6b2" d="M454.5 386.5h0m-7 1h0m9 2h0m-5 4h0"/>
<path class="d1" stroke="#f7b44d" d="M449.5 382.5h0m2 2h0m-5 3h0m8 1h0m-2 2h0m1 1h0m-5 1h0m2 1h0m4 0h0m-3 1h0m-4 1h0m2 0h0m1 0h0m0 3h0"/>
<path class="d1" stroke="#fbddaf" d="M448.5 398.5h0"/>
<path class="d1" stroke="#f8c348" d="M450.5 383.5h0m2 2h0m0 1h0m1 0h0m0 1h0m-1 1h0m-5 1h0m2 0h0m-2 1h0m9 1h0m-3 1h0m-5 1h0m4 3h0m-4 1h0"/>
<path class="d1" stroke="#fce4ad" d="M453.5 383.5h0m-2 4h0m-3 4h0"/>
<path class="d1" stroke="#f9d148" d="M449.5 385.5h0m2 0h0m0 1h0m3 1h0m-3 1h0m2 1h0m-4 1h0m5 1h0m-2 2h0m0 1h0m2 0h0m-8 1h0m5 1h0m4 0h0"/>
<path class="d1" stroke="#fceaad" d="M450.5 384.5h0m-1 2h0m1 3h0m1 2h0"/>
<path class="d1" stroke="#f8dc51" d="M450.5 386.5h0m-2 1h0m1 1h0m6 1h0m-3 3h0"/>
<path class="d1" stroke="#fcefb1" d="M448.5 384.5h0m3 6h0m1 1h0"/>
<path class="d1" stroke="#f8e85a" d="M452.5 384.5h0m-4 1h0m2 0h0m3 0h0m-3 3h0m3 0h0m-1 1h0m2 0h0m0 1h0m-7 1h0m6 2h0m0 3h0"/>
<path class="d1" stroke="#fcf5b5" d="M450.5 387.5h0m-1 4h0m6 1h0"/>
<rect x="367.50" y="379.50" width="116.00" height="113.00" fill="none" stroke="#3a3a3a" stroke-width="1"/>
<text x="426.80" y="374.00" font-size="8.6" text-anchor="middle" stroke="#2b2b2b" font-style="italic" textLength="26" lengthAdjust="spacingAndGlyphs">CCL15</text>
<text x="426.40" y="504.20" font-size="8.8" text-anchor="middle" stroke="#2b2b2b" textLength="59.2" lengthAdjust="spacingAndGlyphs">UMAP dimension 1</text>
<text x="363.70" y="435.90" font-size="9.3" text-anchor="middle" stroke="#2b2b2b" textLength="59" lengthAdjust="spacingAndGlyphs" transform="rotate(-90 363.70 435.90)">UMAP dimension 2</text>
<text x="391.60" y="514.60" font-size="7.2" stroke="#2b2b2b" textLength="11.5" lengthAdjust="spacingAndGlyphs">Log</text>
<text x="403.40" y="516.20" font-size="4.6" stroke="#2b2b2b">2</text>
<text x="406.60" y="514.60" font-size="7.2" stroke="#2b2b2b" textLength="54.599999999999994" lengthAdjust="spacingAndGlyphs">(gene accessibility)</text>
<rect x="400.00" y="521.40" width="47.90" height="5.90" fill="url(#gE)" stroke="#222" stroke-width="0.7"/>
<line x1="406.20" y1="527.30" x2="406.20" y2="529.00" stroke="#333" stroke-width="0.6"/>
<text x="406.20" y="537.60" font-size="7.4" text-anchor="middle" stroke="#2b2b2b" textLength="14" lengthAdjust="spacingAndGlyphs">0.05</text>
<line x1="426.50" y1="527.30" x2="426.50" y2="529.00" stroke="#333" stroke-width="0.6"/>
<text x="426.50" y="537.60" font-size="7.4" text-anchor="middle" stroke="#2b2b2b" textLength="14" lengthAdjust="spacingAndGlyphs">0.15</text>
<line x1="447.00" y1="527.30" x2="447.00" y2="529.00" stroke="#333" stroke-width="0.6"/>
<text x="447.00" y="537.60" font-size="7.4" text-anchor="middle" stroke="#2b2b2b" textLength="14" lengthAdjust="spacingAndGlyphs">0.25</text>
<rect x="356.00" y="207.02" width="8.70" height="95.68" fill="#a8271f"/>
<line x1="360.35" y1="206.16" x2="360.35" y2="207.88" stroke="#222" stroke-width="0.7"/>
<line x1="359.05" y1="206.16" x2="361.65" y2="206.16" stroke="#222" stroke-width="0.7"/>
<line x1="360.35" y1="307.50" x2="360.35" y2="310.50" stroke="#333" stroke-width="0.8"/>
<text x="360.35" y="320.20" font-size="7.6" text-anchor="middle" stroke="#2b2b2b" textLength="8.2" lengthAdjust="spacingAndGlyphs">C1</text>
<rect x="370.00" y="208.53" width="8.70" height="94.17" fill="#2e2a62"/>
<line x1="374.35" y1="208.10" x2="374.35" y2="208.96" stroke="#222" stroke-width="0.7"/>
<line x1="373.05" y1="208.10" x2="375.65" y2="208.10" stroke="#222" stroke-width="0.7"/>
<line x1="374.35" y1="307.50" x2="374.35" y2="310.50" stroke="#333" stroke-width="0.8"/>
<text x="374.35" y="320.20" font-size="7.6" text-anchor="middle" stroke="#2b2b2b" textLength="8.2" lengthAdjust="spacingAndGlyphs">C2</text>
<rect x="384.00" y="217.79" width="8.70" height="84.91" fill="#2a6a35"/>
<line x1="388.35" y1="216.07" x2="388.35" y2="219.52" stroke="#222" stroke-width="0.7"/>
<line x1="387.05" y1="216.07" x2="389.65" y2="216.07" stroke="#222" stroke-width="0.7"/>
<line x1="387.05" y1="219.52" x2="389.65" y2="219.52" stroke="#222" stroke-width="0.7"/>
<line x1="388.35" y1="307.50" x2="388.35" y2="310.50" stroke="#333" stroke-width="0.8"/>
<text x="388.35" y="320.20" font-size="7.6" text-anchor="middle" stroke="#2b2b2b" textLength="8.2" lengthAdjust="spacingAndGlyphs">C3</text>
<rect x="398.00" y="218.65" width="8.70" height="84.05" fill="#7c1f82"/>
<line x1="402.35" y1="217.79" x2="402.35" y2="219.52" stroke="#222" stroke-width="0.7"/>
<line x1="401.05" y1="217.79" x2="403.65" y2="217.79" stroke="#222" stroke-width="0.7"/>
<line x1="402.35" y1="307.50" x2="402.35" y2="310.50" stroke="#333" stroke-width="0.8"/>
<text x="402.35" y="320.20" font-size="7.6" text-anchor="middle" stroke="#2b2b2b" textLength="8.2" lengthAdjust="spacingAndGlyphs">C4</text>
<rect x="412.20" y="226.20" width="8.70" height="76.50" fill="#d0662a"/>
<line x1="416.55" y1="210.25" x2="416.55" y2="242.14" stroke="#222" stroke-width="0.7"/>
<line x1="415.25" y1="210.25" x2="417.85" y2="210.25" stroke="#222" stroke-width="0.7"/>
<line x1="415.25" y1="242.14" x2="417.85" y2="242.14" stroke="#222" stroke-width="0.7"/>
<line x1="416.55" y1="307.50" x2="416.55" y2="310.50" stroke="#333" stroke-width="0.8"/>
<text x="416.55" y="320.20" font-size="7.6" text-anchor="middle" stroke="#2b2b2b" textLength="8.2" lengthAdjust="spacingAndGlyphs">C5</text>
<rect x="426.20" y="227.71" width="8.70" height="74.99" fill="#f3c02a"/>
<line x1="430.55" y1="227.27" x2="430.55" y2="228.14" stroke="#222" stroke-width="0.7"/>
<line x1="429.25" y1="227.27" x2="431.85" y2="227.27" stroke="#222" stroke-width="0.7"/>
<line x1="430.55" y1="307.50" x2="430.55" y2="310.50" stroke="#333" stroke-width="0.8"/>
<text x="430.55" y="320.20" font-size="7.6" text-anchor="middle" stroke="#2b2b2b" textLength="8.2" lengthAdjust="spacingAndGlyphs">C6</text>
<rect x="440.40" y="233.31" width="8.70" height="69.39" fill="#3f7fb5"/>
<line x1="444.75" y1="231.15" x2="444.75" y2="235.46" stroke="#222" stroke-width="0.7"/>
<line x1="443.45" y1="231.15" x2="446.05" y2="231.15" stroke="#222" stroke-width="0.7"/>
<line x1="443.45" y1="235.46" x2="446.05" y2="235.46" stroke="#222" stroke-width="0.7"/>
<line x1="444.75" y1="307.50" x2="444.75" y2="310.50" stroke="#333" stroke-width="0.8"/>
<text x="444.75" y="320.20" font-size="7.6" text-anchor="middle" stroke="#2b2b2b" textLength="8.2" lengthAdjust="spacingAndGlyphs">C7</text>
<rect x="454.60" y="234.60" width="8.70" height="68.10" fill="#c07ab6"/>
<line x1="458.95" y1="232.88" x2="458.95" y2="236.33" stroke="#222" stroke-width="0.7"/>
<line x1="457.65" y1="232.88" x2="460.25" y2="232.88" stroke="#222" stroke-width="0.7"/>
<line x1="457.65" y1="236.33" x2="460.25" y2="236.33" stroke="#222" stroke-width="0.7"/>
<line x1="458.95" y1="307.50" x2="458.95" y2="310.50" stroke="#333" stroke-width="0.8"/>
<text x="458.95" y="320.20" font-size="7.6" text-anchor="middle" stroke="#2b2b2b" textLength="8.2" lengthAdjust="spacingAndGlyphs">C8</text>
<line x1="348.30" y1="192.00" x2="348.30" y2="308.00" stroke="#333" stroke-width="1"/>
<line x1="347.80" y1="307.50" x2="469.00" y2="307.50" stroke="#333" stroke-width="1"/>
<line x1="345.30" y1="302.70" x2="348.30" y2="302.70" stroke="#333" stroke-width="0.8"/>
<text x="342.20" y="305.30" font-size="7.4" text-anchor="end" stroke="#2b2b2b" textLength="14" lengthAdjust="spacingAndGlyphs">0.00</text>
<line x1="345.30" y1="281.15" x2="348.30" y2="281.15" stroke="#333" stroke-width="0.8"/>
<text x="342.20" y="283.75" font-size="7.4" text-anchor="end" stroke="#2b2b2b" textLength="14" lengthAdjust="spacingAndGlyphs">0.05</text>
<line x1="345.30" y1="259.60" x2="348.30" y2="259.60" stroke="#333" stroke-width="0.8"/>
<text x="342.20" y="262.20" font-size="7.4" text-anchor="end" stroke="#2b2b2b" textLength="14" lengthAdjust="spacingAndGlyphs">0.10</text>
<line x1="345.30" y1="238.05" x2="348.30" y2="238.05" stroke="#333" stroke-width="0.8"/>
<text x="342.20" y="240.65" font-size="7.4" text-anchor="end" stroke="#2b2b2b" textLength="14" lengthAdjust="spacingAndGlyphs">0.15</text>
<line x1="345.30" y1="216.50" x2="348.30" y2="216.50" stroke="#333" stroke-width="0.8"/>
<text x="342.20" y="219.10" font-size="7.4" text-anchor="end" stroke="#2b2b2b" textLength="14" lengthAdjust="spacingAndGlyphs">0.20</text>
<text x="324.50" y="249.70" font-size="9.3" text-anchor="middle" stroke="#2b2b2b" textLength="33.6" lengthAdjust="spacingAndGlyphs" transform="rotate(-90 324.50 249.70)">LSC6 score</text>
<path d="M396.0 581.5 L411.4 596.5 L426.4 636.1 L441.7 646.0 L457.0 671.1 L472.3 658.8 L487.7 667.5 L502.5 676.7" fill="none" stroke="#2a2a2a" stroke-width="1"/>
<rect x="394.80" y="580.27" width="2.40" height="2.40" fill="#c8283a"/>
<line x1="396.00" y1="686.40" x2="396.00" y2="689.40" stroke="#333" stroke-width="0.8"/>
<text x="396.00" y="698.80" font-size="7.6" text-anchor="middle" stroke="#2b2b2b" textLength="8.2" lengthAdjust="spacingAndGlyphs">C1</text>
<rect x="410.20" y="595.28" width="2.40" height="2.40" fill="#222244"/>
<line x1="411.40" y1="686.40" x2="411.40" y2="689.40" stroke="#333" stroke-width="0.8"/>
<text x="411.40" y="698.80" font-size="7.6" text-anchor="middle" stroke="#2b2b2b" textLength="8.2" lengthAdjust="spacingAndGlyphs">C2</text>
<line x1="426.40" y1="632.10" x2="426.40" y2="640.16" stroke="#2a6a35" stroke-width="0.8"/>
<line x1="425.10" y1="632.10" x2="427.70" y2="632.10" stroke="#2a6a35" stroke-width="0.8"/>
<line x1="425.10" y1="640.16" x2="427.70" y2="640.16" stroke="#2a6a35" stroke-width="0.8"/>
<rect x="425.20" y="634.93" width="2.40" height="2.40" fill="#2a6a35"/>
<line x1="426.40" y1="686.40" x2="426.40" y2="689.40" stroke="#333" stroke-width="0.8"/>
<text x="426.40" y="698.80" font-size="7.6" text-anchor="middle" stroke="#2b2b2b" textLength="8.2" lengthAdjust="spacingAndGlyphs">C3</text>
<rect x="440.50" y="644.78" width="2.40" height="2.40" fill="#7c1f82"/>
<line x1="441.70" y1="686.40" x2="441.70" y2="689.40" stroke="#333" stroke-width="0.8"/>
<text x="441.70" y="698.80" font-size="7.6" text-anchor="middle" stroke="#2b2b2b" textLength="8.2" lengthAdjust="spacingAndGlyphs">C4</text>
<line x1="457.00" y1="664.35" x2="457.00" y2="677.79" stroke="#e08a50" stroke-width="0.8"/>
<line x1="455.70" y1="664.35" x2="458.30" y2="664.35" stroke="#e08a50" stroke-width="0.8"/>
<line x1="455.70" y1="677.79" x2="458.30" y2="677.79" stroke="#e08a50" stroke-width="0.8"/>
<rect x="455.80" y="669.87" width="2.40" height="2.40" fill="#e08a50"/>
<line x1="457.00" y1="686.40" x2="457.00" y2="689.40" stroke="#333" stroke-width="0.8"/>
<text x="457.00" y="698.80" font-size="7.6" text-anchor="middle" stroke="#2b2b2b" textLength="8.2" lengthAdjust="spacingAndGlyphs">C5</text>
<rect x="471.10" y="657.55" width="2.40" height="2.40" fill="#f3d02a"/>
<line x1="472.30" y1="686.40" x2="472.30" y2="689.40" stroke="#333" stroke-width="0.8"/>
<text x="472.30" y="698.80" font-size="7.6" text-anchor="middle" stroke="#2b2b2b" textLength="8.2" lengthAdjust="spacingAndGlyphs">C6</text>
<line x1="487.70" y1="661.89" x2="487.70" y2="673.09" stroke="#5a8ac0" stroke-width="0.8"/>
<line x1="486.40" y1="661.89" x2="489.00" y2="661.89" stroke="#5a8ac0" stroke-width="0.8"/>
<line x1="486.40" y1="673.09" x2="489.00" y2="673.09" stroke="#5a8ac0" stroke-width="0.8"/>
<rect x="486.50" y="666.29" width="2.40" height="2.40" fill="#5a8ac0"/>
<line x1="487.70" y1="686.40" x2="487.70" y2="689.40" stroke="#333" stroke-width="0.8"/>
<text x="487.70" y="698.80" font-size="7.6" text-anchor="middle" stroke="#2b2b2b" textLength="8.2" lengthAdjust="spacingAndGlyphs">C7</text>
<line x1="502.50" y1="672.64" x2="502.50" y2="680.70" stroke="#c07ab6" stroke-width="0.8"/>
<line x1="501.20" y1="672.64" x2="503.80" y2="672.64" stroke="#c07ab6" stroke-width="0.8"/>
<line x1="501.20" y1="680.70" x2="503.80" y2="680.70" stroke="#c07ab6" stroke-width="0.8"/>
<rect x="501.30" y="675.47" width="2.40" height="2.40" fill="#c07ab6"/>
<line x1="502.50" y1="686.40" x2="502.50" y2="689.40" stroke="#333" stroke-width="0.8"/>
<text x="502.50" y="698.80" font-size="7.6" text-anchor="middle" stroke="#2b2b2b" textLength="8.2" lengthAdjust="spacingAndGlyphs">C8</text>
<line x1="386.80" y1="566.20" x2="386.80" y2="686.90" stroke="#333" stroke-width="1"/>
<line x1="386.30" y1="686.40" x2="511.50" y2="686.40" stroke="#333" stroke-width="1"/>
<line x1="383.80" y1="580.80" x2="386.80" y2="580.80" stroke="#333" stroke-width="0.8"/>
<text x="380.00" y="583.40" font-size="7.4" text-anchor="end" stroke="#2b2b2b" textLength="14" lengthAdjust="spacingAndGlyphs">0.55</text>
<line x1="383.80" y1="603.20" x2="386.80" y2="603.20" stroke="#333" stroke-width="0.8"/>
<text x="380.00" y="605.80" font-size="7.4" text-anchor="end" stroke="#2b2b2b" textLength="14" lengthAdjust="spacingAndGlyphs">0.54</text>
<line x1="383.80" y1="625.60" x2="386.80" y2="625.60" stroke="#333" stroke-width="0.8"/>
<text x="380.00" y="628.20" font-size="7.4" text-anchor="end" stroke="#2b2b2b" textLength="14" lengthAdjust="spacingAndGlyphs">0.53</text>
<line x1="383.80" y1="648.00" x2="386.80" y2="648.00" stroke="#333" stroke-width="0.8"/>
<text x="380.00" y="650.60" font-size="7.4" text-anchor="end" stroke="#2b2b2b" textLength="14" lengthAdjust="spacingAndGlyphs">0.52</text>
<line x1="383.80" y1="670.40" x2="386.80" y2="670.40" stroke="#333" stroke-width="0.8"/>
<text x="380.00" y="673.00" font-size="7.4" text-anchor="end" stroke="#2b2b2b" textLength="14" lengthAdjust="spacingAndGlyphs">0.51</text>
<text x="448.50" y="560.30" font-size="8.5" text-anchor="middle" stroke="#2b2b2b" textLength="118.5" lengthAdjust="spacingAndGlyphs">Innate immunity related genes</text>
<text x="363.30" y="626.10" font-size="9.3" text-anchor="middle" stroke="#2b2b2b" textLength="33.5" lengthAdjust="spacingAndGlyphs" transform="rotate(-90 363.30 626.10)">Gene score</text>
<rect x="29.00" y="376.30" width="87.60" height="302.50" fill="#a6c3d0"/>
<path stroke="#e15f2d" fill="none" d="M29 376.8h10.95m-10.95 1h10.95m-10.95 6h10.95m-10.95 1h10.95m-10.95 2h10.95m-10.95 4h10.95m-10.95 1h10.95m-10.95 1h10.95m-10.95 3h10.95m-10.95 5h10.95m-10.95 2h10.95m-10.95 5h10.95m-10.95 5h10.95m-10.95 4h10.95m-10.95 1h10.95m-10.95 14h10.95m-10.95 2h10.95m-10.95 2h10.95m-10.95 2h10.95m-10.95 1h10.95m-10.95 1h10.95m-10.95 3h10.95m-10.95 1h10.95m-10.95 5h10.95m0 3h10.95m-10.95 3h10.95m-10.95 1h10.95m-10.95 1h10.95m-10.95 1h10.95m-10.95 3h10.95m-10.95 2h10.95m-10.95 1h10.95m-10.95 3h10.95m-10.95 1h10.95m-0 21h10.95m-10.95 4h10.95m-10.95 1h10.95m-10.95 1h10.95m-10.95 1h10.95m-10.95 1h10.95m-10.95 1h10.95m-10.95 3h10.95m-10.95 1h10.95m-10.95 2h10.95m-10.95 2h10.95m-10.95 2h10.95m-10.95 1h10.95m0 1h10.95m-10.95 4h10.95m-10.95 3h10.95m-10.95 1h10.95m-10.95 2h10.95m0 2h10.95m-10.95 3h10.95m-10.95 1h10.95m10.95 13h10.95m-10.95 1h10.95m-10.95 1h10.95m-10.95 3h10.95m-10.95 4h10.95m-10.95 2h10.95m-10.95 5h10.95m-10.95 1h10.95m-10.95 1h10.95m-10.95 2h10.95m-10.95 1h10.95m-10.95 4h10.95m-10.95 2h10.95m-10.95 1h10.95m-10.95 1h10.95m-10.95 3h10.95m-10.95 9h10.95m-10.95 1h10.95m-10.95 1h10.95m-10.95 1h10.95m-10.95 8h10.95m-10.95 5h10.95m0 7h10.95m-10.95 5h10.95m-10.95 1h10.95m-10.95 8h10.95m-10.95 2h10.95m-10.95 1h10.95m-10.95 6h10.95m-10.95 2h10.95m-10.95 2h10.95m-10.95 1h10.95m-10.95 7h10.95m-10.95 1h10.95m-10.95 3h10.95m-10.95 4h10.95m-10.95 1h10.95m-10.95 2h10.95m-10.95 1h10.95m-10.95 2h10.95m-10.95 1h10.95m-10.95 4h10.95m-10.95 1h10.95m-10.95 1h10.95m-10.95 2h10.95m-10.95 7h10.95m-10.95 3h10.95m-10.95 1h10.95m-10.95 2h10.95"/>
<path stroke="#ce3621" fill="none" d="M29 378.8h10.95m-10.95 1h10.95m-10.95 1h10.95m-10.95 8h10.95m-10.95 1h10.95m-10.95 9h10.95m-10.95 3h10.95m-10.95 2h10.95m-10.95 1h10.95m-10.95 1h10.95m-10.95 1h10.95m-10.95 5h10.95m-10.95 13h10.95m-10.95 6h10.95m-10.95 2h10.95m0 27h10.95m-10.95 9h10.95m-10.95 3h10.95m-0 7h10.95m-10.95 12h10.95m-10.95 1h10.95m0 23h10.95m0 6h10.95m0 7h10.95m-10.95 3h10.95m-10.95 1h10.95m-10.95 2h10.95m0 2h10.95m-10.95 1h10.95m-10.95 1h10.95m-10.95 15h10.95m-10.95 5h10.95m-10.95 14h10.95m-10.95 3h10.95m-10.95 1h10.95m-10.95 13h10.95m-10.95 1h10.95m-10.95 3h10.95m-10.95 1h10.95m-10.95 1h10.95m0 9h10.95m-10.95 2h10.95m-10.95 1h10.95m-10.95 16h10.95m-10.95 6h10.95m-10.95 3h10.95m-10.95 1h10.95m-10.95 44h10.95"/>
<path stroke="#eb8b3a" fill="none" d="M29 381.8h10.95m-10.95 37h10.95m-10.95 1h10.95m-10.95 6h10.95m21.9 83h10.95m-10.95 7h10.95m21.9 54h10.95m-10.95 30h10.95m0 10h10.95m-10.95 1h10.95m-10.95 1h10.95m-10.95 42h10.95m-10.95 6h10.95m-10.95 4h10.95m-10.95 1h10.95m-10.95 4h10.95m-10.95 1h10.95"/>
<path stroke="#d84a27" fill="none" d="M29 382.8h10.95m-10.95 3h10.95m-10.95 8h10.95m-10.95 1h10.95m-10.95 16h10.95m-10.95 5h10.95m-10.95 13h10.95m-10.95 12h10.95m-10.95 1h10.95m-10.95 3h10.95m-10.95 3h10.95m-10.95 2h10.95m-10.95 1h10.95m0 2h10.95m-10.95 12h10.95m-10.95 1h10.95m-0 6h10.95m-10.95 6h10.95m-10.95 2h10.95m-10.95 1h10.95m-10.95 6h10.95m-10.95 1h10.95m-10.95 11h10.95m-10.95 1h10.95m-10.95 3h10.95m0 8h10.95m-10.95 1h10.95m0 11h10.95m-10.95 1h10.95m-10.95 3h10.95m0 3h10.95m-10.95 3h10.95m0 9h10.95m-10.95 3h10.95m-10.95 1h10.95m-10.95 23h10.95m-10.95 9h10.95m-10.95 9h10.95m-10.95 1h10.95m-10.95 4h10.95m-10.95 5h10.95m-10.95 4h10.95m-10.95 1h10.95m0 11h10.95m-10.95 1h10.95m-10.95 7h10.95m-10.95 1h10.95m-10.95 5h10.95m-10.95 7h10.95m-10.95 3h10.95m-10.95 4h10.95m-10.95 7h10.95m-10.95 14h10.95m-10.95 1h10.95m-10.95 3h10.95m-10.95 1h10.95m-10.95 6h10.95m-10.95 3h10.95"/>
<path stroke="#e67534" fill="none" d="M29 387.8h10.95m-10.95 21h10.95m-10.95 13h10.95m-10.95 1h10.95m-10.95 1h10.95m-10.95 3h10.95m-10.95 3h10.95m-10.95 5h10.95m-10.95 2h10.95m-10.95 9h10.95m0 8h10.95m-10.95 8h10.95m-0 12h10.95m-10.95 1h10.95m-10.95 1h10.95m-10.95 1h10.95m-10.95 5h10.95m-10.95 1h10.95m-10.95 1h10.95m-10.95 1h10.95m-10.95 1h10.95m-10.95 4h10.95m-10.95 17h10.95m0 6h10.95m-10.95 6h10.95m0 9h10.95m0 1h10.95m0 14h10.95m-10.95 4h10.95m-10.95 7h10.95m-10.95 8h10.95m-10.95 1h10.95m-10.95 2h10.95m-10.95 8h10.95m-10.95 1h10.95m-10.95 3h10.95m-10.95 2h10.95m-10.95 5h10.95m-10.95 1h10.95m-10.95 1h10.95m-10.95 12h10.95m-10.95 1h10.95m0 6h10.95m-10.95 10h10.95m-10.95 1h10.95m-10.95 2h10.95m-10.95 6h10.95m-10.95 1h10.95m-10.95 10h10.95m-10.95 1h10.95m-10.95 4h10.95m-10.95 3h10.95m-10.95 8h10.95m-10.95 5h10.95m-10.95 22h10.95"/>
<path stroke="#b41616" fill="none" d="M29 396.8h10.95m-10.95 1h10.95m-10.95 2h10.95m-10.95 14h10.95m-10.95 14h10.95m0 42h10.95m-10.95 1h10.95m43.8 80h10.95m-10.95 1h10.95m0 92h10.95m-10.95 1h10.95"/>
<path stroke="#c4211b" fill="none" d="M29 409.8h10.95m-10.95 5h10.95m-10.95 6h10.95m-10.95 26h10.95m0 12h10.95m-0 14h10.95m-10.95 32h10.95m21.9 30h10.95m0 14h10.95m-10.95 12h10.95m0 94h10.95"/>
<path stroke="#b6c5c6" fill="none" d="M72.8 376.8h10.95m21.9 1h10.95m-76.65 8h10.95m21.9 1h10.95m-32.85 12h10.95m0 0h10.95m0 1h10.95m-10.95 1h10.95m-43.8 2h10.95m-10.95 1h10.95m-0 0h10.95m10.95 0h10.95m0 0h10.95m-21.9 1h10.95m-10.95 1h10.95m-10.95 5h10.95m-21.9 4h10.95m21.9 4h10.95m-54.75 1h10.95m-10.95 1h10.95m0 1h10.95m32.85 5h10.95m-21.9 6h10.95m-65.7 2h10.95m-10.95 1h10.95m54.75 5h10.95m-76.65 4h10.95m-10.95 1h10.95m10.95 -1h10.95m21.9 3h10.95m-76.65 4h10.95m10.95 1h10.95m21.9 1h10.95m0 4h10.95m-10.95 3h10.95m-76.65 2h10.95m21.9 1h10.95m-21.9 3h10.95m10.95 10h10.95m-21.9 2h10.95m32.85 3h10.95m-87.6 2h10.95m54.75 3h10.95m0 2h10.95m-54.75 1h10.95m21.9 0h10.95m-76.65 9h10.95m32.85 4h10.95m10.95 2h10.95m0 3h10.95m-43.8 3h10.95m-10.95 1h10.95m-43.8 6h10.95m43.8 0h10.95m0 2h10.95m-32.85 1h10.95m-65.7 4h10.95m21.9 0h10.95m-21.9 8h10.95m-32.85 1h10.95m32.85 3h10.95m-54.75 6h10.95m21.9 0h10.95m-32.85 1h10.95m-10.95 1h10.95m54.75 0h10.95m-54.75 1h10.95m-10.95 1h10.95m0 -1h10.95m-10.95 2h10.95m-10.95 1h10.95m-43.8 3h10.95m32.85 2h10.95m-54.75 9h10.95m-0 0h10.95m-21.9 1h10.95m10.95 3h10.95m0 1h10.95m-43.8 2h10.95m32.85 0h10.95m-65.7 2h10.95m-10.95 1h10.95m-10.95 2h10.95m21.9 0h10.95m-10.95 2h10.95m-32.85 6h10.95m32.85 4h10.95m-43.8 3h10.95m43.8 1h10.95m-76.65 5h10.95m-0 1h10.95m-21.9 3h10.95m54.75 1h10.95m-32.85 2h10.95m-10.95 1h10.95m-43.8 2h10.95m0 2h10.95m-10.95 1h10.95m0 6h10.95m0 1h10.95m-54.75 5h10.95m-10.95 1h10.95m21.9 1h10.95m-43.8 2h10.95m-10.95 1h10.95m32.85 1h10.95m-65.7 1h10.95m-10.95 1h10.95m54.75 -1h10.95m-76.65 2h10.95m21.9 0h10.95m-32.85 1h10.95m32.85 0h10.95m-65.7 3h10.95m54.75 0h10.95m-54.75 3h10.95m0 2h10.95m21.9 2h10.95m-10.95 1h10.95m-32.85 1h10.95m0 3h10.95m-65.7 1h10.95m0 0h10.95m-10.95 1h10.95m-21.9 1h10.95m43.8 7h10.95m-32.85 1h10.95m-21.9 3h10.95m-32.85 2h10.95m54.75 3h10.95m-32.85 3h10.95m-10.95 1h10.95m10.95 -1h10.95m-76.65 1h10.95m32.85 1h10.95m-10.95 1h10.95m-10.95 1h10.95m-43.8 1h10.95m10.95 2h10.95"/>
<path stroke="#7aadd2" fill="none" d="M39.95 376.8h10.95m-0 4h10.95m32.85 1h10.95m-65.7 5h10.95m-10.95 1h10.95m54.75 -1h10.95m-76.65 5h10.95m-10.95 1h10.95m-10.95 1h10.95m-10.95 1h10.95m-10.95 1h10.95m10.95 4h10.95m-10.95 1h10.95m21.9 3h10.95m-10.95 1h10.95m-32.85 14h10.95m-32.85 4h10.95m21.9 13h10.95m-10.95 1h10.95m-54.75 5h10.95m21.9 1h10.95m-10.95 1h10.95m-21.9 2h10.95m0 1h10.95m-54.75 6h10.95m10.95 2h10.95m-10.95 1h10.95m-10.95 1h10.95m-10.95 1h10.95m-10.95 6h10.95m-10.95 1h10.95m-10.95 1h10.95m-32.85 4h10.95m54.75 0h10.95m-76.65 4h10.95m43.8 0h10.95m-54.75 7h10.95m-10.95 1h10.95m-10.95 7h10.95m-21.9 1h10.95m21.9 1h10.95m-43.8 3h10.95m-10.95 1h10.95m-10.95 1h10.95m-10.95 1h10.95m-10.95 1h10.95m54.75 8h10.95m-10.95 1h10.95m-65.7 2h10.95m54.75 0h10.95m-10.95 1h10.95m-21.9 2h10.95m-65.7 2h10.95m-21.9 1h10.95m-10.95 1h10.95m32.85 0h10.95m-43.8 1h10.95m-21.9 2h10.95m-10.95 1h10.95m10.95 2h10.95m-10.95 2h10.95m43.8 0h10.95m-65.7 5h10.95m-21.9 9h10.95m32.85 1h10.95m-10.95 1h10.95m-43.8 2h10.95m21.9 0h10.95m-65.7 2h10.95m43.8 0h10.95m-10.95 1h10.95m-54.75 1h10.95m-21.9 1h10.95m-10.95 1h10.95m0 -1h10.95m-10.95 3h10.95m-10.95 3h10.95m-0 2h10.95m-32.85 2h10.95m-10.95 4h10.95m21.9 1h10.95m-32.85 14h10.95m-21.9 1h10.95m-10.95 13h10.95m10.95 3h10.95m43.8 1h10.95m-54.75 5h10.95m-43.8 1h10.95m-10.95 3h10.95m-10.95 3h10.95m-10.95 7h10.95m0 2h10.95m-21.9 8h10.95m0 0h10.95m-0 1h10.95m-10.95 1h10.95m-32.85 0h10.95m10.95 14h10.95m-10.95 1h10.95m-21.9 1h10.95m-21.9 5h10.95m54.75 3h10.95m-76.65 3h10.95m-10.95 5h10.95m-10.95 7h10.95m0 2h10.95m-21.9 2h10.95m-10.95 2h10.95m-10.95 1h10.95m0 1h10.95m-21.9 2h10.95m-10.95 1h10.95m54.75 -1h10.95m-54.75 3h10.95"/>
<path stroke="#afc4ca" fill="none" d="M50.9 376.8h10.95m-10.95 1h10.95m43.8 -1h10.95m-76.65 3h10.95m32.85 0h10.95m-10.95 1h10.95m0 -1h10.95m-21.9 7h10.95m-21.9 1h10.95m10.95 3h10.95m-54.75 16h10.95m-10.95 1h10.95m21.9 -1h10.95m-43.8 8h10.95m10.95 0h10.95m0 2h10.95m-10.95 3h10.95m-54.75 1h10.95m-10.95 1h10.95m-0 0h10.95m10.95 0h10.95m-10.95 1h10.95m0 0h10.95m-10.95 1h10.95m-10.95 2h10.95m-10.95 5h10.95m-21.9 2h10.95m-21.9 6h10.95m10.95 0h10.95m-10.95 1h10.95m-54.75 0h10.95m54.75 4h10.95m-65.7 1h10.95m-10.95 2h10.95m0 0h10.95m-32.85 1h10.95m32.85 1h10.95m-10.95 1h10.95m10.95 1h10.95m-10.95 1h10.95m-43.8 1h10.95m-10.95 1h10.95m-54.75 0h10.95m43.8 1h10.95m0 1h10.95m0 0h10.95m-10.95 1h10.95m-10.95 1h10.95m-10.95 5h10.95m-10.95 1h10.95m-43.8 2h10.95m0 0h10.95m0 1h10.95m-54.75 3h10.95m-10.95 1h10.95m32.85 8h10.95m-10.95 1h10.95m-10.95 1h10.95m-76.65 4h10.95m-10.95 1h10.95m65.7 -1h10.95m-10.95 1h10.95m-87.6 2h10.95m21.9 0h10.95m0 3h10.95m-43.8 3h10.95m54.75 0h10.95m-32.85 4h10.95m-21.9 4h10.95m-54.75 4h10.95m-10.95 1h10.95m54.75 3h10.95m-76.65 1h10.95m54.75 2h10.95m-21.9 2h10.95m10.95 0h10.95m-10.95 1h10.95m-32.85 0h10.95m10.95 2h10.95m-10.95 1h10.95m-76.65 0h10.95m32.85 0h10.95m-10.95 1h10.95m-43.8 1h10.95m-32.85 5h10.95m-10.95 1h10.95m-10.95 2h10.95m54.75 0h10.95m0 2h10.95m-54.75 2h10.95m-10.95 1h10.95m-32.85 1h10.95m21.9 0h10.95m0 1h10.95m-21.9 2h10.95m0 3h10.95m-32.85 1h10.95m-32.85 1h10.95m54.75 7h10.95m-32.85 2h10.95m-54.75 3h10.95m21.9 0h10.95m-32.85 3h10.95m0 0h10.95m10.95 5h10.95m-65.7 1h10.95m-10.95 1h10.95m65.7 4h10.95m-65.7 1h10.95m-10.95 1h10.95m0 2h10.95m-10.95 1h10.95m32.85 -1h10.95m-32.85 1h10.95m-10.95 1h10.95m-10.95 1h10.95m10.95 1h10.95m-10.95 1h10.95m-65.7 9h10.95m-10.95 1h10.95m21.9 0h10.95m-43.8 1h10.95m-21.9 1h10.95m32.85 1h10.95m-54.75 2h10.95m-10.95 1h10.95m54.75 1h10.95m-65.7 3h10.95m21.9 0h10.95m-43.8 3h10.95m10.95 1h10.95m-10.95 1h10.95m-10.95 3h10.95m-54.75 1h10.95m21.9 0h10.95m-32.85 1h10.95m-10.95 1h10.95m-21.9 2h10.95m54.75 0h10.95m-10.95 1h10.95m-65.7 0h10.95m21.9 2h10.95m10.95 0h10.95m-54.75 6h10.95m-21.9 4h10.95m10.95 0h10.95m0 0h10.95m0 0h10.95m-32.85 3h10.95m21.9 0h10.95m-43.8 1h10.95m-32.85 1h10.95m43.8 0h10.95m-76.65 3h10.95m43.8 0h10.95m-10.95 1h10.95m-21.9 2h10.95m10.95 0h10.95m-76.65 5h10.95m-10.95 1h10.95m-10.95 1h10.95m32.85 2h10.95m10.95 0h10.95m-65.7 1h10.95m-10.95 1h10.95m10.95 -1h10.95m-10.95 1h10.95m-21.9 0h10.95m-10.95 1h10.95m21.9 0h10.95m-10.95 1h10.95m-43.8 1h10.95m0 2h10.95m-10.95 1h10.95m0 0h10.95m-54.75 2h10.95m-10.95 1h10.95m0 2h10.95m-21.9 1h10.95m43.8 2h10.95m-21.9 1h10.95m-43.8 2h10.95m21.9 0h10.95m-32.85 1h10.95m0 3h10.95m-32.85 2h10.95m32.85 1h10.95m-21.9 4h10.95m-10.95 1h10.95m-54.75 1h10.95m32.85 0h10.95m-54.75 1h10.95"/>
<path stroke="#bcc5c2" fill="none" d="M39.95 378.8h10.95m54.75 3h10.95m-76.65 2h10.95m-10.95 1h10.95m54.75 -1h10.95m-10.95 1h10.95m-21.9 3h10.95m-32.85 2h10.95m-21.9 1h10.95m-10.95 1h10.95m10.95 0h10.95m-32.85 1h10.95m32.85 1h10.95m-10.95 1h10.95m-65.7 1h10.95m0 0h10.95m-10.95 1h10.95m0 0h10.95m-43.8 1h10.95m-10.95 1h10.95m-0 1h10.95m43.8 0h10.95m-10.95 1h10.95m-54.75 5h10.95m0 1h10.95m-10.95 1h10.95m10.95 0h10.95m-65.7 8h10.95m10.95 0h10.95m-32.85 2h10.95m21.9 0h10.95m21.9 0h10.95m-76.65 1h10.95m-10.95 1h10.95m-10.95 3h10.95m-10.95 1h10.95m32.85 6h10.95m-10.95 2h10.95m-10.95 1h10.95m10.95 -1h10.95m-10.95 1h10.95m-54.75 0h10.95m-32.85 1h10.95m43.8 1h10.95m-10.95 1h10.95m-10.95 1h10.95m-10.95 1h10.95m0 1h10.95m-10.95 1h10.95m-10.95 7h10.95m-54.75 2h10.95m-21.9 1h10.95m43.8 0h10.95m-87.6 5h10.95m-10.95 1h10.95m32.85 -1h10.95m-10.95 4h10.95m-10.95 1h10.95m10.95 -1h10.95m0 0h10.95m-54.75 1h10.95m32.85 0h10.95m-43.8 1h10.95m-10.95 1h10.95m21.9 -1h10.95m-54.75 1h10.95m21.9 0h10.95m-54.75 1h10.95m-32.85 1h10.95m-10.95 1h10.95m32.85 -1h10.95m-32.85 4h10.95m21.9 5h10.95m-32.85 1h10.95m-43.8 1h10.95m-10.95 1h10.95m21.9 -1h10.95m-10.95 1h10.95m32.85 4h10.95m-32.85 2h10.95m0 2h10.95m-65.7 3h10.95m21.9 0h10.95m-10.95 1h10.95m0 -1h10.95m10.95 0h10.95m-76.65 3h10.95m-21.9 1h10.95m32.85 1h10.95m-10.95 1h10.95m-43.8 0h10.95m32.85 1h10.95m-10.95 1h10.95m0 1h10.95m0 1h10.95m-10.95 1h10.95m-76.65 0h10.95m32.85 1h10.95m-10.95 1h10.95m0 2h10.95m-21.9 1h10.95m-54.75 1h10.95m32.85 1h10.95m10.95 1h10.95m-21.9 2h10.95m-32.85 2h10.95m10.95 1h10.95m-54.75 2h10.95m32.85 4h10.95m-32.85 1h10.95m10.95 1h10.95m0 2h10.95m-32.85 1h10.95m-32.85 2h10.95m10.95 0h10.95m-43.8 2h10.95m21.9 1h10.95m10.95 0h10.95m-10.95 1h10.95m-54.75 3h10.95m-10.95 1h10.95m0 0h10.95m-10.95 1h10.95m-43.8 0h10.95m-0 1h10.95m-10.95 5h10.95m0 0h10.95m32.85 0h10.95m-43.8 2h10.95m21.9 0h10.95m-54.75 4h10.95m-21.9 3h10.95m43.8 1h10.95m-10.95 2h10.95m-10.95 1h10.95m-65.7 0h10.95m-10.95 1h10.95m43.8 0h10.95m-32.85 4h10.95m-21.9 1h10.95m-10.95 1h10.95m21.9 0h10.95m-43.8 1h10.95m-10.95 1h10.95m-21.9 0h10.95m0 3h10.95m-43.8 1h10.95m10.95 1h10.95m32.85 0h10.95m-65.7 1h10.95m-10.95 1h10.95m21.9 0h10.95m10.95 0h10.95m-87.6 1h10.95m65.7 1h10.95m-10.95 1h10.95m-65.7 1h10.95m-21.9 1h10.95m10.95 6h10.95m-10.95 1h10.95m-10.95 1h10.95m-32.85 0h10.95m-10.95 1h10.95m21.9 1h10.95m-32.85 1h10.95m-32.85 4h10.95m-10.95 1h10.95m32.85 1h10.95m0 4h10.95m-21.9 1h10.95m-43.8 2h10.95m-10.95 1h10.95m21.9 -1h10.95m-10.95 1h10.95m-10.95 2h10.95m-54.75 2h10.95m-10.95 2h10.95m0 0h10.95m10.95 1h10.95m-10.95 1h10.95m0 1h10.95m-32.85 3h10.95m-21.9 1h10.95m10.95 0h10.95m0 0h10.95m-10.95 1h10.95m-21.9 2h10.95m21.9 1h10.95m-65.7 2h10.95m43.8 0h10.95m-10.95 1h10.95m-21.9 1h10.95m0 0h10.95m-76.65 1h10.95m21.9 2h10.95m0 0h10.95m0 3h10.95m-54.75 3h10.95m10.95 1h10.95m-32.85 1h10.95m-0 0h10.95m-32.85 1h10.95m21.9 0h10.95m21.9 2h10.95m-76.65 2h10.95m0 0h10.95m-10.95 1h10.95m-0 0h10.95m-32.85 1h10.95m32.85 0h10.95m-54.75 1h10.95m0 0h10.95m-10.95 1h10.95m21.9 0h10.95m-21.9 1h10.95m-21.9 2h10.95m10.95 0h10.95m0 0h10.95m-43.8 1h10.95m-10.95 1h10.95m-10.95 1h10.95m10.95 1h10.95m0 4h10.95m-10.95 1h10.95m-43.8 1h10.95m10.95 5h10.95m-10.95 1h10.95m-32.85 0h10.95m-10.95 1h10.95m-32.85 1h10.95m-10.95 1h10.95m0 0h10.95m32.85 0h10.95m-32.85 1h10.95m-21.9 1h10.95m0 0h10.95m-21.9 2h10.95m-10.95 1h10.95m-32.85 1h10.95m32.85 6h10.95m0 2h10.95m-21.9 3h10.95m0 0h10.95m0 0h10.95"/>
<path stroke="#4992d1" fill="none" d="M94.7 439.8h10.95m-76.65 17h10.95m-10.95 1h10.95m0 15h10.95m-21.9 14h10.95m0 13h10.95m-21.9 3h10.95m-10.95 1h10.95m-10.95 35h10.95m-10.95 27h10.95m-10.95 61h10.95"/>
<path stroke="#92bad3" fill="none" d="M94.7 376.8h10.95m-54.75 2h10.95m-10.95 1h10.95m43.8 -1h10.95m-10.95 2h10.95m-54.75 2h10.95m21.9 7h10.95m-54.75 1h10.95m10.95 0h10.95m0 2h10.95m-10.95 1h10.95m0 0h10.95m-54.75 4h10.95m32.85 1h10.95m-65.7 2h10.95m32.85 0h10.95m-43.8 2h10.95m-21.9 6h10.95m10.95 1h10.95m-32.85 2h10.95m-10.95 3h10.95m-10.95 2h10.95m10.95 2h10.95m0 1h10.95m21.9 0h10.95m-21.9 2h10.95m-10.95 1h10.95m0 1h10.95m-10.95 1h10.95m-76.65 0h10.95m21.9 0h10.95m21.9 1h10.95m-76.65 1h10.95m-0 2h10.95m10.95 0h10.95m21.9 0h10.95m-43.8 1h10.95m10.95 1h10.95m0 0h10.95m-65.7 3h10.95m32.85 0h10.95m-65.7 4h10.95m21.9 0h10.95m-43.8 5h10.95m43.8 3h10.95m-10.95 1h10.95m0 -1h10.95m-76.65 3h10.95m10.95 1h10.95m21.9 1h10.95m-10.95 1h10.95m-10.95 1h10.95m-10.95 1h10.95m0 1h10.95m-54.75 3h10.95m0 0h10.95m-54.75 1h10.95m-10.95 1h10.95m65.7 5h10.95m-87.6 1h10.95m-10.95 1h10.95m65.7 0h10.95m-54.75 2h10.95m32.85 3h10.95m-10.95 1h10.95m-87.6 0h10.95m54.75 0h10.95m-32.85 2h10.95m-10.95 1h10.95m-54.75 4h10.95m21.9 1h10.95m0 1h10.95m-43.8 1h10.95m-10.95 3h10.95m10.95 0h10.95m-32.85 2h10.95m43.8 0h10.95m-10.95 1h10.95m-65.7 2h10.95m-21.9 1h10.95m21.9 0h10.95m-10.95 1h10.95m32.85 2h10.95m-10.95 1h10.95m-54.75 1h10.95m-32.85 4h10.95m-10.95 1h10.95m21.9 -1h10.95m21.9 0h10.95m-87.6 1h10.95m0 1h10.95m21.9 4h10.95m-54.75 1h10.95m-10.95 1h10.95m32.85 -1h10.95m-10.95 1h10.95m-43.8 1h10.95m-10.95 1h10.95m-10.95 1h10.95m-0 2h10.95m-10.95 1h10.95m-32.85 2h10.95m-10.95 1h10.95m10.95 0h10.95m0 3h10.95m-10.95 1h10.95m-43.8 0h10.95m43.8 1h10.95m0 0h10.95m0 0h10.95m-87.6 1h10.95m0 0h10.95m54.75 1h10.95m-10.95 1h10.95m-21.9 1h10.95m-43.8 3h10.95m0 0h10.95m-10.95 1h10.95m10.95 1h10.95m-10.95 1h10.95m-76.65 0h10.95m65.7 2h10.95m-10.95 1h10.95m-76.65 0h10.95m-10.95 1h10.95m10.95 -1h10.95m10.95 1h10.95m-65.7 3h10.95m-10.95 1h10.95m21.9 -1h10.95m-10.95 1h10.95m-32.85 0h10.95m-10.95 1h10.95m21.9 0h10.95m-32.85 1h10.95m0 1h10.95m-21.9 7h10.95m-32.85 2h10.95m43.8 0h10.95m-65.7 1h10.95m0 0h10.95m-0 0h10.95m-32.85 1h10.95m43.8 0h10.95m-21.9 1h10.95m-32.85 1h10.95m43.8 0h10.95m-10.95 1h10.95m-32.85 1h10.95m-10.95 1h10.95m-54.75 0h10.95m-21.9 2h10.95m-10.95 1h10.95m10.95 1h10.95m10.95 5h10.95m-10.95 1h10.95m-43.8 1h10.95m-10.95 1h10.95m21.9 -1h10.95m-10.95 1h10.95m-54.75 2h10.95m0 1h10.95m-21.9 1h10.95m10.95 3h10.95m-10.95 6h10.95m-10.95 1h10.95m-32.85 1h10.95m32.85 0h10.95m21.9 1h10.95m-43.8 1h10.95m-54.75 4h10.95m-10.95 1h10.95m65.7 -1h10.95m-87.6 2h10.95m-10.95 1h10.95m21.9 1h10.95m-43.8 1h10.95m32.85 1h10.95m-54.75 2h10.95m0 0h10.95m21.9 0h10.95m10.95 2h10.95m-32.85 1h10.95m-54.75 1h10.95m0 0h10.95m-0 0h10.95m10.95 0h10.95m10.95 1h10.95m-54.75 3h10.95m21.9 1h10.95m-32.85 2h10.95m-32.85 1h10.95m-10.95 1h10.95m43.8 -1h10.95m-76.65 2h10.95m43.8 0h10.95m-65.7 1h10.95m-10.95 1h10.95m54.75 -1h10.95m-43.8 1h10.95m-32.85 1h10.95m-21.9 1h10.95m32.85 1h10.95m10.95 1h10.95m-76.65 1h10.95m54.75 3h10.95m-10.95 1h10.95m-65.7 6h10.95m-10.95 1h10.95m-0 -1h10.95m-10.95 1h10.95m-21.9 1h10.95m10.95 2h10.95m21.9 1h10.95m-10.95 1h10.95m-32.85 0h10.95m-21.9 4h10.95m-10.95 1h10.95m-10.95 1h10.95m21.9 1h10.95m-54.75 3h10.95m21.9 1h10.95m-65.7 1h10.95m54.75 0h10.95m-32.85 3h10.95m-43.8 3h10.95m-0 0h10.95m-10.95 1h10.95m0 1h10.95m10.95 0h10.95m-65.7 1h10.95m32.85 0h10.95m-32.85 2h10.95m0 3h10.95m-43.8 2h10.95m0 1h10.95m-10.95 1h10.95m-0 1h10.95m-32.85 3h10.95m21.9 0h10.95m-43.8 1h10.95m10.95 2h10.95m-10.95 1h10.95m-32.85 2h10.95"/>
<path stroke="#d6c1a0" fill="none" d="M39.95 377.8h10.95m32.85 1h10.95m-10.95 5h10.95m10.95 2h10.95m-43.8 8h10.95m-21.9 8h10.95m21.9 0h10.95m-21.9 1h10.95m-54.75 3h10.95m10.95 11h10.95m-10.95 6h10.95m-21.9 3h10.95m-21.9 6h10.95m43.8 7h10.95m-21.9 4h10.95m-10.95 16h10.95m-65.7 2h10.95m-10.95 1h10.95m43.8 1h10.95m-10.95 1h10.95m-32.85 1h10.95m-10.95 1h10.95m0 1h10.95m-10.95 1h10.95m0 0h10.95m-32.85 3h10.95m-43.8 10h10.95m-10.95 1h10.95m32.85 4h10.95m-10.95 3h10.95m-10.95 15h10.95m-10.95 1h10.95m-10.95 1h10.95m-32.85 6h10.95m0 15h10.95m-43.8 1h10.95m54.75 0h10.95m-65.7 1h10.95m21.9 5h10.95m-54.75 15h10.95m-10.95 1h10.95m-10.95 1h10.95m32.85 0h10.95m-10.95 1h10.95m0 4h10.95m-54.75 1h10.95m10.95 0h10.95m-10.95 3h10.95m-21.9 5h10.95m21.9 4h10.95m-54.75 5h10.95m-0 3h10.95m10.95 3h10.95m-21.9 3h10.95m-32.85 6h10.95m32.85 1h10.95m-43.8 2h10.95m21.9 14h10.95m-10.95 1h10.95m0 3h10.95m-21.9 10h10.95m-32.85 3h10.95m21.9 8h10.95m-10.95 1h10.95m-43.8 5h10.95m21.9 2h10.95m-21.9 6h10.95m-21.9 2h10.95m-43.8 4h10.95m43.8 3h10.95m-43.8 1h10.95m0 0h10.95m-10.95 10h10.95m-10.95 1h10.95m-10.95 1h10.95m-21.9 6h10.95m-10.95 1h10.95"/>
<path stroke="#a3c2d2" fill="none" d="M61.85 377.8h10.95m-10.95 1h10.95m21.9 -1h10.95m-10.95 1h10.95m0 1h10.95m-76.65 1h10.95m-10.95 1h10.95m43.8 -1h10.95m-32.85 2h10.95m21.9 0h10.95m-43.8 2h10.95m-10.95 1h10.95m-21.9 0h10.95m-10.95 1h10.95m-21.9 1h10.95m21.9 0h10.95m10.95 0h10.95m-76.65 1h10.95m21.9 0h10.95m-32.85 3h10.95m10.95 0h10.95m21.9 0h10.95m-10.95 1h10.95m-65.7 0h10.95m-10.95 1h10.95m-10.95 1h10.95m32.85 0h10.95m-54.75 2h10.95m32.85 1h10.95m0 1h10.95m-76.65 1h10.95m-0 1h10.95m0 2h10.95m21.9 0h10.95m-65.7 2h10.95m-0 0h10.95m-10.95 1h10.95m43.8 0h10.95m-10.95 1h10.95m-10.95 1h10.95m-32.85 1h10.95m-10.95 1h10.95m0 -1h10.95m-10.95 1h10.95m-10.95 1h10.95m-10.95 1h10.95m-54.75 0h10.95m0 0h10.95m0 0h10.95m-10.95 1h10.95m21.9 0h10.95m-65.7 1h10.95m32.85 2h10.95m-54.75 1h10.95m21.9 1h10.95m-10.95 1h10.95m-43.8 0h10.95m32.85 2h10.95m-21.9 4h10.95m-21.9 1h10.95m10.95 1h10.95m-32.85 1h10.95m-21.9 1h10.95m-10.95 1h10.95m21.9 -1h10.95m-10.95 1h10.95m0 0h10.95m-65.7 1h10.95m10.95 0h10.95m10.95 1h10.95m-32.85 2h10.95m0 0h10.95m10.95 0h10.95m-65.7 1h10.95m10.95 0h10.95m-10.95 1h10.95m-10.95 1h10.95m21.9 0h10.95m-76.65 2h10.95m-0 1h10.95m-10.95 1h10.95m0 -1h10.95m0 1h10.95m0 0h10.95m-10.95 1h10.95m-43.8 0h10.95m10.95 0h10.95m10.95 0h10.95m-10.95 1h10.95m0 0h10.95m-76.65 1h10.95m-0 2h10.95m-21.9 1h10.95m32.85 0h10.95m10.95 1h10.95m-10.95 1h10.95m-65.7 3h10.95m10.95 4h10.95m-10.95 1h10.95m10.95 0h10.95m-54.75 2h10.95m0 0h10.95m-21.9 3h10.95m21.9 0h10.95m0 4h10.95m-43.8 1h10.95m-43.8 1h10.95m-10.95 1h10.95m54.75 -1h10.95m0 0h10.95m-21.9 1h10.95m0 0h10.95m-43.8 2h10.95m0 0h10.95m0 0h10.95m0 3h10.95m-21.9 2h10.95m-65.7 1h10.95m-10.95 1h10.95m10.95 -1h10.95m0 1h10.95m-10.95 1h10.95m10.95 3h10.95m-76.65 1h10.95m32.85 0h10.95m-10.95 1h10.95m-43.8 1h10.95m10.95 2h10.95m-10.95 2h10.95m32.85 1h10.95m-10.95 1h10.95m-32.85 1h10.95m0 0h10.95m-76.65 1h10.95m54.75 0h10.95m-32.85 1h10.95m10.95 0h10.95m-10.95 1h10.95m-65.7 1h10.95m-10.95 1h10.95m21.9 1h10.95m-43.8 1h10.95m43.8 0h10.95m-76.65 1h10.95m-10.95 1h10.95m43.8 0h10.95m-10.95 1h10.95m-32.85 2h10.95m21.9 0h10.95m0 3h10.95m-65.7 4h10.95m21.9 1h10.95m-10.95 1h10.95m-10.95 1h10.95m10.95 -1h10.95m-43.8 1h10.95m-10.95 1h10.95m10.95 -1h10.95m-54.75 3h10.95m21.9 1h10.95m-54.75 4h10.95m-10.95 1h10.95m-21.9 0h10.95m21.9 0h10.95m-10.95 3h10.95m-32.85 1h10.95m-10.95 1h10.95m10.95 0h10.95m-10.95 1h10.95m32.85 0h10.95m-10.95 1h10.95m-76.65 2h10.95m-21.9 5h10.95m-10.95 1h10.95m0 1h10.95m-10.95 1h10.95m-0 0h10.95m-10.95 1h10.95m43.8 2h10.95m-65.7 1h10.95m10.95 1h10.95m-32.85 2h10.95m-21.9 2h10.95m-0 0h10.95m0 1h10.95m-32.85 6h10.95m21.9 1h10.95m-21.9 2h10.95m-21.9 3h10.95m10.95 0h10.95m-10.95 1h10.95m0 1h10.95m-21.9 1h10.95m21.9 0h10.95m-65.7 1h10.95m10.95 0h10.95m-10.95 1h10.95m0 0h10.95m-65.7 3h10.95m-10.95 1h10.95m21.9 0h10.95m10.95 0h10.95m-10.95 1h10.95m-43.8 1h10.95m10.95 0h10.95m-32.85 1h10.95m-10.95 1h10.95m10.95 0h10.95m-10.95 1h10.95m21.9 -1h10.95m-76.65 2h10.95m-10.95 1h10.95m-10.95 1h10.95m32.85 -1h10.95m-65.7 1h10.95m65.7 0h10.95m-10.95 1h10.95m-87.6 0h10.95m0 0h10.95m32.85 0h10.95m-43.8 2h10.95m-32.85 1h10.95m32.85 1h10.95m-43.8 1h10.95m10.95 0h10.95m-10.95 1h10.95m-32.85 1h10.95m-10.95 1h10.95m10.95 0h10.95m0 0h10.95m0 4h10.95m-21.9 2h10.95m-32.85 1h10.95m43.8 1h10.95m-10.95 1h10.95m-76.65 2h10.95m-0 0h10.95m0 2h10.95m-10.95 1h10.95m-32.85 0h10.95m54.75 0h10.95m-54.75 2h10.95m10.95 4h10.95m-10.95 1h10.95m0 0h10.95m-43.8 1h10.95m-43.8 4h10.95m43.8 0h10.95m-54.75 2h10.95m-0 2h10.95m-10.95 1h10.95m-10.95 2h10.95m-10.95 1h10.95m32.85 1h10.95m-76.65 1h10.95m0 3h10.95m-0 0h10.95m-10.95 1h10.95m0 5h10.95m-21.9 1h10.95m10.95 2h10.95m-43.8 4h10.95m43.8 0h10.95m-43.8 1h10.95m-32.85 1h10.95m-21.9 1h10.95m0 0h10.95m-10.95 1h10.95m10.95 3h10.95m-43.8 1h10.95m32.85 2h10.95m-10.95 1h10.95m-32.85 0h10.95m-21.9 1h10.95m-21.9 1h10.95m0 0h10.95m-10.95 1h10.95m10.95 0h10.95m-32.85 1h10.95m43.8 0h10.95m-43.8 1h10.95m21.9 2h10.95m-32.85 2h10.95m10.95 1h10.95m-10.95 1h10.95m-10.95 1h10.95m-21.9 5h10.95m-32.85 2h10.95m21.9 1h10.95m-54.75 1h10.95m32.85 1h10.95m-43.8 4h10.95m0 0h10.95m10.95 0h10.95m-65.7 1h10.95"/>
<path stroke="#61a0d2" fill="none" d="M94.7 385.8h10.95m-21.9 60h10.95m-65.7 25h10.95m-10.95 6h10.95m-10.95 1h10.95m-10.95 11h10.95m43.8 0h10.95m-10.95 1h10.95m-21.9 5h10.95m-54.75 10h10.95m-10.95 7h10.95m-10.95 9h10.95m-10.95 9h10.95m-10.95 5h10.95m-10.95 1h10.95m-10.95 9h10.95m21.9 3h10.95m-10.95 1h10.95m-43.8 9h10.95m-10.95 2h10.95m-10.95 7h10.95m-10.95 14h10.95m0 10h10.95m-21.9 17h10.95m-10.95 1h10.95m-10.95 1h10.95m-10.95 16h10.95m21.9 12h10.95m-43.8 1h10.95m-10.95 6h10.95m0 4h10.95m-10.95 1h10.95m-21.9 1h10.95m0 25h10.95m-0 2h10.95"/>
<path stroke="#d0c2aa" fill="none" d="M61.85 376.8h10.95m0 1h10.95m-10.95 1h10.95m0 4h10.95m-10.95 2h10.95m0 2h10.95m-54.75 2h10.95m-10.95 1h10.95m-21.9 0h10.95m-10.95 1h10.95m43.8 2h10.95m-32.85 2h10.95m-10.95 1h10.95m0 4h10.95m0 6h10.95m-10.95 1h10.95m-32.85 7h10.95m0 1h10.95m-10.95 1h10.95m0 -1h10.95m0 7h10.95m-54.75 3h10.95m-10.95 1h10.95m21.9 -1h10.95m-54.75 2h10.95m0 10h10.95m-21.9 7h10.95m-10.95 4h10.95m-10.95 1h10.95m10.95 -1h10.95m-21.9 6h10.95m-10.95 1h10.95m-10.95 1h10.95m-10.95 1h10.95m10.95 1h10.95m-43.8 3h10.95m0 0h10.95m32.85 1h10.95m-21.9 2h10.95m-10.95 1h10.95m-21.9 0h10.95m-32.85 3h10.95m-10.95 2h10.95m32.85 0h10.95m-87.6 2h10.95m0 2h10.95m-10.95 1h10.95m21.9 -1h10.95m21.9 2h10.95m-10.95 1h10.95m-54.75 1h10.95m32.85 0h10.95m-10.95 1h10.95m-76.65 0h10.95m-10.95 1h10.95m32.85 3h10.95m0 8h10.95m-65.7 1h10.95m54.75 0h10.95m-10.95 1h10.95m-32.85 3h10.95m-21.9 1h10.95m-21.9 2h10.95m-10.95 1h10.95m-32.85 5h10.95m32.85 3h10.95m-10.95 1h10.95m-10.95 1h10.95m-21.9 3h10.95m-43.8 3h10.95m-0 3h10.95m10.95 1h10.95m-32.85 5h10.95m-21.9 5h10.95m-21.9 1h10.95m-10.95 1h10.95m32.85 7h10.95m-10.95 1h10.95m21.9 7h10.95m-10.95 1h10.95m-76.65 0h10.95m32.85 3h10.95m-65.7 17h10.95m32.85 11h10.95m-32.85 1h10.95m-10.95 1h10.95m10.95 0h10.95m-10.95 1h10.95m-32.85 1h10.95m43.8 4h10.95m-87.6 5h10.95m0 0h10.95m10.95 2h10.95m-10.95 1h10.95m0 1h10.95m0 0h10.95m-10.95 1h10.95m10.95 1h10.95m-87.6 1h10.95m43.8 0h10.95m-10.95 1h10.95m-43.8 3h10.95m-10.95 1h10.95m10.95 9h10.95m-32.85 2h10.95m10.95 3h10.95m-10.95 1h10.95m-54.75 2h10.95m43.8 0h10.95m-10.95 1h10.95m-21.9 7h10.95m0 1h10.95m-65.7 6h10.95m54.75 0h10.95m-21.9 1h10.95m0 9h10.95m-10.95 1h10.95m-43.8 1h10.95m-10.95 1h10.95m10.95 6h10.95m-65.7 1h10.95m0 2h10.95m-10.95 1h10.95m10.95 0h10.95m-32.85 5h10.95m-10.95 1h10.95m10.95 1h10.95m-21.9 4h10.95m21.9 1h10.95m-10.95 1h10.95m-43.8 1h10.95m21.9 0h10.95m-10.95 1h10.95"/>
<path stroke="#a9c3ce" fill="none" d="M83.75 376.8h10.95m-10.95 1h10.95m-32.85 3h10.95m-21.9 1h10.95m10.95 0h10.95m0 0h10.95m0 1h10.95m-54.75 1h10.95m0 0h10.95m-10.95 1h10.95m0 -1h10.95m-32.85 1h10.95m-10.95 1h10.95m21.9 0h10.95m-43.8 1h10.95m0 1h10.95m-10.95 1h10.95m21.9 0h10.95m-10.95 3h10.95m-32.85 1h10.95m-21.9 2h10.95m10.95 0h10.95m-10.95 1h10.95m-54.75 1h10.95m10.95 1h10.95m10.95 0h10.95m0 2h10.95m-10.95 1h10.95m0 1h10.95m-10.95 2h10.95m-10.95 1h10.95m-54.75 0h10.95m-32.85 2h10.95m-10.95 1h10.95m10.95 -1h10.95m0 2h10.95m-32.85 2h10.95m43.8 0h10.95m-10.95 1h10.95m-65.7 1h10.95m32.85 0h10.95m-10.95 1h10.95m0 0h10.95m-65.7 2h10.95m10.95 1h10.95m10.95 0h10.95m-10.95 1h10.95m-54.75 0h10.95m0 2h10.95m-10.95 1h10.95m21.9 -1h10.95m-43.8 4h10.95m0 0h10.95m-32.85 1h10.95m-21.9 1h10.95m43.8 0h10.95m-65.7 2h10.95m-10.95 1h10.95m-0 -1h10.95m-21.9 2h10.95m10.95 1h10.95m-21.9 1h10.95m-10.95 1h10.95m10.95 -1h10.95m-43.8 1h10.95m-0 4h10.95m-10.95 1h10.95m21.9 0h10.95m-43.8 1h10.95m10.95 1h10.95m-21.9 1h10.95m32.85 1h10.95m-65.7 1h10.95m10.95 3h10.95m-21.9 2h10.95m0 1h10.95m-43.8 1h10.95m-0 1h10.95m21.9 0h10.95m-10.95 1h10.95m-10.95 9h10.95m0 2h10.95m0 3h10.95m-65.7 3h10.95m43.8 2h10.95m-10.95 4h10.95m-32.85 2h10.95m-10.95 1h10.95m-65.7 1h10.95m32.85 2h10.95m-21.9 1h10.95m-10.95 2h10.95m-10.95 1h10.95m0 0h10.95m-43.8 10h10.95m10.95 1h10.95m0 0h10.95m21.9 6h10.95m-10.95 1h10.95m-10.95 1h10.95m-76.65 2h10.95m32.85 1h10.95m-54.75 1h10.95m43.8 1h10.95m0 3h10.95m-87.6 1h10.95m-10.95 1h10.95m0 -1h10.95m-10.95 2h10.95m54.75 2h10.95m-43.8 2h10.95m10.95 5h10.95m-21.9 1h10.95m10.95 8h10.95m-76.65 1h10.95m-0 1h10.95m10.95 1h10.95m21.9 1h10.95m-10.95 1h10.95m-54.75 0h10.95m10.95 0h10.95m-65.7 4h10.95m65.7 0h10.95m-32.85 1h10.95m-43.8 2h10.95m-32.85 1h10.95m10.95 0h10.95m43.8 0h10.95m-43.8 1h10.95m0 2h10.95m-10.95 1h10.95m-43.8 0h10.95m-32.85 2h10.95m32.85 1h10.95m-10.95 1h10.95m21.9 1h10.95m-10.95 1h10.95m-76.65 2h10.95m-10.95 1h10.95m32.85 2h10.95m10.95 2h10.95m-10.95 1h10.95m-54.75 1h10.95m-32.85 1h10.95m-10.95 1h10.95m-10.95 2h10.95m32.85 4h10.95m-21.9 1h10.95m21.9 0h10.95m-54.75 2h10.95m32.85 0h10.95m-43.8 1h10.95m-10.95 1h10.95m-54.75 0h10.95m10.95 0h10.95m0 4h10.95m10.95 1h10.95m-54.75 1h10.95m10.95 0h10.95m10.95 1h10.95m-10.95 1h10.95m-65.7 0h10.95m0 0h10.95m10.95 3h10.95m10.95 0h10.95m10.95 0h10.95m-10.95 1h10.95m-54.75 0h10.95m-10.95 1h10.95m-43.8 0h10.95m10.95 0h10.95m10.95 0h10.95m-10.95 1h10.95m21.9 0h10.95m-43.8 1h10.95m-43.8 2h10.95m54.75 4h10.95m-32.85 6h10.95m-43.8 2h10.95m-10.95 1h10.95m10.95 0h10.95m-10.95 1h10.95m-43.8 1h10.95m-0 1h10.95m21.9 0h10.95m-10.95 1h10.95m-65.7 0h10.95m10.95 0h10.95m-10.95 2h10.95m0 1h10.95m-10.95 1h10.95m0 0h10.95m-10.95 1h10.95m-54.75 1h10.95m0 1h10.95m-10.95 1h10.95m21.9 1h10.95m10.95 1h10.95m-32.85 3h10.95m0 1h10.95m-21.9 1h10.95m-10.95 1h10.95m0 0h10.95m0 2h10.95m-54.75 1h10.95m10.95 1h10.95m-54.75 1h10.95m32.85 0h10.95m-21.9 1h10.95m10.95 0h10.95m-43.8 4h10.95m10.95 2h10.95m-10.95 1h10.95m0 -1h10.95m-10.95 1h10.95m-10.95 2h10.95m-10.95 1h10.95m-21.9 1h10.95m-10.95 3h10.95m-10.95 1h10.95m0 4h10.95m0 0h10.95m-32.85 3h10.95m10.95 0h10.95m-21.9 3h10.95m0 0h10.95m-65.7 1h10.95m10.95 0h10.95m-10.95 1h10.95m21.9 -1h10.95m-54.75 2h10.95m21.9 0h10.95m-65.7 1h10.95m43.8 0h10.95m-10.95 1h10.95m0 0h10.95m-21.9 1h10.95m-10.95 2h10.95m0 0h10.95m-54.75 1h10.95m0 0h10.95m10.95 1h10.95m0 0h10.95m-10.95 1h10.95m-65.7 0h10.95m-0 1h10.95m32.85 1h10.95m-65.7 2h10.95m-10.95 1h10.95m-0 -1h10.95m-21.9 3h10.95m10.95 1h10.95"/>
<path stroke="#ddbd94" fill="none" d="M61.85 403.8h10.95m-10.95 4h10.95m-10.95 1h10.95m-32.85 1h10.95m-10.95 1h10.95m32.85 3h10.95m10.95 9h10.95m-32.85 4h10.95m-10.95 1h10.95m-43.8 2h10.95m21.9 5h10.95m-32.85 7h10.95m10.95 2h10.95m-10.95 26h10.95m-65.7 40h10.95m-10.95 46h10.95m0 5h10.95m-10.95 1h10.95m-10.95 6h10.95m10.95 35h10.95m-21.9 13h10.95m-10.95 1h10.95m10.95 13h10.95m-10.95 1h10.95"/>
<path stroke="#c9c4b4" fill="none" d="M72.8 379.8h10.95m-10.95 1h10.95m-32.85 2h10.95m32.85 1h10.95m-10.95 1h10.95m-21.9 4h10.95m10.95 0h10.95m-10.95 7h10.95m-76.65 6h10.95m-0 0h10.95m43.8 1h10.95m-54.75 10h10.95m0 3h10.95m21.9 0h10.95m-54.75 2h10.95m32.85 1h10.95m-32.85 2h10.95m-10.95 1h10.95m-32.85 5h10.95m-10.95 1h10.95m21.9 0h10.95m0 0h10.95m-32.85 1h10.95m-32.85 3h10.95m32.85 3h10.95m-54.75 1h10.95m32.85 0h10.95m-76.65 1h10.95m-10.95 4h10.95m10.95 2h10.95m-10.95 1h10.95m0 1h10.95m21.9 0h10.95m-43.8 7h10.95m10.95 3h10.95m-10.95 5h10.95m-43.8 3h10.95m0 0h10.95m0 4h10.95m-10.95 2h10.95m0 5h10.95m-10.95 1h10.95m-10.95 2h10.95m-21.9 2h10.95m-10.95 1h10.95m-21.9 0h10.95m21.9 3h10.95m-10.95 1h10.95m-76.65 0h10.95m32.85 4h10.95m-21.9 2h10.95m0 3h10.95m0 4h10.95m-10.95 1h10.95m0 1h10.95m-10.95 1h10.95m-54.75 1h10.95m-10.95 1h10.95m-10.95 1h10.95m21.9 0h10.95m-43.8 5h10.95m-21.9 2h10.95m43.8 4h10.95m-65.7 2h10.95m0 19h10.95m-21.9 1h10.95m-10.95 1h10.95m0 0h10.95m-21.9 1h10.95m43.8 2h10.95m-43.8 4h10.95m21.9 0h10.95m-54.75 7h10.95m-10.95 1h10.95m-10.95 1h10.95m-10.95 1h10.95m10.95 4h10.95m-65.7 1h10.95m10.95 0h10.95m-10.95 1h10.95m21.9 2h10.95m-32.85 1h10.95m-10.95 1h10.95m-21.9 5h10.95m0 0h10.95m-10.95 1h10.95m-21.9 6h10.95m0 2h10.95m10.95 6h10.95m10.95 0h10.95m-87.6 1h10.95m43.8 8h10.95m-10.95 2h10.95m-43.8 1h10.95m-32.85 1h10.95m10.95 3h10.95m-21.9 6h10.95m-10.95 1h10.95m21.9 3h10.95m-21.9 3h10.95m10.95 0h10.95m-10.95 5h10.95m-32.85 1h10.95m21.9 1h10.95m-54.75 3h10.95m10.95 3h10.95m-21.9 9h10.95m-32.85 2h10.95m-0 4h10.95m32.85 2h10.95m-54.75 7h10.95m21.9 2h10.95m-32.85 1h10.95m10.95 1h10.95m-10.95 3h10.95m-54.75 5h10.95m21.9 2h10.95m-54.75 1h10.95m10.95 2h10.95m0 2h10.95m-10.95 2h10.95m-10.95 5h10.95"/>
<path stroke="#c2c6be" fill="none" d="M61.85 379.8h10.95m-10.95 2h10.95m-32.85 1h10.95m10.95 7h10.95m10.95 0h10.95m-10.95 1h10.95m10.95 -1h10.95m-10.95 1h10.95m-54.75 3h10.95m21.9 2h10.95m-10.95 1h10.95m-21.9 0h10.95m10.95 0h10.95m-10.95 1h10.95m-43.8 0h10.95m-10.95 1h10.95m0 0h10.95m-21.9 3h10.95m-10.95 1h10.95m0 -1h10.95m-10.95 3h10.95m-10.95 1h10.95m-10.95 2h10.95m-43.8 1h10.95m-10.95 1h10.95m43.8 -1h10.95m-10.95 1h10.95m-43.8 0h10.95m-21.9 1h10.95m10.95 0h10.95m-10.95 1h10.95m-10.95 1h10.95m-54.75 0h10.95m-10.95 1h10.95m54.75 1h10.95m-10.95 2h10.95m-43.8 4h10.95m21.9 0h10.95m-65.7 3h10.95m32.85 0h10.95m-32.85 3h10.95m-43.8 4h10.95m10.95 3h10.95m-10.95 1h10.95m-21.9 1h10.95m0 2h10.95m32.85 0h10.95m-43.8 1h10.95m10.95 2h10.95m-10.95 3h10.95m-21.9 1h10.95m0 0h10.95m-21.9 3h10.95m0 1h10.95m-10.95 1h10.95m-32.85 0h10.95m-10.95 1h10.95m-21.9 0h10.95m-10.95 1h10.95m-10.95 1h10.95m10.95 0h10.95m10.95 0h10.95m-10.95 1h10.95m-65.7 0h10.95m21.9 2h10.95m-10.95 1h10.95m-43.8 3h10.95m21.9 0h10.95m-21.9 5h10.95m-10.95 4h10.95m-10.95 1h10.95m-21.9 2h10.95m0 0h10.95m0 0h10.95m0 0h10.95m-43.8 1h10.95m0 0h10.95m0 2h10.95m-10.95 1h10.95m-54.75 0h10.95m43.8 2h10.95m-43.8 2h10.95m10.95 1h10.95m10.95 0h10.95m-54.75 2h10.95m21.9 0h10.95m-21.9 1h10.95m-10.95 1h10.95m0 0h10.95m-10.95 1h10.95m-21.9 0h10.95m10.95 2h10.95m-32.85 3h10.95m-32.85 3h10.95m-10.95 1h10.95m10.95 2h10.95m-32.85 1h10.95m0 1h10.95m-10.95 1h10.95m10.95 0h10.95m-10.95 1h10.95m-21.9 3h10.95m-32.85 1h10.95m-10.95 1h10.95m32.85 -1h10.95m-32.85 1h10.95m-54.75 1h10.95m10.95 0h10.95m10.95 4h10.95m10.95 0h10.95m-21.9 4h10.95m-10.95 1h10.95m-32.85 1h10.95m0 0h10.95m-54.75 3h10.95m-10.95 1h10.95m-0 -1h10.95m32.85 0h10.95m-10.95 1h10.95m-10.95 1h10.95m0 0h10.95m-65.7 1h10.95m-21.9 2h10.95m-10.95 1h10.95m43.8 -1h10.95m-10.95 1h10.95m-21.9 0h10.95m-43.8 1h10.95m-10.95 1h10.95m10.95 1h10.95m-32.85 1h10.95m-10.95 1h10.95m32.85 -1h10.95m-65.7 1h10.95m43.8 0h10.95m-54.75 1h10.95m43.8 0h10.95m-10.95 2h10.95m-43.8 9h10.95m0 3h10.95m-10.95 1h10.95m-10.95 1h10.95m-21.9 2h10.95m-43.8 1h10.95m54.75 3h10.95m-54.75 1h10.95m-21.9 1h10.95m0 0h10.95m32.85 4h10.95m-10.95 1h10.95m-65.7 0h10.95m43.8 1h10.95m-32.85 3h10.95m-10.95 1h10.95m10.95 1h10.95m-54.75 1h10.95m-10.95 4h10.95m32.85 0h10.95m-32.85 5h10.95m-10.95 2h10.95m-10.95 2h10.95m-10.95 1h10.95m10.95 -1h10.95m-87.6 1h10.95m65.7 0h10.95m-10.95 1h10.95m-87.6 1h10.95m32.85 1h10.95m-10.95 1h10.95m21.9 -1h10.95m-10.95 1h10.95m-54.75 1h10.95m-10.95 5h10.95m-10.95 1h10.95m-21.9 1h10.95m0 2h10.95m-10.95 2h10.95m-10.95 2h10.95m32.85 0h10.95m-32.85 1h10.95m-43.8 1h10.95m21.9 0h10.95m-54.75 1h10.95m43.8 1h10.95m-10.95 1h10.95m-10.95 2h10.95m-10.95 1h10.95m-54.75 5h10.95m21.9 4h10.95m-32.85 1h10.95m-10.95 2h10.95m-10.95 1h10.95m10.95 2h10.95m0 1h10.95m-43.8 1h10.95m-21.9 1h10.95m0 0h10.95m-21.9 3h10.95m21.9 0h10.95m-32.85 3h10.95m0 2h10.95m-32.85 1h10.95m21.9 0h10.95m-10.95 1h10.95m-10.95 2h10.95m-10.95 1h10.95m-65.7 5h10.95m54.75 4h10.95m-43.8 2h10.95m21.9 1h10.95m-10.95 1h10.95m-54.75 1h10.95m-10.95 1h10.95m10.95 0h10.95m-32.85 1h10.95m32.85 2h10.95m-32.85 5h10.95m-21.9 3h10.95m10.95 1h10.95m0 0h10.95m-65.7 5h10.95m43.8 4h10.95m-10.95 1h10.95m-21.9 0h10.95m-10.95 1h10.95"/>
<path stroke="#eaaa5d" fill="none" d="M39.95 450.8h10.95"/>
<path stroke="#e3b478" fill="none" d="M61.85 413.8h10.95m21.9 120h10.95m-10.95 1h10.95"/>
<path stroke="#f0a041" fill="none" d="M105.65 674.8h10.95"/>
<rect x="94.70" y="376.30" width="10.95" height="3.20" fill="#e89a55"/>
<text x="24.10" y="527.20" font-size="9.8" text-anchor="middle" stroke="#2b2b2b" textLength="141" lengthAdjust="spacingAndGlyphs" transform="rotate(-90 24.10 527.20)">Subset-specific accessible peaks (n = 26,437)</text>
<text x="32.00" y="688.20" font-size="7.6" stroke="#2b2b2b" textLength="8.2" lengthAdjust="spacingAndGlyphs">C1</text>
<line x1="43.50" y1="685.50" x2="100.50" y2="685.50" stroke="#222" stroke-width="0.8"/>
<polygon points="103,685.5 98.5,683.6 98.5,687.4" fill="#222"/>
<text x="104.50" y="688.20" font-size="7.6" stroke="#2b2b2b" textLength="8.2" lengthAdjust="spacingAndGlyphs">C8</text>
<path d="M121.6 378.3V682.5M121.6 377.3H124.8M121.6 382.9H124.8M121.6 388.6H124.8M121.6 394.2H124.8M121.6 399.8H124.8M121.6 405.4H124.8M121.6 411.1H124.8M121.6 416.7H124.8M121.6 422.3H124.8M121.6 427.9H124.8M121.6 433.6H124.8M121.6 439.2H124.8M121.6 444.8H124.8M121.6 450.5H124.8M121.6 456.3H124.8M121.6 462.0H124.8M121.6 467.8H124.8M121.6 473.5H124.8M121.6 479.3H124.8M121.6 485.0H124.8M121.6 490.8H124.8M121.6 496.5H124.8M121.6 502.3H124.8M121.6 508.0H124.8M121.6 513.9H124.8M121.6 519.9H124.8M121.6 525.8H124.8M121.6 531.6H124.8M121.6 537.3H124.8M121.6 543.1H124.8M121.6 548.8H124.8M121.6 554.6H124.8M121.6 560.4H124.8M121.6 566.3H124.8M121.6 572.1H124.8M121.6 578.0H124.8M121.6 583.8H124.8M121.6 589.7H124.8M121.6 595.5H124.8M121.6 601.4H124.8M121.6 607.2H124.8M121.6 613.1H124.8M121.6 618.9H124.8M121.6 624.8H124.8M121.6 630.7H124.8M121.6 636.5H124.8M121.6 642.4H124.8M121.6 648.3H124.8M121.6 654.2H124.8M121.6 660.0H124.8M121.6 665.9H124.8M121.6 671.8H124.8M121.6 677.6H124.8M121.6 683.5H124.8M118.6 391H121.6M118.6 396H121.6M118.6 405H121.6M118.6 426H121.6M118.6 429H121.6M118.6 432H121.6M118.6 436H121.6M118.6 444H121.6M118.6 456H121.6M118.6 463H121.6M118.6 470H121.6M118.6 486H121.6M118.6 492H121.6M118.6 505H121.6M118.6 514H121.6M118.6 521H121.6M118.6 528H121.6M118.6 537H121.6M118.6 548H121.6M118.6 560H121.6M118.6 571H121.6M118.6 583H121.6M118.6 594H121.6M118.6 604H121.6M118.6 613H121.6M118.6 622H121.6M118.6 631H121.6M118.6 642H121.6M118.6 651H121.6M118.6 660H121.6M118.6 668H121.6M118.6 673H121.6M118.6 677H121.6" fill="none" stroke="#111" stroke-width="0.8"/>
<path d="M120.4 426L122.2 470M120.6 480L122.4 560M120.8 600L122.4 682M120.8 378.5Q119.5 391 121.2 411" fill="none" stroke="#111" stroke-width="1.3"/>
<text x="127.40" y="379.30" font-size="5.8" fill="#b0335e" stroke="#b0335e" font-style="italic" style="stroke-width:0">IL18R1</text>
<text x="127.40" y="384.93" font-size="5.8" fill="#b0335e" stroke="#b0335e" font-style="italic" style="stroke-width:0">CLEC18B</text>
<text x="127.40" y="390.55" font-size="5.8" fill="#b0335e" stroke="#b0335e" font-style="italic" style="stroke-width:0">GPR33</text>
<text x="127.40" y="396.18" font-size="5.8" fill="#b0335e" stroke="#b0335e" font-style="italic" style="stroke-width:0">S100A12</text>
<text x="127.40" y="401.80" font-size="5.8" fill="#b0335e" stroke="#b0335e" font-style="italic" style="stroke-width:0">GSTM1</text>
<text x="127.40" y="407.43" font-size="5.8" fill="#b0335e" stroke="#b0335e" font-style="italic" style="stroke-width:0">GPBAR1</text>
<text x="127.40" y="413.05" font-size="5.8" fill="#b0335e" stroke="#b0335e" font-style="italic" style="stroke-width:0">CCL15</text>
<text x="127.40" y="418.68" font-size="5.8" fill="#1a1a1a" stroke="#1a1a1a" font-style="italic" style="stroke-width:0">FUT2</text>
<text x="127.40" y="424.30" font-size="5.8" fill="#1a1a1a" stroke="#1a1a1a" font-style="italic" style="stroke-width:0">GATA1</text>
<text x="127.40" y="429.93" font-size="5.8" fill="#1a1a1a" stroke="#1a1a1a" font-style="italic" style="stroke-width:0">YY2</text>
<text x="127.40" y="435.55" font-size="5.8" fill="#1a1a1a" stroke="#1a1a1a" font-style="italic" style="stroke-width:0">SPINK7</text>
<text x="127.40" y="441.18" font-size="5.8" fill="#1a1a1a" stroke="#1a1a1a" font-style="italic" style="stroke-width:0">HOXA2</text>
<text x="127.40" y="446.80" font-size="5.8" fill="#3b3b8f" stroke="#3b3b8f" font-style="italic" style="stroke-width:0">NLE3</text>
<text x="127.40" y="452.55" font-size="5.8" fill="#3b3b8f" stroke="#3b3b8f" font-style="italic" style="stroke-width:0">NOTCH2NLA</text>
<text x="127.40" y="458.29" font-size="5.8" fill="#3b3b8f" stroke="#3b3b8f" font-style="italic" style="stroke-width:0">DTX3</text>
<text x="127.40" y="464.04" font-size="5.8" fill="#1a1a1a" stroke="#1a1a1a" font-style="italic" style="stroke-width:0">TMOD4</text>
<text x="127.40" y="469.78" font-size="5.8" fill="#eda55a" stroke="#eda55a" font-style="italic" style="stroke-width:0">SSTR5</text>
<text x="127.40" y="475.53" font-size="5.8" fill="#eda55a" stroke="#eda55a" font-style="italic" style="stroke-width:0">OR51D1</text>
<text x="127.40" y="481.27" font-size="5.8" fill="#eda55a" stroke="#eda55a" font-style="italic" style="stroke-width:0">TAS2R30</text>
<text x="127.40" y="487.02" font-size="5.8" fill="#eda55a" stroke="#eda55a" font-style="italic" style="stroke-width:0">TAAR8</text>
<text x="127.40" y="492.76" font-size="5.8" fill="#eda55a" stroke="#eda55a" font-style="italic" style="stroke-width:0">CCL7</text>
<text x="127.40" y="498.51" font-size="5.8" fill="#eda55a" stroke="#eda55a" font-style="italic" style="stroke-width:0">TAS2R43</text>
<text x="127.40" y="504.25" font-size="5.8" fill="#eda55a" stroke="#eda55a" font-style="italic" style="stroke-width:0">S1PR5</text>
<text x="127.40" y="510.00" font-size="5.8" fill="#1a1a1a" stroke="#1a1a1a" font-style="italic" style="stroke-width:0">ROS1</text>
<text x="127.40" y="515.93" font-size="5.8" fill="#1a1a1a" stroke="#1a1a1a" font-style="italic" style="stroke-width:0">NPY</text>
<text x="127.40" y="521.87" font-size="5.8" fill="#1a1a1a" stroke="#1a1a1a" font-style="italic" style="stroke-width:0">DLX5</text>
<text x="127.40" y="527.80" font-size="5.8" fill="#1a1a1a" stroke="#1a1a1a" font-style="italic" style="stroke-width:0">ADAM7</text>
<text x="127.40" y="533.56" font-size="5.8" fill="#1a1a1a" stroke="#1a1a1a" font-style="italic" style="stroke-width:0">TRHR</text>
<text x="127.40" y="539.32" font-size="5.8" fill="#1a1a1a" stroke="#1a1a1a" font-style="italic" style="stroke-width:0">GRP</text>
<text x="127.40" y="545.08" font-size="5.8" fill="#1a1a1a" stroke="#1a1a1a" font-style="italic" style="stroke-width:0">DRD2</text>
<text x="127.40" y="550.84" font-size="5.8" fill="#ea6d3f" stroke="#ea6d3f" font-style="italic" style="stroke-width:0">PCDHB4</text>
<text x="127.40" y="556.60" font-size="5.8" fill="#ea6d3f" stroke="#ea6d3f" font-style="italic" style="stroke-width:0">SELE</text>
<text x="127.40" y="562.44" font-size="5.8" fill="#ea6d3f" stroke="#ea6d3f" font-style="italic" style="stroke-width:0">APOA4</text>
<text x="127.40" y="568.29" font-size="5.8" fill="#ea6d3f" stroke="#ea6d3f" font-style="italic" style="stroke-width:0">PCDHA9</text>
<text x="127.40" y="574.13" font-size="5.8" fill="#ea6d3f" stroke="#ea6d3f" font-style="italic" style="stroke-width:0">UMOD</text>
<text x="127.40" y="579.98" font-size="5.8" fill="#ea6d3f" stroke="#ea6d3f" font-style="italic" style="stroke-width:0">COL17A1</text>
<text x="127.40" y="585.82" font-size="5.8" fill="#ea6d3f" stroke="#ea6d3f" font-style="italic" style="stroke-width:0">PCDHA9</text>
<text x="127.40" y="591.67" font-size="5.8" fill="#1a1a1a" stroke="#1a1a1a" font-style="italic" style="stroke-width:0">CLDN8</text>
<text x="127.40" y="597.51" font-size="5.8" fill="#1a1a1a" stroke="#1a1a1a" font-style="italic" style="stroke-width:0">IGSF5</text>
<text x="127.40" y="603.36" font-size="5.8" fill="#1a1a1a" stroke="#1a1a1a" font-style="italic" style="stroke-width:0">SMOC2</text>
<text x="127.40" y="609.20" font-size="5.8" fill="#1a1a1a" stroke="#1a1a1a" font-style="italic" style="stroke-width:0">RMST</text>
<text x="127.40" y="615.07" font-size="5.8" fill="#1a1a1a" stroke="#1a1a1a" font-style="italic" style="stroke-width:0">GABRE</text>
<text x="127.40" y="620.94" font-size="5.8" fill="#eda55a" stroke="#eda55a" font-style="italic" style="stroke-width:0">RLN2</text>
<text x="127.40" y="626.81" font-size="5.8" fill="#1a1a1a" stroke="#1a1a1a" font-style="italic" style="stroke-width:0">PDX1</text>
<text x="127.40" y="632.68" font-size="5.8" fill="#1a1a1a" stroke="#1a1a1a" font-style="italic" style="stroke-width:0">VAX1</text>
<text x="127.40" y="638.55" font-size="5.8" fill="#3f86cf" stroke="#3f86cf" font-style="italic" style="stroke-width:0">KRT6C</text>
<text x="127.40" y="644.42" font-size="5.8" fill="#3f86cf" stroke="#3f86cf" font-style="italic" style="stroke-width:0">SPRR3</text>
<text x="127.40" y="650.28" font-size="5.8" fill="#3f86cf" stroke="#3f86cf" font-style="italic" style="stroke-width:0">MYH1</text>
<text x="127.40" y="656.15" font-size="5.8" fill="#3f86cf" stroke="#3f86cf" font-style="italic" style="stroke-width:0">LCE2D</text>
<text x="127.40" y="662.02" font-size="5.8" fill="#3f86cf" stroke="#3f86cf" font-style="italic" style="stroke-width:0">LCE4A</text>
<text x="127.40" y="667.89" font-size="5.8" fill="#3f86cf" stroke="#3f86cf" font-style="italic" style="stroke-width:0">PCDHA12</text>
<text x="127.40" y="673.76" font-size="5.8" fill="#1a1a1a" stroke="#1a1a1a" font-style="italic" style="stroke-width:0">DNASE1L2</text>
<text x="127.40" y="679.63" font-size="5.8" fill="#1a1a1a" stroke="#1a1a1a" font-style="italic" style="stroke-width:0">HRNR</text>
<text x="127.40" y="685.50" font-size="5.8" fill="#1a1a1a" stroke="#1a1a1a" font-style="italic" style="stroke-width:0">CCL13</text>
<line x1="165.40" y1="376.00" x2="165.40" y2="411.50" stroke="#777" stroke-width="0.8"/>
<text x="168.30" y="392.20" font-size="7.6" fill="#b0335e" stroke="#b0335e" textLength="18" lengthAdjust="spacingAndGlyphs" style="stroke-width:0.05px">Innate</text>
<text x="168.30" y="400.30" font-size="7.6" fill="#b0335e" stroke="#b0335e" textLength="27.5" lengthAdjust="spacingAndGlyphs" style="stroke-width:0.05px">immunity</text>
<line x1="165.40" y1="443.00" x2="165.40" y2="457.50" stroke="#3b3b7f" stroke-width="0.8"/>
<text x="168.30" y="449.20" font-size="7.6" fill="#3d3d78" stroke="#3d3d78" textLength="18.5" lengthAdjust="spacingAndGlyphs" style="stroke-width:0.05px">Notch</text>
<text x="168.30" y="457.30" font-size="7.6" fill="#3d3d78" stroke="#3d3d78" textLength="27" lengthAdjust="spacingAndGlyphs" style="stroke-width:0.05px">signaling</text>
<line x1="165.40" y1="466.00" x2="165.40" y2="504.00" stroke="#777" stroke-width="0.8"/>
<text x="168.30" y="478.50" font-size="7.6" fill="#eda55a" stroke="#eda55a" textLength="18" lengthAdjust="spacingAndGlyphs" style="stroke-width:0.05px">GPCR</text>
<text x="168.30" y="486.60" font-size="7.6" fill="#eda55a" stroke="#eda55a" textLength="18.5" lengthAdjust="spacingAndGlyphs" style="stroke-width:0.05px">ligand</text>
<text x="168.30" y="494.70" font-size="7.6" fill="#eda55a" stroke="#eda55a" textLength="23" lengthAdjust="spacingAndGlyphs" style="stroke-width:0.05px">binding</text>
<line x1="165.40" y1="546.80" x2="165.40" y2="585.40" stroke="#555" stroke-width="0.8"/>
<text x="168.30" y="568.50" font-size="7.6" fill="#ea6d3f" stroke="#ea6d3f" textLength="28" lengthAdjust="spacingAndGlyphs" style="stroke-width:0.05px">Adhesion</text>
<line x1="165.40" y1="634.60" x2="165.40" y2="667.30" stroke="#3b3b6f" stroke-width="0.8"/>
<text x="168.30" y="653.60" font-size="7.6" fill="#3f86cf" stroke="#3f86cf" textLength="43" lengthAdjust="spacingAndGlyphs" style="stroke-width:0.05px">Differentiation</text>
<text x="290.60" y="381.10" font-size="7.6" text-anchor="middle" stroke="#2b2b2b" textLength="93.5" lengthAdjust="spacingAndGlyphs">chr2:102,261,528–102,411,529</text>
<rect x="222.20" y="385.20" width="122.20" height="81.48" fill="#fff" stroke="#444" stroke-width="0.9"/>
<line x1="236.40" y1="385.20" x2="236.40" y2="466.68" stroke="#444" stroke-width="0.9"/>
<text x="224.50" y="393.82" font-size="7.6" stroke="#2b2b2b" textLength="9" lengthAdjust="spacingAndGlyphs">C1</text>
<path d="M237.9 395.9v-0.7m0 0.7m0.8 0v-0.6m0 0.6m0.8 0v-0.5m0 0.5m0.8 0v-0.9m0 0.9m0.8 0v-0.4m0 0.4m0.8 0v-0.7m0 0.7m0.8 0v-0.9m0 0.9m0.8 0v-0.4m0 0.4m0.8 0v-0.7m0 0.7m0.8 0v-0.8m0 0.8m0.8 0v-0.4m0 0.4m0.8 0v-0.6m0 0.6m0.8 0v-0.8m0 0.8m0.8 0v-0.7m0 0.7m0.8 0v-0.8m0 0.8m0.8 0v-0.7m0 0.7m0.8 0v-4.3m0 4.3m0.8 0v-4.4m0 4.4m0.8 0v-0.9m0 0.9m0.8 0v-0.8m0 0.8m0.8 0v-0.6m0 0.6m0.8 0v-0.8m0 0.8m0.8 0v-0.8m0 0.8m0.8 0v-0.7m0 0.7m0.8 0v-0.7m0 0.7m0.8 0v-0.7m0 0.7m0.8 0v-3.8m0 3.8m0.8 0v-3.6m0 3.6m0.8 0v-5m0 5m0.8 0v-1.3m0 1.3m0.8 0v-3.8m0 3.8m0.8 0v-1m0 1m0.8 0v-2.9m0 2.9m0.8 0v-2.5m0 2.5m0.8 0v-1.3m0 1.3m0.8 0v-1.7m0 1.7m0.8 0v-5.2m0 5.2m0.8 0v-4.5m0 4.5m0.8 0v-1.8m0 1.8m0.8 0v-1m0 1m0.8 0v-0.8m0 0.8m0.8 0v-1.4m0 1.4m0.8 0v-1m0 1m0.8 0v-9m0 9m0.8 0v-9.3m0 9.3m0.8 0v-1.6m0 1.6m0.8 0v-0.9m0 0.9m0.8 0v-0.8m0 0.8m0.8 0v-0.7m0 0.7m0.8 0v-0.6m0 0.6m0.8 0v-1m0 1m0.8 0v-0.7m0 0.7m0.8 0v-0.4m0 0.4m0.8 0v-0.9m0 0.9m0.8 0v-0.6m0 0.6m0.8 0v-0.7m0 0.7m0.8 0v-0.5m0 0.5m0.8 0v-0.7m0 0.7m0.8 0v-0.6m0 0.6m0.8 0v-0.5m0 0.5m0.8 0v-0.8m0 0.8m0.8 0v-0.5m0 0.5m0.8 0v-0.9m0 0.9m0.8 0v-0.4m0 0.4m0.8 0v-0.9m0 0.9m0.8 0v-0.9m0 0.9m0.8 0v-0.7m0 0.7m0.8 0v-1m0 1m0.8 0v-1.3m0 1.3m0.8 0v-6.9m0 6.9m0.8 0v-1.2m0 1.2m0.8 0v-1.2m0 1.2m0.8 0v-0.8m0 0.8m0.8 0v-0.5m0 0.5m0.8 0v-0.9m0 0.9m0.8 0v-0.6m0 0.6m0.8 0v-0.4m0 0.4m0.8 0v-1m0 1m0.8 0v-0.5m0 0.5m0.8 0v-1m0 1m0.8 0v-1m0 1m0.8 0v-0.4m0 0.4m0.8 0v-3.3m0 3.3m0.8 0v-3.2m0 3.2m0.8 0v-1.5m0 1.5m0.8 0v-1.4m0 1.4m0.8 0v-0.7m0 0.7m0.8 0v-0.9m0 0.9m0.8 0v-0.9m0 0.9m0.8 0v-0.7m0 0.7m0.8 0v-0.9m0 0.9m0.8 0v-2.2m0 2.2m0.8 0v-2.6m0 2.6m0.8 0v-0.7m0 0.7m0.8 0v-0.9m0 0.9m0.8 0v-0.8m0 0.8m0.8 0v-0.8m0 0.8m0.8 0v-0.5m0 0.5m0.8 0v-1m0 1m0.8 0v-1m0 1m0.8 0v-0.4m0 0.4m0.8 0v-1m0 1m0.8 0v-0.9m0 0.9m0.8 0v-0.7m0 0.7m0.8 0v-0.7m0 0.7m0.8 0v-0.7m0 0.7m0.8 0v-0.9m0 0.9m0.8 0v-0.4m0 0.4m0.8 0v-0.8m0 0.8m0.8 0v-0.7m0 0.7m0.8 0v-0.6m0 0.6m0.8 0v-0.8m0 0.8m0.8 0v-0.8m0 0.8m0.8 0v-0.5m0 0.5m0.8 0v-0.8m0 0.8m0.8 0v-0.7m0 0.7m0.8 0v-1.1m0 1.1m0.8 0v-1.1m0 1.1m0.8 0v-4.8m0 4.8m0.8 0v-1.3m0 1.3m0.8 0v-1.1m0 1.1m0.8 0v-0.9m0 0.9m0.8 0v-0.4m0 0.4m0.8 0v-0.8m0 0.8m0.8 0v-0.8m0 0.8m0.8 0v-0.8m0 0.8m0.8 0v-0.6m0 0.6m0.8 0v-0.9m0 0.9m0.8 0v-2.9m0 2.9m0.8 0v-0.8m0 0.8m0.8 0v-0.7m0 0.7m0.8 0v-0.9m0 0.9" fill="none" stroke="#c8202a" stroke-width="0.8"/><line x1="237.4" y1="395.9" x2="343.4" y2="395.9" stroke="#c8202a" stroke-width="0.8"/>
<line x1="222.20" y1="396.84" x2="344.40" y2="396.84" stroke="#444" stroke-width="0.9"/>
<text x="224.50" y="405.46" font-size="7.6" stroke="#2b2b2b" textLength="9" lengthAdjust="spacingAndGlyphs">C2</text>
<path d="M237.9 407.6v-0.6m0 0.6m0.8 0v-0.9m0 0.9m0.8 0v-0.4m0 0.4m0.8 0v-1m0 1m0.8 0v-0.8m0 0.8m0.8 0v-1m0 1m0.8 0v-1m0 1m0.8 0v-0.9m0 0.9m0.8 0v-0.5m0 0.5m0.8 0v-0.6m0 0.6m0.8 0v-0.5m0 0.5m0.8 0v-0.9m0 0.9m0.8 0v-0.5m0 0.5m0.8 0v-0.5m0 0.5m0.8 0v-0.5m0 0.5m0.8 0v-0.9m0 0.9m0.8 0v-2.4m0 2.4m0.8 0v-2.5m0 2.5m0.8 0v-0.7m0 0.7m0.8 0v-0.8m0 0.8m0.8 0v-0.6m0 0.6m0.8 0v-0.7m0 0.7m0.8 0v-0.5m0 0.5m0.8 0v-0.7m0 0.7m0.8 0v-1m0 1m0.8 0v-1m0 1m0.8 0v-3.1m0 3.1m0.8 0v-3.1m0 3.1m0.8 0v-1.9m0 1.9m0.8 0v-0.9m0 0.9m0.8 0v-3m0 3m0.8 0v-0.9m0 0.9m0.8 0v-3.8m0 3.8m0.8 0v-3.1m0 3.1m0.8 0v-1.1m0 1.1m0.8 0v-0.7m0 0.7m0.8 0v-4m0 4m0.8 0v-4.3m0 4.3m0.8 0v-1.2m0 1.2m0.8 0v-0.8m0 0.8m0.8 0v-0.8m0 0.8m0.8 0v-0.6m0 0.6m0.8 0v-0.8m0 0.8m0.8 0v-1.8m0 1.8m0.8 0v-1.7m0 1.7m0.8 0v-0.6m0 0.6m0.8 0v-0.7m0 0.7m0.8 0v-0.7m0 0.7m0.8 0v-0.9m0 0.9m0.8 0v-0.6m0 0.6m0.8 0v-0.9m0 0.9m0.8 0v-0.7m0 0.7m0.8 0v-0.5m0 0.5m0.8 0v-0.8m0 0.8m0.8 0v-0.6m0 0.6m0.8 0v-0.7m0 0.7m0.8 0v-0.4m0 0.4m0.8 0v-0.4m0 0.4m0.8 0v-1m0 1m0.8 0v-0.4m0 0.4m0.8 0v-0.5m0 0.5m0.8 0v-0.5m0 0.5m0.8 0v-0.5m0 0.5m0.8 0v-0.9m0 0.9m0.8 0v-1m0 1m0.8 0v-0.8m0 0.8m0.8 0v-0.6m0 0.6m0.8 0v-0.9m0 0.9m0.8 0v-0.5m0 0.5m0.8 0v-0.8m0 0.8m0.8 0v-0.6m0 0.6m0.8 0v-0.5m0 0.5m0.8 0v-0.9m0 0.9m0.8 0v-0.7m0 0.7m0.8 0v-0.4m0 0.4m0.8 0v-0.8m0 0.8m0.8 0v-0.4m0 0.4m0.8 0v-0.7m0 0.7m0.8 0v-0.9m0 0.9m0.8 0v-0.8m0 0.8m0.8 0v-0.9m0 0.9m0.8 0v-0.6m0 0.6m0.8 0v-1.8m0 1.8m0.8 0v-1.8m0 1.8m0.8 0v-2.9m0 2.9m0.8 0v-2.8m0 2.8m0.8 0v-0.8m0 0.8m0.8 0v-0.5m0 0.5m0.8 0v-0.7m0 0.7m0.8 0v-0.9m0 0.9m0.8 0v-0.5m0 0.5m0.8 0v-1m0 1m0.8 0v-1m0 1m0.8 0v-0.8m0 0.8m0.8 0v-0.9m0 0.9m0.8 0v-2m0 2m0.8 0v-2m0 2m0.8 0v-1m0 1m0.8 0v-0.6m0 0.6m0.8 0v-0.9m0 0.9m0.8 0v-1m0 1m0.8 0v-0.5m0 0.5m0.8 0v-0.7m0 0.7m0.8 0v-1m0 1m0.8 0v-0.7m0 0.7m0.8 0v-0.8m0 0.8m0.8 0v-1m0 1m0.8 0v-0.5m0 0.5m0.8 0v-0.4m0 0.4m0.8 0v-0.9m0 0.9m0.8 0v-0.7m0 0.7m0.8 0v-0.5m0 0.5m0.8 0v-0.9m0 0.9m0.8 0v-0.6m0 0.6m0.8 0v-0.5m0 0.5m0.8 0v-0.6m0 0.6m0.8 0v-0.4m0 0.4m0.8 0v-0.9m0 0.9m0.8 0v-1m0 1m0.8 0v-0.5m0 0.5m0.8 0v-0.7m0 0.7m0.8 0v-0.8m0 0.8m0.8 0v-0.7m0 0.7m0.8 0v-0.7m0 0.7m0.8 0v-0.9m0 0.9m0.8 0v-0.9m0 0.9m0.8 0v-1m0 1m0.8 0v-0.6m0 0.6m0.8 0v-0.8m0 0.8m0.8 0v-0.7m0 0.7m0.8 0v-0.9m0 0.9m0.8 0v-0.5m0 0.5" fill="none" stroke="#26245e" stroke-width="0.8"/><line x1="237.4" y1="407.6" x2="343.4" y2="407.6" stroke="#26245e" stroke-width="0.8"/>
<line x1="222.20" y1="408.48" x2="344.40" y2="408.48" stroke="#444" stroke-width="0.9"/>
<text x="224.50" y="417.10" font-size="7.6" stroke="#2b2b2b" textLength="9" lengthAdjust="spacingAndGlyphs">C3</text>
<path d="M237.9 419.2v-1m0 1m0.8 0v-0.7m0 0.7m0.8 0v-0.6m0 0.6m0.8 0v-0.8m0 0.8m0.8 0v-1m0 1m0.8 0v-0.6m0 0.6m0.8 0v-0.4m0 0.4m0.8 0v-0.5m0 0.5m0.8 0v-0.4m0 0.4m0.8 0v-0.7m0 0.7m0.8 0v-0.6m0 0.6m0.8 0v-0.9m0 0.9m0.8 0v-0.5m0 0.5m0.8 0v-0.4m0 0.4m0.8 0v-0.7m0 0.7m0.8 0v-0.8m0 0.8m0.8 0v-3.8m0 3.8m0.8 0v-4.9m0 4.9m0.8 0v-1.1m0 1.1m0.8 0v-1.4m0 1.4m0.8 0v-0.7m0 0.7m0.8 0v-0.4m0 0.4m0.8 0v-0.8m0 0.8m0.8 0v-0.5m0 0.5m0.8 0v-0.6m0 0.6m0.8 0v-1.4m0 1.4m0.8 0v-5.2m0 5.2m0.8 0v-5.5m0 5.5m0.8 0v-3.5m0 3.5m0.8 0v-1.1m0 1.1m0.8 0v-4.3m0 4.3m0.8 0v-1.5m0 1.5m0.8 0v-2.8m0 2.8m0.8 0v-2.8m0 2.8m0.8 0v-1.6m0 1.6m0.8 0v-0.9m0 0.9m0.8 0v-4.3m0 4.3m0.8 0v-4.9m0 4.9m0.8 0v-1m0 1m0.8 0v-1.5m0 1.5m0.8 0v-0.8m0 0.8m0.8 0v-0.8m0 0.8m0.8 0v-1.4m0 1.4m0.8 0v-7.9m0 7.9m0.8 0v-8m0 8m0.8 0v-0.8m0 0.8m0.8 0v-0.6m0 0.6m0.8 0v-0.4m0 0.4m0.8 0v-0.5m0 0.5m0.8 0v-0.7m0 0.7m0.8 0v-0.5m0 0.5m0.8 0v-0.8m0 0.8m0.8 0v-0.6m0 0.6m0.8 0v-0.6m0 0.6m0.8 0v-1m0 1m0.8 0v-0.5m0 0.5m0.8 0v-0.9m0 0.9m0.8 0v-0.7m0 0.7m0.8 0v-0.8m0 0.8m0.8 0v-0.5m0 0.5m0.8 0v-0.8m0 0.8m0.8 0v-0.9m0 0.9m0.8 0v-0.5m0 0.5m0.8 0v-0.7m0 0.7m0.8 0v-0.8m0 0.8m0.8 0v-0.7m0 0.7m0.8 0v-0.9m0 0.9m0.8 0v-0.8m0 0.8m0.8 0v-1.3m0 1.3m0.8 0v-4.4m0 4.4m0.8 0v-1m0 1m0.8 0v-0.9m0 0.9m0.8 0v-0.9m0 0.9m0.8 0v-0.8m0 0.8m0.8 0v-0.4m0 0.4m0.8 0v-0.7m0 0.7m0.8 0v-0.8m0 0.8m0.8 0v-0.7m0 0.7m0.8 0v-0.5m0 0.5m0.8 0v-0.8m0 0.8m0.8 0v-0.8m0 0.8m0.8 0v-1m0 1m0.8 0v-2.4m0 2.4m0.8 0v-3m0 3m0.8 0v-2.8m0 2.8m0.8 0v-3.3m0 3.3m0.8 0v-1m0 1m0.8 0v-1m0 1m0.8 0v-0.5m0 0.5m0.8 0v-1m0 1m0.8 0v-0.6m0 0.6m0.8 0v-1.6m0 1.6m0.8 0v-1.9m0 1.9m0.8 0v-1m0 1m0.8 0v-0.8m0 0.8m0.8 0v-0.8m0 0.8m0.8 0v-0.9m0 0.9m0.8 0v-0.4m0 0.4m0.8 0v-0.9m0 0.9m0.8 0v-0.7m0 0.7m0.8 0v-0.4m0 0.4m0.8 0v-0.9m0 0.9m0.8 0v-0.9m0 0.9m0.8 0v-0.6m0 0.6m0.8 0v-0.7m0 0.7m0.8 0v-0.6m0 0.6m0.8 0v-0.4m0 0.4m0.8 0v-0.8m0 0.8m0.8 0v-0.5m0 0.5m0.8 0v-0.5m0 0.5m0.8 0v-0.9m0 0.9m0.8 0v-0.5m0 0.5m0.8 0v-0.9m0 0.9m0.8 0v-0.9m0 0.9m0.8 0v-0.6m0 0.6m0.8 0v-0.6m0 0.6m0.8 0v-0.5m0 0.5m0.8 0v-1m0 1m0.8 0v-1.7m0 1.7m0.8 0v-0.6m0 0.6m0.8 0v-0.6m0 0.6m0.8 0v-0.8m0 0.8m0.8 0v-0.6m0 0.6m0.8 0v-1m0 1m0.8 0v-0.8m0 0.8m0.8 0v-0.5m0 0.5m0.8 0v-1.1m0 1.1m0.8 0v-1m0 1m0.8 0v-4.7m0 4.7m0.8 0v-1m0 1m0.8 0v-0.9m0 0.9m0.8 0v-0.6m0 0.6" fill="none" stroke="#2e7d3a" stroke-width="0.8"/><line x1="237.4" y1="419.2" x2="343.4" y2="419.2" stroke="#2e7d3a" stroke-width="0.8"/>
<line x1="222.20" y1="420.12" x2="344.40" y2="420.12" stroke="#444" stroke-width="0.9"/>
<text x="224.50" y="428.74" font-size="7.6" stroke="#2b2b2b" textLength="9" lengthAdjust="spacingAndGlyphs">C4</text>
<path d="M237.9 430.9v-0.6m0 0.6m0.8 0v-0.5m0 0.5m0.8 0v-0.6m0 0.6m0.8 0v-0.4m0 0.4m0.8 0v-0.4m0 0.4m0.8 0v-0.5m0 0.5m0.8 0v-0.5m0 0.5m0.8 0v-0.5m0 0.5m0.8 0v-0.5m0 0.5m0.8 0v-0.5m0 0.5m0.8 0v-0.6m0 0.6m0.8 0v-0.6m0 0.6m0.8 0v-0.6m0 0.6m0.8 0v-0.5m0 0.5m0.8 0v-0.5m0 0.5m0.8 0v-0.4m0 0.4m0.8 0v-0.8m0 0.8m0.8 0v-0.9m0 0.9m0.8 0v-0.4m0 0.4m0.8 0v-0.4m0 0.4m0.8 0v-0.6m0 0.6m0.8 0v-0.4m0 0.4m0.8 0v-0.4m0 0.4m0.8 0v-0.6m0 0.6m0.8 0v-0.7m0 0.7m0.8 0v-0.6m0 0.6m0.8 0v-2.5m0 2.5m0.8 0v-2.2m0 2.2m0.8 0v-1.9m0 1.9m0.8 0v-0.6m0 0.6m0.8 0v-2.8m0 2.8m0.8 0v-0.9m0 0.9m0.8 0v-0.7m0 0.7m0.8 0v-0.7m0 0.7m0.8 0v-0.4m0 0.4m0.8 0v-0.7m0 0.7m0.8 0v-2.8m0 2.8m0.8 0v-2.8m0 2.8m0.8 0v-0.6m0 0.6m0.8 0v-0.9m0 0.9m0.8 0v-0.5m0 0.5m0.8 0v-0.6m0 0.6m0.8 0v-0.4m0 0.4m0.8 0v-0.9m0 0.9m0.8 0v-0.9m0 0.9m0.8 0v-0.5m0 0.5m0.8 0v-0.6m0 0.6m0.8 0v-0.5m0 0.5m0.8 0v-0.5m0 0.5m0.8 0v-0.6m0 0.6m0.8 0v-0.4m0 0.4m0.8 0v-0.4m0 0.4m0.8 0v-0.6m0 0.6m0.8 0v-0.6m0 0.6m0.8 0v-0.6m0 0.6m0.8 0v-0.6m0 0.6m0.8 0v-0.6m0 0.6m0.8 0v-0.6m0 0.6m0.8 0v-0.5m0 0.5m0.8 0v-0.4m0 0.4m0.8 0v-0.5m0 0.5m0.8 0v-0.5m0 0.5m0.8 0v-0.6m0 0.6m0.8 0v-0.5m0 0.5m0.8 0v-0.4m0 0.4m0.8 0v-0.4m0 0.4m0.8 0v-0.4m0 0.4m0.8 0v-0.6m0 0.6m0.8 0v-0.5m0 0.5m0.8 0v-0.8m0 0.8m0.8 0v-0.5m0 0.5m0.8 0v-0.6m0 0.6m0.8 0v-0.5m0 0.5m0.8 0v-0.4m0 0.4m0.8 0v-0.5m0 0.5m0.8 0v-0.5m0 0.5m0.8 0v-0.5m0 0.5m0.8 0v-0.6m0 0.6m0.8 0v-0.5m0 0.5m0.8 0v-0.5m0 0.5m0.8 0v-0.6m0 0.6m0.8 0v-0.6m0 0.6m0.8 0v-1.9m0 1.9m0.8 0v-1.6m0 1.6m0.8 0v-2.7m0 2.7m0.8 0v-2.4m0 2.4m0.8 0v-0.4m0 0.4m0.8 0v-0.4m0 0.4m0.8 0v-0.6m0 0.6m0.8 0v-0.5m0 0.5m0.8 0v-0.6m0 0.6m0.8 0v-0.8m0 0.8m0.8 0v-0.9m0 0.9m0.8 0v-0.6m0 0.6m0.8 0v-0.5m0 0.5m0.8 0v-0.8m0 0.8m0.8 0v-1m0 1m0.8 0v-0.5m0 0.5m0.8 0v-0.4m0 0.4m0.8 0v-0.5m0 0.5m0.8 0v-0.5m0 0.5m0.8 0v-0.4m0 0.4m0.8 0v-0.5m0 0.5m0.8 0v-0.5m0 0.5m0.8 0v-0.4m0 0.4m0.8 0v-0.5m0 0.5m0.8 0v-0.4m0 0.4m0.8 0v-0.4m0 0.4m0.8 0v-0.6m0 0.6m0.8 0v-0.5m0 0.5m0.8 0v-0.5m0 0.5m0.8 0v-0.5m0 0.5m0.8 0v-0.6m0 0.6m0.8 0v-0.6m0 0.6m0.8 0v-0.6m0 0.6m0.8 0v-0.6m0 0.6m0.8 0v-0.5m0 0.5m0.8 0v-0.4m0 0.4m0.8 0v-0.8m0 0.8m0.8 0v-0.5m0 0.5m0.8 0v-0.6m0 0.6m0.8 0v-0.5m0 0.5m0.8 0v-0.6m0 0.6m0.8 0v-0.6m0 0.6m0.8 0v-0.6m0 0.6m0.8 0v-0.5m0 0.5m0.8 0v-0.5m0 0.5m0.8 0v-0.6m0 0.6m0.8 0v-0.8m0 0.8m0.8 0v-0.5m0 0.5m0.8 0v-0.5m0 0.5m0.8 0v-0.5m0 0.5" fill="none" stroke="#6a1f7a" stroke-width="0.8"/><line x1="237.4" y1="430.9" x2="343.4" y2="430.9" stroke="#6a1f7a" stroke-width="0.8"/>
<line x1="222.20" y1="431.76" x2="344.40" y2="431.76" stroke="#444" stroke-width="0.9"/>
<text x="224.50" y="440.38" font-size="7.6" stroke="#2b2b2b" textLength="9" lengthAdjust="spacingAndGlyphs">C6</text>
<path d="M237.9 442.5v-0.5m0 0.5m0.8 0v-0.5m0 0.5m0.8 0v-0.5m0 0.5m0.8 0v-0.5m0 0.5m0.8 0v-0.4m0 0.4m0.8 0v-0.4m0 0.4m0.8 0v-0.6m0 0.6m0.8 0v-0.6m0 0.6m0.8 0v-0.5m0 0.5m0.8 0v-0.4m0 0.4m0.8 0v-0.4m0 0.4m0.8 0v-0.5m0 0.5m0.8 0v-0.5m0 0.5m0.8 0v-0.6m0 0.6m0.8 0v-0.6m0 0.6m0.8 0v-0.5m0 0.5m0.8 0v-0.6m0 0.6m0.8 0v-0.4m0 0.4m0.8 0v-0.4m0 0.4m0.8 0v-0.6m0 0.6m0.8 0v-0.5m0 0.5m0.8 0v-0.6m0 0.6m0.8 0v-0.6m0 0.6m0.8 0v-0.6m0 0.6m0.8 0v-0.9m0 0.9m0.8 0v-0.5m0 0.5m0.8 0v-2.8m0 2.8m0.8 0v-2.8m0 2.8m0.8 0v-0.5m0 0.5m0.8 0v-0.5m0 0.5m0.8 0v-0.4m0 0.4m0.8 0v-0.5m0 0.5m0.8 0v-0.5m0 0.5m0.8 0v-0.6m0 0.6m0.8 0v-0.6m0 0.6m0.8 0v-0.5m0 0.5m0.8 0v-0.6m0 0.6m0.8 0v-0.5m0 0.5m0.8 0v-0.5m0 0.5m0.8 0v-0.6m0 0.6m0.8 0v-0.4m0 0.4m0.8 0v-0.4m0 0.4m0.8 0v-0.4m0 0.4m0.8 0v-0.4m0 0.4m0.8 0v-0.5m0 0.5m0.8 0v-0.6m0 0.6m0.8 0v-0.5m0 0.5m0.8 0v-0.6m0 0.6m0.8 0v-0.4m0 0.4m0.8 0v-0.4m0 0.4m0.8 0v-0.5m0 0.5m0.8 0v-0.5m0 0.5m0.8 0v-0.6m0 0.6m0.8 0v-0.4m0 0.4m0.8 0v-0.4m0 0.4m0.8 0v-0.5m0 0.5m0.8 0v-0.5m0 0.5m0.8 0v-0.4m0 0.4m0.8 0v-0.5m0 0.5m0.8 0v-0.4m0 0.4m0.8 0v-0.4m0 0.4m0.8 0v-0.6m0 0.6m0.8 0v-0.5m0 0.5m0.8 0v-0.6m0 0.6m0.8 0v-0.5m0 0.5m0.8 0v-0.6m0 0.6m0.8 0v-0.6m0 0.6m0.8 0v-0.4m0 0.4m0.8 0v-0.6m0 0.6m0.8 0v-0.4m0 0.4m0.8 0v-0.6m0 0.6m0.8 0v-0.6m0 0.6m0.8 0v-0.4m0 0.4m0.8 0v-0.6m0 0.6m0.8 0v-0.6m0 0.6m0.8 0v-0.4m0 0.4m0.8 0v-0.5m0 0.5m0.8 0v-0.5m0 0.5m0.8 0v-0.4m0 0.4m0.8 0v-0.5m0 0.5m0.8 0v-0.6m0 0.6m0.8 0v-0.5m0 0.5m0.8 0v-0.6m0 0.6m0.8 0v-0.6m0 0.6m0.8 0v-0.9m0 0.9m0.8 0v-0.9m0 0.9m0.8 0v-0.5m0 0.5m0.8 0v-0.6m0 0.6m0.8 0v-0.4m0 0.4m0.8 0v-0.6m0 0.6m0.8 0v-0.6m0 0.6m0.8 0v-0.5m0 0.5m0.8 0v-0.5m0 0.5m0.8 0v-0.6m0 0.6m0.8 0v-0.5m0 0.5m0.8 0v-0.6m0 0.6m0.8 0v-0.6m0 0.6m0.8 0v-0.6m0 0.6m0.8 0v-0.4m0 0.4m0.8 0v-0.6m0 0.6m0.8 0v-0.5m0 0.5m0.8 0v-0.5m0 0.5m0.8 0v-0.6m0 0.6m0.8 0v-0.6m0 0.6m0.8 0v-0.5m0 0.5m0.8 0v-0.6m0 0.6m0.8 0v-0.6m0 0.6m0.8 0v-0.6m0 0.6m0.8 0v-0.5m0 0.5m0.8 0v-0.6m0 0.6m0.8 0v-0.6m0 0.6m0.8 0v-0.5m0 0.5m0.8 0v-0.5m0 0.5m0.8 0v-0.4m0 0.4m0.8 0v-0.6m0 0.6m0.8 0v-0.6m0 0.6m0.8 0v-0.5m0 0.5m0.8 0v-0.6m0 0.6m0.8 0v-0.6m0 0.6m0.8 0v-0.6m0 0.6m0.8 0v-0.6m0 0.6m0.8 0v-0.5m0 0.5m0.8 0v-0.5m0 0.5m0.8 0v-0.4m0 0.4m0.8 0v-0.6m0 0.6m0.8 0v-0.4m0 0.4m0.8 0v-0.4m0 0.4m0.8 0v-0.5m0 0.5m0.8 0v-0.6m0 0.6m0.8 0v-0.4m0 0.4m0.8 0v-0.6m0 0.6m0.8 0v-0.4m0 0.4" fill="none" stroke="#e8c020" stroke-width="0.8"/><line x1="237.4" y1="442.5" x2="343.4" y2="442.5" stroke="#e8c020" stroke-width="0.8"/>
<line x1="222.20" y1="443.40" x2="344.40" y2="443.40" stroke="#444" stroke-width="0.9"/>
<text x="224.50" y="452.02" font-size="7.6" stroke="#2b2b2b" textLength="9" lengthAdjust="spacingAndGlyphs">C7</text>
<path d="M237.9 454.1v-0.5m0 0.5m0.8 0v-0.5m0 0.5m0.8 0v-0.4m0 0.4m0.8 0v-0.6m0 0.6m0.8 0v-0.6m0 0.6m0.8 0v-0.6m0 0.6m0.8 0v-0.6m0 0.6m0.8 0v-0.6m0 0.6m0.8 0v-0.5m0 0.5m0.8 0v-0.6m0 0.6m0.8 0v-0.6m0 0.6m0.8 0v-0.4m0 0.4m0.8 0v-0.4m0 0.4m0.8 0v-0.6m0 0.6m0.8 0v-0.4m0 0.4m0.8 0v-0.6m0 0.6m0.8 0v-0.5m0 0.5m0.8 0v-0.6m0 0.6m0.8 0v-0.4m0 0.4m0.8 0v-0.5m0 0.5m0.8 0v-0.5m0 0.5m0.8 0v-0.6m0 0.6m0.8 0v-0.5m0 0.5m0.8 0v-0.5m0 0.5m0.8 0v-0.6m0 0.6m0.8 0v-0.5m0 0.5m0.8 0v-1.8m0 1.8m0.8 0v-1.7m0 1.7m0.8 0v-0.6m0 0.6m0.8 0v-0.4m0 0.4m0.8 0v-0.5m0 0.5m0.8 0v-0.5m0 0.5m0.8 0v-0.6m0 0.6m0.8 0v-0.6m0 0.6m0.8 0v-0.5m0 0.5m0.8 0v-0.6m0 0.6m0.8 0v-1.3m0 1.3m0.8 0v-1.5m0 1.5m0.8 0v-0.6m0 0.6m0.8 0v-0.6m0 0.6m0.8 0v-0.6m0 0.6m0.8 0v-0.5m0 0.5m0.8 0v-0.5m0 0.5m0.8 0v-0.6m0 0.6m0.8 0v-0.6m0 0.6m0.8 0v-0.4m0 0.4m0.8 0v-0.6m0 0.6m0.8 0v-0.5m0 0.5m0.8 0v-0.4m0 0.4m0.8 0v-0.5m0 0.5m0.8 0v-0.4m0 0.4m0.8 0v-0.4m0 0.4m0.8 0v-0.5m0 0.5m0.8 0v-0.6m0 0.6m0.8 0v-0.6m0 0.6m0.8 0v-0.6m0 0.6m0.8 0v-0.6m0 0.6m0.8 0v-0.5m0 0.5m0.8 0v-0.4m0 0.4m0.8 0v-0.5m0 0.5m0.8 0v-0.4m0 0.4m0.8 0v-0.5m0 0.5m0.8 0v-0.5m0 0.5m0.8 0v-0.5m0 0.5m0.8 0v-0.5m0 0.5m0.8 0v-0.4m0 0.4m0.8 0v-0.5m0 0.5m0.8 0v-0.6m0 0.6m0.8 0v-0.6m0 0.6m0.8 0v-0.5m0 0.5m0.8 0v-0.6m0 0.6m0.8 0v-0.6m0 0.6m0.8 0v-0.5m0 0.5m0.8 0v-0.4m0 0.4m0.8 0v-0.5m0 0.5m0.8 0v-0.4m0 0.4m0.8 0v-0.5m0 0.5m0.8 0v-0.5m0 0.5m0.8 0v-0.5m0 0.5m0.8 0v-0.4m0 0.4m0.8 0v-0.5m0 0.5m0.8 0v-0.5m0 0.5m0.8 0v-0.6m0 0.6m0.8 0v-0.6m0 0.6m0.8 0v-1.6m0 1.6m0.8 0v-1.7m0 1.7m0.8 0v-0.6m0 0.6m0.8 0v-0.5m0 0.5m0.8 0v-0.5m0 0.5m0.8 0v-0.6m0 0.6m0.8 0v-0.5m0 0.5m0.8 0v-0.5m0 0.5m0.8 0v-0.6m0 0.6m0.8 0v-0.6m0 0.6m0.8 0v-0.6m0 0.6m0.8 0v-0.6m0 0.6m0.8 0v-0.5m0 0.5m0.8 0v-0.5m0 0.5m0.8 0v-0.6m0 0.6m0.8 0v-0.6m0 0.6m0.8 0v-0.4m0 0.4m0.8 0v-0.4m0 0.4m0.8 0v-0.4m0 0.4m0.8 0v-0.5m0 0.5m0.8 0v-0.5m0 0.5m0.8 0v-0.5m0 0.5m0.8 0v-0.6m0 0.6m0.8 0v-0.4m0 0.4m0.8 0v-0.6m0 0.6m0.8 0v-0.5m0 0.5m0.8 0v-0.5m0 0.5m0.8 0v-0.5m0 0.5m0.8 0v-0.5m0 0.5m0.8 0v-0.5m0 0.5m0.8 0v-0.4m0 0.4m0.8 0v-0.5m0 0.5m0.8 0v-0.4m0 0.4m0.8 0v-0.5m0 0.5m0.8 0v-0.6m0 0.6m0.8 0v-0.4m0 0.4m0.8 0v-0.5m0 0.5m0.8 0v-0.6m0 0.6m0.8 0v-0.6m0 0.6m0.8 0v-0.6m0 0.6m0.8 0v-0.6m0 0.6m0.8 0v-0.5m0 0.5m0.8 0v-0.5m0 0.5m0.8 0v-0.5m0 0.5m0.8 0v-0.6m0 0.6m0.8 0v-0.5m0 0.5m0.8 0v-0.6m0 0.6m0.8 0v-0.4m0 0.4" fill="none" stroke="#3a5aa8" stroke-width="0.8"/><line x1="237.4" y1="454.1" x2="343.4" y2="454.1" stroke="#3a5aa8" stroke-width="0.8"/>
<line x1="222.20" y1="455.04" x2="344.40" y2="455.04" stroke="#444" stroke-width="0.9"/>
<text x="224.50" y="463.66" font-size="7.6" stroke="#2b2b2b" textLength="9" lengthAdjust="spacingAndGlyphs">C8</text>
<path d="M237.9 465.8v-0.5m0 0.5m0.8 0v-0.6m0 0.6m0.8 0v-0.4m0 0.4m0.8 0v-0.6m0 0.6m0.8 0v-0.6m0 0.6m0.8 0v-0.6m0 0.6m0.8 0v-0.4m0 0.4m0.8 0v-0.5m0 0.5m0.8 0v-0.4m0 0.4m0.8 0v-0.6m0 0.6m0.8 0v-0.5m0 0.5m0.8 0v-0.4m0 0.4m0.8 0v-0.5m0 0.5m0.8 0v-0.5m0 0.5m0.8 0v-0.6m0 0.6m0.8 0v-0.4m0 0.4m0.8 0v-0.5m0 0.5m0.8 0v-0.5m0 0.5m0.8 0v-0.5m0 0.5m0.8 0v-0.4m0 0.4m0.8 0v-0.6m0 0.6m0.8 0v-0.6m0 0.6m0.8 0v-0.6m0 0.6m0.8 0v-0.4m0 0.4m0.8 0v-0.6m0 0.6m0.8 0v-0.6m0 0.6m0.8 0v-1.2m0 1.2m0.8 0v-1.2m0 1.2m0.8 0v-0.5m0 0.5m0.8 0v-0.4m0 0.4m0.8 0v-0.6m0 0.6m0.8 0v-0.5m0 0.5m0.8 0v-0.6m0 0.6m0.8 0v-0.5m0 0.5m0.8 0v-0.6m0 0.6m0.8 0v-0.6m0 0.6m0.8 0v-0.8m0 0.8m0.8 0v-0.8m0 0.8m0.8 0v-0.6m0 0.6m0.8 0v-0.6m0 0.6m0.8 0v-0.5m0 0.5m0.8 0v-0.4m0 0.4m0.8 0v-0.5m0 0.5m0.8 0v-0.5m0 0.5m0.8 0v-0.5m0 0.5m0.8 0v-0.5m0 0.5m0.8 0v-0.6m0 0.6m0.8 0v-0.5m0 0.5m0.8 0v-0.5m0 0.5m0.8 0v-0.5m0 0.5m0.8 0v-0.6m0 0.6m0.8 0v-0.6m0 0.6m0.8 0v-0.6m0 0.6m0.8 0v-0.4m0 0.4m0.8 0v-0.6m0 0.6m0.8 0v-0.5m0 0.5m0.8 0v-0.6m0 0.6m0.8 0v-0.5m0 0.5m0.8 0v-0.4m0 0.4m0.8 0v-0.5m0 0.5m0.8 0v-0.6m0 0.6m0.8 0v-0.4m0 0.4m0.8 0v-0.5m0 0.5m0.8 0v-0.5m0 0.5m0.8 0v-0.4m0 0.4m0.8 0v-0.4m0 0.4m0.8 0v-0.5m0 0.5m0.8 0v-0.5m0 0.5m0.8 0v-0.5m0 0.5m0.8 0v-0.5m0 0.5m0.8 0v-0.6m0 0.6m0.8 0v-0.6m0 0.6m0.8 0v-0.6m0 0.6m0.8 0v-0.6m0 0.6m0.8 0v-0.4m0 0.4m0.8 0v-0.5m0 0.5m0.8 0v-0.5m0 0.5m0.8 0v-0.5m0 0.5m0.8 0v-0.6m0 0.6m0.8 0v-0.5m0 0.5m0.8 0v-0.5m0 0.5m0.8 0v-0.6m0 0.6m0.8 0v-0.4m0 0.4m0.8 0v-0.6m0 0.6m0.8 0v-1.3m0 1.3m0.8 0v-1.2m0 1.2m0.8 0v-0.5m0 0.5m0.8 0v-0.6m0 0.6m0.8 0v-0.6m0 0.6m0.8 0v-0.4m0 0.4m0.8 0v-0.6m0 0.6m0.8 0v-0.5m0 0.5m0.8 0v-0.5m0 0.5m0.8 0v-0.6m0 0.6m0.8 0v-0.5m0 0.5m0.8 0v-0.4m0 0.4m0.8 0v-0.5m0 0.5m0.8 0v-0.5m0 0.5m0.8 0v-0.4m0 0.4m0.8 0v-0.5m0 0.5m0.8 0v-0.5m0 0.5m0.8 0v-0.5m0 0.5m0.8 0v-0.4m0 0.4m0.8 0v-0.5m0 0.5m0.8 0v-0.6m0 0.6m0.8 0v-0.6m0 0.6m0.8 0v-0.6m0 0.6m0.8 0v-0.6m0 0.6m0.8 0v-0.5m0 0.5m0.8 0v-0.5m0 0.5m0.8 0v-0.4m0 0.4m0.8 0v-0.6m0 0.6m0.8 0v-0.6m0 0.6m0.8 0v-0.4m0 0.4m0.8 0v-0.6m0 0.6m0.8 0v-0.6m0 0.6m0.8 0v-0.4m0 0.4m0.8 0v-0.6m0 0.6m0.8 0v-0.5m0 0.5m0.8 0v-0.4m0 0.4m0.8 0v-0.5m0 0.5m0.8 0v-0.5m0 0.5m0.8 0v-0.6m0 0.6m0.8 0v-0.6m0 0.6m0.8 0v-0.6m0 0.6m0.8 0v-0.5m0 0.5m0.8 0v-0.5m0 0.5m0.8 0v-0.4m0 0.4m0.8 0v-0.5m0 0.5m0.8 0v-0.5m0 0.5m0.8 0v-0.5m0 0.5m0.8 0v-0.6m0 0.6" fill="none" stroke="#8a2a8a" stroke-width="0.8"/><line x1="237.4" y1="465.8" x2="343.4" y2="465.8" stroke="#8a2a8a" stroke-width="0.8"/>
<rect x="236.40" y="471.90" width="108.00" height="6.50" fill="#fff" stroke="#444" stroke-width="0.9"/>
<text x="232.90" y="477.75" font-size="7.4" text-anchor="end" stroke="#2b2b2b" textLength="17.5" lengthAdjust="spacingAndGlyphs">Peaks</text>
<rect x="236.40" y="480.70" width="108.00" height="22.60" fill="#fff" stroke="#444" stroke-width="0.9"/>
<text x="232.90" y="494.60" font-size="7.4" text-anchor="end" stroke="#2b2b2b" textLength="19.5" lengthAdjust="spacingAndGlyphs">Genes</text>
<line x1="242.50" y1="473.30" x2="242.50" y2="477.20" stroke="#d05a6a" stroke-width="0.6"/>
<line x1="247.40" y1="473.30" x2="247.40" y2="477.20" stroke="#d05a6a" stroke-width="0.6"/>
<line x1="250.70" y1="473.30" x2="250.70" y2="477.20" stroke="#d05a6a" stroke-width="0.6"/>
<line x1="257.20" y1="473.30" x2="257.20" y2="477.20" stroke="#d05a6a" stroke-width="0.6"/>
<line x1="260.50" y1="473.30" x2="260.50" y2="477.20" stroke="#d05a6a" stroke-width="0.6"/>
<line x1="263.70" y1="473.30" x2="263.70" y2="477.20" stroke="#d05a6a" stroke-width="0.6"/>
<line x1="268.60" y1="473.30" x2="268.60" y2="477.20" stroke="#d05a6a" stroke-width="0.6"/>
<line x1="270.30" y1="473.30" x2="270.30" y2="477.20" stroke="#d05a6a" stroke-width="0.6"/>
<line x1="291.50" y1="473.30" x2="291.50" y2="477.20" stroke="#d05a6a" stroke-width="0.6"/>
<line x1="294.80" y1="473.30" x2="294.80" y2="477.20" stroke="#d05a6a" stroke-width="0.6"/>
<line x1="302.90" y1="473.30" x2="302.90" y2="477.20" stroke="#d05a6a" stroke-width="0.6"/>
<line x1="305.20" y1="473.30" x2="305.20" y2="477.20" stroke="#d05a6a" stroke-width="0.6"/>
<line x1="312.70" y1="473.30" x2="312.70" y2="477.20" stroke="#d05a6a" stroke-width="0.6"/>
<line x1="330.70" y1="473.30" x2="330.70" y2="477.20" stroke="#d05a6a" stroke-width="0.6"/>
<line x1="337.30" y1="473.30" x2="337.30" y2="477.20" stroke="#d05a6a" stroke-width="0.6"/>
<line x1="236.40" y1="480.50" x2="344.40" y2="480.50" stroke="#9a9a9a" stroke-width="1.4"/>
<rect x="252.00" y="482.80" width="19.80" height="6.00" fill="#fff" stroke="#d33" stroke-width="0.7" rx="1.5"/>
<text x="261.90" y="487.80" font-size="5.4" text-anchor="middle" fill="#c22" stroke="#c22" font-style="italic" textLength="14.5" lengthAdjust="spacingAndGlyphs">IL18R1</text>
<line x1="271.80" y1="486.20" x2="334.70" y2="486.20" stroke="#d62020" stroke-width="1"/>
<rect x="333.70" y="484.40" width="2.00" height="3.60" fill="#c81818"/>
<line x1="292.00" y1="485.00" x2="292.00" y2="487.40" stroke="#d62020" stroke-width="0.7"/>
<line x1="295.00" y1="485.00" x2="295.00" y2="487.40" stroke="#d62020" stroke-width="0.7"/>
<line x1="298.00" y1="485.00" x2="298.00" y2="487.40" stroke="#d62020" stroke-width="0.7"/>
<rect x="252.00" y="492.60" width="19.80" height="6.00" fill="#fff" stroke="#d33" stroke-width="0.7" rx="1.5"/>
<text x="261.90" y="497.60" font-size="5.4" text-anchor="middle" fill="#c22" stroke="#c22" font-style="italic" textLength="14.5" lengthAdjust="spacingAndGlyphs">IL1RL1</text>
<line x1="271.80" y1="495.50" x2="301.50" y2="495.50" stroke="#d62020" stroke-width="1"/>
<circle cx="296" cy="495.5" r="1.6" fill="#c81818"/>
<circle cx="292.5" cy="495.5" r="1.0" fill="#c81818"/>
<line x1="301.50" y1="494.00" x2="301.50" y2="497.00" stroke="#d62020" stroke-width="0.7"/>
<text x="290.60" y="525.10" font-size="7.6" text-anchor="middle" stroke="#2b2b2b" textLength="93.5" lengthAdjust="spacingAndGlyphs">chr1:146,129,025–146,279,026</text>
<rect x="222.50" y="529.00" width="122.20" height="88.27" fill="#fff" stroke="#444" stroke-width="0.9"/>
<line x1="237.30" y1="529.00" x2="237.30" y2="617.27" stroke="#444" stroke-width="0.9"/>
<text x="224.80" y="538.10" font-size="7.6" stroke="#2b2b2b" textLength="9" lengthAdjust="spacingAndGlyphs">C1</text>
<line x1="263.1" y1="540.7" x2="327.5" y2="540.7" stroke="#c8202a" stroke-width="1"/><line x1="263.7" y1="541.1" x2="263.7" y2="535.7" stroke="#c8202a" stroke-width="1.1"/><line x1="270.4" y1="541.1" x2="270.4" y2="536.7" stroke="#c8202a" stroke-width="1.1"/><line x1="277.6" y1="541.1" x2="277.6" y2="532.7" stroke="#c8202a" stroke-width="1.1"/><line x1="288.3" y1="541.1" x2="288.3" y2="536.7" stroke="#c8202a" stroke-width="1.1"/><line x1="308.8" y1="541.1" x2="308.8" y2="528.7" stroke="#c8202a" stroke-width="1.1"/><line x1="326.9" y1="541.1" x2="326.9" y2="536.7" stroke="#c8202a" stroke-width="1.1"/>
<line x1="222.50" y1="541.61" x2="344.70" y2="541.61" stroke="#444" stroke-width="0.9"/>
<text x="224.80" y="550.71" font-size="7.6" stroke="#2b2b2b" textLength="9" lengthAdjust="spacingAndGlyphs">C2</text>
<line x1="248.0" y1="553.3" x2="308.9" y2="553.3" stroke="#26245e" stroke-width="1"/><line x1="248.5" y1="553.7" x2="248.5" y2="549.3" stroke="#26245e" stroke-width="1.1"/><line x1="254.9" y1="553.7" x2="254.9" y2="549.3" stroke="#26245e" stroke-width="1.1"/><line x1="270.4" y1="553.7" x2="270.4" y2="549.3" stroke="#26245e" stroke-width="1.1"/><line x1="274.6" y1="553.7" x2="274.6" y2="549.3" stroke="#26245e" stroke-width="1.1"/><line x1="308.8" y1="553.7" x2="308.8" y2="545.3" stroke="#26245e" stroke-width="1.1"/>
<line x1="222.50" y1="554.22" x2="344.70" y2="554.22" stroke="#444" stroke-width="0.9"/>
<text x="224.80" y="563.32" font-size="7.6" stroke="#2b2b2b" textLength="9" lengthAdjust="spacingAndGlyphs">C3</text>
<line x1="263.7" y1="565.9" x2="308.9" y2="565.9" stroke="#2e7d3a" stroke-width="1"/><line x1="263.7" y1="566.3" x2="263.7" y2="557.9" stroke="#2e7d3a" stroke-width="1.1"/><line x1="308.8" y1="566.3" x2="308.8" y2="557.9" stroke="#2e7d3a" stroke-width="1.1"/>
<line x1="222.50" y1="566.83" x2="344.70" y2="566.83" stroke="#444" stroke-width="0.9"/>
<text x="224.80" y="575.93" font-size="7.6" stroke="#2b2b2b" textLength="9" lengthAdjust="spacingAndGlyphs">C4</text>
<line x1="270.4" y1="578.9" x2="270.4" y2="574.5" stroke="#6a1f7a" stroke-width="1.1"/>
<line x1="222.50" y1="579.44" x2="344.70" y2="579.44" stroke="#444" stroke-width="0.9"/>
<text x="224.80" y="588.54" font-size="7.6" stroke="#2b2b2b" textLength="9" lengthAdjust="spacingAndGlyphs">C6</text>
<line x1="269.5" y1="591.2" x2="308.9" y2="591.2" stroke="#e8c020" stroke-width="1"/><line x1="269.5" y1="591.6" x2="269.5" y2="589.7" stroke="#e8c020" stroke-width="1.1"/><line x1="272.7" y1="591.6" x2="272.7" y2="590.2" stroke="#e8c020" stroke-width="1.1"/><line x1="286.7" y1="591.6" x2="286.7" y2="589.7" stroke="#e8c020" stroke-width="1.1"/><line x1="308.2" y1="591.6" x2="308.2" y2="590.2" stroke="#e8c020" stroke-width="1.1"/>
<line x1="222.50" y1="592.05" x2="344.70" y2="592.05" stroke="#444" stroke-width="0.9"/>
<text x="224.80" y="601.15" font-size="7.6" stroke="#2b2b2b" textLength="9" lengthAdjust="spacingAndGlyphs">C7</text>
<line x1="277.6" y1="603.8" x2="308.9" y2="603.8" stroke="#3a5aa8" stroke-width="1"/><line x1="277.6" y1="604.2" x2="277.6" y2="601.3" stroke="#3a5aa8" stroke-width="1.1"/><line x1="308.8" y1="604.2" x2="308.8" y2="595.8" stroke="#3a5aa8" stroke-width="1.1"/>
<line x1="222.50" y1="604.66" x2="344.70" y2="604.66" stroke="#444" stroke-width="0.9"/>
<text x="224.80" y="613.76" font-size="7.6" stroke="#2b2b2b" textLength="9" lengthAdjust="spacingAndGlyphs">C8</text>
<line x1="269.5" y1="616.4" x2="308.9" y2="616.4" stroke="#8a2a8a" stroke-width="1"/><line x1="269.5" y1="616.8" x2="269.5" y2="614.9" stroke="#8a2a8a" stroke-width="1.1"/><line x1="273.8" y1="616.8" x2="273.8" y2="614.9" stroke="#8a2a8a" stroke-width="1.1"/><line x1="308.8" y1="616.8" x2="308.8" y2="612.4" stroke="#8a2a8a" stroke-width="1.1"/>
<rect x="237.30" y="623.40" width="107.40" height="13.30" fill="#fff" stroke="#444" stroke-width="0.9"/>
<text x="233.80" y="632.65" font-size="7.4" text-anchor="end" stroke="#2b2b2b" textLength="17.5" lengthAdjust="spacingAndGlyphs">Peaks</text>
<rect x="237.30" y="638.80" width="107.40" height="11.80" fill="#fff" stroke="#444" stroke-width="0.9"/>
<text x="233.80" y="647.30" font-size="7.4" text-anchor="end" stroke="#2b2b2b" textLength="19.5" lengthAdjust="spacingAndGlyphs">Genes</text>
<line x1="264.40" y1="627.00" x2="264.40" y2="633.00" stroke="#d05a6a" stroke-width="0.6"/>
<line x1="270.30" y1="627.00" x2="270.30" y2="633.00" stroke="#d05a6a" stroke-width="0.6"/>
<line x1="278.40" y1="627.00" x2="278.40" y2="633.00" stroke="#d05a6a" stroke-width="0.6"/>
<line x1="288.90" y1="627.00" x2="288.90" y2="633.00" stroke="#d05a6a" stroke-width="0.6"/>
<line x1="308.80" y1="627.00" x2="308.80" y2="633.00" stroke="#d05a6a" stroke-width="0.6"/>
<line x1="237.30" y1="638.60" x2="344.70" y2="638.60" stroke="#9a9a9a" stroke-width="1.4"/>
<line x1="249.70" y1="644.60" x2="310.50" y2="644.60" stroke="#d62020" stroke-width="1"/>
<circle cx="256.2" cy="644.6" r="1.7" fill="#c81818"/>
<line x1="249.70" y1="643.00" x2="249.70" y2="646.20" stroke="#d62020" stroke-width="0.7"/>
<rect x="310.50" y="641.90" width="32.30" height="5.40" fill="#fff" stroke="#d33" stroke-width="0.7" rx="1.5"/>
<text x="326.60" y="646.30" font-size="4.6" text-anchor="middle" fill="#c22" stroke="#c22" textLength="26" lengthAdjust="spacingAndGlyphs">NOTCH2NLA</text>
<defs><linearGradient id="gZ" x1="0" y1="0" x2="1" y2="0"><stop offset="0.0" stop-color="#2a64b0"/><stop offset="0.2" stop-color="#3a8ad0"/><stop offset="0.33" stop-color="#a0c2d4"/><stop offset="0.5" stop-color="#c2c6be"/><stop offset="0.62" stop-color="#dcbf98"/><stop offset="0.72" stop-color="#f0a040"/><stop offset="0.82" stop-color="#e05a2c"/><stop offset="0.92" stop-color="#c01818"/><stop offset="1.0" stop-color="#8a1010"/></linearGradient></defs>
<rect x="264.00" y="671.80" width="52.00" height="7.00" fill="url(#gZ)"/>
<line x1="264.30" y1="671.80" x2="264.30" y2="681.50" stroke="#333" stroke-width="0.7"/>
<line x1="315.70" y1="671.80" x2="315.70" y2="681.50" stroke="#333" stroke-width="0.7"/>
<text x="264.00" y="690.00" font-size="7.6" text-anchor="middle" stroke="#2b2b2b">−2</text>
<text x="315.00" y="690.00" font-size="7.6" text-anchor="middle" stroke="#2b2b2b">2</text>
<text x="290.80" y="659.70" font-size="7.8" text-anchor="middle" stroke="#2b2b2b" textLength="52" lengthAdjust="spacingAndGlyphs">Peak accessibility</text>
<text x="290.50" y="667.80" font-size="7.8" text-anchor="middle" stroke="#2b2b2b" textLength="39" lengthAdjust="spacingAndGlyphs">(Raw Z score)</text>
<path d="M194.8 376.4 L213 418.5" fill="none" stroke="#888" stroke-width="0.8" stroke-dasharray="1.6 1.6"/>
<polygon points="214,421.2 210.9,416.9 214.6,415.6" fill="#888"/>
<path d="M195.9 452.6 L214.3 508.2" fill="none" stroke="#888" stroke-width="0.8" stroke-dasharray="1.6 1.6"/>
<polygon points="215,511 212.6,506.3 216.3,505.4" fill="#888"/>
<rect x="0.5" y="0.5" width="519" height="706" fill="none" stroke="#4a4a4a" stroke-width="1"/>
</svg></body></html>
